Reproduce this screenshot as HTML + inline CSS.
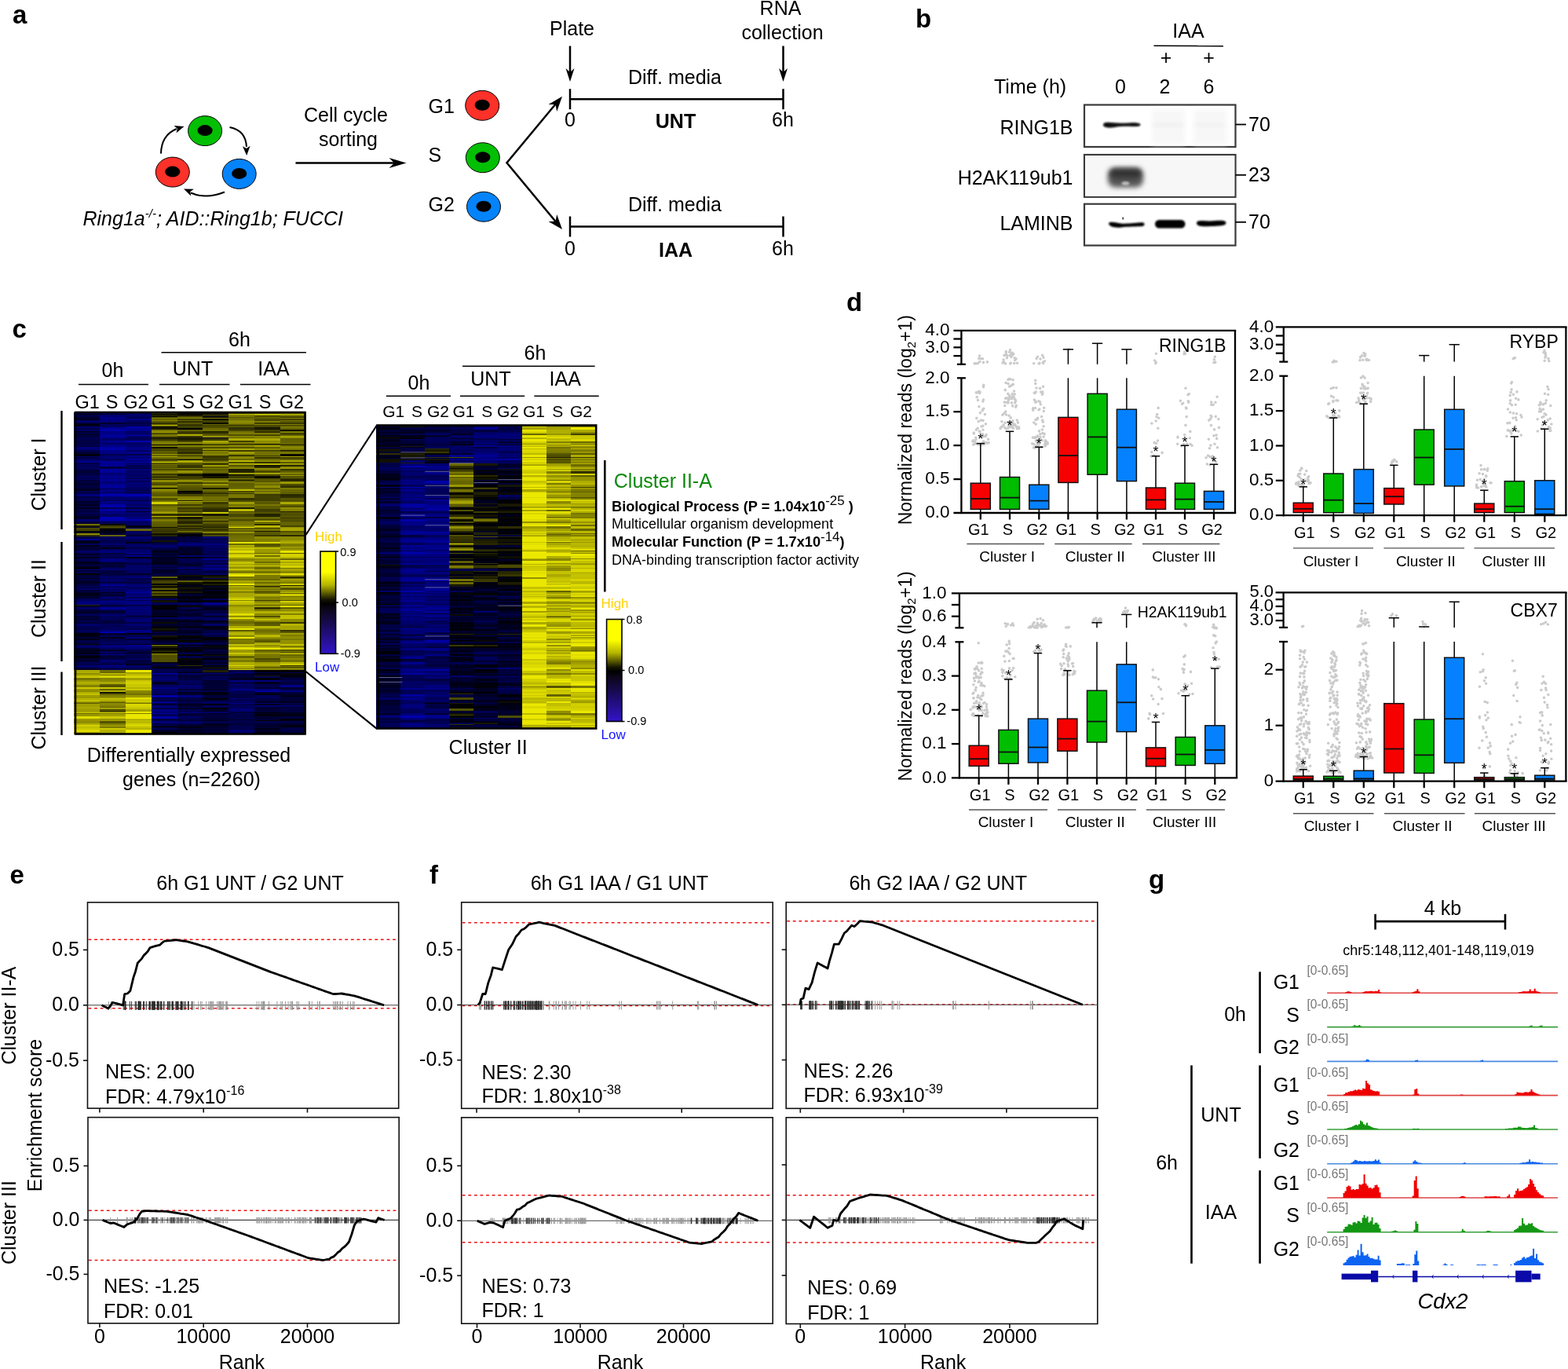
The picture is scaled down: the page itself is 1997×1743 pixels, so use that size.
<!DOCTYPE html>
<html><head><meta charset="utf-8"><title>Figure</title>
<style>
html,body{margin:0;padding:0;background:#fff;}
svg{display:block;}

</style></head><body>
<svg width="1997" height="1743" viewBox="0 0 1997 1743" font-family="'Liberation Sans', Arial, sans-serif" font-size="25">
<rect width="1997" height="1743" fill="#fff"/>
<defs>
<filter id="bl" x="-20%" y="-50%" width="140%" height="200%"><feGaussianBlur stdDeviation="1.3"/></filter>
<filter id="bl2" x="-30%" y="-50%" width="160%" height="200%"><feGaussianBlur stdDeviation="3"/></filter>
<linearGradient id="cb1" x1="0" y1="0" x2="0" y2="1"><stop offset="0" stop-color="#ffff00"/><stop offset="0.2" stop-color="#ffff00"/><stop offset="0.33" stop-color="#b4b400"/><stop offset="0.47" stop-color="#151500"/><stop offset="0.51" stop-color="#000"/><stop offset="0.56" stop-color="#0c0618"/><stop offset="1" stop-color="#3214c8"/></linearGradient>
<linearGradient id="cb2" x1="0" y1="0" x2="0" y2="1"><stop offset="0" stop-color="#ffff00"/><stop offset="0.2" stop-color="#ffff00"/><stop offset="0.33" stop-color="#b4b400"/><stop offset="0.47" stop-color="#151500"/><stop offset="0.51" stop-color="#000"/><stop offset="0.56" stop-color="#0c0618"/><stop offset="1" stop-color="#3214c8"/></linearGradient>
</defs>
<text x="16" y="29.5" font-size="33" font-weight="bold">a</text>
<ellipse cx="261.1" cy="166.6" rx="21.5" ry="19" fill="#03bf03" stroke="#000" stroke-width="1"/>
<ellipse cx="261.1" cy="166.1" rx="9.6" ry="7" fill="#000"/>
<ellipse cx="219.8" cy="219.1" rx="21.5" ry="19" fill="#fc3129" stroke="#000" stroke-width="1"/>
<ellipse cx="219.8" cy="218.6" rx="9.6" ry="7" fill="#000"/>
<ellipse cx="304.7" cy="221.4" rx="21.5" ry="19" fill="#0583fb" stroke="#000" stroke-width="1"/>
<ellipse cx="304.7" cy="220.9" rx="9.6" ry="7" fill="#000"/>
<path d="M205 195.5Q205.5 172 225 164" fill="none" stroke="#000" stroke-width="2"/>
<path d="M234.5 161L224.6 169.3L225.9 163.8L221.6 160.1Z" fill="#000"/>
<path d="M292.5 162Q313 166 314 187" fill="none" stroke="#000" stroke-width="2"/>
<path d="M314.2 198L309 186.2L313.9 189L318.6 185.8Z" fill="#000"/>
<path d="M286 244.5Q262 254 243 245.5" fill="none" stroke="#000" stroke-width="2"/>
<path d="M234 240.5L246.9 240.8L242.3 244L243.2 249.6Z" fill="#000"/>
<text x="105.5" y="287" font-style="italic">Ring1a<tspan font-size="15" dy="-10">-/-</tspan><tspan dy="10">; AID::Ring1b; FUCCI</tspan></text>
<line x1="376.5" y1="207.5" x2="505" y2="207.5" stroke="#000" stroke-width="2.5"/>
<path d="M517.5 207.5L495.5 214L502.1 207.5L495.5 201Z" fill="#000"/>
<text x="440.5" y="155" text-anchor="middle">Cell cycle</text>
<text x="443.5" y="186" text-anchor="middle">sorting</text>
<text x="545.5" y="143.5">G1</text>
<text x="545.5" y="206">S</text>
<text x="545.5" y="269">G2</text>
<ellipse cx="614.2" cy="134.3" rx="21.5" ry="19" fill="#fc3129" stroke="#000" stroke-width="1"/>
<ellipse cx="614.2" cy="133.8" rx="9.6" ry="7" fill="#000"/>
<ellipse cx="614.8" cy="200.7" rx="21.5" ry="19" fill="#03bf03" stroke="#000" stroke-width="1"/>
<ellipse cx="614.8" cy="200.2" rx="9.6" ry="7" fill="#000"/>
<ellipse cx="616" cy="263.2" rx="21.5" ry="19" fill="#0583fb" stroke="#000" stroke-width="1"/>
<ellipse cx="616" cy="262.7" rx="9.6" ry="7" fill="#000"/>
<path d="M713 126L645.5 207.3L713 288.5" fill="none" stroke="#000" stroke-width="2.5"/>
<path d="M716 122.8L709.2 141.9L707.5 133L698.5 132.9Z" fill="#000"/>
<path d="M716 292L698.5 281.9L707.5 281.8L709.2 272.9Z" fill="#000"/>
<line x1="726" y1="126.2" x2="997.5" y2="126.2" stroke="#000" stroke-width="2.5"/>
<line x1="726" y1="113.2" x2="726" y2="139.2" stroke="#000" stroke-width="2.5"/>
<line x1="997.5" y1="113.2" x2="997.5" y2="139.2" stroke="#000" stroke-width="2.5"/>
<text x="726" y="161" text-anchor="middle">0</text>
<text x="997" y="161" text-anchor="middle">6h</text>
<text x="860.5" y="163" text-anchor="middle" font-weight="bold">UNT</text>
<text x="859.5" y="106.5" text-anchor="middle">Diff. media</text>
<line x1="726" y1="288.5" x2="997.5" y2="288.5" stroke="#000" stroke-width="2.5"/>
<line x1="726" y1="275.5" x2="726" y2="301.5" stroke="#000" stroke-width="2.5"/>
<line x1="997.5" y1="275.5" x2="997.5" y2="301.5" stroke="#000" stroke-width="2.5"/>
<text x="726" y="325" text-anchor="middle">0</text>
<text x="997" y="325" text-anchor="middle">6h</text>
<text x="860.5" y="327" text-anchor="middle" font-weight="bold">IAA</text>
<text x="859.5" y="268.5" text-anchor="middle">Diff. media</text>
<text x="728.5" y="44.5" text-anchor="middle">Plate</text>
<line x1="726" y1="58.5" x2="726" y2="92" stroke="#000" stroke-width="2.5"/>
<path d="M726 104L720.5 87L726 92.1L731.5 87Z" fill="#000"/>
<text x="994" y="18.5" text-anchor="middle">RNA</text>
<text x="996.5" y="50" text-anchor="middle">collection</text>
<line x1="997.5" y1="58.5" x2="997.5" y2="92" stroke="#000" stroke-width="2.5"/>
<path d="M997.5 104L992 87L997.5 92.1L1003 87Z" fill="#000"/>
<text x="1166" y="35" font-size="33" font-weight="bold">b</text>
<text x="1513.5" y="48" text-anchor="middle">IAA</text>
<line x1="1469.5" y1="58.3" x2="1558" y2="58.6" stroke="#000" stroke-width="1.6"/>
<text x="1485" y="82" text-anchor="middle">+</text>
<text x="1539.5" y="82" text-anchor="middle">+</text>
<text x="1266" y="119">Time (h)</text>
<text x="1427" y="119" text-anchor="middle">0</text>
<text x="1483.5" y="119" text-anchor="middle">2</text>
<text x="1539.5" y="119" text-anchor="middle">6</text>
<rect x="1381" y="133.5" width="192.5" height="53.5" fill="#fff" stroke="#3a3a3a" stroke-width="2.2"/>
<rect x="1381" y="197" width="192.5" height="53.8" fill="#fff" stroke="#3a3a3a" stroke-width="2.2"/>
<rect x="1381" y="259.7" width="192.5" height="52.8" fill="#fff" stroke="#3a3a3a" stroke-width="2.2"/>
<path d="M1405 158.6C1406 155.2 1411 155.4 1418 156.3C1425 157.2 1433 156.6 1442 156.2C1449 156 1452.5 157 1452.5 158.7C1452.5 160.6 1449 161.2 1442 161C1433 160.6 1425 161 1418 162.2C1411 163.2 1404.5 162 1405 158.6Z" fill="#070707" filter="url(#bl)"/>
<rect x="1467" y="140" width="42" height="44" fill="#f7f7f7" filter="url(#bl2)"/>
<rect x="1520" y="140" width="42" height="44" fill="#f7f7f7" filter="url(#bl2)"/>
<rect x="1469" y="157" width="38" height="4" fill="#ececec" filter="url(#bl2)"/>
<rect x="1522" y="157" width="38" height="4" fill="#eeeeee" filter="url(#bl2)"/>
<rect x="1382.2" y="198.2" width="190" height="51.4" fill="#f7f7f7"/>
<rect x="1411" y="213.5" width="45" height="25" rx="9" fill="#575757" filter="url(#bl2)"/>
<rect x="1414" y="215.5" width="39" height="11" rx="5" fill="#333" filter="url(#bl2)"/>
<ellipse cx="1433.5" cy="233.5" rx="5" ry="2.5" fill="#bbb" filter="url(#bl)"/>
<path d="M1412 284C1414 281.5 1420 283.2 1428 284.5C1436 285.3 1448 283.2 1455 283.3C1458.5 283.5 1458.5 287.6 1455 288C1448 288.7 1436 288.4 1428 289.4C1420 290.2 1412 289 1412 284Z" fill="#050505" filter="url(#bl)"/>
<rect x="1471" y="279.9" width="38.5" height="10.5" rx="5.2" fill="#030303" opacity="1" filter="url(#bl)"/>
<path d="M1524 284C1524 280.5 1530 280.8 1540 281.5C1550 281 1561 279.5 1561.5 283.5C1562 288 1552 287.6 1542 288C1532 288.6 1524 288.5 1524 284Z" fill="#050505" filter="url(#bl)"/>
<rect x="1429.5" y="276.5" width="1.4" height="3" fill="#222"/>
<text x="1366.5" y="171" text-anchor="end">RING1B</text>
<text x="1366.5" y="235" text-anchor="end">H2AK119ub1</text>
<text x="1366.5" y="293" text-anchor="end">LAMINB</text>
<line x1="1573.5" y1="158.5" x2="1587" y2="158.5" stroke="#000" stroke-width="1.8"/>
<text x="1590" y="166.5">70</text>
<line x1="1573.5" y1="222.8" x2="1587" y2="222.8" stroke="#000" stroke-width="1.8"/>
<text x="1590" y="230.5">23</text>
<line x1="1573.5" y1="282.8" x2="1587" y2="282.8" stroke="#000" stroke-width="1.8"/>
<text x="1590" y="291">70</text>
<text x="15.5" y="429.5" font-size="33" font-weight="bold">c</text>
<text x="143.5" y="480" text-anchor="middle">0h</text>
<line x1="100" y1="489.5" x2="189" y2="489.5" stroke="#000" stroke-width="1.6"/>
<text x="245.5" y="477.5" text-anchor="middle">UNT</text>
<line x1="203" y1="489.5" x2="292.5" y2="489.5" stroke="#000" stroke-width="1.6"/>
<text x="348.5" y="477.5" text-anchor="middle">IAA</text>
<line x1="306" y1="489.5" x2="395.5" y2="489.5" stroke="#000" stroke-width="1.6"/>
<text x="305" y="441" text-anchor="middle">6h</text>
<line x1="205.5" y1="448.8" x2="390" y2="448.8" stroke="#000" stroke-width="1.6"/>
<text x="111.1" y="520" font-size="23.5" text-anchor="middle">G1</text>
<text x="142.6" y="520" font-size="23.5" text-anchor="middle">S</text>
<text x="173" y="520" font-size="23.5" text-anchor="middle">G2</text>
<text x="208.4" y="520" font-size="23.5" text-anchor="middle">G1</text>
<text x="240.1" y="520" font-size="23.5" text-anchor="middle">S</text>
<text x="269.5" y="520" font-size="23.5" text-anchor="middle">G2</text>
<text x="306.2" y="520" font-size="23.5" text-anchor="middle">G1</text>
<text x="337.5" y="520" font-size="23.5" text-anchor="middle">S</text>
<text x="371.4" y="520" font-size="23.5" text-anchor="middle">G2</text>
<g transform="matrix(33.4 0 0 1 94.3 0)" shape-rendering="crispEdges">
<rect y="525" width="1" height="2" fill="#00004c"/><rect y="527" width="1" height="2" fill="#000032"/><rect y="529" width="1" height="1" fill="#000051"/><rect y="530" width="1" height="1" fill="#000041"/><rect y="531" width="1" height="1" fill="#00002f"/><rect y="532" width="1" height="1" fill="#000037"/><rect y="533" width="1" height="2" fill="#00001f"/><rect y="535" width="1" height="1" fill="#00005f"/><rect y="536" width="1" height="2" fill="#000075"/><rect y="538" width="1" height="2" fill="#000035"/><rect y="540" width="1" height="1" fill="#010100"/><rect y="541" width="1" height="1" fill="#000024"/><rect y="542" width="1" height="1" fill="#000022"/><rect y="543" width="1" height="2" fill="#00006d"/><rect y="545" width="1" height="2" fill="#00004c"/><rect y="547" width="1" height="2" fill="#000064"/><rect y="549" width="1" height="2" fill="#000026"/><rect y="551" width="1" height="1" fill="#00006e"/><rect y="552" width="1" height="1" fill="#000020"/><rect y="553" width="1" height="2" fill="#000038"/><rect y="555" width="1" height="2" fill="#00003c"/><rect y="557" width="1" height="1" fill="#00004f"/><rect y="558" width="1" height="3" fill="#00004e"/><rect y="561" width="1" height="2" fill="#000041"/><rect y="563" width="1" height="2" fill="#000046"/><rect y="565" width="1" height="1" fill="#000049"/><rect y="566" width="1" height="1" fill="#000054"/><rect y="567" width="1" height="2" fill="#000041"/><rect y="569" width="1" height="2" fill="#00007c"/><rect y="571" width="1" height="2" fill="#000078"/><rect y="573" width="1" height="1" fill="#000046"/><rect y="574" width="1" height="1" fill="#000058"/><rect y="575" width="1" height="3" fill="#000037"/><rect y="578" width="1" height="2" fill="#000012"/><rect y="580" width="1" height="1" fill="#00000a"/><rect y="581" width="1" height="1" fill="#00007b"/><rect y="582" width="1" height="2" fill="#000038"/><rect y="584" width="1" height="1" fill="#000071"/><rect y="585" width="1" height="1" fill="#00005d"/><rect y="586" width="1" height="2" fill="#000076"/><rect y="588" width="1" height="1" fill="#0000a6"/><rect y="589" width="1" height="1" fill="#000036"/><rect y="590" width="1" height="2" fill="#000054"/><rect y="592" width="1" height="2" fill="#00005a"/><rect y="594" width="1" height="2" fill="#00005c"/><rect y="596" width="1" height="1" fill="#00006b"/><rect y="597" width="1" height="2" fill="#000045"/><rect y="599" width="1" height="3" fill="#000036"/><rect y="602" width="1" height="1" fill="#000047"/><rect y="603" width="1" height="1" fill="#000036"/><rect y="604" width="1" height="2" fill="#00004b"/><rect y="606" width="1" height="3" fill="#000059"/><rect y="609" width="1" height="1" fill="#000041"/><rect y="610" width="1" height="1" fill="#00006b"/><rect y="611" width="1" height="2" fill="#000036"/><rect y="613" width="1" height="1" fill="#000053"/><rect y="614" width="1" height="2" fill="#000032"/><rect y="616" width="1" height="2" fill="#000031"/><rect y="618" width="1" height="3" fill="#000040"/><rect y="621" width="1" height="1" fill="#000040"/><rect y="622" width="1" height="1" fill="#000025"/><rect y="623" width="1" height="2" fill="#00001d"/><rect y="625" width="1" height="2" fill="#000056"/><rect y="627" width="1" height="1" fill="#000033"/><rect y="628" width="1" height="1" fill="#000055"/><rect y="629" width="1" height="3" fill="#00007a"/><rect y="632" width="1" height="2" fill="#000041"/><rect y="634" width="1" height="3" fill="#000054"/><rect y="637" width="1" height="1" fill="#00005d"/><rect y="638" width="1" height="1" fill="#00000b"/><rect y="639" width="1" height="3" fill="#00003a"/><rect y="642" width="1" height="2" fill="#000021"/><rect y="644" width="1" height="2" fill="#000044"/><rect y="646" width="1" height="2" fill="#00001b"/><rect y="648" width="1" height="3" fill="#000046"/><rect y="651" width="1" height="1" fill="#00003b"/><rect y="652" width="1" height="2" fill="#000051"/><rect y="654" width="1" height="3" fill="#000041"/><rect y="657" width="1" height="1" fill="#00002c"/><rect y="658" width="1" height="3" fill="#00002b"/><rect y="661" width="1" height="2" fill="#000069"/><rect y="663" width="1" height="1" fill="#000069"/><rect y="664" width="1" height="3" fill="#000039"/><rect y="667" width="1" height="2" fill="#727000"/><rect y="669" width="1" height="2" fill="#171700"/><rect y="671" width="1" height="1" fill="#000034"/><rect y="672" width="1" height="1" fill="#4e4d00"/><rect y="673" width="1" height="3" fill="#434200"/><rect y="676" width="1" height="1" fill="#000015"/><rect y="677" width="1" height="2" fill="#000018"/><rect y="679" width="1" height="2" fill="#8d8b00"/><rect y="681" width="1" height="2" fill="#2e2e00"/><rect y="683" width="1" height="3" fill="#00004a"/><rect y="686" width="1" height="2" fill="#00008b"/><rect y="688" width="1" height="2" fill="#000020"/><rect y="690" width="1" height="2" fill="#00001f"/><rect y="692" width="1" height="2" fill="#00005c"/><rect y="694" width="1" height="2" fill="#00001b"/><rect y="696" width="1" height="1" fill="#000037"/><rect y="697" width="1" height="2" fill="#000034"/><rect y="699" width="1" height="2" fill="#00003d"/><rect y="701" width="1" height="3" fill="#000066"/><rect y="704" width="1" height="1" fill="#000045"/><rect y="705" width="1" height="2" fill="#000025"/><rect y="707" width="1" height="2" fill="#00004d"/><rect y="709" width="1" height="2" fill="#00001c"/><rect y="711" width="1" height="2" fill="#000050"/><rect y="713" width="1" height="2" fill="#00004d"/><rect y="715" width="1" height="2" fill="#000019"/><rect y="717" width="1" height="2" fill="#000029"/><rect y="719" width="1" height="1" fill="#000041"/><rect y="720" width="1" height="1" fill="#000046"/><rect y="721" width="1" height="2" fill="#000015"/><rect y="723" width="1" height="2" fill="#000017"/><rect y="725" width="1" height="1" fill="#000087"/><rect y="726" width="1" height="1" fill="#000015"/><rect y="727" width="1" height="3" fill="#000053"/><rect y="730" width="1" height="2" fill="#030300"/><rect y="732" width="1" height="2" fill="#000039"/><rect y="734" width="1" height="2" fill="#000045"/><rect y="736" width="1" height="1" fill="#00001d"/><rect y="737" width="1" height="2" fill="#000042"/><rect y="739" width="1" height="2" fill="#000030"/><rect y="741" width="1" height="2" fill="#000023"/><rect y="743" width="1" height="2" fill="#000040"/><rect y="745" width="1" height="1" fill="#00003c"/><rect y="746" width="1" height="2" fill="#000059"/><rect y="748" width="1" height="1" fill="#000034"/><rect y="749" width="1" height="2" fill="#00006d"/><rect y="751" width="1" height="1" fill="#00002a"/><rect y="752" width="1" height="1" fill="#000050"/><rect y="753" width="1" height="2" fill="#00002f"/><rect y="755" width="1" height="1" fill="#00001b"/><rect y="756" width="1" height="3" fill="#00001b"/><rect y="759" width="1" height="1" fill="#000034"/><rect y="760" width="1" height="2" fill="#00002b"/><rect y="762" width="1" height="2" fill="#00005a"/><rect y="764" width="1" height="1" fill="#00005b"/><rect y="765" width="1" height="2" fill="#000076"/><rect y="767" width="1" height="3" fill="#00007c"/><rect y="770" width="1" height="1" fill="#282800"/><rect y="771" width="1" height="2" fill="#000026"/><rect y="773" width="1" height="3" fill="#000063"/><rect y="776" width="1" height="1" fill="#000030"/><rect y="777" width="1" height="1" fill="#000041"/><rect y="778" width="1" height="3" fill="#000027"/><rect y="781" width="1" height="2" fill="#000050"/><rect y="783" width="1" height="1" fill="#000061"/><rect y="784" width="1" height="2" fill="#000032"/><rect y="786" width="1" height="2" fill="#00003c"/><rect y="788" width="1" height="2" fill="#000032"/><rect y="790" width="1" height="2" fill="#000054"/><rect y="792" width="1" height="2" fill="#000032"/><rect y="794" width="1" height="3" fill="#00006b"/><rect y="797" width="1" height="3" fill="#000051"/><rect y="800" width="1" height="2" fill="#000047"/><rect y="802" width="1" height="2" fill="#000063"/><rect y="804" width="1" height="2" fill="#00004a"/><rect y="806" width="1" height="2" fill="#00000b"/><rect y="808" width="1" height="1" fill="#000014"/><rect y="809" width="1" height="2" fill="#000010"/><rect y="811" width="1" height="2" fill="#00003e"/><rect y="813" width="1" height="2" fill="#00001a"/><rect y="815" width="1" height="3" fill="#000048"/><rect y="818" width="1" height="2" fill="#000045"/><rect y="820" width="1" height="1" fill="#0b0b00"/><rect y="821" width="1" height="2" fill="#00005c"/><rect y="823" width="1" height="1" fill="#000077"/><rect y="824" width="1" height="1" fill="#00005b"/><rect y="825" width="1" height="2" fill="#000030"/><rect y="827" width="1" height="2" fill="#000020"/><rect y="829" width="1" height="1" fill="#00001b"/><rect y="830" width="1" height="2" fill="#000020"/><rect y="832" width="1" height="1" fill="#00000a"/><rect y="833" width="1" height="1" fill="#00005f"/><rect y="834" width="1" height="1" fill="#00001c"/><rect y="835" width="1" height="3" fill="#00000b"/><rect y="838" width="1" height="2" fill="#000032"/><rect y="840" width="1" height="3" fill="#000030"/><rect y="843" width="1" height="2" fill="#000058"/><rect y="845" width="1" height="2" fill="#000049"/><rect y="847" width="1" height="1" fill="#00006d"/><rect y="848" width="1" height="1" fill="#000073"/><rect y="849" width="1" height="1" fill="#000055"/><rect y="850" width="1" height="1" fill="#00004e"/><rect y="851" width="1" height="1" fill="#000025"/><rect y="852" width="1" height="1" fill="#00002e"/><rect y="853" width="1" height="3" fill="#acaa00"/><rect y="856" width="1" height="1" fill="#b2b000"/><rect y="857" width="1" height="2" fill="#8e8c00"/><rect y="859" width="1" height="1" fill="#b5b300"/><rect y="860" width="1" height="1" fill="#acaa00"/><rect y="861" width="1" height="2" fill="#cdcb00"/><rect y="863" width="1" height="3" fill="#777600"/><rect y="866" width="1" height="2" fill="#9b9900"/><rect y="868" width="1" height="3" fill="#b0ae00"/><rect y="871" width="1" height="1" fill="#a5a300"/><rect y="872" width="1" height="3" fill="#848200"/><rect y="875" width="1" height="2" fill="#cecb00"/><rect y="877" width="1" height="2" fill="#989600"/><rect y="879" width="1" height="2" fill="#8c8a00"/><rect y="881" width="1" height="2" fill="#b3b000"/><rect y="883" width="1" height="2" fill="#c4c200"/><rect y="885" width="1" height="3" fill="#9d9b00"/><rect y="888" width="1" height="1" fill="#999700"/><rect y="889" width="1" height="2" fill="#b7b500"/><rect y="891" width="1" height="1" fill="#b2af00"/><rect y="892" width="1" height="1" fill="#dcd900"/><rect y="893" width="1" height="2" fill="#8e8c00"/><rect y="895" width="1" height="1" fill="#5a5800"/><rect y="896" width="1" height="2" fill="#a19f00"/><rect y="898" width="1" height="2" fill="#a09e00"/><rect y="900" width="1" height="1" fill="#aeab00"/><rect y="901" width="1" height="2" fill="#a6a300"/><rect y="903" width="1" height="3" fill="#9e9c00"/><rect y="906" width="1" height="1" fill="#aaa800"/><rect y="907" width="1" height="1" fill="#c7c500"/><rect y="908" width="1" height="1" fill="#6e6d00"/><rect y="909" width="1" height="3" fill="#989600"/><rect y="912" width="1" height="3" fill="#e1de00"/><rect y="915" width="1" height="1" fill="#9b9900"/><rect y="916" width="1" height="1" fill="#a19e00"/><rect y="917" width="1" height="1" fill="#8f8d00"/><rect y="918" width="1" height="3" fill="#908e00"/><rect y="921" width="1" height="2" fill="#b1af00"/><rect y="923" width="1" height="1" fill="#d8d500"/><rect y="924" width="1" height="1" fill="#cdca00"/><rect y="925" width="1" height="2" fill="#c1bf00"/><rect y="927" width="1" height="2" fill="#cac800"/><rect y="929" width="1" height="3" fill="#dedb00"/><rect y="932" width="1" height="2" fill="#a3a100"/><rect y="934" width="1" height="0.5" fill="#c4c100"/>
</g>
<g transform="matrix(33.4 0 0 1 127.1 0)" shape-rendering="crispEdges">
<rect y="525" width="1" height="2" fill="#000056"/><rect y="527" width="1" height="2" fill="#00004e"/><rect y="529" width="1" height="1" fill="#000092"/><rect y="530" width="1" height="1" fill="#00005c"/><rect y="531" width="1" height="1" fill="#00008e"/><rect y="532" width="1" height="1" fill="#000087"/><rect y="533" width="1" height="2" fill="#000081"/><rect y="535" width="1" height="1" fill="#000079"/><rect y="536" width="1" height="2" fill="#00007a"/><rect y="538" width="1" height="2" fill="#00002d"/><rect y="540" width="1" height="1" fill="#00005c"/><rect y="541" width="1" height="1" fill="#000063"/><rect y="542" width="1" height="1" fill="#00004b"/><rect y="543" width="1" height="2" fill="#000074"/><rect y="545" width="1" height="2" fill="#0000a0"/><rect y="547" width="1" height="2" fill="#0000a8"/><rect y="549" width="1" height="2" fill="#00007a"/><rect y="551" width="1" height="1" fill="#000094"/><rect y="552" width="1" height="1" fill="#000070"/><rect y="553" width="1" height="2" fill="#000097"/><rect y="555" width="1" height="2" fill="#00009b"/><rect y="557" width="1" height="1" fill="#000080"/><rect y="558" width="1" height="3" fill="#000065"/><rect y="561" width="1" height="2" fill="#00008e"/><rect y="563" width="1" height="2" fill="#00006c"/><rect y="565" width="1" height="1" fill="#000065"/><rect y="566" width="1" height="1" fill="#00008a"/><rect y="567" width="1" height="2" fill="#000081"/><rect y="569" width="1" height="2" fill="#0000a1"/><rect y="571" width="1" height="2" fill="#0000a7"/><rect y="573" width="1" height="1" fill="#000088"/><rect y="574" width="1" height="1" fill="#000084"/><rect y="575" width="1" height="3" fill="#000080"/><rect y="578" width="1" height="2" fill="#00004d"/><rect y="580" width="1" height="1" fill="#000072"/><rect y="581" width="1" height="1" fill="#00006f"/><rect y="582" width="1" height="2" fill="#000078"/><rect y="584" width="1" height="1" fill="#000055"/><rect y="585" width="1" height="1" fill="#00005a"/><rect y="586" width="1" height="2" fill="#00007b"/><rect y="588" width="1" height="1" fill="#0000af"/><rect y="589" width="1" height="1" fill="#00008f"/><rect y="590" width="1" height="2" fill="#00008d"/><rect y="592" width="1" height="2" fill="#000093"/><rect y="594" width="1" height="2" fill="#00003d"/><rect y="596" width="1" height="1" fill="#000051"/><rect y="597" width="1" height="2" fill="#00009a"/><rect y="599" width="1" height="3" fill="#000099"/><rect y="602" width="1" height="1" fill="#000073"/><rect y="603" width="1" height="1" fill="#000062"/><rect y="604" width="1" height="2" fill="#000083"/><rect y="606" width="1" height="3" fill="#00008b"/><rect y="609" width="1" height="1" fill="#00007d"/><rect y="610" width="1" height="1" fill="#00008f"/><rect y="611" width="1" height="2" fill="#000090"/><rect y="613" width="1" height="1" fill="#000069"/><rect y="614" width="1" height="2" fill="#000074"/><rect y="616" width="1" height="2" fill="#000090"/><rect y="618" width="1" height="3" fill="#00009b"/><rect y="621" width="1" height="1" fill="#00007b"/><rect y="622" width="1" height="1" fill="#00005a"/><rect y="623" width="1" height="2" fill="#000082"/><rect y="625" width="1" height="2" fill="#00007a"/><rect y="627" width="1" height="1" fill="#00005c"/><rect y="628" width="1" height="1" fill="#000092"/><rect y="629" width="1" height="3" fill="#0000aa"/><rect y="632" width="1" height="2" fill="#00006e"/><rect y="634" width="1" height="3" fill="#000068"/><rect y="637" width="1" height="1" fill="#000053"/><rect y="638" width="1" height="1" fill="#000095"/><rect y="639" width="1" height="3" fill="#00007b"/><rect y="642" width="1" height="2" fill="#0000a8"/><rect y="644" width="1" height="2" fill="#0000a9"/><rect y="646" width="1" height="2" fill="#000052"/><rect y="648" width="1" height="3" fill="#0000a3"/><rect y="651" width="1" height="1" fill="#00006d"/><rect y="652" width="1" height="2" fill="#000085"/><rect y="654" width="1" height="3" fill="#000063"/><rect y="657" width="1" height="1" fill="#00005f"/><rect y="658" width="1" height="3" fill="#0000af"/><rect y="661" width="1" height="2" fill="#0000af"/><rect y="663" width="1" height="1" fill="#000080"/><rect y="664" width="1" height="3" fill="#00005a"/><rect y="667" width="1" height="2" fill="#0c0c00"/><rect y="669" width="1" height="2" fill="#3e3e00"/><rect y="671" width="1" height="1" fill="#525100"/><rect y="672" width="1" height="1" fill="#2f2e00"/><rect y="673" width="1" height="3" fill="#000006"/><rect y="676" width="1" height="1" fill="#00001b"/><rect y="677" width="1" height="2" fill="#00001a"/><rect y="679" width="1" height="2" fill="#000032"/><rect y="681" width="1" height="2" fill="#656400"/><rect y="683" width="1" height="3" fill="#000059"/><rect y="686" width="1" height="2" fill="#000054"/><rect y="688" width="1" height="2" fill="#00004e"/><rect y="690" width="1" height="2" fill="#000055"/><rect y="692" width="1" height="2" fill="#000073"/><rect y="694" width="1" height="2" fill="#000045"/><rect y="696" width="1" height="1" fill="#00004f"/><rect y="697" width="1" height="2" fill="#000019"/><rect y="699" width="1" height="2" fill="#000060"/><rect y="701" width="1" height="3" fill="#00007b"/><rect y="704" width="1" height="1" fill="#000034"/><rect y="705" width="1" height="2" fill="#000052"/><rect y="707" width="1" height="2" fill="#00004f"/><rect y="709" width="1" height="2" fill="#00004d"/><rect y="711" width="1" height="2" fill="#00007d"/><rect y="713" width="1" height="2" fill="#000083"/><rect y="715" width="1" height="2" fill="#00004a"/><rect y="717" width="1" height="2" fill="#000027"/><rect y="719" width="1" height="1" fill="#00005d"/><rect y="720" width="1" height="1" fill="#00001d"/><rect y="721" width="1" height="2" fill="#000043"/><rect y="723" width="1" height="2" fill="#000061"/><rect y="725" width="1" height="1" fill="#000071"/><rect y="726" width="1" height="1" fill="#00003e"/><rect y="727" width="1" height="3" fill="#00003d"/><rect y="730" width="1" height="2" fill="#000042"/><rect y="732" width="1" height="2" fill="#00004c"/><rect y="734" width="1" height="2" fill="#000073"/><rect y="736" width="1" height="1" fill="#000041"/><rect y="737" width="1" height="2" fill="#00006c"/><rect y="739" width="1" height="2" fill="#00005d"/><rect y="741" width="1" height="2" fill="#000041"/><rect y="743" width="1" height="2" fill="#00007e"/><rect y="745" width="1" height="1" fill="#000098"/><rect y="746" width="1" height="2" fill="#00005d"/><rect y="748" width="1" height="1" fill="#000072"/><rect y="749" width="1" height="2" fill="#00006c"/><rect y="751" width="1" height="1" fill="#00003c"/><rect y="752" width="1" height="1" fill="#000090"/><rect y="753" width="1" height="2" fill="#000031"/><rect y="755" width="1" height="1" fill="#000049"/><rect y="756" width="1" height="3" fill="#000037"/><rect y="759" width="1" height="1" fill="#00004b"/><rect y="760" width="1" height="2" fill="#000075"/><rect y="762" width="1" height="2" fill="#000052"/><rect y="764" width="1" height="1" fill="#000068"/><rect y="765" width="1" height="2" fill="#000080"/><rect y="767" width="1" height="3" fill="#000073"/><rect y="770" width="1" height="1" fill="#00002b"/><rect y="771" width="1" height="2" fill="#000053"/><rect y="773" width="1" height="3" fill="#000091"/><rect y="776" width="1" height="1" fill="#000059"/><rect y="777" width="1" height="1" fill="#000041"/><rect y="778" width="1" height="3" fill="#000033"/><rect y="781" width="1" height="2" fill="#000061"/><rect y="783" width="1" height="1" fill="#000079"/><rect y="784" width="1" height="2" fill="#000059"/><rect y="786" width="1" height="2" fill="#000055"/><rect y="788" width="1" height="2" fill="#000056"/><rect y="790" width="1" height="2" fill="#00003b"/><rect y="792" width="1" height="2" fill="#00003f"/><rect y="794" width="1" height="3" fill="#00005a"/><rect y="797" width="1" height="3" fill="#000059"/><rect y="800" width="1" height="2" fill="#000060"/><rect y="802" width="1" height="2" fill="#00006d"/><rect y="804" width="1" height="2" fill="#0000af"/><rect y="806" width="1" height="2" fill="#00002b"/><rect y="808" width="1" height="1" fill="#000035"/><rect y="809" width="1" height="2" fill="#000058"/><rect y="811" width="1" height="2" fill="#00001c"/><rect y="813" width="1" height="2" fill="#00004c"/><rect y="815" width="1" height="3" fill="#000052"/><rect y="818" width="1" height="2" fill="#000068"/><rect y="820" width="1" height="1" fill="#00002e"/><rect y="821" width="1" height="2" fill="#000078"/><rect y="823" width="1" height="1" fill="#000093"/><rect y="824" width="1" height="1" fill="#000065"/><rect y="825" width="1" height="2" fill="#00005d"/><rect y="827" width="1" height="2" fill="#000026"/><rect y="829" width="1" height="1" fill="#000053"/><rect y="830" width="1" height="2" fill="#00005f"/><rect y="832" width="1" height="1" fill="#000036"/><rect y="833" width="1" height="1" fill="#00008e"/><rect y="834" width="1" height="1" fill="#000042"/><rect y="835" width="1" height="3" fill="#000035"/><rect y="838" width="1" height="2" fill="#000043"/><rect y="840" width="1" height="3" fill="#00006f"/><rect y="843" width="1" height="2" fill="#00004f"/><rect y="845" width="1" height="2" fill="#000048"/><rect y="847" width="1" height="1" fill="#000094"/><rect y="848" width="1" height="1" fill="#000069"/><rect y="849" width="1" height="1" fill="#000086"/><rect y="850" width="1" height="1" fill="#000051"/><rect y="851" width="1" height="1" fill="#000033"/><rect y="852" width="1" height="1" fill="#00005d"/><rect y="853" width="1" height="3" fill="#717000"/><rect y="856" width="1" height="1" fill="#636200"/><rect y="857" width="1" height="2" fill="#bcb900"/><rect y="859" width="1" height="1" fill="#737100"/><rect y="860" width="1" height="1" fill="#d4d100"/><rect y="861" width="1" height="2" fill="#d5d200"/><rect y="863" width="1" height="3" fill="#848300"/><rect y="866" width="1" height="2" fill="#8b8900"/><rect y="868" width="1" height="3" fill="#aca900"/><rect y="871" width="1" height="1" fill="#646300"/><rect y="872" width="1" height="3" fill="#545300"/><rect y="875" width="1" height="2" fill="#cac700"/><rect y="877" width="1" height="2" fill="#626100"/><rect y="879" width="1" height="2" fill="#b0ad00"/><rect y="881" width="1" height="2" fill="#141400"/><rect y="883" width="1" height="2" fill="#636200"/><rect y="885" width="1" height="3" fill="#868400"/><rect y="888" width="1" height="1" fill="#9d9b00"/><rect y="889" width="1" height="2" fill="#c4c200"/><rect y="891" width="1" height="1" fill="#9a9800"/><rect y="892" width="1" height="1" fill="#ccca00"/><rect y="893" width="1" height="2" fill="#6b6900"/><rect y="895" width="1" height="1" fill="#888600"/><rect y="896" width="1" height="2" fill="#8b8900"/><rect y="898" width="1" height="2" fill="#807e00"/><rect y="900" width="1" height="1" fill="#6e6c00"/><rect y="901" width="1" height="2" fill="#a4a200"/><rect y="903" width="1" height="3" fill="#4b4a00"/><rect y="906" width="1" height="1" fill="#5a5900"/><rect y="907" width="1" height="1" fill="#e1de00"/><rect y="908" width="1" height="1" fill="#747300"/><rect y="909" width="1" height="3" fill="#a3a000"/><rect y="912" width="1" height="3" fill="#ccc900"/><rect y="915" width="1" height="1" fill="#969400"/><rect y="916" width="1" height="1" fill="#989600"/><rect y="917" width="1" height="1" fill="#a09e00"/><rect y="918" width="1" height="3" fill="#535200"/><rect y="921" width="1" height="2" fill="#807e00"/><rect y="923" width="1" height="1" fill="#939100"/><rect y="924" width="1" height="1" fill="#a19f00"/><rect y="925" width="1" height="2" fill="#7c7b00"/><rect y="927" width="1" height="2" fill="#cecb00"/><rect y="929" width="1" height="3" fill="#b1ae00"/><rect y="932" width="1" height="2" fill="#aeac00"/><rect y="934" width="1" height="0.5" fill="#b5b300"/>
</g>
<g transform="matrix(33.4 0 0 1 160 0)" shape-rendering="crispEdges">
<rect y="525" width="1" height="2" fill="#000059"/><rect y="527" width="1" height="2" fill="#000064"/><rect y="529" width="1" height="1" fill="#000077"/><rect y="530" width="1" height="1" fill="#00005d"/><rect y="531" width="1" height="1" fill="#000055"/><rect y="532" width="1" height="1" fill="#000050"/><rect y="533" width="1" height="2" fill="#000088"/><rect y="535" width="1" height="1" fill="#00005d"/><rect y="536" width="1" height="2" fill="#00005b"/><rect y="538" width="1" height="2" fill="#000046"/><rect y="540" width="1" height="1" fill="#000057"/><rect y="541" width="1" height="1" fill="#000056"/><rect y="542" width="1" height="1" fill="#000056"/><rect y="543" width="1" height="2" fill="#0000a6"/><rect y="545" width="1" height="2" fill="#000092"/><rect y="547" width="1" height="2" fill="#00008a"/><rect y="549" width="1" height="2" fill="#000065"/><rect y="551" width="1" height="1" fill="#00007b"/><rect y="552" width="1" height="1" fill="#000052"/><rect y="553" width="1" height="2" fill="#000093"/><rect y="555" width="1" height="2" fill="#000066"/><rect y="557" width="1" height="1" fill="#000053"/><rect y="558" width="1" height="3" fill="#000058"/><rect y="561" width="1" height="2" fill="#0000ad"/><rect y="563" width="1" height="2" fill="#00006f"/><rect y="565" width="1" height="1" fill="#000053"/><rect y="566" width="1" height="1" fill="#000076"/><rect y="567" width="1" height="2" fill="#00006e"/><rect y="569" width="1" height="2" fill="#000081"/><rect y="571" width="1" height="2" fill="#000088"/><rect y="573" width="1" height="1" fill="#000060"/><rect y="574" width="1" height="1" fill="#000062"/><rect y="575" width="1" height="3" fill="#000089"/><rect y="578" width="1" height="2" fill="#000041"/><rect y="580" width="1" height="1" fill="#00009e"/><rect y="581" width="1" height="1" fill="#000071"/><rect y="582" width="1" height="2" fill="#000077"/><rect y="584" width="1" height="1" fill="#000093"/><rect y="585" width="1" height="1" fill="#00008f"/><rect y="586" width="1" height="2" fill="#000079"/><rect y="588" width="1" height="1" fill="#0000af"/><rect y="589" width="1" height="1" fill="#00005c"/><rect y="590" width="1" height="2" fill="#000079"/><rect y="592" width="1" height="2" fill="#00004c"/><rect y="594" width="1" height="2" fill="#00005c"/><rect y="596" width="1" height="1" fill="#00003b"/><rect y="597" width="1" height="2" fill="#000078"/><rect y="599" width="1" height="3" fill="#000063"/><rect y="602" width="1" height="1" fill="#000070"/><rect y="603" width="1" height="1" fill="#000073"/><rect y="604" width="1" height="2" fill="#00005f"/><rect y="606" width="1" height="3" fill="#000067"/><rect y="609" width="1" height="1" fill="#000042"/><rect y="610" width="1" height="1" fill="#00008d"/><rect y="611" width="1" height="2" fill="#000064"/><rect y="613" width="1" height="1" fill="#000056"/><rect y="614" width="1" height="2" fill="#000075"/><rect y="616" width="1" height="2" fill="#000073"/><rect y="618" width="1" height="3" fill="#00006d"/><rect y="621" width="1" height="1" fill="#00005e"/><rect y="622" width="1" height="1" fill="#000067"/><rect y="623" width="1" height="2" fill="#000050"/><rect y="625" width="1" height="2" fill="#000065"/><rect y="627" width="1" height="1" fill="#000039"/><rect y="628" width="1" height="1" fill="#00007d"/><rect y="629" width="1" height="3" fill="#0000af"/><rect y="632" width="1" height="2" fill="#00007c"/><rect y="634" width="1" height="3" fill="#000069"/><rect y="637" width="1" height="1" fill="#00003f"/><rect y="638" width="1" height="1" fill="#000075"/><rect y="639" width="1" height="3" fill="#000076"/><rect y="642" width="1" height="2" fill="#000063"/><rect y="644" width="1" height="2" fill="#000077"/><rect y="646" width="1" height="2" fill="#000040"/><rect y="648" width="1" height="3" fill="#00007b"/><rect y="651" width="1" height="1" fill="#00002a"/><rect y="652" width="1" height="2" fill="#000073"/><rect y="654" width="1" height="3" fill="#000065"/><rect y="657" width="1" height="1" fill="#00006c"/><rect y="658" width="1" height="3" fill="#00007a"/><rect y="661" width="1" height="2" fill="#0000af"/><rect y="663" width="1" height="1" fill="#000067"/><rect y="664" width="1" height="3" fill="#000062"/><rect y="667" width="1" height="2" fill="#000063"/><rect y="669" width="1" height="2" fill="#000013"/><rect y="671" width="1" height="1" fill="#00000f"/><rect y="672" width="1" height="1" fill="#000077"/><rect y="673" width="1" height="3" fill="#676500"/><rect y="676" width="1" height="1" fill="#000052"/><rect y="677" width="1" height="2" fill="#000066"/><rect y="679" width="1" height="2" fill="#00004f"/><rect y="681" width="1" height="2" fill="#000032"/><rect y="683" width="1" height="3" fill="#000074"/><rect y="686" width="1" height="2" fill="#00005c"/><rect y="688" width="1" height="2" fill="#00004a"/><rect y="690" width="1" height="2" fill="#000017"/><rect y="692" width="1" height="2" fill="#000061"/><rect y="694" width="1" height="2" fill="#000069"/><rect y="696" width="1" height="1" fill="#00004f"/><rect y="697" width="1" height="2" fill="#00004e"/><rect y="699" width="1" height="2" fill="#000067"/><rect y="701" width="1" height="3" fill="#000070"/><rect y="704" width="1" height="1" fill="#00008d"/><rect y="705" width="1" height="2" fill="#000050"/><rect y="707" width="1" height="2" fill="#000087"/><rect y="709" width="1" height="2" fill="#000017"/><rect y="711" width="1" height="2" fill="#000060"/><rect y="713" width="1" height="2" fill="#00006e"/><rect y="715" width="1" height="2" fill="#00005b"/><rect y="717" width="1" height="2" fill="#000046"/><rect y="719" width="1" height="1" fill="#00005a"/><rect y="720" width="1" height="1" fill="#000065"/><rect y="721" width="1" height="2" fill="#000068"/><rect y="723" width="1" height="2" fill="#000069"/><rect y="725" width="1" height="1" fill="#000065"/><rect y="726" width="1" height="1" fill="#000064"/><rect y="727" width="1" height="3" fill="#00005f"/><rect y="730" width="1" height="2" fill="#00002a"/><rect y="732" width="1" height="2" fill="#00005b"/><rect y="734" width="1" height="2" fill="#00007c"/><rect y="736" width="1" height="1" fill="#000044"/><rect y="737" width="1" height="2" fill="#000050"/><rect y="739" width="1" height="2" fill="#000053"/><rect y="741" width="1" height="2" fill="#00003f"/><rect y="743" width="1" height="2" fill="#00006b"/><rect y="745" width="1" height="1" fill="#000079"/><rect y="746" width="1" height="2" fill="#000070"/><rect y="748" width="1" height="1" fill="#000047"/><rect y="749" width="1" height="2" fill="#00006f"/><rect y="751" width="1" height="1" fill="#00007b"/><rect y="752" width="1" height="1" fill="#000077"/><rect y="753" width="1" height="2" fill="#000090"/><rect y="755" width="1" height="1" fill="#00007d"/><rect y="756" width="1" height="3" fill="#00006f"/><rect y="759" width="1" height="1" fill="#00007c"/><rect y="760" width="1" height="2" fill="#000051"/><rect y="762" width="1" height="2" fill="#00008a"/><rect y="764" width="1" height="1" fill="#00004c"/><rect y="765" width="1" height="2" fill="#000081"/><rect y="767" width="1" height="3" fill="#000080"/><rect y="770" width="1" height="1" fill="#00003c"/><rect y="771" width="1" height="2" fill="#000065"/><rect y="773" width="1" height="3" fill="#00007b"/><rect y="776" width="1" height="1" fill="#000061"/><rect y="777" width="1" height="1" fill="#000084"/><rect y="778" width="1" height="3" fill="#00006d"/><rect y="781" width="1" height="2" fill="#000071"/><rect y="783" width="1" height="1" fill="#000053"/><rect y="784" width="1" height="2" fill="#000045"/><rect y="786" width="1" height="2" fill="#000061"/><rect y="788" width="1" height="2" fill="#000075"/><rect y="790" width="1" height="2" fill="#000073"/><rect y="792" width="1" height="2" fill="#000048"/><rect y="794" width="1" height="3" fill="#000070"/><rect y="797" width="1" height="3" fill="#00005a"/><rect y="800" width="1" height="2" fill="#00004e"/><rect y="802" width="1" height="2" fill="#00008c"/><rect y="804" width="1" height="2" fill="#00007c"/><rect y="806" width="1" height="2" fill="#00000f"/><rect y="808" width="1" height="1" fill="#000058"/><rect y="809" width="1" height="2" fill="#000049"/><rect y="811" width="1" height="2" fill="#00007c"/><rect y="813" width="1" height="2" fill="#000035"/><rect y="815" width="1" height="3" fill="#00005d"/><rect y="818" width="1" height="2" fill="#000059"/><rect y="820" width="1" height="1" fill="#000025"/><rect y="821" width="1" height="2" fill="#00008b"/><rect y="823" width="1" height="1" fill="#000079"/><rect y="824" width="1" height="1" fill="#000080"/><rect y="825" width="1" height="2" fill="#00006d"/><rect y="827" width="1" height="2" fill="#000049"/><rect y="829" width="1" height="1" fill="#00003f"/><rect y="830" width="1" height="2" fill="#00002e"/><rect y="832" width="1" height="1" fill="#00003a"/><rect y="833" width="1" height="1" fill="#00005e"/><rect y="834" width="1" height="1" fill="#000041"/><rect y="835" width="1" height="3" fill="#000046"/><rect y="838" width="1" height="2" fill="#000061"/><rect y="840" width="1" height="3" fill="#00003d"/><rect y="843" width="1" height="2" fill="#000046"/><rect y="845" width="1" height="2" fill="#000020"/><rect y="847" width="1" height="1" fill="#000070"/><rect y="848" width="1" height="1" fill="#000071"/><rect y="849" width="1" height="1" fill="#000060"/><rect y="850" width="1" height="1" fill="#000057"/><rect y="851" width="1" height="1" fill="#000043"/><rect y="852" width="1" height="1" fill="#00004b"/><rect y="853" width="1" height="3" fill="#ebe800"/><rect y="856" width="1" height="1" fill="#999700"/><rect y="857" width="1" height="2" fill="#b3b000"/><rect y="859" width="1" height="1" fill="#cfcc00"/><rect y="860" width="1" height="1" fill="#c4c100"/><rect y="861" width="1" height="2" fill="#ddda00"/><rect y="863" width="1" height="3" fill="#a3a000"/><rect y="866" width="1" height="2" fill="#cac800"/><rect y="868" width="1" height="3" fill="#d4d200"/><rect y="871" width="1" height="1" fill="#c9c600"/><rect y="872" width="1" height="3" fill="#cac800"/><rect y="875" width="1" height="2" fill="#b6b400"/><rect y="877" width="1" height="2" fill="#cac700"/><rect y="879" width="1" height="2" fill="#8a8800"/><rect y="881" width="1" height="2" fill="#828000"/><rect y="883" width="1" height="2" fill="#727100"/><rect y="885" width="1" height="3" fill="#9a9800"/><rect y="888" width="1" height="1" fill="#dcd900"/><rect y="889" width="1" height="2" fill="#dedb00"/><rect y="891" width="1" height="1" fill="#b0ae00"/><rect y="892" width="1" height="1" fill="#ebe800"/><rect y="893" width="1" height="2" fill="#b8b600"/><rect y="895" width="1" height="1" fill="#6a6900"/><rect y="896" width="1" height="2" fill="#d9d600"/><rect y="898" width="1" height="2" fill="#d7d400"/><rect y="900" width="1" height="1" fill="#ccca00"/><rect y="901" width="1" height="2" fill="#c7c500"/><rect y="903" width="1" height="3" fill="#a6a400"/><rect y="906" width="1" height="1" fill="#eae700"/><rect y="907" width="1" height="1" fill="#ebe800"/><rect y="908" width="1" height="1" fill="#7d7b00"/><rect y="909" width="1" height="3" fill="#ebe800"/><rect y="912" width="1" height="3" fill="#ebe800"/><rect y="915" width="1" height="1" fill="#cac800"/><rect y="916" width="1" height="1" fill="#a3a100"/><rect y="917" width="1" height="1" fill="#c5c300"/><rect y="918" width="1" height="3" fill="#bab800"/><rect y="921" width="1" height="2" fill="#d2d000"/><rect y="923" width="1" height="1" fill="#dcd900"/><rect y="924" width="1" height="1" fill="#d4d100"/><rect y="925" width="1" height="2" fill="#c2bf00"/><rect y="927" width="1" height="2" fill="#b4b200"/><rect y="929" width="1" height="3" fill="#ebe800"/><rect y="932" width="1" height="2" fill="#ebe800"/><rect y="934" width="1" height="0.5" fill="#d4d100"/>
</g>
<g transform="matrix(33.4 0 0 1 192.8 0)" shape-rendering="crispEdges">
<rect y="525" width="1" height="2" fill="#2d2d00"/><rect y="527" width="1" height="2" fill="#151500"/><rect y="529" width="1" height="1" fill="#2e2d00"/><rect y="530" width="1" height="1" fill="#040400"/><rect y="531" width="1" height="1" fill="#565500"/><rect y="532" width="1" height="1" fill="#7a7800"/><rect y="533" width="1" height="2" fill="#646300"/><rect y="535" width="1" height="1" fill="#838100"/><rect y="536" width="1" height="2" fill="#595700"/><rect y="538" width="1" height="2" fill="#353400"/><rect y="540" width="1" height="1" fill="#5b5a00"/><rect y="541" width="1" height="1" fill="#b3b000"/><rect y="542" width="1" height="1" fill="#656400"/><rect y="543" width="1" height="2" fill="#121100"/><rect y="545" width="1" height="2" fill="#1a1a00"/><rect y="547" width="1" height="2" fill="#787600"/><rect y="549" width="1" height="2" fill="#939100"/><rect y="551" width="1" height="1" fill="#565500"/><rect y="552" width="1" height="1" fill="#3e3d00"/><rect y="553" width="1" height="2" fill="#7f7d00"/><rect y="555" width="1" height="2" fill="#5a5900"/><rect y="557" width="1" height="1" fill="#000009"/><rect y="558" width="1" height="3" fill="#343300"/><rect y="561" width="1" height="2" fill="#6f6d00"/><rect y="563" width="1" height="2" fill="#817f00"/><rect y="565" width="1" height="1" fill="#777500"/><rect y="566" width="1" height="1" fill="#090900"/><rect y="567" width="1" height="2" fill="#7c7a00"/><rect y="569" width="1" height="2" fill="#101000"/><rect y="571" width="1" height="2" fill="#4b4a00"/><rect y="573" width="1" height="1" fill="#383700"/><rect y="574" width="1" height="1" fill="#666500"/><rect y="575" width="1" height="3" fill="#5b5900"/><rect y="578" width="1" height="2" fill="#868400"/><rect y="580" width="1" height="1" fill="#3d3c00"/><rect y="581" width="1" height="1" fill="#c1be00"/><rect y="582" width="1" height="2" fill="#616000"/><rect y="584" width="1" height="1" fill="#626100"/><rect y="585" width="1" height="1" fill="#272700"/><rect y="586" width="1" height="2" fill="#6b6900"/><rect y="588" width="1" height="1" fill="#e0de00"/><rect y="589" width="1" height="1" fill="#464600"/><rect y="590" width="1" height="2" fill="#605f00"/><rect y="592" width="1" height="2" fill="#5e5d00"/><rect y="594" width="1" height="2" fill="#595800"/><rect y="596" width="1" height="1" fill="#6f6d00"/><rect y="597" width="1" height="2" fill="#4b4b00"/><rect y="599" width="1" height="3" fill="#7b7900"/><rect y="602" width="1" height="1" fill="#949200"/><rect y="603" width="1" height="1" fill="#1b1a00"/><rect y="604" width="1" height="2" fill="#504f00"/><rect y="606" width="1" height="3" fill="#3b3a00"/><rect y="609" width="1" height="1" fill="#6a6900"/><rect y="610" width="1" height="1" fill="#272700"/><rect y="611" width="1" height="2" fill="#929000"/><rect y="613" width="1" height="1" fill="#888600"/><rect y="614" width="1" height="2" fill="#535200"/><rect y="616" width="1" height="2" fill="#4d4c00"/><rect y="618" width="1" height="3" fill="#888700"/><rect y="621" width="1" height="1" fill="#000001"/><rect y="622" width="1" height="1" fill="#5a5900"/><rect y="623" width="1" height="2" fill="#8d8b00"/><rect y="625" width="1" height="2" fill="#767500"/><rect y="627" width="1" height="1" fill="#5c5b00"/><rect y="628" width="1" height="1" fill="#5f5e00"/><rect y="629" width="1" height="3" fill="#595800"/><rect y="632" width="1" height="2" fill="#878600"/><rect y="634" width="1" height="3" fill="#515000"/><rect y="637" width="1" height="1" fill="#6e6d00"/><rect y="638" width="1" height="1" fill="#797800"/><rect y="639" width="1" height="3" fill="#d3d000"/><rect y="642" width="1" height="2" fill="#555400"/><rect y="644" width="1" height="2" fill="#6d6c00"/><rect y="646" width="1" height="2" fill="#7a7900"/><rect y="648" width="1" height="3" fill="#757300"/><rect y="651" width="1" height="1" fill="#8e8c00"/><rect y="652" width="1" height="2" fill="#a19f00"/><rect y="654" width="1" height="3" fill="#313000"/><rect y="657" width="1" height="1" fill="#bebb00"/><rect y="658" width="1" height="3" fill="#494800"/><rect y="661" width="1" height="2" fill="#7e7d00"/><rect y="663" width="1" height="1" fill="#797700"/><rect y="664" width="1" height="3" fill="#605f00"/><rect y="667" width="1" height="2" fill="#5b5900"/><rect y="669" width="1" height="2" fill="#5b5a00"/><rect y="671" width="1" height="1" fill="#101000"/><rect y="672" width="1" height="1" fill="#424100"/><rect y="673" width="1" height="3" fill="#3a3900"/><rect y="676" width="1" height="1" fill="#2d2d00"/><rect y="677" width="1" height="2" fill="#3d3c00"/><rect y="679" width="1" height="2" fill="#121200"/><rect y="681" width="1" height="2" fill="#242400"/><rect y="683" width="1" height="3" fill="#000038"/><rect y="686" width="1" height="2" fill="#000038"/><rect y="688" width="1" height="2" fill="#131300"/><rect y="690" width="1" height="2" fill="#000038"/><rect y="692" width="1" height="2" fill="#000050"/><rect y="694" width="1" height="2" fill="#00006b"/><rect y="696" width="1" height="1" fill="#00006f"/><rect y="697" width="1" height="2" fill="#000053"/><rect y="699" width="1" height="2" fill="#000034"/><rect y="701" width="1" height="3" fill="#00001c"/><rect y="704" width="1" height="1" fill="#00003d"/><rect y="705" width="1" height="2" fill="#000026"/><rect y="707" width="1" height="2" fill="#00003f"/><rect y="709" width="1" height="2" fill="#000020"/><rect y="711" width="1" height="2" fill="#000026"/><rect y="713" width="1" height="2" fill="#000026"/><rect y="715" width="1" height="2" fill="#00001a"/><rect y="717" width="1" height="2" fill="#00001e"/><rect y="719" width="1" height="1" fill="#000048"/><rect y="720" width="1" height="1" fill="#000056"/><rect y="721" width="1" height="2" fill="#00003d"/><rect y="723" width="1" height="2" fill="#000049"/><rect y="725" width="1" height="1" fill="#00002f"/><rect y="726" width="1" height="1" fill="#00001b"/><rect y="727" width="1" height="3" fill="#00002a"/><rect y="730" width="1" height="2" fill="#000047"/><rect y="732" width="1" height="2" fill="#000031"/><rect y="734" width="1" height="2" fill="#626100"/><rect y="736" width="1" height="1" fill="#000015"/><rect y="737" width="1" height="2" fill="#1d1c00"/><rect y="739" width="1" height="2" fill="#434200"/><rect y="741" width="1" height="2" fill="#434300"/><rect y="743" width="1" height="2" fill="#00000a"/><rect y="745" width="1" height="1" fill="#424100"/><rect y="746" width="1" height="2" fill="#0e0e00"/><rect y="748" width="1" height="1" fill="#262500"/><rect y="749" width="1" height="2" fill="#626000"/><rect y="751" width="1" height="1" fill="#00000c"/><rect y="752" width="1" height="1" fill="#171600"/><rect y="753" width="1" height="2" fill="#5e5d00"/><rect y="755" width="1" height="1" fill="#212000"/><rect y="756" width="1" height="3" fill="#464500"/><rect y="759" width="1" height="1" fill="#000005"/><rect y="760" width="1" height="2" fill="#0e0d00"/><rect y="762" width="1" height="2" fill="#00005e"/><rect y="764" width="1" height="1" fill="#0e0d00"/><rect y="765" width="1" height="2" fill="#121200"/><rect y="767" width="1" height="3" fill="#000053"/><rect y="770" width="1" height="1" fill="#000024"/><rect y="771" width="1" height="2" fill="#010100"/><rect y="773" width="1" height="3" fill="#000005"/><rect y="776" width="1" height="1" fill="#00001e"/><rect y="777" width="1" height="1" fill="#000036"/><rect y="778" width="1" height="3" fill="#00002b"/><rect y="781" width="1" height="2" fill="#00001c"/><rect y="783" width="1" height="1" fill="#00002e"/><rect y="784" width="1" height="2" fill="#000009"/><rect y="786" width="1" height="2" fill="#00006c"/><rect y="788" width="1" height="2" fill="#000020"/><rect y="790" width="1" height="2" fill="#000022"/><rect y="792" width="1" height="2" fill="#0b0b00"/><rect y="794" width="1" height="3" fill="#00002c"/><rect y="797" width="1" height="3" fill="#000010"/><rect y="800" width="1" height="2" fill="#171700"/><rect y="802" width="1" height="2" fill="#070700"/><rect y="804" width="1" height="2" fill="#000046"/><rect y="806" width="1" height="2" fill="#000028"/><rect y="808" width="1" height="1" fill="#000047"/><rect y="809" width="1" height="2" fill="#131300"/><rect y="811" width="1" height="2" fill="#060600"/><rect y="813" width="1" height="2" fill="#000008"/><rect y="815" width="1" height="3" fill="#000029"/><rect y="818" width="1" height="2" fill="#00004a"/><rect y="820" width="1" height="1" fill="#000019"/><rect y="821" width="1" height="2" fill="#5f5e00"/><rect y="823" width="1" height="1" fill="#000001"/><rect y="824" width="1" height="1" fill="#292800"/><rect y="825" width="1" height="2" fill="#000000"/><rect y="827" width="1" height="2" fill="#131300"/><rect y="829" width="1" height="1" fill="#343300"/><rect y="830" width="1" height="2" fill="#0a0a00"/><rect y="832" width="1" height="1" fill="#818000"/><rect y="833" width="1" height="1" fill="#636100"/><rect y="834" width="1" height="1" fill="#545300"/><rect y="835" width="1" height="3" fill="#504f00"/><rect y="838" width="1" height="2" fill="#535200"/><rect y="840" width="1" height="3" fill="#504f00"/><rect y="843" width="1" height="2" fill="#00001b"/><rect y="845" width="1" height="2" fill="#000048"/><rect y="847" width="1" height="1" fill="#000023"/><rect y="848" width="1" height="1" fill="#00003c"/><rect y="849" width="1" height="1" fill="#070700"/><rect y="850" width="1" height="1" fill="#010100"/><rect y="851" width="1" height="1" fill="#00004d"/><rect y="852" width="1" height="1" fill="#000043"/><rect y="853" width="1" height="3" fill="#00004f"/><rect y="856" width="1" height="1" fill="#000049"/><rect y="857" width="1" height="2" fill="#000092"/><rect y="859" width="1" height="1" fill="#00003c"/><rect y="860" width="1" height="1" fill="#00006a"/><rect y="861" width="1" height="2" fill="#000062"/><rect y="863" width="1" height="3" fill="#000072"/><rect y="866" width="1" height="2" fill="#000060"/><rect y="868" width="1" height="3" fill="#000027"/><rect y="871" width="1" height="1" fill="#000038"/><rect y="872" width="1" height="3" fill="#000062"/><rect y="875" width="1" height="2" fill="#000086"/><rect y="877" width="1" height="2" fill="#000062"/><rect y="879" width="1" height="2" fill="#000064"/><rect y="881" width="1" height="2" fill="#00005f"/><rect y="883" width="1" height="2" fill="#000042"/><rect y="885" width="1" height="3" fill="#0000af"/><rect y="888" width="1" height="1" fill="#000022"/><rect y="889" width="1" height="2" fill="#000057"/><rect y="891" width="1" height="1" fill="#000053"/><rect y="892" width="1" height="1" fill="#000034"/><rect y="893" width="1" height="2" fill="#000090"/><rect y="895" width="1" height="1" fill="#00005c"/><rect y="896" width="1" height="2" fill="#00002e"/><rect y="898" width="1" height="2" fill="#000073"/><rect y="900" width="1" height="1" fill="#000081"/><rect y="901" width="1" height="2" fill="#000047"/><rect y="903" width="1" height="3" fill="#00007f"/><rect y="906" width="1" height="1" fill="#000074"/><rect y="907" width="1" height="1" fill="#000068"/><rect y="908" width="1" height="1" fill="#00009b"/><rect y="909" width="1" height="3" fill="#000057"/><rect y="912" width="1" height="3" fill="#0000a2"/><rect y="915" width="1" height="1" fill="#000048"/><rect y="916" width="1" height="1" fill="#000036"/><rect y="917" width="1" height="1" fill="#000045"/><rect y="918" width="1" height="3" fill="#000079"/><rect y="921" width="1" height="2" fill="#00003e"/><rect y="923" width="1" height="1" fill="#000067"/><rect y="924" width="1" height="1" fill="#000010"/><rect y="925" width="1" height="2" fill="#00002a"/><rect y="927" width="1" height="2" fill="#000055"/><rect y="929" width="1" height="3" fill="#000026"/><rect y="932" width="1" height="2" fill="#000002"/><rect y="934" width="1" height="0.5" fill="#00004a"/>
</g>
<g transform="matrix(33.4 0 0 1 225.6 0)" shape-rendering="crispEdges">
<rect y="525" width="1" height="2" fill="#000008"/><rect y="527" width="1" height="2" fill="#0b0b00"/><rect y="529" width="1" height="1" fill="#262500"/><rect y="530" width="1" height="1" fill="#4a4900"/><rect y="531" width="1" height="1" fill="#676500"/><rect y="532" width="1" height="1" fill="#828100"/><rect y="533" width="1" height="2" fill="#3b3a00"/><rect y="535" width="1" height="1" fill="#6a6900"/><rect y="536" width="1" height="2" fill="#2e2e00"/><rect y="538" width="1" height="2" fill="#555400"/><rect y="540" width="1" height="1" fill="#3d3c00"/><rect y="541" width="1" height="1" fill="#252400"/><rect y="542" width="1" height="1" fill="#4b4a00"/><rect y="543" width="1" height="2" fill="#3e3d00"/><rect y="545" width="1" height="2" fill="#000005"/><rect y="547" width="1" height="2" fill="#605f00"/><rect y="549" width="1" height="2" fill="#403f00"/><rect y="551" width="1" height="1" fill="#252400"/><rect y="552" width="1" height="1" fill="#646200"/><rect y="553" width="1" height="2" fill="#a8a500"/><rect y="555" width="1" height="2" fill="#363600"/><rect y="557" width="1" height="1" fill="#141400"/><rect y="558" width="1" height="3" fill="#1e1e00"/><rect y="561" width="1" height="2" fill="#494800"/><rect y="563" width="1" height="2" fill="#8d8b00"/><rect y="565" width="1" height="1" fill="#313100"/><rect y="566" width="1" height="1" fill="#303000"/><rect y="567" width="1" height="2" fill="#828000"/><rect y="569" width="1" height="2" fill="#4f4e00"/><rect y="571" width="1" height="2" fill="#3b3a00"/><rect y="573" width="1" height="1" fill="#393800"/><rect y="574" width="1" height="1" fill="#4c4b00"/><rect y="575" width="1" height="3" fill="#2e2d00"/><rect y="578" width="1" height="2" fill="#6e6c00"/><rect y="580" width="1" height="1" fill="#2f2e00"/><rect y="581" width="1" height="1" fill="#838100"/><rect y="582" width="1" height="2" fill="#747200"/><rect y="584" width="1" height="1" fill="#575600"/><rect y="585" width="1" height="1" fill="#00000a"/><rect y="586" width="1" height="2" fill="#aeac00"/><rect y="588" width="1" height="1" fill="#a8a500"/><rect y="589" width="1" height="1" fill="#646300"/><rect y="590" width="1" height="2" fill="#585700"/><rect y="592" width="1" height="2" fill="#383700"/><rect y="594" width="1" height="2" fill="#343400"/><rect y="596" width="1" height="1" fill="#888600"/><rect y="597" width="1" height="2" fill="#424100"/><rect y="599" width="1" height="3" fill="#959300"/><rect y="602" width="1" height="1" fill="#717000"/><rect y="603" width="1" height="1" fill="#2c2c00"/><rect y="604" width="1" height="2" fill="#151400"/><rect y="606" width="1" height="3" fill="#3c3b00"/><rect y="609" width="1" height="1" fill="#464500"/><rect y="610" width="1" height="1" fill="#5e5d00"/><rect y="611" width="1" height="2" fill="#949200"/><rect y="613" width="1" height="1" fill="#7b7900"/><rect y="614" width="1" height="2" fill="#3c3c00"/><rect y="616" width="1" height="2" fill="#737200"/><rect y="618" width="1" height="3" fill="#5b5a00"/><rect y="621" width="1" height="1" fill="#4c4b00"/><rect y="622" width="1" height="1" fill="#575600"/><rect y="623" width="1" height="2" fill="#4a4900"/><rect y="625" width="1" height="2" fill="#000005"/><rect y="627" width="1" height="1" fill="#1a1a00"/><rect y="628" width="1" height="1" fill="#121100"/><rect y="629" width="1" height="3" fill="#4a4900"/><rect y="632" width="1" height="2" fill="#828000"/><rect y="634" width="1" height="3" fill="#898800"/><rect y="637" width="1" height="1" fill="#161600"/><rect y="638" width="1" height="1" fill="#b2b000"/><rect y="639" width="1" height="3" fill="#787600"/><rect y="642" width="1" height="2" fill="#414000"/><rect y="644" width="1" height="2" fill="#6b6a00"/><rect y="646" width="1" height="2" fill="#3d3c00"/><rect y="648" width="1" height="3" fill="#4d4c00"/><rect y="651" width="1" height="1" fill="#3e3d00"/><rect y="652" width="1" height="2" fill="#7d7c00"/><rect y="654" width="1" height="3" fill="#272600"/><rect y="657" width="1" height="1" fill="#b6b400"/><rect y="658" width="1" height="3" fill="#141400"/><rect y="661" width="1" height="2" fill="#454400"/><rect y="663" width="1" height="1" fill="#2f2e00"/><rect y="664" width="1" height="3" fill="#242400"/><rect y="667" width="1" height="2" fill="#565500"/><rect y="669" width="1" height="2" fill="#282700"/><rect y="671" width="1" height="1" fill="#595800"/><rect y="672" width="1" height="1" fill="#212100"/><rect y="673" width="1" height="3" fill="#3b3a00"/><rect y="676" width="1" height="1" fill="#858300"/><rect y="677" width="1" height="2" fill="#403f00"/><rect y="679" width="1" height="2" fill="#000012"/><rect y="681" width="1" height="2" fill="#000007"/><rect y="683" width="1" height="3" fill="#00003b"/><rect y="686" width="1" height="2" fill="#000047"/><rect y="688" width="1" height="2" fill="#00003d"/><rect y="690" width="1" height="2" fill="#00005f"/><rect y="692" width="1" height="2" fill="#000080"/><rect y="694" width="1" height="2" fill="#00005b"/><rect y="696" width="1" height="1" fill="#000038"/><rect y="697" width="1" height="2" fill="#00002c"/><rect y="699" width="1" height="2" fill="#000026"/><rect y="701" width="1" height="3" fill="#00002b"/><rect y="704" width="1" height="1" fill="#000024"/><rect y="705" width="1" height="2" fill="#00001b"/><rect y="707" width="1" height="2" fill="#000072"/><rect y="709" width="1" height="2" fill="#000004"/><rect y="711" width="1" height="2" fill="#000053"/><rect y="713" width="1" height="2" fill="#000052"/><rect y="715" width="1" height="2" fill="#000048"/><rect y="717" width="1" height="2" fill="#000031"/><rect y="719" width="1" height="1" fill="#00002c"/><rect y="720" width="1" height="1" fill="#00002e"/><rect y="721" width="1" height="2" fill="#00005c"/><rect y="723" width="1" height="2" fill="#000069"/><rect y="725" width="1" height="1" fill="#00001f"/><rect y="726" width="1" height="1" fill="#000068"/><rect y="727" width="1" height="3" fill="#00004c"/><rect y="730" width="1" height="2" fill="#00003f"/><rect y="732" width="1" height="2" fill="#0e0e00"/><rect y="734" width="1" height="2" fill="#00000d"/><rect y="736" width="1" height="1" fill="#00002a"/><rect y="737" width="1" height="2" fill="#000014"/><rect y="739" width="1" height="2" fill="#5f5d00"/><rect y="741" width="1" height="2" fill="#151500"/><rect y="743" width="1" height="2" fill="#070700"/><rect y="745" width="1" height="1" fill="#000024"/><rect y="746" width="1" height="2" fill="#00000e"/><rect y="748" width="1" height="1" fill="#201f00"/><rect y="749" width="1" height="2" fill="#0a0a00"/><rect y="751" width="1" height="1" fill="#000024"/><rect y="752" width="1" height="1" fill="#030200"/><rect y="753" width="1" height="2" fill="#161500"/><rect y="755" width="1" height="1" fill="#00000e"/><rect y="756" width="1" height="3" fill="#000033"/><rect y="759" width="1" height="1" fill="#00000a"/><rect y="760" width="1" height="2" fill="#000002"/><rect y="762" width="1" height="2" fill="#000025"/><rect y="764" width="1" height="1" fill="#00001b"/><rect y="765" width="1" height="2" fill="#000006"/><rect y="767" width="1" height="3" fill="#000062"/><rect y="770" width="1" height="1" fill="#000036"/><rect y="771" width="1" height="2" fill="#060600"/><rect y="773" width="1" height="3" fill="#00004d"/><rect y="776" width="1" height="1" fill="#000016"/><rect y="777" width="1" height="1" fill="#000033"/><rect y="778" width="1" height="3" fill="#00003e"/><rect y="781" width="1" height="2" fill="#00002b"/><rect y="783" width="1" height="1" fill="#000020"/><rect y="784" width="1" height="2" fill="#00003f"/><rect y="786" width="1" height="2" fill="#000064"/><rect y="788" width="1" height="2" fill="#00003f"/><rect y="790" width="1" height="2" fill="#000010"/><rect y="792" width="1" height="2" fill="#000032"/><rect y="794" width="1" height="3" fill="#00002f"/><rect y="797" width="1" height="3" fill="#00001a"/><rect y="800" width="1" height="2" fill="#000041"/><rect y="802" width="1" height="2" fill="#00002a"/><rect y="804" width="1" height="2" fill="#00001f"/><rect y="806" width="1" height="2" fill="#000038"/><rect y="808" width="1" height="1" fill="#000041"/><rect y="809" width="1" height="2" fill="#050500"/><rect y="811" width="1" height="2" fill="#000007"/><rect y="813" width="1" height="2" fill="#000024"/><rect y="815" width="1" height="3" fill="#050500"/><rect y="818" width="1" height="2" fill="#000061"/><rect y="820" width="1" height="1" fill="#00004c"/><rect y="821" width="1" height="2" fill="#000024"/><rect y="823" width="1" height="1" fill="#000050"/><rect y="824" width="1" height="1" fill="#020200"/><rect y="825" width="1" height="2" fill="#00001c"/><rect y="827" width="1" height="2" fill="#040400"/><rect y="829" width="1" height="1" fill="#000019"/><rect y="830" width="1" height="2" fill="#000036"/><rect y="832" width="1" height="1" fill="#00005c"/><rect y="833" width="1" height="1" fill="#070700"/><rect y="834" width="1" height="1" fill="#000007"/><rect y="835" width="1" height="3" fill="#00004d"/><rect y="838" width="1" height="2" fill="#080800"/><rect y="840" width="1" height="3" fill="#00000d"/><rect y="843" width="1" height="2" fill="#00000c"/><rect y="845" width="1" height="2" fill="#00000b"/><rect y="847" width="1" height="1" fill="#2e2d00"/><rect y="848" width="1" height="1" fill="#00002e"/><rect y="849" width="1" height="1" fill="#000015"/><rect y="850" width="1" height="1" fill="#00000b"/><rect y="851" width="1" height="1" fill="#000038"/><rect y="852" width="1" height="1" fill="#000053"/><rect y="853" width="1" height="3" fill="#00003a"/><rect y="856" width="1" height="1" fill="#000015"/><rect y="857" width="1" height="2" fill="#00006d"/><rect y="859" width="1" height="1" fill="#000032"/><rect y="860" width="1" height="1" fill="#000043"/><rect y="861" width="1" height="2" fill="#000035"/><rect y="863" width="1" height="3" fill="#000041"/><rect y="866" width="1" height="2" fill="#00005a"/><rect y="868" width="1" height="3" fill="#000059"/><rect y="871" width="1" height="1" fill="#000040"/><rect y="872" width="1" height="3" fill="#00006f"/><rect y="875" width="1" height="2" fill="#000068"/><rect y="877" width="1" height="2" fill="#000039"/><rect y="879" width="1" height="2" fill="#00005d"/><rect y="881" width="1" height="2" fill="#00001f"/><rect y="883" width="1" height="2" fill="#00002d"/><rect y="885" width="1" height="3" fill="#00007f"/><rect y="888" width="1" height="1" fill="#000043"/><rect y="889" width="1" height="2" fill="#00003f"/><rect y="891" width="1" height="1" fill="#000049"/><rect y="892" width="1" height="1" fill="#000038"/><rect y="893" width="1" height="2" fill="#00004d"/><rect y="895" width="1" height="1" fill="#000048"/><rect y="896" width="1" height="2" fill="#000026"/><rect y="898" width="1" height="2" fill="#00002c"/><rect y="900" width="1" height="1" fill="#000055"/><rect y="901" width="1" height="2" fill="#000028"/><rect y="903" width="1" height="3" fill="#000052"/><rect y="906" width="1" height="1" fill="#000057"/><rect y="907" width="1" height="1" fill="#00007b"/><rect y="908" width="1" height="1" fill="#000035"/><rect y="909" width="1" height="3" fill="#00003a"/><rect y="912" width="1" height="3" fill="#000060"/><rect y="915" width="1" height="1" fill="#000031"/><rect y="916" width="1" height="1" fill="#000057"/><rect y="917" width="1" height="1" fill="#000026"/><rect y="918" width="1" height="3" fill="#00006b"/><rect y="921" width="1" height="2" fill="#000050"/><rect y="923" width="1" height="1" fill="#000017"/><rect y="924" width="1" height="1" fill="#00002e"/><rect y="925" width="1" height="2" fill="#000015"/><rect y="927" width="1" height="2" fill="#000031"/><rect y="929" width="1" height="3" fill="#000021"/><rect y="932" width="1" height="2" fill="#000030"/><rect y="934" width="1" height="0.5" fill="#000042"/>
</g>
<g transform="matrix(33.4 0 0 1 258.4 0)" shape-rendering="crispEdges">
<rect y="525" width="1" height="2" fill="#00000a"/><rect y="527" width="1" height="2" fill="#272700"/><rect y="529" width="1" height="1" fill="#343300"/><rect y="530" width="1" height="1" fill="#00001d"/><rect y="531" width="1" height="1" fill="#191800"/><rect y="532" width="1" height="1" fill="#7f7e00"/><rect y="533" width="1" height="2" fill="#040400"/><rect y="535" width="1" height="1" fill="#414100"/><rect y="536" width="1" height="2" fill="#414000"/><rect y="538" width="1" height="2" fill="#0e0e00"/><rect y="540" width="1" height="1" fill="#646200"/><rect y="541" width="1" height="1" fill="#464500"/><rect y="542" width="1" height="1" fill="#444300"/><rect y="543" width="1" height="2" fill="#4f4e00"/><rect y="545" width="1" height="2" fill="#6c6a00"/><rect y="547" width="1" height="2" fill="#706f00"/><rect y="549" width="1" height="2" fill="#212100"/><rect y="551" width="1" height="1" fill="#464500"/><rect y="552" width="1" height="1" fill="#383700"/><rect y="553" width="1" height="2" fill="#616000"/><rect y="555" width="1" height="2" fill="#969400"/><rect y="557" width="1" height="1" fill="#00002d"/><rect y="558" width="1" height="3" fill="#363600"/><rect y="561" width="1" height="2" fill="#a8a600"/><rect y="563" width="1" height="2" fill="#999700"/><rect y="565" width="1" height="1" fill="#545300"/><rect y="566" width="1" height="1" fill="#393800"/><rect y="567" width="1" height="2" fill="#898700"/><rect y="569" width="1" height="2" fill="#4c4b00"/><rect y="571" width="1" height="2" fill="#939100"/><rect y="573" width="1" height="1" fill="#383800"/><rect y="574" width="1" height="1" fill="#878500"/><rect y="575" width="1" height="3" fill="#7b7a00"/><rect y="578" width="1" height="2" fill="#868400"/><rect y="580" width="1" height="1" fill="#363500"/><rect y="581" width="1" height="1" fill="#383800"/><rect y="582" width="1" height="2" fill="#393900"/><rect y="584" width="1" height="1" fill="#4c4b00"/><rect y="585" width="1" height="1" fill="#2b2b00"/><rect y="586" width="1" height="2" fill="#5f5e00"/><rect y="588" width="1" height="1" fill="#a5a200"/><rect y="589" width="1" height="1" fill="#5e5d00"/><rect y="590" width="1" height="2" fill="#363500"/><rect y="592" width="1" height="2" fill="#9c9a00"/><rect y="594" width="1" height="2" fill="#585700"/><rect y="596" width="1" height="1" fill="#7b7a00"/><rect y="597" width="1" height="2" fill="#5d5c00"/><rect y="599" width="1" height="3" fill="#696800"/><rect y="602" width="1" height="1" fill="#474600"/><rect y="603" width="1" height="1" fill="#0b0b00"/><rect y="604" width="1" height="2" fill="#000000"/><rect y="606" width="1" height="3" fill="#161600"/><rect y="609" width="1" height="1" fill="#747300"/><rect y="610" width="1" height="1" fill="#605f00"/><rect y="611" width="1" height="2" fill="#7f7e00"/><rect y="613" width="1" height="1" fill="#a4a200"/><rect y="614" width="1" height="2" fill="#4d4c00"/><rect y="616" width="1" height="2" fill="#9a9800"/><rect y="618" width="1" height="3" fill="#6a6900"/><rect y="621" width="1" height="1" fill="#1b1b00"/><rect y="622" width="1" height="1" fill="#1d1d00"/><rect y="623" width="1" height="2" fill="#6a6900"/><rect y="625" width="1" height="2" fill="#5c5a00"/><rect y="627" width="1" height="1" fill="#383700"/><rect y="628" width="1" height="1" fill="#363500"/><rect y="629" width="1" height="3" fill="#575500"/><rect y="632" width="1" height="2" fill="#706e00"/><rect y="634" width="1" height="3" fill="#717000"/><rect y="637" width="1" height="1" fill="#605e00"/><rect y="638" width="1" height="1" fill="#939100"/><rect y="639" width="1" height="3" fill="#3a3900"/><rect y="642" width="1" height="2" fill="#545300"/><rect y="644" width="1" height="2" fill="#515000"/><rect y="646" width="1" height="2" fill="#383800"/><rect y="648" width="1" height="3" fill="#2a2900"/><rect y="651" width="1" height="1" fill="#393800"/><rect y="652" width="1" height="2" fill="#c6c400"/><rect y="654" width="1" height="3" fill="#181800"/><rect y="657" width="1" height="1" fill="#626100"/><rect y="658" width="1" height="3" fill="#595800"/><rect y="661" width="1" height="2" fill="#737100"/><rect y="663" width="1" height="1" fill="#201f00"/><rect y="664" width="1" height="3" fill="#5c5b00"/><rect y="667" width="1" height="2" fill="#403f00"/><rect y="669" width="1" height="2" fill="#393900"/><rect y="671" width="1" height="1" fill="#202000"/><rect y="672" width="1" height="1" fill="#504f00"/><rect y="673" width="1" height="3" fill="#373600"/><rect y="676" width="1" height="1" fill="#4f4e00"/><rect y="677" width="1" height="2" fill="#818000"/><rect y="679" width="1" height="2" fill="#282800"/><rect y="681" width="1" height="2" fill="#4a4900"/><rect y="683" width="1" height="3" fill="#00006a"/><rect y="686" width="1" height="2" fill="#000052"/><rect y="688" width="1" height="2" fill="#00005c"/><rect y="690" width="1" height="2" fill="#000059"/><rect y="692" width="1" height="2" fill="#00007c"/><rect y="694" width="1" height="2" fill="#000063"/><rect y="696" width="1" height="1" fill="#00006e"/><rect y="697" width="1" height="2" fill="#000059"/><rect y="699" width="1" height="2" fill="#00005a"/><rect y="701" width="1" height="3" fill="#000058"/><rect y="704" width="1" height="1" fill="#000048"/><rect y="705" width="1" height="2" fill="#00004c"/><rect y="707" width="1" height="2" fill="#00006d"/><rect y="709" width="1" height="2" fill="#000031"/><rect y="711" width="1" height="2" fill="#00008e"/><rect y="713" width="1" height="2" fill="#000054"/><rect y="715" width="1" height="2" fill="#000066"/><rect y="717" width="1" height="2" fill="#000040"/><rect y="719" width="1" height="1" fill="#000073"/><rect y="720" width="1" height="1" fill="#00008b"/><rect y="721" width="1" height="2" fill="#000061"/><rect y="723" width="1" height="2" fill="#000088"/><rect y="725" width="1" height="1" fill="#00006c"/><rect y="726" width="1" height="1" fill="#000059"/><rect y="727" width="1" height="3" fill="#00003f"/><rect y="730" width="1" height="2" fill="#00006b"/><rect y="732" width="1" height="2" fill="#0a0a00"/><rect y="734" width="1" height="2" fill="#1b1b00"/><rect y="736" width="1" height="1" fill="#00005f"/><rect y="737" width="1" height="2" fill="#111100"/><rect y="739" width="1" height="2" fill="#3d3c00"/><rect y="741" width="1" height="2" fill="#000002"/><rect y="743" width="1" height="2" fill="#1e1e00"/><rect y="745" width="1" height="1" fill="#040400"/><rect y="746" width="1" height="2" fill="#00002b"/><rect y="748" width="1" height="1" fill="#0b0b00"/><rect y="749" width="1" height="2" fill="#00000e"/><rect y="751" width="1" height="1" fill="#000028"/><rect y="752" width="1" height="1" fill="#00001e"/><rect y="753" width="1" height="2" fill="#000009"/><rect y="755" width="1" height="1" fill="#000002"/><rect y="756" width="1" height="3" fill="#000016"/><rect y="759" width="1" height="1" fill="#050500"/><rect y="760" width="1" height="2" fill="#00000f"/><rect y="762" width="1" height="2" fill="#000059"/><rect y="764" width="1" height="1" fill="#000011"/><rect y="765" width="1" height="2" fill="#000019"/><rect y="767" width="1" height="3" fill="#00008b"/><rect y="770" width="1" height="1" fill="#000055"/><rect y="771" width="1" height="2" fill="#00003c"/><rect y="773" width="1" height="3" fill="#00001b"/><rect y="776" width="1" height="1" fill="#00001a"/><rect y="777" width="1" height="1" fill="#000048"/><rect y="778" width="1" height="3" fill="#00003f"/><rect y="781" width="1" height="2" fill="#000061"/><rect y="783" width="1" height="1" fill="#000056"/><rect y="784" width="1" height="2" fill="#00002a"/><rect y="786" width="1" height="2" fill="#000061"/><rect y="788" width="1" height="2" fill="#00005f"/><rect y="790" width="1" height="2" fill="#00001a"/><rect y="792" width="1" height="2" fill="#00002e"/><rect y="794" width="1" height="3" fill="#000068"/><rect y="797" width="1" height="3" fill="#000014"/><rect y="800" width="1" height="2" fill="#00001f"/><rect y="802" width="1" height="2" fill="#000043"/><rect y="804" width="1" height="2" fill="#000045"/><rect y="806" width="1" height="2" fill="#00005e"/><rect y="808" width="1" height="1" fill="#000045"/><rect y="809" width="1" height="2" fill="#00004a"/><rect y="811" width="1" height="2" fill="#000007"/><rect y="813" width="1" height="2" fill="#000006"/><rect y="815" width="1" height="3" fill="#000027"/><rect y="818" width="1" height="2" fill="#000047"/><rect y="820" width="1" height="1" fill="#00003b"/><rect y="821" width="1" height="2" fill="#000016"/><rect y="823" width="1" height="1" fill="#0c0c00"/><rect y="824" width="1" height="1" fill="#000016"/><rect y="825" width="1" height="2" fill="#00001b"/><rect y="827" width="1" height="2" fill="#000041"/><rect y="829" width="1" height="1" fill="#000031"/><rect y="830" width="1" height="2" fill="#00002d"/><rect y="832" width="1" height="1" fill="#000030"/><rect y="833" width="1" height="1" fill="#000014"/><rect y="834" width="1" height="1" fill="#0e0e00"/><rect y="835" width="1" height="3" fill="#000034"/><rect y="838" width="1" height="2" fill="#000007"/><rect y="840" width="1" height="3" fill="#00003e"/><rect y="843" width="1" height="2" fill="#000023"/><rect y="845" width="1" height="2" fill="#000048"/><rect y="847" width="1" height="1" fill="#060600"/><rect y="848" width="1" height="1" fill="#000024"/><rect y="849" width="1" height="1" fill="#000011"/><rect y="850" width="1" height="1" fill="#1c1c00"/><rect y="851" width="1" height="1" fill="#000023"/><rect y="852" width="1" height="1" fill="#000046"/><rect y="853" width="1" height="3" fill="#212000"/><rect y="856" width="1" height="1" fill="#00003a"/><rect y="857" width="1" height="2" fill="#00005c"/><rect y="859" width="1" height="1" fill="#00001c"/><rect y="860" width="1" height="1" fill="#000058"/><rect y="861" width="1" height="2" fill="#000048"/><rect y="863" width="1" height="3" fill="#000053"/><rect y="866" width="1" height="2" fill="#00002d"/><rect y="868" width="1" height="3" fill="#000035"/><rect y="871" width="1" height="1" fill="#000029"/><rect y="872" width="1" height="3" fill="#000036"/><rect y="875" width="1" height="2" fill="#000038"/><rect y="877" width="1" height="2" fill="#00002b"/><rect y="879" width="1" height="2" fill="#00004b"/><rect y="881" width="1" height="2" fill="#000011"/><rect y="883" width="1" height="2" fill="#000011"/><rect y="885" width="1" height="3" fill="#00003d"/><rect y="888" width="1" height="1" fill="#000024"/><rect y="889" width="1" height="2" fill="#000011"/><rect y="891" width="1" height="1" fill="#00003a"/><rect y="892" width="1" height="1" fill="#000037"/><rect y="893" width="1" height="2" fill="#000063"/><rect y="895" width="1" height="1" fill="#000060"/><rect y="896" width="1" height="2" fill="#00000d"/><rect y="898" width="1" height="2" fill="#00005d"/><rect y="900" width="1" height="1" fill="#000050"/><rect y="901" width="1" height="2" fill="#00000c"/><rect y="903" width="1" height="3" fill="#000028"/><rect y="906" width="1" height="1" fill="#00005f"/><rect y="907" width="1" height="1" fill="#000074"/><rect y="908" width="1" height="1" fill="#00001e"/><rect y="909" width="1" height="3" fill="#00003c"/><rect y="912" width="1" height="3" fill="#00003c"/><rect y="915" width="1" height="1" fill="#00001f"/><rect y="916" width="1" height="1" fill="#000044"/><rect y="917" width="1" height="1" fill="#000010"/><rect y="918" width="1" height="3" fill="#000052"/><rect y="921" width="1" height="2" fill="#00001d"/><rect y="923" width="1" height="1" fill="#00002a"/><rect y="924" width="1" height="1" fill="#000024"/><rect y="925" width="1" height="2" fill="#00002e"/><rect y="927" width="1" height="2" fill="#000035"/><rect y="929" width="1" height="3" fill="#000035"/><rect y="932" width="1" height="2" fill="#000039"/><rect y="934" width="1" height="0.5" fill="#000027"/>
</g>
<g transform="matrix(33.4 0 0 1 291.3 0)" shape-rendering="crispEdges">
<rect y="525" width="1" height="2" fill="#4e4d00"/><rect y="527" width="1" height="2" fill="#a5a300"/><rect y="529" width="1" height="1" fill="#5a5900"/><rect y="530" width="1" height="1" fill="#8a8800"/><rect y="531" width="1" height="1" fill="#4c4b00"/><rect y="532" width="1" height="1" fill="#6f6e00"/><rect y="533" width="1" height="2" fill="#706f00"/><rect y="535" width="1" height="1" fill="#828000"/><rect y="536" width="1" height="2" fill="#8f8d00"/><rect y="538" width="1" height="2" fill="#828000"/><rect y="540" width="1" height="1" fill="#666500"/><rect y="541" width="1" height="1" fill="#2a2900"/><rect y="542" width="1" height="1" fill="#6a6900"/><rect y="543" width="1" height="2" fill="#424100"/><rect y="545" width="1" height="2" fill="#2c2c00"/><rect y="547" width="1" height="2" fill="#454400"/><rect y="549" width="1" height="2" fill="#737200"/><rect y="551" width="1" height="1" fill="#807e00"/><rect y="552" width="1" height="1" fill="#7a7800"/><rect y="553" width="1" height="2" fill="#525100"/><rect y="555" width="1" height="2" fill="#848200"/><rect y="557" width="1" height="1" fill="#626100"/><rect y="558" width="1" height="3" fill="#afac00"/><rect y="561" width="1" height="2" fill="#444300"/><rect y="563" width="1" height="2" fill="#817f00"/><rect y="565" width="1" height="1" fill="#292800"/><rect y="566" width="1" height="1" fill="#666400"/><rect y="567" width="1" height="2" fill="#878500"/><rect y="569" width="1" height="2" fill="#555400"/><rect y="571" width="1" height="2" fill="#aaa800"/><rect y="573" width="1" height="1" fill="#444300"/><rect y="574" width="1" height="1" fill="#383700"/><rect y="575" width="1" height="3" fill="#9e9c00"/><rect y="578" width="1" height="2" fill="#6a6900"/><rect y="580" width="1" height="1" fill="#070700"/><rect y="581" width="1" height="1" fill="#a4a200"/><rect y="582" width="1" height="2" fill="#807e00"/><rect y="584" width="1" height="1" fill="#7b7900"/><rect y="585" width="1" height="1" fill="#565500"/><rect y="586" width="1" height="2" fill="#c0bd00"/><rect y="588" width="1" height="1" fill="#373600"/><rect y="589" width="1" height="1" fill="#5d5c00"/><rect y="590" width="1" height="2" fill="#a19f00"/><rect y="592" width="1" height="2" fill="#535200"/><rect y="594" width="1" height="2" fill="#7d7c00"/><rect y="596" width="1" height="1" fill="#8a8900"/><rect y="597" width="1" height="2" fill="#1e1d00"/><rect y="599" width="1" height="3" fill="#232200"/><rect y="602" width="1" height="1" fill="#bbb900"/><rect y="603" width="1" height="1" fill="#757400"/><rect y="604" width="1" height="2" fill="#202000"/><rect y="606" width="1" height="3" fill="#3d3d00"/><rect y="609" width="1" height="1" fill="#7a7900"/><rect y="610" width="1" height="1" fill="#3d3c00"/><rect y="611" width="1" height="2" fill="#343300"/><rect y="613" width="1" height="1" fill="#919000"/><rect y="614" width="1" height="2" fill="#666400"/><rect y="616" width="1" height="2" fill="#5e5d00"/><rect y="618" width="1" height="3" fill="#626100"/><rect y="621" width="1" height="1" fill="#676600"/><rect y="622" width="1" height="1" fill="#747300"/><rect y="623" width="1" height="2" fill="#c0bd00"/><rect y="625" width="1" height="2" fill="#4a4900"/><rect y="627" width="1" height="1" fill="#727100"/><rect y="628" width="1" height="1" fill="#373700"/><rect y="629" width="1" height="3" fill="#787700"/><rect y="632" width="1" height="2" fill="#7a7800"/><rect y="634" width="1" height="3" fill="#333200"/><rect y="637" width="1" height="1" fill="#504e00"/><rect y="638" width="1" height="1" fill="#525100"/><rect y="639" width="1" height="3" fill="#9e9c00"/><rect y="642" width="1" height="2" fill="#727100"/><rect y="644" width="1" height="2" fill="#817f00"/><rect y="646" width="1" height="2" fill="#1d1d00"/><rect y="648" width="1" height="3" fill="#bebb00"/><rect y="651" width="1" height="1" fill="#3f3e00"/><rect y="652" width="1" height="2" fill="#6d6b00"/><rect y="654" width="1" height="3" fill="#494800"/><rect y="657" width="1" height="1" fill="#424100"/><rect y="658" width="1" height="3" fill="#686700"/><rect y="661" width="1" height="2" fill="#4c4b00"/><rect y="663" width="1" height="1" fill="#626100"/><rect y="664" width="1" height="3" fill="#767400"/><rect y="667" width="1" height="2" fill="#777500"/><rect y="669" width="1" height="2" fill="#8d8b00"/><rect y="671" width="1" height="1" fill="#ebe800"/><rect y="672" width="1" height="1" fill="#595800"/><rect y="673" width="1" height="3" fill="#6d6b00"/><rect y="676" width="1" height="1" fill="#585700"/><rect y="677" width="1" height="2" fill="#969400"/><rect y="679" width="1" height="2" fill="#5f5e00"/><rect y="681" width="1" height="2" fill="#6b6a00"/><rect y="683" width="1" height="3" fill="#706f00"/><rect y="686" width="1" height="2" fill="#777500"/><rect y="688" width="1" height="2" fill="#6c6b00"/><rect y="690" width="1" height="2" fill="#e4e100"/><rect y="692" width="1" height="2" fill="#6a6900"/><rect y="694" width="1" height="2" fill="#b2af00"/><rect y="696" width="1" height="1" fill="#989600"/><rect y="697" width="1" height="2" fill="#c8c500"/><rect y="699" width="1" height="2" fill="#bbb900"/><rect y="701" width="1" height="3" fill="#e2e000"/><rect y="704" width="1" height="1" fill="#8d8b00"/><rect y="705" width="1" height="2" fill="#cac700"/><rect y="707" width="1" height="2" fill="#e4e100"/><rect y="709" width="1" height="2" fill="#bcb900"/><rect y="711" width="1" height="2" fill="#868400"/><rect y="713" width="1" height="2" fill="#8e8c00"/><rect y="715" width="1" height="2" fill="#c5c300"/><rect y="717" width="1" height="2" fill="#bdbb00"/><rect y="719" width="1" height="1" fill="#949200"/><rect y="720" width="1" height="1" fill="#eae700"/><rect y="721" width="1" height="2" fill="#959300"/><rect y="723" width="1" height="2" fill="#a9a700"/><rect y="725" width="1" height="1" fill="#dfdc00"/><rect y="726" width="1" height="1" fill="#8c8a00"/><rect y="727" width="1" height="3" fill="#7c7b00"/><rect y="730" width="1" height="2" fill="#dddb00"/><rect y="732" width="1" height="2" fill="#ebe800"/><rect y="734" width="1" height="2" fill="#777600"/><rect y="736" width="1" height="1" fill="#848300"/><rect y="737" width="1" height="2" fill="#767400"/><rect y="739" width="1" height="2" fill="#a9a700"/><rect y="741" width="1" height="2" fill="#a19f00"/><rect y="743" width="1" height="2" fill="#ebe800"/><rect y="745" width="1" height="1" fill="#6b6a00"/><rect y="746" width="1" height="2" fill="#adaa00"/><rect y="748" width="1" height="1" fill="#9c9a00"/><rect y="749" width="1" height="2" fill="#989600"/><rect y="751" width="1" height="1" fill="#bcb900"/><rect y="752" width="1" height="1" fill="#a19f00"/><rect y="753" width="1" height="2" fill="#848300"/><rect y="755" width="1" height="1" fill="#aaa800"/><rect y="756" width="1" height="3" fill="#aaa800"/><rect y="759" width="1" height="1" fill="#a8a600"/><rect y="760" width="1" height="2" fill="#bdbb00"/><rect y="762" width="1" height="2" fill="#dad700"/><rect y="764" width="1" height="1" fill="#888700"/><rect y="765" width="1" height="2" fill="#d0cd00"/><rect y="767" width="1" height="3" fill="#bfbc00"/><rect y="770" width="1" height="1" fill="#878500"/><rect y="771" width="1" height="2" fill="#989600"/><rect y="773" width="1" height="3" fill="#aeac00"/><rect y="776" width="1" height="1" fill="#acaa00"/><rect y="777" width="1" height="1" fill="#aeac00"/><rect y="778" width="1" height="3" fill="#b8b600"/><rect y="781" width="1" height="2" fill="#e4e100"/><rect y="783" width="1" height="1" fill="#cfcd00"/><rect y="784" width="1" height="2" fill="#918f00"/><rect y="786" width="1" height="2" fill="#e5e200"/><rect y="788" width="1" height="2" fill="#918f00"/><rect y="790" width="1" height="2" fill="#737200"/><rect y="792" width="1" height="2" fill="#6b6900"/><rect y="794" width="1" height="3" fill="#7f7e00"/><rect y="797" width="1" height="3" fill="#b3b100"/><rect y="800" width="1" height="2" fill="#e6e300"/><rect y="802" width="1" height="2" fill="#5c5b00"/><rect y="804" width="1" height="2" fill="#a9a700"/><rect y="806" width="1" height="2" fill="#bcba00"/><rect y="808" width="1" height="1" fill="#a5a300"/><rect y="809" width="1" height="2" fill="#8c8b00"/><rect y="811" width="1" height="2" fill="#ebe800"/><rect y="813" width="1" height="2" fill="#787600"/><rect y="815" width="1" height="3" fill="#7f7d00"/><rect y="818" width="1" height="2" fill="#747300"/><rect y="820" width="1" height="1" fill="#cbc800"/><rect y="821" width="1" height="2" fill="#b5b300"/><rect y="823" width="1" height="1" fill="#979500"/><rect y="824" width="1" height="1" fill="#ebe800"/><rect y="825" width="1" height="2" fill="#e3e000"/><rect y="827" width="1" height="2" fill="#9e9c00"/><rect y="829" width="1" height="1" fill="#908f00"/><rect y="830" width="1" height="2" fill="#b0ae00"/><rect y="832" width="1" height="1" fill="#e2df00"/><rect y="833" width="1" height="1" fill="#918f00"/><rect y="834" width="1" height="1" fill="#bab800"/><rect y="835" width="1" height="3" fill="#646300"/><rect y="838" width="1" height="2" fill="#999700"/><rect y="840" width="1" height="3" fill="#7b7900"/><rect y="843" width="1" height="2" fill="#b1af00"/><rect y="845" width="1" height="2" fill="#b1af00"/><rect y="847" width="1" height="1" fill="#d7d400"/><rect y="848" width="1" height="1" fill="#b9b600"/><rect y="849" width="1" height="1" fill="#918f00"/><rect y="850" width="1" height="1" fill="#c4c200"/><rect y="851" width="1" height="1" fill="#6b6900"/><rect y="852" width="1" height="1" fill="#d9d600"/><rect y="853" width="1" height="3" fill="#000049"/><rect y="856" width="1" height="1" fill="#00007f"/><rect y="857" width="1" height="2" fill="#00003d"/><rect y="859" width="1" height="1" fill="#000024"/><rect y="860" width="1" height="1" fill="#00003c"/><rect y="861" width="1" height="2" fill="#000035"/><rect y="863" width="1" height="3" fill="#000023"/><rect y="866" width="1" height="2" fill="#000083"/><rect y="868" width="1" height="3" fill="#000042"/><rect y="871" width="1" height="1" fill="#00007a"/><rect y="872" width="1" height="3" fill="#000057"/><rect y="875" width="1" height="2" fill="#000061"/><rect y="877" width="1" height="2" fill="#000082"/><rect y="879" width="1" height="2" fill="#00005b"/><rect y="881" width="1" height="2" fill="#00004c"/><rect y="883" width="1" height="2" fill="#000044"/><rect y="885" width="1" height="3" fill="#000044"/><rect y="888" width="1" height="1" fill="#000044"/><rect y="889" width="1" height="2" fill="#000068"/><rect y="891" width="1" height="1" fill="#00003a"/><rect y="892" width="1" height="1" fill="#000067"/><rect y="893" width="1" height="2" fill="#000057"/><rect y="895" width="1" height="1" fill="#000086"/><rect y="896" width="1" height="2" fill="#000051"/><rect y="898" width="1" height="2" fill="#000059"/><rect y="900" width="1" height="1" fill="#00004b"/><rect y="901" width="1" height="2" fill="#00006e"/><rect y="903" width="1" height="3" fill="#000071"/><rect y="906" width="1" height="1" fill="#000045"/><rect y="907" width="1" height="1" fill="#000033"/><rect y="908" width="1" height="1" fill="#00004d"/><rect y="909" width="1" height="3" fill="#00004a"/><rect y="912" width="1" height="3" fill="#000046"/><rect y="915" width="1" height="1" fill="#000056"/><rect y="916" width="1" height="1" fill="#00001f"/><rect y="917" width="1" height="1" fill="#000056"/><rect y="918" width="1" height="3" fill="#000047"/><rect y="921" width="1" height="2" fill="#00003a"/><rect y="923" width="1" height="1" fill="#00004a"/><rect y="924" width="1" height="1" fill="#000049"/><rect y="925" width="1" height="2" fill="#00004f"/><rect y="927" width="1" height="2" fill="#00004b"/><rect y="929" width="1" height="3" fill="#00006f"/><rect y="932" width="1" height="2" fill="#00006d"/><rect y="934" width="1" height="0.5" fill="#00005d"/>
</g>
<g transform="matrix(33.4 0 0 1 324.1 0)" shape-rendering="crispEdges">
<rect y="525" width="1" height="2" fill="#545300"/><rect y="527" width="1" height="2" fill="#bebb00"/><rect y="529" width="1" height="1" fill="#2c2c00"/><rect y="530" width="1" height="1" fill="#626000"/><rect y="531" width="1" height="1" fill="#5e5d00"/><rect y="532" width="1" height="1" fill="#636200"/><rect y="533" width="1" height="2" fill="#4c4b00"/><rect y="535" width="1" height="1" fill="#4a4900"/><rect y="536" width="1" height="2" fill="#7d7b00"/><rect y="538" width="1" height="2" fill="#3d3d00"/><rect y="540" width="1" height="1" fill="#8c8b00"/><rect y="541" width="1" height="1" fill="#323100"/><rect y="542" width="1" height="1" fill="#686700"/><rect y="543" width="1" height="2" fill="#272600"/><rect y="545" width="1" height="2" fill="#181700"/><rect y="547" width="1" height="2" fill="#414000"/><rect y="549" width="1" height="2" fill="#373600"/><rect y="551" width="1" height="1" fill="#616000"/><rect y="552" width="1" height="1" fill="#969400"/><rect y="553" width="1" height="2" fill="#424100"/><rect y="555" width="1" height="2" fill="#8a8800"/><rect y="557" width="1" height="1" fill="#727000"/><rect y="558" width="1" height="3" fill="#aaa800"/><rect y="561" width="1" height="2" fill="#8b8a00"/><rect y="563" width="1" height="2" fill="#908e00"/><rect y="565" width="1" height="1" fill="#121200"/><rect y="566" width="1" height="1" fill="#636200"/><rect y="567" width="1" height="2" fill="#9f9d00"/><rect y="569" width="1" height="2" fill="#636200"/><rect y="571" width="1" height="2" fill="#878500"/><rect y="573" width="1" height="1" fill="#434200"/><rect y="574" width="1" height="1" fill="#575600"/><rect y="575" width="1" height="3" fill="#727100"/><rect y="578" width="1" height="2" fill="#727000"/><rect y="580" width="1" height="1" fill="#3e3d00"/><rect y="581" width="1" height="1" fill="#777600"/><rect y="582" width="1" height="2" fill="#333200"/><rect y="584" width="1" height="1" fill="#7b7900"/><rect y="585" width="1" height="1" fill="#636100"/><rect y="586" width="1" height="2" fill="#8b8900"/><rect y="588" width="1" height="1" fill="#363500"/><rect y="589" width="1" height="1" fill="#2f2e00"/><rect y="590" width="1" height="2" fill="#b6b300"/><rect y="592" width="1" height="2" fill="#141400"/><rect y="594" width="1" height="2" fill="#2d2d00"/><rect y="596" width="1" height="1" fill="#9d9b00"/><rect y="597" width="1" height="2" fill="#7e7c00"/><rect y="599" width="1" height="3" fill="#4a4900"/><rect y="602" width="1" height="1" fill="#b6b400"/><rect y="603" width="1" height="1" fill="#8a8800"/><rect y="604" width="1" height="2" fill="#4a4900"/><rect y="606" width="1" height="3" fill="#0d0d00"/><rect y="609" width="1" height="1" fill="#4f4e00"/><rect y="610" width="1" height="1" fill="#575600"/><rect y="611" width="1" height="2" fill="#5c5b00"/><rect y="613" width="1" height="1" fill="#555400"/><rect y="614" width="1" height="2" fill="#828000"/><rect y="616" width="1" height="2" fill="#6c6b00"/><rect y="618" width="1" height="3" fill="#8d8b00"/><rect y="621" width="1" height="1" fill="#6e6d00"/><rect y="622" width="1" height="1" fill="#565400"/><rect y="623" width="1" height="2" fill="#888600"/><rect y="625" width="1" height="2" fill="#6e6d00"/><rect y="627" width="1" height="1" fill="#a19f00"/><rect y="628" width="1" height="1" fill="#6b6900"/><rect y="629" width="1" height="3" fill="#3f3e00"/><rect y="632" width="1" height="2" fill="#434200"/><rect y="634" width="1" height="3" fill="#403f00"/><rect y="637" width="1" height="1" fill="#414100"/><rect y="638" width="1" height="1" fill="#5f5e00"/><rect y="639" width="1" height="3" fill="#595800"/><rect y="642" width="1" height="2" fill="#797700"/><rect y="644" width="1" height="2" fill="#5d5c00"/><rect y="646" width="1" height="2" fill="#5d5c00"/><rect y="648" width="1" height="3" fill="#3f3e00"/><rect y="651" width="1" height="1" fill="#434200"/><rect y="652" width="1" height="2" fill="#545300"/><rect y="654" width="1" height="3" fill="#242400"/><rect y="657" width="1" height="1" fill="#212100"/><rect y="658" width="1" height="3" fill="#676600"/><rect y="661" width="1" height="2" fill="#4c4b00"/><rect y="663" width="1" height="1" fill="#e3e000"/><rect y="664" width="1" height="3" fill="#717000"/><rect y="667" width="1" height="2" fill="#2e2e00"/><rect y="669" width="1" height="2" fill="#bdbb00"/><rect y="671" width="1" height="1" fill="#a4a200"/><rect y="672" width="1" height="1" fill="#3a3900"/><rect y="673" width="1" height="3" fill="#747200"/><rect y="676" width="1" height="1" fill="#1a1a00"/><rect y="677" width="1" height="2" fill="#595800"/><rect y="679" width="1" height="2" fill="#5b5a00"/><rect y="681" width="1" height="2" fill="#383800"/><rect y="683" width="1" height="3" fill="#8a8800"/><rect y="686" width="1" height="2" fill="#807e00"/><rect y="688" width="1" height="2" fill="#828000"/><rect y="690" width="1" height="2" fill="#d5d200"/><rect y="692" width="1" height="2" fill="#555400"/><rect y="694" width="1" height="2" fill="#545300"/><rect y="696" width="1" height="1" fill="#868400"/><rect y="697" width="1" height="2" fill="#bab800"/><rect y="699" width="1" height="2" fill="#9b9900"/><rect y="701" width="1" height="3" fill="#9c9a00"/><rect y="704" width="1" height="1" fill="#686700"/><rect y="705" width="1" height="2" fill="#bcb900"/><rect y="707" width="1" height="2" fill="#717000"/><rect y="709" width="1" height="2" fill="#bfbd00"/><rect y="711" width="1" height="2" fill="#8f8d00"/><rect y="713" width="1" height="2" fill="#969400"/><rect y="715" width="1" height="2" fill="#6d6b00"/><rect y="717" width="1" height="2" fill="#a4a200"/><rect y="719" width="1" height="1" fill="#7a7900"/><rect y="720" width="1" height="1" fill="#ebe800"/><rect y="721" width="1" height="2" fill="#777500"/><rect y="723" width="1" height="2" fill="#6d6c00"/><rect y="725" width="1" height="1" fill="#aeab00"/><rect y="726" width="1" height="1" fill="#9a9800"/><rect y="727" width="1" height="3" fill="#757300"/><rect y="730" width="1" height="2" fill="#bfbd00"/><rect y="732" width="1" height="2" fill="#7c7a00"/><rect y="734" width="1" height="2" fill="#7a7800"/><rect y="736" width="1" height="1" fill="#7a7900"/><rect y="737" width="1" height="2" fill="#6c6a00"/><rect y="739" width="1" height="2" fill="#9a9800"/><rect y="741" width="1" height="2" fill="#6c6a00"/><rect y="743" width="1" height="2" fill="#949200"/><rect y="745" width="1" height="1" fill="#7e7c00"/><rect y="746" width="1" height="2" fill="#3c3b00"/><rect y="748" width="1" height="1" fill="#a8a600"/><rect y="749" width="1" height="2" fill="#717000"/><rect y="751" width="1" height="1" fill="#959300"/><rect y="752" width="1" height="1" fill="#615f00"/><rect y="753" width="1" height="2" fill="#5b5a00"/><rect y="755" width="1" height="1" fill="#696800"/><rect y="756" width="1" height="3" fill="#b1af00"/><rect y="759" width="1" height="1" fill="#8f8e00"/><rect y="760" width="1" height="2" fill="#7d7b00"/><rect y="762" width="1" height="2" fill="#878500"/><rect y="764" width="1" height="1" fill="#3b3a00"/><rect y="765" width="1" height="2" fill="#878500"/><rect y="767" width="1" height="3" fill="#a2a000"/><rect y="770" width="1" height="1" fill="#5c5b00"/><rect y="771" width="1" height="2" fill="#a2a000"/><rect y="773" width="1" height="3" fill="#363500"/><rect y="776" width="1" height="1" fill="#a3a100"/><rect y="777" width="1" height="1" fill="#646300"/><rect y="778" width="1" height="3" fill="#b6b400"/><rect y="781" width="1" height="2" fill="#8a8800"/><rect y="783" width="1" height="1" fill="#959300"/><rect y="784" width="1" height="2" fill="#525000"/><rect y="786" width="1" height="2" fill="#9d9b00"/><rect y="788" width="1" height="2" fill="#c1be00"/><rect y="790" width="1" height="2" fill="#868400"/><rect y="792" width="1" height="2" fill="#525100"/><rect y="794" width="1" height="3" fill="#5c5b00"/><rect y="797" width="1" height="3" fill="#b9b700"/><rect y="800" width="1" height="2" fill="#807f00"/><rect y="802" width="1" height="2" fill="#6c6b00"/><rect y="804" width="1" height="2" fill="#757400"/><rect y="806" width="1" height="2" fill="#858400"/><rect y="808" width="1" height="1" fill="#b0ae00"/><rect y="809" width="1" height="2" fill="#bfbc00"/><rect y="811" width="1" height="2" fill="#939100"/><rect y="813" width="1" height="2" fill="#716f00"/><rect y="815" width="1" height="3" fill="#595700"/><rect y="818" width="1" height="2" fill="#a9a600"/><rect y="820" width="1" height="1" fill="#c4c100"/><rect y="821" width="1" height="2" fill="#8d8b00"/><rect y="823" width="1" height="1" fill="#a9a700"/><rect y="824" width="1" height="1" fill="#bab700"/><rect y="825" width="1" height="2" fill="#e7e400"/><rect y="827" width="1" height="2" fill="#656300"/><rect y="829" width="1" height="1" fill="#666500"/><rect y="830" width="1" height="2" fill="#868400"/><rect y="832" width="1" height="1" fill="#a7a500"/><rect y="833" width="1" height="1" fill="#696800"/><rect y="834" width="1" height="1" fill="#7e7d00"/><rect y="835" width="1" height="3" fill="#767400"/><rect y="838" width="1" height="2" fill="#4b4a00"/><rect y="840" width="1" height="3" fill="#5c5b00"/><rect y="843" width="1" height="2" fill="#9e9c00"/><rect y="845" width="1" height="2" fill="#aba900"/><rect y="847" width="1" height="1" fill="#9e9c00"/><rect y="848" width="1" height="1" fill="#a09e00"/><rect y="849" width="1" height="1" fill="#3b3a00"/><rect y="850" width="1" height="1" fill="#999700"/><rect y="851" width="1" height="1" fill="#676500"/><rect y="852" width="1" height="1" fill="#9f9d00"/><rect y="853" width="1" height="3" fill="#000000"/><rect y="856" width="1" height="1" fill="#000050"/><rect y="857" width="1" height="2" fill="#00000f"/><rect y="859" width="1" height="1" fill="#00001f"/><rect y="860" width="1" height="1" fill="#161500"/><rect y="861" width="1" height="2" fill="#000056"/><rect y="863" width="1" height="3" fill="#000005"/><rect y="866" width="1" height="2" fill="#000083"/><rect y="868" width="1" height="3" fill="#00001e"/><rect y="871" width="1" height="1" fill="#000047"/><rect y="872" width="1" height="3" fill="#00004f"/><rect y="875" width="1" height="2" fill="#000030"/><rect y="877" width="1" height="2" fill="#00007b"/><rect y="879" width="1" height="2" fill="#00009c"/><rect y="881" width="1" height="2" fill="#000031"/><rect y="883" width="1" height="2" fill="#00000f"/><rect y="885" width="1" height="3" fill="#000057"/><rect y="888" width="1" height="1" fill="#00005b"/><rect y="889" width="1" height="2" fill="#000043"/><rect y="891" width="1" height="1" fill="#000039"/><rect y="892" width="1" height="1" fill="#00004b"/><rect y="893" width="1" height="2" fill="#00001d"/><rect y="895" width="1" height="1" fill="#000073"/><rect y="896" width="1" height="2" fill="#00001e"/><rect y="898" width="1" height="2" fill="#00006b"/><rect y="900" width="1" height="1" fill="#000043"/><rect y="901" width="1" height="2" fill="#00002b"/><rect y="903" width="1" height="3" fill="#000038"/><rect y="906" width="1" height="1" fill="#00003a"/><rect y="907" width="1" height="1" fill="#000004"/><rect y="908" width="1" height="1" fill="#000026"/><rect y="909" width="1" height="3" fill="#00000f"/><rect y="912" width="1" height="3" fill="#000033"/><rect y="915" width="1" height="1" fill="#000037"/><rect y="916" width="1" height="1" fill="#000035"/><rect y="917" width="1" height="1" fill="#070700"/><rect y="918" width="1" height="3" fill="#000050"/><rect y="921" width="1" height="2" fill="#00002e"/><rect y="923" width="1" height="1" fill="#00003a"/><rect y="924" width="1" height="1" fill="#000019"/><rect y="925" width="1" height="2" fill="#000038"/><rect y="927" width="1" height="2" fill="#000015"/><rect y="929" width="1" height="3" fill="#00002c"/><rect y="932" width="1" height="2" fill="#00000f"/><rect y="934" width="1" height="0.5" fill="#000024"/>
</g>
<g transform="matrix(33.4 0 0 1 356.9 0)" shape-rendering="crispEdges">
<rect y="525" width="1" height="2" fill="#605f00"/><rect y="527" width="1" height="2" fill="#a9a700"/><rect y="529" width="1" height="1" fill="#595700"/><rect y="530" width="1" height="1" fill="#575600"/><rect y="531" width="1" height="1" fill="#383700"/><rect y="532" width="1" height="1" fill="#838100"/><rect y="533" width="1" height="2" fill="#404000"/><rect y="535" width="1" height="1" fill="#706f00"/><rect y="536" width="1" height="2" fill="#595800"/><rect y="538" width="1" height="2" fill="#3a3a00"/><rect y="540" width="1" height="1" fill="#828000"/><rect y="541" width="1" height="1" fill="#3d3c00"/><rect y="542" width="1" height="1" fill="#5e5c00"/><rect y="543" width="1" height="2" fill="#757400"/><rect y="545" width="1" height="2" fill="#636100"/><rect y="547" width="1" height="2" fill="#111100"/><rect y="549" width="1" height="2" fill="#797700"/><rect y="551" width="1" height="1" fill="#595800"/><rect y="552" width="1" height="1" fill="#242300"/><rect y="553" width="1" height="2" fill="#626100"/><rect y="555" width="1" height="2" fill="#a5a300"/><rect y="557" width="1" height="1" fill="#898700"/><rect y="558" width="1" height="3" fill="#626000"/><rect y="561" width="1" height="2" fill="#656400"/><rect y="563" width="1" height="2" fill="#676600"/><rect y="565" width="1" height="1" fill="#656400"/><rect y="566" width="1" height="1" fill="#1b1b00"/><rect y="567" width="1" height="2" fill="#797700"/><rect y="569" width="1" height="2" fill="#8b8900"/><rect y="571" width="1" height="2" fill="#7b7900"/><rect y="573" width="1" height="1" fill="#1f1e00"/><rect y="574" width="1" height="1" fill="#3c3b00"/><rect y="575" width="1" height="3" fill="#787600"/><rect y="578" width="1" height="2" fill="#080800"/><rect y="580" width="1" height="1" fill="#121100"/><rect y="581" width="1" height="1" fill="#aaa800"/><rect y="582" width="1" height="2" fill="#3a3900"/><rect y="584" width="1" height="1" fill="#656300"/><rect y="585" width="1" height="1" fill="#5e5d00"/><rect y="586" width="1" height="2" fill="#aaa800"/><rect y="588" width="1" height="1" fill="#484700"/><rect y="589" width="1" height="1" fill="#6c6a00"/><rect y="590" width="1" height="2" fill="#929000"/><rect y="592" width="1" height="2" fill="#282700"/><rect y="594" width="1" height="2" fill="#8f8d00"/><rect y="596" width="1" height="1" fill="#9e9c00"/><rect y="597" width="1" height="2" fill="#363500"/><rect y="599" width="1" height="3" fill="#5d5c00"/><rect y="602" width="1" height="1" fill="#b3b100"/><rect y="603" width="1" height="1" fill="#414000"/><rect y="604" width="1" height="2" fill="#838100"/><rect y="606" width="1" height="3" fill="#565500"/><rect y="609" width="1" height="1" fill="#3b3a00"/><rect y="610" width="1" height="1" fill="#222100"/><rect y="611" width="1" height="2" fill="#2b2a00"/><rect y="613" width="1" height="1" fill="#908f00"/><rect y="614" width="1" height="2" fill="#9c9a00"/><rect y="616" width="1" height="2" fill="#4f4e00"/><rect y="618" width="1" height="3" fill="#363500"/><rect y="621" width="1" height="1" fill="#6f6e00"/><rect y="622" width="1" height="1" fill="#858300"/><rect y="623" width="1" height="2" fill="#666500"/><rect y="625" width="1" height="2" fill="#666500"/><rect y="627" width="1" height="1" fill="#595800"/><rect y="628" width="1" height="1" fill="#666500"/><rect y="629" width="1" height="3" fill="#292900"/><rect y="632" width="1" height="2" fill="#323100"/><rect y="634" width="1" height="3" fill="#575600"/><rect y="637" width="1" height="1" fill="#4e4d00"/><rect y="638" width="1" height="1" fill="#575600"/><rect y="639" width="1" height="3" fill="#acaa00"/><rect y="642" width="1" height="2" fill="#626000"/><rect y="644" width="1" height="2" fill="#504f00"/><rect y="646" width="1" height="2" fill="#908e00"/><rect y="648" width="1" height="3" fill="#828000"/><rect y="651" width="1" height="1" fill="#262500"/><rect y="652" width="1" height="2" fill="#515000"/><rect y="654" width="1" height="3" fill="#4f4e00"/><rect y="657" width="1" height="1" fill="#615f00"/><rect y="658" width="1" height="3" fill="#484700"/><rect y="661" width="1" height="2" fill="#535200"/><rect y="663" width="1" height="1" fill="#434200"/><rect y="664" width="1" height="3" fill="#636100"/><rect y="667" width="1" height="2" fill="#646300"/><rect y="669" width="1" height="2" fill="#454400"/><rect y="671" width="1" height="1" fill="#949200"/><rect y="672" width="1" height="1" fill="#a7a500"/><rect y="673" width="1" height="3" fill="#a9a600"/><rect y="676" width="1" height="1" fill="#494800"/><rect y="677" width="1" height="2" fill="#5f5e00"/><rect y="679" width="1" height="2" fill="#717000"/><rect y="681" width="1" height="2" fill="#2b2b00"/><rect y="683" width="1" height="3" fill="#8b8900"/><rect y="686" width="1" height="2" fill="#8b8a00"/><rect y="688" width="1" height="2" fill="#a4a200"/><rect y="690" width="1" height="2" fill="#b0ad00"/><rect y="692" width="1" height="2" fill="#7e7d00"/><rect y="694" width="1" height="2" fill="#797800"/><rect y="696" width="1" height="1" fill="#acaa00"/><rect y="697" width="1" height="2" fill="#888600"/><rect y="699" width="1" height="2" fill="#999700"/><rect y="701" width="1" height="3" fill="#e5e200"/><rect y="704" width="1" height="1" fill="#5d5c00"/><rect y="705" width="1" height="2" fill="#d3d000"/><rect y="707" width="1" height="2" fill="#d7d400"/><rect y="709" width="1" height="2" fill="#b9b700"/><rect y="711" width="1" height="2" fill="#6c6b00"/><rect y="713" width="1" height="2" fill="#cdca00"/><rect y="715" width="1" height="2" fill="#a9a700"/><rect y="717" width="1" height="2" fill="#cbc800"/><rect y="719" width="1" height="1" fill="#a3a100"/><rect y="720" width="1" height="1" fill="#e7e400"/><rect y="721" width="1" height="2" fill="#ccc900"/><rect y="723" width="1" height="2" fill="#8c8b00"/><rect y="725" width="1" height="1" fill="#bebb00"/><rect y="726" width="1" height="1" fill="#989600"/><rect y="727" width="1" height="3" fill="#898800"/><rect y="730" width="1" height="2" fill="#e7e400"/><rect y="732" width="1" height="2" fill="#979500"/><rect y="734" width="1" height="2" fill="#302f00"/><rect y="736" width="1" height="1" fill="#646200"/><rect y="737" width="1" height="2" fill="#a5a300"/><rect y="739" width="1" height="2" fill="#908e00"/><rect y="741" width="1" height="2" fill="#7d7c00"/><rect y="743" width="1" height="2" fill="#d1ce00"/><rect y="745" width="1" height="1" fill="#212100"/><rect y="746" width="1" height="2" fill="#a19f00"/><rect y="748" width="1" height="1" fill="#6e6d00"/><rect y="749" width="1" height="2" fill="#494800"/><rect y="751" width="1" height="1" fill="#a3a100"/><rect y="752" width="1" height="1" fill="#7a7800"/><rect y="753" width="1" height="2" fill="#b4b200"/><rect y="755" width="1" height="1" fill="#605e00"/><rect y="756" width="1" height="3" fill="#cfcd00"/><rect y="759" width="1" height="1" fill="#6e6d00"/><rect y="760" width="1" height="2" fill="#929100"/><rect y="762" width="1" height="2" fill="#959300"/><rect y="764" width="1" height="1" fill="#535200"/><rect y="765" width="1" height="2" fill="#d3d000"/><rect y="767" width="1" height="3" fill="#a7a500"/><rect y="770" width="1" height="1" fill="#5d5c00"/><rect y="771" width="1" height="2" fill="#e2df00"/><rect y="773" width="1" height="3" fill="#6b6900"/><rect y="776" width="1" height="1" fill="#b8b600"/><rect y="777" width="1" height="1" fill="#706e00"/><rect y="778" width="1" height="3" fill="#bab700"/><rect y="781" width="1" height="2" fill="#807f00"/><rect y="783" width="1" height="1" fill="#c9c700"/><rect y="784" width="1" height="2" fill="#c2c000"/><rect y="786" width="1" height="2" fill="#c8c600"/><rect y="788" width="1" height="2" fill="#8f8d00"/><rect y="790" width="1" height="2" fill="#8c8a00"/><rect y="792" width="1" height="2" fill="#3c3b00"/><rect y="794" width="1" height="3" fill="#b6b400"/><rect y="797" width="1" height="3" fill="#a4a200"/><rect y="800" width="1" height="2" fill="#a9a700"/><rect y="802" width="1" height="2" fill="#383700"/><rect y="804" width="1" height="2" fill="#5a5800"/><rect y="806" width="1" height="2" fill="#a2a000"/><rect y="808" width="1" height="1" fill="#767400"/><rect y="809" width="1" height="2" fill="#878500"/><rect y="811" width="1" height="2" fill="#908f00"/><rect y="813" width="1" height="2" fill="#7d7c00"/><rect y="815" width="1" height="3" fill="#939100"/><rect y="818" width="1" height="2" fill="#918f00"/><rect y="820" width="1" height="1" fill="#d5d300"/><rect y="821" width="1" height="2" fill="#a8a600"/><rect y="823" width="1" height="1" fill="#585700"/><rect y="824" width="1" height="1" fill="#b6b400"/><rect y="825" width="1" height="2" fill="#ccc900"/><rect y="827" width="1" height="2" fill="#565500"/><rect y="829" width="1" height="1" fill="#716f00"/><rect y="830" width="1" height="2" fill="#6d6c00"/><rect y="832" width="1" height="1" fill="#ebe800"/><rect y="833" width="1" height="1" fill="#525100"/><rect y="834" width="1" height="1" fill="#706e00"/><rect y="835" width="1" height="3" fill="#767400"/><rect y="838" width="1" height="2" fill="#8e8c00"/><rect y="840" width="1" height="3" fill="#747200"/><rect y="843" width="1" height="2" fill="#b9b700"/><rect y="845" width="1" height="2" fill="#cdca00"/><rect y="847" width="1" height="1" fill="#353500"/><rect y="848" width="1" height="1" fill="#8a8800"/><rect y="849" width="1" height="1" fill="#282800"/><rect y="850" width="1" height="1" fill="#959300"/><rect y="851" width="1" height="1" fill="#727100"/><rect y="852" width="1" height="1" fill="#8c8a00"/><rect y="853" width="1" height="3" fill="#00000b"/><rect y="856" width="1" height="1" fill="#000053"/><rect y="857" width="1" height="2" fill="#060600"/><rect y="859" width="1" height="1" fill="#00001c"/><rect y="860" width="1" height="1" fill="#00000b"/><rect y="861" width="1" height="2" fill="#000017"/><rect y="863" width="1" height="3" fill="#000041"/><rect y="866" width="1" height="2" fill="#000053"/><rect y="868" width="1" height="3" fill="#00003f"/><rect y="871" width="1" height="1" fill="#000040"/><rect y="872" width="1" height="3" fill="#000087"/><rect y="875" width="1" height="2" fill="#000031"/><rect y="877" width="1" height="2" fill="#00003f"/><rect y="879" width="1" height="2" fill="#000083"/><rect y="881" width="1" height="2" fill="#00003d"/><rect y="883" width="1" height="2" fill="#000028"/><rect y="885" width="1" height="3" fill="#00001e"/><rect y="888" width="1" height="1" fill="#000043"/><rect y="889" width="1" height="2" fill="#000033"/><rect y="891" width="1" height="1" fill="#000048"/><rect y="892" width="1" height="1" fill="#000018"/><rect y="893" width="1" height="2" fill="#000028"/><rect y="895" width="1" height="1" fill="#000048"/><rect y="896" width="1" height="2" fill="#00003e"/><rect y="898" width="1" height="2" fill="#000062"/><rect y="900" width="1" height="1" fill="#000037"/><rect y="901" width="1" height="2" fill="#000043"/><rect y="903" width="1" height="3" fill="#000041"/><rect y="906" width="1" height="1" fill="#00003b"/><rect y="907" width="1" height="1" fill="#000023"/><rect y="908" width="1" height="1" fill="#00001a"/><rect y="909" width="1" height="3" fill="#000016"/><rect y="912" width="1" height="3" fill="#000040"/><rect y="915" width="1" height="1" fill="#000003"/><rect y="916" width="1" height="1" fill="#000000"/><rect y="917" width="1" height="1" fill="#00001a"/><rect y="918" width="1" height="3" fill="#000044"/><rect y="921" width="1" height="2" fill="#00002f"/><rect y="923" width="1" height="1" fill="#00000f"/><rect y="924" width="1" height="1" fill="#000006"/><rect y="925" width="1" height="2" fill="#00002a"/><rect y="927" width="1" height="2" fill="#000049"/><rect y="929" width="1" height="3" fill="#000042"/><rect y="932" width="1" height="2" fill="#000034"/><rect y="934" width="1" height="0.5" fill="#000039"/>
</g>
<rect x="96" y="525" width="292.5" height="409.5" fill="none" stroke="#000" stroke-width="2.6"/>
<line x1="78.5" y1="523" x2="78.5" y2="674" stroke="#000" stroke-width="2.4"/>
<line x1="78.5" y1="690" x2="78.5" y2="842" stroke="#000" stroke-width="2.4"/>
<line x1="78.5" y1="855.5" x2="78.5" y2="936" stroke="#000" stroke-width="2.4"/>
<text x="0" y="0" text-anchor="middle" transform="translate(58.2 604) rotate(-90)">Cluster I</text>
<text x="0" y="0" text-anchor="middle" transform="translate(58.2 762) rotate(-90)">Cluster II</text>
<text x="0" y="0" text-anchor="middle" transform="translate(58.2 901) rotate(-90)">Cluster III</text>
<text x="240.5" y="970" text-anchor="middle">Differentially expressed</text>
<text x="244" y="1001" text-anchor="middle">genes (n=2260)</text>
<rect x="408" y="702" width="19.6" height="130.3" fill="url(#cb1)" stroke="#000" stroke-width="1.6"/>
<line x1="427.6" y1="702" x2="431.1" y2="702" stroke="#000" stroke-width="1.5"/>
<line x1="427.6" y1="767.1" x2="431.1" y2="767.1" stroke="#000" stroke-width="1.5"/>
<line x1="427.6" y1="832.3" x2="431.1" y2="832.3" stroke="#000" stroke-width="1.5"/>
<text x="433.3" y="707.8" font-size="14.5">0.9</text>
<text x="435.6" y="772" font-size="14.5">0.0</text>
<text x="433.8" y="836.8" font-size="14.5">-0.9</text>
<text x="401" y="688.5" font-size="17" fill="#ffd200">High</text>
<text x="401" y="854.5" font-size="17" fill="#1414ff">Low</text>
<line x1="389.5" y1="681" x2="480.6" y2="540.5" stroke="#000" stroke-width="2.2"/>
<line x1="389.5" y1="855" x2="480.6" y2="928.4" stroke="#000" stroke-width="2.2"/>
<text x="533.5" y="495.5" text-anchor="middle">0h</text>
<line x1="491.8" y1="504.2" x2="574" y2="504.2" stroke="#000" stroke-width="1.6"/>
<text x="625" y="491.3" text-anchor="middle">UNT</text>
<line x1="586" y1="504.2" x2="668.2" y2="504.2" stroke="#000" stroke-width="1.6"/>
<text x="719.7" y="491.3" text-anchor="middle">IAA</text>
<line x1="680.4" y1="504.2" x2="762.7" y2="504.2" stroke="#000" stroke-width="1.6"/>
<text x="681.4" y="458" text-anchor="middle">6h</text>
<line x1="589" y1="466.3" x2="757.6" y2="466.3" stroke="#000" stroke-width="1.6"/>
<text x="501.3" y="531" font-size="21" text-anchor="middle">G1</text>
<text x="530.9" y="531" font-size="21" text-anchor="middle">S</text>
<text x="558" y="531" font-size="21" text-anchor="middle">G2</text>
<text x="590.4" y="531" font-size="21" text-anchor="middle">G1</text>
<text x="620.2" y="531" font-size="21" text-anchor="middle">S</text>
<text x="647" y="531" font-size="21" text-anchor="middle">G2</text>
<text x="680" y="531" font-size="21" text-anchor="middle">G1</text>
<text x="710.2" y="531" font-size="21" text-anchor="middle">S</text>
<text x="739.9" y="531" font-size="21" text-anchor="middle">G2</text>
<g transform="matrix(31.6 0 0 1 479.3 0)" shape-rendering="crispEdges">
<rect y="541.5" width="1" height="2" fill="#000032"/><rect y="543.5" width="1" height="3" fill="#000012"/><rect y="546.5" width="1" height="3" fill="#000036"/><rect y="549.5" width="1" height="2" fill="#000024"/><rect y="551.5" width="1" height="2" fill="#000039"/><rect y="553.5" width="1" height="3" fill="#000018"/><rect y="556.5" width="1" height="1" fill="#0e0e00"/><rect y="557.5" width="1" height="1" fill="#000016"/><rect y="558.5" width="1" height="2" fill="#000025"/><rect y="560.5" width="1" height="1" fill="#00000e"/><rect y="561.5" width="1" height="2" fill="#000028"/><rect y="563.5" width="1" height="2" fill="#000028"/><rect y="565.5" width="1" height="1" fill="#000030"/><rect y="566.5" width="1" height="1" fill="#00000e"/><rect y="567.5" width="1" height="1" fill="#0c0c00"/><rect y="568.5" width="1" height="2" fill="#000045"/><rect y="570.5" width="1" height="1" fill="#00001f"/><rect y="571.5" width="1" height="3" fill="#131300"/><rect y="574.5" width="1" height="2" fill="#000036"/><rect y="576.5" width="1" height="2" fill="#302f00"/><rect y="578.5" width="1" height="3" fill="#000021"/><rect y="581.5" width="1" height="1" fill="#000008"/><rect y="582.5" width="1" height="1" fill="#000038"/><rect y="583.5" width="1" height="2" fill="#0f0f00"/><rect y="585.5" width="1" height="3" fill="#111100"/><rect y="588.5" width="1" height="1" fill="#000047"/><rect y="589.5" width="1" height="1" fill="#000045"/><rect y="590.5" width="1" height="2" fill="#000046"/><rect y="592.5" width="1" height="2" fill="#000045"/><rect y="594.5" width="1" height="2" fill="#000065"/><rect y="596.5" width="1" height="1" fill="#000044"/><rect y="597.5" width="1" height="1" fill="#00005d"/><rect y="598.5" width="1" height="1" fill="#000039"/><rect y="599.5" width="1" height="3" fill="#000039"/><rect y="602.5" width="1" height="2" fill="#00001a"/><rect y="604.5" width="1" height="2" fill="#00001e"/><rect y="606.5" width="1" height="1" fill="#00001f"/><rect y="607.5" width="1" height="3" fill="#000011"/><rect y="610.5" width="1" height="1" fill="#000022"/><rect y="611.5" width="1" height="3" fill="#000047"/><rect y="614.5" width="1" height="2" fill="#00005a"/><rect y="616.5" width="1" height="3" fill="#000011"/><rect y="619.5" width="1" height="1" fill="#000081"/><rect y="620.5" width="1" height="2" fill="#000027"/><rect y="622.5" width="1" height="3" fill="#000033"/><rect y="625.5" width="1" height="1" fill="#000016"/><rect y="626.5" width="1" height="3" fill="#000035"/><rect y="629.5" width="1" height="3" fill="#000046"/><rect y="632.5" width="1" height="1" fill="#000069"/><rect y="633.5" width="1" height="2" fill="#00002b"/><rect y="635.5" width="1" height="2" fill="#000052"/><rect y="637.5" width="1" height="3" fill="#00002c"/><rect y="640.5" width="1" height="1" fill="#00006a"/><rect y="641.5" width="1" height="3" fill="#00006c"/><rect y="644.5" width="1" height="1" fill="#00003c"/><rect y="645.5" width="1" height="1" fill="#00003e"/><rect y="646.5" width="1" height="2" fill="#000045"/><rect y="648.5" width="1" height="2" fill="#00002e"/><rect y="650.5" width="1" height="2" fill="#000034"/><rect y="652.5" width="1" height="2" fill="#00003e"/><rect y="654.5" width="1" height="3" fill="#00004e"/><rect y="657.5" width="1" height="2" fill="#000012"/><rect y="659.5" width="1" height="1" fill="#000018"/><rect y="660.5" width="1" height="3" fill="#000050"/><rect y="663.5" width="1" height="2" fill="#000067"/><rect y="665.5" width="1" height="2" fill="#00005c"/><rect y="667.5" width="1" height="2" fill="#00003f"/><rect y="669.5" width="1" height="3" fill="#000037"/><rect y="672.5" width="1" height="3" fill="#00001f"/><rect y="675.5" width="1" height="2" fill="#000039"/><rect y="677.5" width="1" height="1" fill="#000049"/><rect y="678.5" width="1" height="1" fill="#00003e"/><rect y="679.5" width="1" height="1" fill="#000025"/><rect y="680.5" width="1" height="2" fill="#00002a"/><rect y="682.5" width="1" height="1" fill="#00000c"/><rect y="683.5" width="1" height="2" fill="#00003b"/><rect y="685.5" width="1" height="3" fill="#000045"/><rect y="688.5" width="1" height="1" fill="#00005e"/><rect y="689.5" width="1" height="1" fill="#00003b"/><rect y="690.5" width="1" height="3" fill="#00002f"/><rect y="693.5" width="1" height="3" fill="#000034"/><rect y="696.5" width="1" height="2" fill="#000017"/><rect y="698.5" width="1" height="2" fill="#00003e"/><rect y="700.5" width="1" height="1" fill="#00001c"/><rect y="701.5" width="1" height="2" fill="#000059"/><rect y="703.5" width="1" height="1" fill="#000081"/><rect y="704.5" width="1" height="3" fill="#00003d"/><rect y="707.5" width="1" height="3" fill="#000020"/><rect y="710.5" width="1" height="1" fill="#000058"/><rect y="711.5" width="1" height="2" fill="#000031"/><rect y="713.5" width="1" height="3" fill="#000031"/><rect y="716.5" width="1" height="1" fill="#000038"/><rect y="717.5" width="1" height="1" fill="#000034"/><rect y="718.5" width="1" height="1" fill="#101000"/><rect y="719.5" width="1" height="3" fill="#000018"/><rect y="722.5" width="1" height="1" fill="#00001f"/><rect y="723.5" width="1" height="3" fill="#000039"/><rect y="726.5" width="1" height="1" fill="#00004a"/><rect y="727.5" width="1" height="3" fill="#000038"/><rect y="730.5" width="1" height="3" fill="#00002c"/><rect y="733.5" width="1" height="1" fill="#000041"/><rect y="734.5" width="1" height="2" fill="#00004d"/><rect y="736.5" width="1" height="3" fill="#00004f"/><rect y="739.5" width="1" height="1" fill="#000029"/><rect y="740.5" width="1" height="3" fill="#000016"/><rect y="743.5" width="1" height="1" fill="#00002b"/><rect y="744.5" width="1" height="2" fill="#000022"/><rect y="746.5" width="1" height="3" fill="#000039"/><rect y="749.5" width="1" height="2" fill="#000027"/><rect y="751.5" width="1" height="2" fill="#00006e"/><rect y="753.5" width="1" height="1" fill="#000003"/><rect y="754.5" width="1" height="1" fill="#00000b"/><rect y="755.5" width="1" height="1" fill="#000033"/><rect y="756.5" width="1" height="1" fill="#000015"/><rect y="757.5" width="1" height="2" fill="#000041"/><rect y="759.5" width="1" height="2" fill="#00003c"/><rect y="761.5" width="1" height="1" fill="#000034"/><rect y="762.5" width="1" height="2" fill="#00002e"/><rect y="764.5" width="1" height="1" fill="#000045"/><rect y="765.5" width="1" height="3" fill="#000032"/><rect y="768.5" width="1" height="1" fill="#050500"/><rect y="769.5" width="1" height="1" fill="#000043"/><rect y="770.5" width="1" height="1" fill="#000060"/><rect y="771.5" width="1" height="2" fill="#000033"/><rect y="773.5" width="1" height="2" fill="#000057"/><rect y="775.5" width="1" height="2" fill="#00005d"/><rect y="777.5" width="1" height="2" fill="#000056"/><rect y="779.5" width="1" height="1" fill="#00004f"/><rect y="780.5" width="1" height="1" fill="#000018"/><rect y="781.5" width="1" height="2" fill="#000023"/><rect y="783.5" width="1" height="2" fill="#00002a"/><rect y="785.5" width="1" height="1" fill="#00000f"/><rect y="786.5" width="1" height="1" fill="#000027"/><rect y="787.5" width="1" height="2" fill="#000036"/><rect y="789.5" width="1" height="2" fill="#000028"/><rect y="791.5" width="1" height="3" fill="#00001b"/><rect y="794.5" width="1" height="3" fill="#000047"/><rect y="797.5" width="1" height="2" fill="#000045"/><rect y="799.5" width="1" height="1" fill="#000058"/><rect y="800.5" width="1" height="2" fill="#00003e"/><rect y="802.5" width="1" height="1" fill="#00001a"/><rect y="803.5" width="1" height="1" fill="#00005b"/><rect y="804.5" width="1" height="2" fill="#000053"/><rect y="806.5" width="1" height="1" fill="#000020"/><rect y="807.5" width="1" height="1" fill="#00003f"/><rect y="808.5" width="1" height="1" fill="#000040"/><rect y="809.5" width="1" height="1" fill="#000052"/><rect y="810.5" width="1" height="2" fill="#000030"/><rect y="812.5" width="1" height="2" fill="#00001f"/><rect y="814.5" width="1" height="2" fill="#00003f"/><rect y="816.5" width="1" height="2" fill="#00002b"/><rect y="818.5" width="1" height="2" fill="#00005e"/><rect y="820.5" width="1" height="2" fill="#000027"/><rect y="822.5" width="1" height="2" fill="#00003d"/><rect y="824.5" width="1" height="3" fill="#000025"/><rect y="827.5" width="1" height="1" fill="#000031"/><rect y="828.5" width="1" height="1" fill="#000003"/><rect y="829.5" width="1" height="3" fill="#000003"/><rect y="832.5" width="1" height="2" fill="#000045"/><rect y="834.5" width="1" height="1" fill="#00001a"/><rect y="835.5" width="1" height="3" fill="#000026"/><rect y="838.5" width="1" height="2" fill="#020200"/><rect y="840.5" width="1" height="2" fill="#00001c"/><rect y="842.5" width="1" height="3" fill="#000044"/><rect y="845.5" width="1" height="3" fill="#000036"/><rect y="848.5" width="1" height="1" fill="#000039"/><rect y="849.5" width="1" height="2" fill="#00004e"/><rect y="851.5" width="1" height="2" fill="#000010"/><rect y="853.5" width="1" height="3" fill="#000024"/><rect y="856.5" width="1" height="2" fill="#000048"/><rect y="858.5" width="1" height="1" fill="#000038"/><rect y="859.5" width="1" height="2" fill="#000012"/><rect y="861.5" width="1" height="2" fill="#00003b"/><rect y="863.5" width="1" height="3" fill="#00001c"/><rect y="866.5" width="1" height="2" fill="#000032"/><rect y="868.5" width="1" height="3" fill="#00002e"/><rect y="871.5" width="1" height="1" fill="#000018"/><rect y="872.5" width="1" height="3" fill="#000024"/><rect y="875.5" width="1" height="2" fill="#000036"/><rect y="877.5" width="1" height="3" fill="#000024"/><rect y="880.5" width="1" height="2" fill="#00003d"/><rect y="882.5" width="1" height="1" fill="#00003a"/><rect y="883.5" width="1" height="3" fill="#000050"/><rect y="886.5" width="1" height="1" fill="#00003a"/><rect y="887.5" width="1" height="3" fill="#00006b"/><rect y="890.5" width="1" height="2" fill="#000029"/><rect y="892.5" width="1" height="2" fill="#000036"/><rect y="894.5" width="1" height="1" fill="#000021"/><rect y="895.5" width="1" height="3" fill="#000032"/><rect y="898.5" width="1" height="3" fill="#00003d"/><rect y="901.5" width="1" height="3" fill="#00003b"/><rect y="904.5" width="1" height="3" fill="#000046"/><rect y="907.5" width="1" height="2" fill="#000027"/><rect y="909.5" width="1" height="1" fill="#00004c"/><rect y="910.5" width="1" height="3" fill="#000078"/><rect y="913.5" width="1" height="1" fill="#00003f"/><rect y="914.5" width="1" height="2" fill="#000042"/><rect y="916.5" width="1" height="1" fill="#000054"/><rect y="917.5" width="1" height="2" fill="#00003e"/><rect y="919.5" width="1" height="2" fill="#000056"/><rect y="921.5" width="1" height="1" fill="#000065"/><rect y="922.5" width="1" height="2" fill="#000051"/><rect y="924.5" width="1" height="1" fill="#00004c"/><rect y="925.5" width="1" height="2" fill="#000034"/>
</g>
<g transform="matrix(31.6 0 0 1 510.3 0)" shape-rendering="crispEdges">
<rect y="541.5" width="1" height="2" fill="#131200"/><rect y="543.5" width="1" height="3" fill="#000043"/><rect y="546.5" width="1" height="3" fill="#000027"/><rect y="549.5" width="1" height="2" fill="#00001e"/><rect y="551.5" width="1" height="2" fill="#00004e"/><rect y="553.5" width="1" height="3" fill="#00001b"/><rect y="556.5" width="1" height="1" fill="#000006"/><rect y="557.5" width="1" height="1" fill="#000013"/><rect y="558.5" width="1" height="2" fill="#000052"/><rect y="560.5" width="1" height="1" fill="#00002c"/><rect y="561.5" width="1" height="2" fill="#00003a"/><rect y="563.5" width="1" height="2" fill="#00002e"/><rect y="565.5" width="1" height="1" fill="#000007"/><rect y="566.5" width="1" height="1" fill="#000045"/><rect y="567.5" width="1" height="1" fill="#1a1900"/><rect y="568.5" width="1" height="2" fill="#00002d"/><rect y="570.5" width="1" height="1" fill="#000056"/><rect y="571.5" width="1" height="3" fill="#000044"/><rect y="574.5" width="1" height="2" fill="#00001e"/><rect y="576.5" width="1" height="2" fill="#201f00"/><rect y="578.5" width="1" height="3" fill="#171600"/><rect y="581.5" width="1" height="1" fill="#141300"/><rect y="582.5" width="1" height="1" fill="#000037"/><rect y="583.5" width="1" height="2" fill="#121100"/><rect y="585.5" width="1" height="3" fill="#000073"/><rect y="588.5" width="1" height="1" fill="#1b1b00"/><rect y="589.5" width="1" height="1" fill="#000079"/><rect y="590.5" width="1" height="2" fill="#00006f"/><rect y="592.5" width="1" height="2" fill="#0000a5"/><rect y="594.5" width="1" height="2" fill="#000070"/><rect y="596.5" width="1" height="1" fill="#000070"/><rect y="597.5" width="1" height="1" fill="#00008b"/><rect y="598.5" width="1" height="1" fill="#00004b"/><rect y="599.5" width="1" height="3" fill="#00006b"/><rect y="602.5" width="1" height="2" fill="#000073"/><rect y="604.5" width="1" height="2" fill="#00005c"/><rect y="606.5" width="1" height="1" fill="#000042"/><rect y="607.5" width="1" height="3" fill="#000066"/><rect y="610.5" width="1" height="1" fill="#000083"/><rect y="611.5" width="1" height="3" fill="#00007d"/><rect y="614.5" width="1" height="2" fill="#000082"/><rect y="616.5" width="1" height="3" fill="#000059"/><rect y="619.5" width="1" height="1" fill="#0000af"/><rect y="620.5" width="1" height="2" fill="#000071"/><rect y="622.5" width="1" height="3" fill="#000087"/><rect y="625.5" width="1" height="1" fill="#000065"/><rect y="626.5" width="1" height="3" fill="#00006f"/><rect y="629.5" width="1" height="3" fill="#000080"/><rect y="632.5" width="1" height="1" fill="#000063"/><rect y="633.5" width="1" height="2" fill="#000088"/><rect y="635.5" width="1" height="2" fill="#000077"/><rect y="637.5" width="1" height="3" fill="#000062"/><rect y="640.5" width="1" height="1" fill="#000092"/><rect y="641.5" width="1" height="3" fill="#0000a4"/><rect y="644.5" width="1" height="1" fill="#0000a1"/><rect y="645.5" width="1" height="1" fill="#00007b"/><rect y="646.5" width="1" height="2" fill="#000073"/><rect y="648.5" width="1" height="2" fill="#00008f"/><rect y="650.5" width="1" height="2" fill="#000045"/><rect y="652.5" width="1" height="2" fill="#00006f"/><rect y="654.5" width="1" height="3" fill="#000097"/><rect y="657.5" width="1" height="2" fill="#00005e"/><rect y="659.5" width="1" height="1" fill="#000052"/><rect y="660.5" width="1" height="3" fill="#0000a6"/><rect y="663.5" width="1" height="2" fill="#00007d"/><rect y="665.5" width="1" height="2" fill="#000089"/><rect y="667.5" width="1" height="2" fill="#00007c"/><rect y="669.5" width="1" height="3" fill="#000062"/><rect y="672.5" width="1" height="3" fill="#000071"/><rect y="675.5" width="1" height="2" fill="#000090"/><rect y="677.5" width="1" height="1" fill="#000094"/><rect y="678.5" width="1" height="1" fill="#000099"/><rect y="679.5" width="1" height="1" fill="#00008a"/><rect y="680.5" width="1" height="2" fill="#000043"/><rect y="682.5" width="1" height="1" fill="#000040"/><rect y="683.5" width="1" height="2" fill="#00006e"/><rect y="685.5" width="1" height="3" fill="#000093"/><rect y="688.5" width="1" height="1" fill="#00008a"/><rect y="689.5" width="1" height="1" fill="#00008d"/><rect y="690.5" width="1" height="3" fill="#000058"/><rect y="693.5" width="1" height="3" fill="#00008f"/><rect y="696.5" width="1" height="2" fill="#000079"/><rect y="698.5" width="1" height="2" fill="#00008d"/><rect y="700.5" width="1" height="1" fill="#000054"/><rect y="701.5" width="1" height="2" fill="#0000a0"/><rect y="703.5" width="1" height="1" fill="#0000af"/><rect y="704.5" width="1" height="3" fill="#000089"/><rect y="707.5" width="1" height="3" fill="#000068"/><rect y="710.5" width="1" height="1" fill="#000083"/><rect y="711.5" width="1" height="2" fill="#00007c"/><rect y="713.5" width="1" height="3" fill="#00006c"/><rect y="716.5" width="1" height="1" fill="#00008b"/><rect y="717.5" width="1" height="1" fill="#00009e"/><rect y="718.5" width="1" height="1" fill="#000048"/><rect y="719.5" width="1" height="3" fill="#00004f"/><rect y="722.5" width="1" height="1" fill="#000070"/><rect y="723.5" width="1" height="3" fill="#00008b"/><rect y="726.5" width="1" height="1" fill="#000089"/><rect y="727.5" width="1" height="3" fill="#000081"/><rect y="730.5" width="1" height="3" fill="#000058"/><rect y="733.5" width="1" height="1" fill="#000069"/><rect y="734.5" width="1" height="2" fill="#000090"/><rect y="736.5" width="1" height="3" fill="#000097"/><rect y="739.5" width="1" height="1" fill="#00006b"/><rect y="740.5" width="1" height="3" fill="#000054"/><rect y="743.5" width="1" height="1" fill="#000088"/><rect y="744.5" width="1" height="2" fill="#000056"/><rect y="746.5" width="1" height="3" fill="#00007f"/><rect y="749.5" width="1" height="2" fill="#000073"/><rect y="751.5" width="1" height="2" fill="#0000a3"/><rect y="753.5" width="1" height="1" fill="#000068"/><rect y="754.5" width="1" height="1" fill="#00006e"/><rect y="755.5" width="1" height="1" fill="#00007f"/><rect y="756.5" width="1" height="1" fill="#000098"/><rect y="757.5" width="1" height="2" fill="#00006f"/><rect y="759.5" width="1" height="2" fill="#00007f"/><rect y="761.5" width="1" height="1" fill="#000074"/><rect y="762.5" width="1" height="2" fill="#000085"/><rect y="764.5" width="1" height="1" fill="#00009c"/><rect y="765.5" width="1" height="3" fill="#00006b"/><rect y="768.5" width="1" height="1" fill="#000069"/><rect y="769.5" width="1" height="1" fill="#000087"/><rect y="770.5" width="1" height="1" fill="#000092"/><rect y="771.5" width="1" height="2" fill="#000072"/><rect y="773.5" width="1" height="2" fill="#000089"/><rect y="775.5" width="1" height="2" fill="#00009e"/><rect y="777.5" width="1" height="2" fill="#000072"/><rect y="779.5" width="1" height="1" fill="#000085"/><rect y="780.5" width="1" height="1" fill="#00005f"/><rect y="781.5" width="1" height="2" fill="#000083"/><rect y="783.5" width="1" height="2" fill="#00006f"/><rect y="785.5" width="1" height="1" fill="#000078"/><rect y="786.5" width="1" height="1" fill="#00007c"/><rect y="787.5" width="1" height="2" fill="#000078"/><rect y="789.5" width="1" height="2" fill="#00006e"/><rect y="791.5" width="1" height="3" fill="#00006b"/><rect y="794.5" width="1" height="3" fill="#000059"/><rect y="797.5" width="1" height="2" fill="#000052"/><rect y="799.5" width="1" height="1" fill="#000094"/><rect y="800.5" width="1" height="2" fill="#00007a"/><rect y="802.5" width="1" height="1" fill="#000075"/><rect y="803.5" width="1" height="1" fill="#00006a"/><rect y="804.5" width="1" height="2" fill="#000078"/><rect y="806.5" width="1" height="1" fill="#00005c"/><rect y="807.5" width="1" height="1" fill="#00003c"/><rect y="808.5" width="1" height="1" fill="#000042"/><rect y="809.5" width="1" height="1" fill="#00007c"/><rect y="810.5" width="1" height="2" fill="#000065"/><rect y="812.5" width="1" height="2" fill="#00003c"/><rect y="814.5" width="1" height="2" fill="#000070"/><rect y="816.5" width="1" height="2" fill="#00008e"/><rect y="818.5" width="1" height="2" fill="#00006a"/><rect y="820.5" width="1" height="2" fill="#00006a"/><rect y="822.5" width="1" height="2" fill="#000056"/><rect y="824.5" width="1" height="3" fill="#000080"/><rect y="827.5" width="1" height="1" fill="#00004e"/><rect y="828.5" width="1" height="1" fill="#00004f"/><rect y="829.5" width="1" height="3" fill="#000053"/><rect y="832.5" width="1" height="2" fill="#00005a"/><rect y="834.5" width="1" height="1" fill="#000075"/><rect y="835.5" width="1" height="3" fill="#00008b"/><rect y="838.5" width="1" height="2" fill="#00002a"/><rect y="840.5" width="1" height="2" fill="#00004c"/><rect y="842.5" width="1" height="3" fill="#00008a"/><rect y="845.5" width="1" height="3" fill="#000059"/><rect y="848.5" width="1" height="1" fill="#000047"/><rect y="849.5" width="1" height="2" fill="#000069"/><rect y="851.5" width="1" height="2" fill="#000090"/><rect y="853.5" width="1" height="3" fill="#00007b"/><rect y="856.5" width="1" height="2" fill="#00009c"/><rect y="858.5" width="1" height="1" fill="#000056"/><rect y="859.5" width="1" height="2" fill="#000053"/><rect y="861.5" width="1" height="2" fill="#000057"/><rect y="863.5" width="1" height="3" fill="#000048"/><rect y="866.5" width="1" height="2" fill="#000066"/><rect y="868.5" width="1" height="3" fill="#000062"/><rect y="871.5" width="1" height="1" fill="#000063"/><rect y="872.5" width="1" height="3" fill="#000065"/><rect y="875.5" width="1" height="2" fill="#00008a"/><rect y="877.5" width="1" height="3" fill="#000058"/><rect y="880.5" width="1" height="2" fill="#00004e"/><rect y="882.5" width="1" height="1" fill="#00005b"/><rect y="883.5" width="1" height="3" fill="#00009d"/><rect y="886.5" width="1" height="1" fill="#00005e"/><rect y="887.5" width="1" height="3" fill="#000086"/><rect y="890.5" width="1" height="2" fill="#000069"/><rect y="892.5" width="1" height="2" fill="#000059"/><rect y="894.5" width="1" height="1" fill="#00005a"/><rect y="895.5" width="1" height="3" fill="#000078"/><rect y="898.5" width="1" height="3" fill="#00007c"/><rect y="901.5" width="1" height="3" fill="#00005d"/><rect y="904.5" width="1" height="3" fill="#000052"/><rect y="907.5" width="1" height="2" fill="#000079"/><rect y="909.5" width="1" height="1" fill="#000074"/><rect y="910.5" width="1" height="3" fill="#0000af"/><rect y="913.5" width="1" height="1" fill="#00007e"/><rect y="914.5" width="1" height="2" fill="#000071"/><rect y="916.5" width="1" height="1" fill="#00003c"/><rect y="917.5" width="1" height="2" fill="#000049"/><rect y="919.5" width="1" height="2" fill="#000075"/><rect y="921.5" width="1" height="1" fill="#000091"/><rect y="922.5" width="1" height="2" fill="#00007a"/><rect y="924.5" width="1" height="1" fill="#000072"/><rect y="925.5" width="1" height="2" fill="#00006e"/>
</g>
<g transform="matrix(31.6 0 0 1 541.3 0)" shape-rendering="crispEdges">
<rect y="541.5" width="1" height="2" fill="#00002b"/><rect y="543.5" width="1" height="3" fill="#000046"/><rect y="546.5" width="1" height="3" fill="#000029"/><rect y="549.5" width="1" height="2" fill="#000047"/><rect y="551.5" width="1" height="2" fill="#000064"/><rect y="553.5" width="1" height="3" fill="#000030"/><rect y="556.5" width="1" height="1" fill="#00006d"/><rect y="557.5" width="1" height="1" fill="#000053"/><rect y="558.5" width="1" height="2" fill="#00005c"/><rect y="560.5" width="1" height="1" fill="#000058"/><rect y="561.5" width="1" height="2" fill="#000058"/><rect y="563.5" width="1" height="2" fill="#00004b"/><rect y="565.5" width="1" height="1" fill="#00003c"/><rect y="566.5" width="1" height="1" fill="#00005a"/><rect y="567.5" width="1" height="1" fill="#000047"/><rect y="568.5" width="1" height="2" fill="#00005a"/><rect y="570.5" width="1" height="1" fill="#303000"/><rect y="571.5" width="1" height="3" fill="#1a1a00"/><rect y="574.5" width="1" height="2" fill="#373700"/><rect y="576.5" width="1" height="2" fill="#030300"/><rect y="578.5" width="1" height="3" fill="#000052"/><rect y="581.5" width="1" height="1" fill="#303000"/><rect y="582.5" width="1" height="1" fill="#000053"/><rect y="583.5" width="1" height="2" fill="#141400"/><rect y="585.5" width="1" height="3" fill="#000020"/><rect y="588.5" width="1" height="1" fill="#000003"/><rect y="589.5" width="1" height="1" fill="#000086"/><rect y="590.5" width="1" height="2" fill="#000069"/><rect y="592.5" width="1" height="2" fill="#000088"/><rect y="594.5" width="1" height="2" fill="#000087"/><rect y="596.5" width="1" height="1" fill="#00007d"/><rect y="597.5" width="1" height="1" fill="#00006e"/><rect y="598.5" width="1" height="1" fill="#000048"/><rect y="599.5" width="1" height="3" fill="#00008b"/><rect y="602.5" width="1" height="2" fill="#000075"/><rect y="604.5" width="1" height="2" fill="#000054"/><rect y="606.5" width="1" height="1" fill="#000053"/><rect y="607.5" width="1" height="3" fill="#00005d"/><rect y="610.5" width="1" height="1" fill="#000057"/><rect y="611.5" width="1" height="3" fill="#0000aa"/><rect y="614.5" width="1" height="2" fill="#000090"/><rect y="616.5" width="1" height="3" fill="#000052"/><rect y="619.5" width="1" height="1" fill="#000080"/><rect y="620.5" width="1" height="2" fill="#00005d"/><rect y="622.5" width="1" height="3" fill="#00005a"/><rect y="625.5" width="1" height="1" fill="#00005c"/><rect y="626.5" width="1" height="3" fill="#000057"/><rect y="629.5" width="1" height="3" fill="#000075"/><rect y="632.5" width="1" height="1" fill="#000083"/><rect y="633.5" width="1" height="2" fill="#000054"/><rect y="635.5" width="1" height="2" fill="#000094"/><rect y="637.5" width="1" height="3" fill="#00007b"/><rect y="640.5" width="1" height="1" fill="#000072"/><rect y="641.5" width="1" height="3" fill="#00008e"/><rect y="644.5" width="1" height="1" fill="#0000ad"/><rect y="645.5" width="1" height="1" fill="#00007c"/><rect y="646.5" width="1" height="2" fill="#0000ad"/><rect y="648.5" width="1" height="2" fill="#000083"/><rect y="650.5" width="1" height="2" fill="#000058"/><rect y="652.5" width="1" height="2" fill="#00006d"/><rect y="654.5" width="1" height="3" fill="#000088"/><rect y="657.5" width="1" height="2" fill="#000043"/><rect y="659.5" width="1" height="1" fill="#00008f"/><rect y="660.5" width="1" height="3" fill="#000086"/><rect y="663.5" width="1" height="2" fill="#00006f"/><rect y="665.5" width="1" height="2" fill="#000084"/><rect y="667.5" width="1" height="2" fill="#000081"/><rect y="669.5" width="1" height="3" fill="#000071"/><rect y="672.5" width="1" height="3" fill="#000067"/><rect y="675.5" width="1" height="2" fill="#000084"/><rect y="677.5" width="1" height="1" fill="#0000af"/><rect y="678.5" width="1" height="1" fill="#000072"/><rect y="679.5" width="1" height="1" fill="#000095"/><rect y="680.5" width="1" height="2" fill="#000060"/><rect y="682.5" width="1" height="1" fill="#00005a"/><rect y="683.5" width="1" height="2" fill="#000077"/><rect y="685.5" width="1" height="3" fill="#00008e"/><rect y="688.5" width="1" height="1" fill="#00009d"/><rect y="689.5" width="1" height="1" fill="#000089"/><rect y="690.5" width="1" height="3" fill="#000075"/><rect y="693.5" width="1" height="3" fill="#000087"/><rect y="696.5" width="1" height="2" fill="#000091"/><rect y="698.5" width="1" height="2" fill="#000079"/><rect y="700.5" width="1" height="1" fill="#00006f"/><rect y="701.5" width="1" height="2" fill="#000081"/><rect y="703.5" width="1" height="1" fill="#0000af"/><rect y="704.5" width="1" height="3" fill="#000082"/><rect y="707.5" width="1" height="3" fill="#00006b"/><rect y="710.5" width="1" height="1" fill="#00008d"/><rect y="711.5" width="1" height="2" fill="#00006f"/><rect y="713.5" width="1" height="3" fill="#00007e"/><rect y="716.5" width="1" height="1" fill="#00006f"/><rect y="717.5" width="1" height="1" fill="#0000af"/><rect y="718.5" width="1" height="1" fill="#000042"/><rect y="719.5" width="1" height="3" fill="#00005f"/><rect y="722.5" width="1" height="1" fill="#00006a"/><rect y="723.5" width="1" height="3" fill="#000075"/><rect y="726.5" width="1" height="1" fill="#000043"/><rect y="727.5" width="1" height="3" fill="#000080"/><rect y="730.5" width="1" height="3" fill="#000057"/><rect y="733.5" width="1" height="1" fill="#00005a"/><rect y="734.5" width="1" height="2" fill="#000085"/><rect y="736.5" width="1" height="3" fill="#0000a2"/><rect y="739.5" width="1" height="1" fill="#000053"/><rect y="740.5" width="1" height="3" fill="#000078"/><rect y="743.5" width="1" height="1" fill="#00008a"/><rect y="744.5" width="1" height="2" fill="#000078"/><rect y="746.5" width="1" height="3" fill="#000090"/><rect y="749.5" width="1" height="2" fill="#00009b"/><rect y="751.5" width="1" height="2" fill="#000078"/><rect y="753.5" width="1" height="1" fill="#000089"/><rect y="754.5" width="1" height="1" fill="#00006a"/><rect y="755.5" width="1" height="1" fill="#000068"/><rect y="756.5" width="1" height="1" fill="#00008d"/><rect y="757.5" width="1" height="2" fill="#00005d"/><rect y="759.5" width="1" height="2" fill="#000069"/><rect y="761.5" width="1" height="1" fill="#00007d"/><rect y="762.5" width="1" height="2" fill="#00005a"/><rect y="764.5" width="1" height="1" fill="#00007b"/><rect y="765.5" width="1" height="3" fill="#000075"/><rect y="768.5" width="1" height="1" fill="#000042"/><rect y="769.5" width="1" height="1" fill="#000076"/><rect y="770.5" width="1" height="1" fill="#00007d"/><rect y="771.5" width="1" height="2" fill="#00008b"/><rect y="773.5" width="1" height="2" fill="#000093"/><rect y="775.5" width="1" height="2" fill="#000073"/><rect y="777.5" width="1" height="2" fill="#000096"/><rect y="779.5" width="1" height="1" fill="#000089"/><rect y="780.5" width="1" height="1" fill="#000027"/><rect y="781.5" width="1" height="2" fill="#000089"/><rect y="783.5" width="1" height="2" fill="#000086"/><rect y="785.5" width="1" height="1" fill="#000067"/><rect y="786.5" width="1" height="1" fill="#00005c"/><rect y="787.5" width="1" height="2" fill="#000080"/><rect y="789.5" width="1" height="2" fill="#000057"/><rect y="791.5" width="1" height="3" fill="#000058"/><rect y="794.5" width="1" height="3" fill="#000070"/><rect y="797.5" width="1" height="2" fill="#000069"/><rect y="799.5" width="1" height="1" fill="#000071"/><rect y="800.5" width="1" height="2" fill="#000081"/><rect y="802.5" width="1" height="1" fill="#000062"/><rect y="803.5" width="1" height="1" fill="#00009a"/><rect y="804.5" width="1" height="2" fill="#000039"/><rect y="806.5" width="1" height="1" fill="#00006f"/><rect y="807.5" width="1" height="1" fill="#000053"/><rect y="808.5" width="1" height="1" fill="#00003b"/><rect y="809.5" width="1" height="1" fill="#000088"/><rect y="810.5" width="1" height="2" fill="#000047"/><rect y="812.5" width="1" height="2" fill="#000058"/><rect y="814.5" width="1" height="2" fill="#0000ab"/><rect y="816.5" width="1" height="2" fill="#00008f"/><rect y="818.5" width="1" height="2" fill="#000057"/><rect y="820.5" width="1" height="2" fill="#00005e"/><rect y="822.5" width="1" height="2" fill="#000040"/><rect y="824.5" width="1" height="3" fill="#000088"/><rect y="827.5" width="1" height="1" fill="#000079"/><rect y="828.5" width="1" height="1" fill="#000046"/><rect y="829.5" width="1" height="3" fill="#000058"/><rect y="832.5" width="1" height="2" fill="#000088"/><rect y="834.5" width="1" height="1" fill="#000058"/><rect y="835.5" width="1" height="3" fill="#00003d"/><rect y="838.5" width="1" height="2" fill="#000051"/><rect y="840.5" width="1" height="2" fill="#00004a"/><rect y="842.5" width="1" height="3" fill="#00004b"/><rect y="845.5" width="1" height="3" fill="#00003d"/><rect y="848.5" width="1" height="1" fill="#00005c"/><rect y="849.5" width="1" height="2" fill="#000064"/><rect y="851.5" width="1" height="2" fill="#0000a3"/><rect y="853.5" width="1" height="3" fill="#000069"/><rect y="856.5" width="1" height="2" fill="#000085"/><rect y="858.5" width="1" height="1" fill="#00006d"/><rect y="859.5" width="1" height="2" fill="#000062"/><rect y="861.5" width="1" height="2" fill="#00007c"/><rect y="863.5" width="1" height="3" fill="#000040"/><rect y="866.5" width="1" height="2" fill="#000050"/><rect y="868.5" width="1" height="3" fill="#00005e"/><rect y="871.5" width="1" height="1" fill="#000082"/><rect y="872.5" width="1" height="3" fill="#00007a"/><rect y="875.5" width="1" height="2" fill="#000089"/><rect y="877.5" width="1" height="3" fill="#000055"/><rect y="880.5" width="1" height="2" fill="#00006e"/><rect y="882.5" width="1" height="1" fill="#000050"/><rect y="883.5" width="1" height="3" fill="#000074"/><rect y="886.5" width="1" height="1" fill="#000066"/><rect y="887.5" width="1" height="3" fill="#000058"/><rect y="890.5" width="1" height="2" fill="#00006c"/><rect y="892.5" width="1" height="2" fill="#00004f"/><rect y="894.5" width="1" height="1" fill="#00000b"/><rect y="895.5" width="1" height="3" fill="#000047"/><rect y="898.5" width="1" height="3" fill="#00003e"/><rect y="901.5" width="1" height="3" fill="#000069"/><rect y="904.5" width="1" height="3" fill="#00005e"/><rect y="907.5" width="1" height="2" fill="#000035"/><rect y="909.5" width="1" height="1" fill="#000079"/><rect y="910.5" width="1" height="3" fill="#000090"/><rect y="913.5" width="1" height="1" fill="#000076"/><rect y="914.5" width="1" height="2" fill="#000052"/><rect y="916.5" width="1" height="1" fill="#000041"/><rect y="917.5" width="1" height="2" fill="#000059"/><rect y="919.5" width="1" height="2" fill="#000051"/><rect y="921.5" width="1" height="1" fill="#00007f"/><rect y="922.5" width="1" height="2" fill="#000068"/><rect y="924.5" width="1" height="1" fill="#00006d"/><rect y="925.5" width="1" height="2" fill="#000063"/>
</g>
<g transform="matrix(31.6 0 0 1 572.3 0)" shape-rendering="crispEdges">
<rect y="541.5" width="1" height="2" fill="#00003e"/><rect y="543.5" width="1" height="3" fill="#00004d"/><rect y="546.5" width="1" height="3" fill="#000044"/><rect y="549.5" width="1" height="2" fill="#000040"/><rect y="551.5" width="1" height="2" fill="#000022"/><rect y="553.5" width="1" height="3" fill="#000065"/><rect y="556.5" width="1" height="1" fill="#00005d"/><rect y="557.5" width="1" height="1" fill="#000020"/><rect y="558.5" width="1" height="2" fill="#000060"/><rect y="560.5" width="1" height="1" fill="#00004a"/><rect y="561.5" width="1" height="2" fill="#000030"/><rect y="563.5" width="1" height="2" fill="#000033"/><rect y="565.5" width="1" height="1" fill="#000007"/><rect y="566.5" width="1" height="1" fill="#000064"/><rect y="567.5" width="1" height="1" fill="#000063"/><rect y="568.5" width="1" height="2" fill="#000065"/><rect y="570.5" width="1" height="1" fill="#00006d"/><rect y="571.5" width="1" height="3" fill="#000059"/><rect y="574.5" width="1" height="2" fill="#000066"/><rect y="576.5" width="1" height="2" fill="#00002b"/><rect y="578.5" width="1" height="3" fill="#000090"/><rect y="581.5" width="1" height="1" fill="#4d4c00"/><rect y="582.5" width="1" height="1" fill="#000049"/><rect y="583.5" width="1" height="2" fill="#00007d"/><rect y="585.5" width="1" height="3" fill="#00005d"/><rect y="588.5" width="1" height="1" fill="#000058"/><rect y="589.5" width="1" height="1" fill="#727000"/><rect y="590.5" width="1" height="2" fill="#6b6900"/><rect y="592.5" width="1" height="2" fill="#343300"/><rect y="594.5" width="1" height="2" fill="#242300"/><rect y="596.5" width="1" height="1" fill="#000004"/><rect y="597.5" width="1" height="1" fill="#757400"/><rect y="598.5" width="1" height="1" fill="#0a0a00"/><rect y="599.5" width="1" height="3" fill="#727100"/><rect y="602.5" width="1" height="2" fill="#616000"/><rect y="604.5" width="1" height="2" fill="#afad00"/><rect y="606.5" width="1" height="1" fill="#575600"/><rect y="607.5" width="1" height="3" fill="#737200"/><rect y="610.5" width="1" height="1" fill="#716f00"/><rect y="611.5" width="1" height="3" fill="#666500"/><rect y="614.5" width="1" height="2" fill="#666500"/><rect y="616.5" width="1" height="3" fill="#9a9800"/><rect y="619.5" width="1" height="1" fill="#272700"/><rect y="620.5" width="1" height="2" fill="#2f2f00"/><rect y="622.5" width="1" height="3" fill="#727100"/><rect y="625.5" width="1" height="1" fill="#545300"/><rect y="626.5" width="1" height="3" fill="#040400"/><rect y="629.5" width="1" height="3" fill="#353400"/><rect y="632.5" width="1" height="1" fill="#161600"/><rect y="633.5" width="1" height="2" fill="#585700"/><rect y="635.5" width="1" height="2" fill="#858300"/><rect y="637.5" width="1" height="3" fill="#a5a300"/><rect y="640.5" width="1" height="1" fill="#878600"/><rect y="641.5" width="1" height="3" fill="#5e5c00"/><rect y="644.5" width="1" height="1" fill="#373600"/><rect y="645.5" width="1" height="1" fill="#000013"/><rect y="646.5" width="1" height="2" fill="#000000"/><rect y="648.5" width="1" height="2" fill="#525100"/><rect y="650.5" width="1" height="2" fill="#060600"/><rect y="652.5" width="1" height="2" fill="#030300"/><rect y="654.5" width="1" height="3" fill="#2a2900"/><rect y="657.5" width="1" height="2" fill="#747200"/><rect y="659.5" width="1" height="1" fill="#5e5d00"/><rect y="660.5" width="1" height="3" fill="#0e0e00"/><rect y="663.5" width="1" height="2" fill="#504f00"/><rect y="665.5" width="1" height="2" fill="#00000c"/><rect y="667.5" width="1" height="2" fill="#383700"/><rect y="669.5" width="1" height="3" fill="#939100"/><rect y="672.5" width="1" height="3" fill="#5d5b00"/><rect y="675.5" width="1" height="2" fill="#252500"/><rect y="677.5" width="1" height="1" fill="#000011"/><rect y="678.5" width="1" height="1" fill="#000000"/><rect y="679.5" width="1" height="1" fill="#000000"/><rect y="680.5" width="1" height="2" fill="#525100"/><rect y="682.5" width="1" height="1" fill="#2f2f00"/><rect y="683.5" width="1" height="2" fill="#3c3b00"/><rect y="685.5" width="1" height="3" fill="#313000"/><rect y="688.5" width="1" height="1" fill="#393800"/><rect y="689.5" width="1" height="1" fill="#00000a"/><rect y="690.5" width="1" height="3" fill="#888600"/><rect y="693.5" width="1" height="3" fill="#131300"/><rect y="696.5" width="1" height="2" fill="#6f6e00"/><rect y="698.5" width="1" height="2" fill="#949200"/><rect y="700.5" width="1" height="1" fill="#0a0a00"/><rect y="701.5" width="1" height="2" fill="#000015"/><rect y="703.5" width="1" height="1" fill="#4f4e00"/><rect y="704.5" width="1" height="3" fill="#000014"/><rect y="707.5" width="1" height="3" fill="#000000"/><rect y="710.5" width="1" height="1" fill="#2f2e00"/><rect y="711.5" width="1" height="2" fill="#000015"/><rect y="713.5" width="1" height="3" fill="#605e00"/><rect y="716.5" width="1" height="1" fill="#000014"/><rect y="717.5" width="1" height="1" fill="#1e1d00"/><rect y="718.5" width="1" height="1" fill="#212000"/><rect y="719.5" width="1" height="3" fill="#797700"/><rect y="722.5" width="1" height="1" fill="#555400"/><rect y="723.5" width="1" height="3" fill="#00004c"/><rect y="726.5" width="1" height="1" fill="#161600"/><rect y="727.5" width="1" height="3" fill="#111100"/><rect y="730.5" width="1" height="3" fill="#000017"/><rect y="733.5" width="1" height="1" fill="#2f2f00"/><rect y="734.5" width="1" height="2" fill="#000015"/><rect y="736.5" width="1" height="3" fill="#747200"/><rect y="739.5" width="1" height="1" fill="#000008"/><rect y="740.5" width="1" height="3" fill="#6a6900"/><rect y="743.5" width="1" height="1" fill="#0f0f00"/><rect y="744.5" width="1" height="2" fill="#1b1b00"/><rect y="746.5" width="1" height="3" fill="#000027"/><rect y="749.5" width="1" height="2" fill="#000019"/><rect y="751.5" width="1" height="2" fill="#000056"/><rect y="753.5" width="1" height="1" fill="#000017"/><rect y="754.5" width="1" height="1" fill="#0b0b00"/><rect y="755.5" width="1" height="1" fill="#000005"/><rect y="756.5" width="1" height="1" fill="#000028"/><rect y="757.5" width="1" height="2" fill="#000014"/><rect y="759.5" width="1" height="2" fill="#000018"/><rect y="761.5" width="1" height="1" fill="#000031"/><rect y="762.5" width="1" height="2" fill="#020200"/><rect y="764.5" width="1" height="1" fill="#000034"/><rect y="765.5" width="1" height="3" fill="#000020"/><rect y="768.5" width="1" height="1" fill="#00002a"/><rect y="769.5" width="1" height="1" fill="#00001d"/><rect y="770.5" width="1" height="1" fill="#000037"/><rect y="771.5" width="1" height="2" fill="#000037"/><rect y="773.5" width="1" height="2" fill="#000011"/><rect y="775.5" width="1" height="2" fill="#000018"/><rect y="777.5" width="1" height="2" fill="#00001d"/><rect y="779.5" width="1" height="1" fill="#00001f"/><rect y="780.5" width="1" height="1" fill="#00003c"/><rect y="781.5" width="1" height="2" fill="#0c0c00"/><rect y="783.5" width="1" height="2" fill="#000036"/><rect y="785.5" width="1" height="1" fill="#000020"/><rect y="786.5" width="1" height="1" fill="#00003c"/><rect y="787.5" width="1" height="2" fill="#000028"/><rect y="789.5" width="1" height="2" fill="#000031"/><rect y="791.5" width="1" height="3" fill="#00000e"/><rect y="794.5" width="1" height="3" fill="#00000e"/><rect y="797.5" width="1" height="2" fill="#000014"/><rect y="799.5" width="1" height="1" fill="#00000b"/><rect y="800.5" width="1" height="2" fill="#000009"/><rect y="802.5" width="1" height="1" fill="#000029"/><rect y="803.5" width="1" height="1" fill="#00002f"/><rect y="804.5" width="1" height="2" fill="#00001f"/><rect y="806.5" width="1" height="1" fill="#292800"/><rect y="807.5" width="1" height="1" fill="#000002"/><rect y="808.5" width="1" height="1" fill="#00001a"/><rect y="809.5" width="1" height="1" fill="#00001b"/><rect y="810.5" width="1" height="2" fill="#000008"/><rect y="812.5" width="1" height="2" fill="#000027"/><rect y="814.5" width="1" height="2" fill="#00000b"/><rect y="816.5" width="1" height="2" fill="#00003c"/><rect y="818.5" width="1" height="2" fill="#000011"/><rect y="820.5" width="1" height="2" fill="#383800"/><rect y="822.5" width="1" height="2" fill="#000007"/><rect y="824.5" width="1" height="3" fill="#000025"/><rect y="827.5" width="1" height="1" fill="#00001a"/><rect y="828.5" width="1" height="1" fill="#000006"/><rect y="829.5" width="1" height="3" fill="#000038"/><rect y="832.5" width="1" height="2" fill="#000006"/><rect y="834.5" width="1" height="1" fill="#000051"/><rect y="835.5" width="1" height="3" fill="#00001c"/><rect y="838.5" width="1" height="2" fill="#000010"/><rect y="840.5" width="1" height="2" fill="#000021"/><rect y="842.5" width="1" height="3" fill="#00004f"/><rect y="845.5" width="1" height="3" fill="#000027"/><rect y="848.5" width="1" height="1" fill="#00001b"/><rect y="849.5" width="1" height="2" fill="#000027"/><rect y="851.5" width="1" height="2" fill="#00002d"/><rect y="853.5" width="1" height="3" fill="#00001a"/><rect y="856.5" width="1" height="2" fill="#00001b"/><rect y="858.5" width="1" height="1" fill="#000020"/><rect y="859.5" width="1" height="2" fill="#00006b"/><rect y="861.5" width="1" height="2" fill="#000035"/><rect y="863.5" width="1" height="3" fill="#000032"/><rect y="866.5" width="1" height="2" fill="#000028"/><rect y="868.5" width="1" height="3" fill="#000014"/><rect y="871.5" width="1" height="1" fill="#000014"/><rect y="872.5" width="1" height="3" fill="#000025"/><rect y="875.5" width="1" height="2" fill="#000047"/><rect y="877.5" width="1" height="3" fill="#00002b"/><rect y="880.5" width="1" height="2" fill="#050500"/><rect y="882.5" width="1" height="1" fill="#2c2c00"/><rect y="883.5" width="1" height="3" fill="#000040"/><rect y="886.5" width="1" height="1" fill="#000029"/><rect y="887.5" width="1" height="3" fill="#494900"/><rect y="890.5" width="1" height="2" fill="#00001b"/><rect y="892.5" width="1" height="2" fill="#000047"/><rect y="894.5" width="1" height="1" fill="#1a1a00"/><rect y="895.5" width="1" height="3" fill="#030300"/><rect y="898.5" width="1" height="3" fill="#000001"/><rect y="901.5" width="1" height="3" fill="#535200"/><rect y="904.5" width="1" height="3" fill="#00002a"/><rect y="907.5" width="1" height="2" fill="#151500"/><rect y="909.5" width="1" height="1" fill="#403f00"/><rect y="910.5" width="1" height="3" fill="#000007"/><rect y="913.5" width="1" height="1" fill="#000046"/><rect y="914.5" width="1" height="2" fill="#00001d"/><rect y="916.5" width="1" height="1" fill="#000018"/><rect y="917.5" width="1" height="2" fill="#000013"/><rect y="919.5" width="1" height="2" fill="#00004f"/><rect y="921.5" width="1" height="1" fill="#323200"/><rect y="922.5" width="1" height="2" fill="#000034"/><rect y="924.5" width="1" height="1" fill="#00002b"/><rect y="925.5" width="1" height="2" fill="#3b3a00"/>
</g>
<g transform="matrix(31.6 0 0 1 603.3 0)" shape-rendering="crispEdges">
<rect y="541.5" width="1" height="2" fill="#000057"/><rect y="543.5" width="1" height="3" fill="#000091"/><rect y="546.5" width="1" height="3" fill="#00003c"/><rect y="549.5" width="1" height="2" fill="#000063"/><rect y="551.5" width="1" height="2" fill="#00006e"/><rect y="553.5" width="1" height="3" fill="#00007a"/><rect y="556.5" width="1" height="1" fill="#000077"/><rect y="557.5" width="1" height="1" fill="#000045"/><rect y="558.5" width="1" height="2" fill="#000058"/><rect y="560.5" width="1" height="1" fill="#00006a"/><rect y="561.5" width="1" height="2" fill="#00006c"/><rect y="563.5" width="1" height="2" fill="#000071"/><rect y="565.5" width="1" height="1" fill="#00003f"/><rect y="566.5" width="1" height="1" fill="#0000a9"/><rect y="567.5" width="1" height="1" fill="#000076"/><rect y="568.5" width="1" height="2" fill="#00003d"/><rect y="570.5" width="1" height="1" fill="#00006c"/><rect y="571.5" width="1" height="3" fill="#000069"/><rect y="574.5" width="1" height="2" fill="#000070"/><rect y="576.5" width="1" height="2" fill="#000081"/><rect y="578.5" width="1" height="3" fill="#000092"/><rect y="581.5" width="1" height="1" fill="#000076"/><rect y="582.5" width="1" height="1" fill="#00007d"/><rect y="583.5" width="1" height="2" fill="#00008d"/><rect y="585.5" width="1" height="3" fill="#000070"/><rect y="588.5" width="1" height="1" fill="#00006c"/><rect y="589.5" width="1" height="1" fill="#191900"/><rect y="590.5" width="1" height="2" fill="#161600"/><rect y="592.5" width="1" height="2" fill="#00002b"/><rect y="594.5" width="1" height="2" fill="#000032"/><rect y="596.5" width="1" height="1" fill="#000039"/><rect y="597.5" width="1" height="1" fill="#000019"/><rect y="598.5" width="1" height="1" fill="#080800"/><rect y="599.5" width="1" height="3" fill="#00001d"/><rect y="602.5" width="1" height="2" fill="#060500"/><rect y="604.5" width="1" height="2" fill="#292800"/><rect y="606.5" width="1" height="1" fill="#040300"/><rect y="607.5" width="1" height="3" fill="#111100"/><rect y="610.5" width="1" height="1" fill="#000043"/><rect y="611.5" width="1" height="3" fill="#000011"/><rect y="614.5" width="1" height="2" fill="#00002c"/><rect y="616.5" width="1" height="3" fill="#000009"/><rect y="619.5" width="1" height="1" fill="#141300"/><rect y="620.5" width="1" height="2" fill="#444300"/><rect y="622.5" width="1" height="3" fill="#000014"/><rect y="625.5" width="1" height="1" fill="#191900"/><rect y="626.5" width="1" height="3" fill="#212100"/><rect y="629.5" width="1" height="3" fill="#101000"/><rect y="632.5" width="1" height="1" fill="#000010"/><rect y="633.5" width="1" height="2" fill="#040400"/><rect y="635.5" width="1" height="2" fill="#00001d"/><rect y="637.5" width="1" height="3" fill="#000023"/><rect y="640.5" width="1" height="1" fill="#191900"/><rect y="641.5" width="1" height="3" fill="#00001a"/><rect y="644.5" width="1" height="1" fill="#212100"/><rect y="645.5" width="1" height="1" fill="#100f00"/><rect y="646.5" width="1" height="2" fill="#070700"/><rect y="648.5" width="1" height="2" fill="#00000f"/><rect y="650.5" width="1" height="2" fill="#3e3d00"/><rect y="652.5" width="1" height="2" fill="#000008"/><rect y="654.5" width="1" height="3" fill="#131200"/><rect y="657.5" width="1" height="2" fill="#000015"/><rect y="659.5" width="1" height="1" fill="#565500"/><rect y="660.5" width="1" height="3" fill="#727100"/><rect y="663.5" width="1" height="2" fill="#161600"/><rect y="665.5" width="1" height="2" fill="#000004"/><rect y="667.5" width="1" height="2" fill="#00000b"/><rect y="669.5" width="1" height="3" fill="#161500"/><rect y="672.5" width="1" height="3" fill="#0b0b00"/><rect y="675.5" width="1" height="2" fill="#000029"/><rect y="677.5" width="1" height="1" fill="#333300"/><rect y="678.5" width="1" height="1" fill="#151500"/><rect y="679.5" width="1" height="1" fill="#2b2a00"/><rect y="680.5" width="1" height="2" fill="#00001b"/><rect y="682.5" width="1" height="1" fill="#5c5b00"/><rect y="683.5" width="1" height="2" fill="#000038"/><rect y="685.5" width="1" height="3" fill="#1a1900"/><rect y="688.5" width="1" height="1" fill="#292800"/><rect y="689.5" width="1" height="1" fill="#191900"/><rect y="690.5" width="1" height="3" fill="#272700"/><rect y="693.5" width="1" height="3" fill="#00001f"/><rect y="696.5" width="1" height="2" fill="#00001c"/><rect y="698.5" width="1" height="2" fill="#212100"/><rect y="700.5" width="1" height="1" fill="#3b3a00"/><rect y="701.5" width="1" height="2" fill="#000009"/><rect y="703.5" width="1" height="1" fill="#2b2a00"/><rect y="704.5" width="1" height="3" fill="#101000"/><rect y="707.5" width="1" height="3" fill="#040400"/><rect y="710.5" width="1" height="1" fill="#00001a"/><rect y="711.5" width="1" height="2" fill="#000005"/><rect y="713.5" width="1" height="3" fill="#00001a"/><rect y="716.5" width="1" height="1" fill="#363500"/><rect y="717.5" width="1" height="1" fill="#00000e"/><rect y="718.5" width="1" height="1" fill="#1f1f00"/><rect y="719.5" width="1" height="3" fill="#383700"/><rect y="722.5" width="1" height="1" fill="#161600"/><rect y="723.5" width="1" height="3" fill="#00004b"/><rect y="726.5" width="1" height="1" fill="#2e2d00"/><rect y="727.5" width="1" height="3" fill="#000012"/><rect y="730.5" width="1" height="3" fill="#0e0e00"/><rect y="733.5" width="1" height="1" fill="#343300"/><rect y="734.5" width="1" height="2" fill="#1a1a00"/><rect y="736.5" width="1" height="3" fill="#393800"/><rect y="739.5" width="1" height="1" fill="#434200"/><rect y="740.5" width="1" height="3" fill="#000013"/><rect y="743.5" width="1" height="1" fill="#00000d"/><rect y="744.5" width="1" height="2" fill="#00000d"/><rect y="746.5" width="1" height="3" fill="#00001c"/><rect y="749.5" width="1" height="2" fill="#00003b"/><rect y="751.5" width="1" height="2" fill="#000026"/><rect y="753.5" width="1" height="1" fill="#000014"/><rect y="754.5" width="1" height="1" fill="#000000"/><rect y="755.5" width="1" height="1" fill="#00000e"/><rect y="756.5" width="1" height="1" fill="#0b0b00"/><rect y="757.5" width="1" height="2" fill="#000042"/><rect y="759.5" width="1" height="2" fill="#000023"/><rect y="761.5" width="1" height="1" fill="#000009"/><rect y="762.5" width="1" height="2" fill="#000025"/><rect y="764.5" width="1" height="1" fill="#000046"/><rect y="765.5" width="1" height="3" fill="#00003a"/><rect y="768.5" width="1" height="1" fill="#00002c"/><rect y="769.5" width="1" height="1" fill="#000010"/><rect y="770.5" width="1" height="1" fill="#000037"/><rect y="771.5" width="1" height="2" fill="#000023"/><rect y="773.5" width="1" height="2" fill="#00001c"/><rect y="775.5" width="1" height="2" fill="#00002f"/><rect y="777.5" width="1" height="2" fill="#000073"/><rect y="779.5" width="1" height="1" fill="#00001a"/><rect y="780.5" width="1" height="1" fill="#000031"/><rect y="781.5" width="1" height="2" fill="#00001e"/><rect y="783.5" width="1" height="2" fill="#00003b"/><rect y="785.5" width="1" height="1" fill="#00001c"/><rect y="786.5" width="1" height="1" fill="#00003f"/><rect y="787.5" width="1" height="2" fill="#000037"/><rect y="789.5" width="1" height="2" fill="#000055"/><rect y="791.5" width="1" height="3" fill="#000038"/><rect y="794.5" width="1" height="3" fill="#000022"/><rect y="797.5" width="1" height="2" fill="#000042"/><rect y="799.5" width="1" height="1" fill="#000038"/><rect y="800.5" width="1" height="2" fill="#00000d"/><rect y="802.5" width="1" height="1" fill="#00003b"/><rect y="803.5" width="1" height="1" fill="#000018"/><rect y="804.5" width="1" height="2" fill="#000036"/><rect y="806.5" width="1" height="1" fill="#0f0f00"/><rect y="807.5" width="1" height="1" fill="#000018"/><rect y="808.5" width="1" height="1" fill="#000048"/><rect y="809.5" width="1" height="1" fill="#000022"/><rect y="810.5" width="1" height="2" fill="#00000f"/><rect y="812.5" width="1" height="2" fill="#000015"/><rect y="814.5" width="1" height="2" fill="#080800"/><rect y="816.5" width="1" height="2" fill="#000038"/><rect y="818.5" width="1" height="2" fill="#00000e"/><rect y="820.5" width="1" height="2" fill="#232200"/><rect y="822.5" width="1" height="2" fill="#000004"/><rect y="824.5" width="1" height="3" fill="#00002a"/><rect y="827.5" width="1" height="1" fill="#00003e"/><rect y="828.5" width="1" height="1" fill="#000029"/><rect y="829.5" width="1" height="3" fill="#000059"/><rect y="832.5" width="1" height="2" fill="#00002e"/><rect y="834.5" width="1" height="1" fill="#00002a"/><rect y="835.5" width="1" height="3" fill="#00005a"/><rect y="838.5" width="1" height="2" fill="#000058"/><rect y="840.5" width="1" height="2" fill="#00002e"/><rect y="842.5" width="1" height="3" fill="#000052"/><rect y="845.5" width="1" height="3" fill="#00000d"/><rect y="848.5" width="1" height="1" fill="#000010"/><rect y="849.5" width="1" height="2" fill="#00004e"/><rect y="851.5" width="1" height="2" fill="#000007"/><rect y="853.5" width="1" height="3" fill="#000010"/><rect y="856.5" width="1" height="2" fill="#000035"/><rect y="858.5" width="1" height="1" fill="#010100"/><rect y="859.5" width="1" height="2" fill="#00004a"/><rect y="861.5" width="1" height="2" fill="#000047"/><rect y="863.5" width="1" height="3" fill="#000016"/><rect y="866.5" width="1" height="2" fill="#00002a"/><rect y="868.5" width="1" height="3" fill="#00000f"/><rect y="871.5" width="1" height="1" fill="#000009"/><rect y="872.5" width="1" height="3" fill="#00000b"/><rect y="875.5" width="1" height="2" fill="#000022"/><rect y="877.5" width="1" height="3" fill="#000022"/><rect y="880.5" width="1" height="2" fill="#000001"/><rect y="882.5" width="1" height="1" fill="#000032"/><rect y="883.5" width="1" height="3" fill="#000026"/><rect y="886.5" width="1" height="1" fill="#000037"/><rect y="887.5" width="1" height="3" fill="#000037"/><rect y="890.5" width="1" height="2" fill="#000022"/><rect y="892.5" width="1" height="2" fill="#000025"/><rect y="894.5" width="1" height="1" fill="#000050"/><rect y="895.5" width="1" height="3" fill="#000027"/><rect y="898.5" width="1" height="3" fill="#00000b"/><rect y="901.5" width="1" height="3" fill="#00001b"/><rect y="904.5" width="1" height="3" fill="#000055"/><rect y="907.5" width="1" height="2" fill="#000029"/><rect y="909.5" width="1" height="1" fill="#000040"/><rect y="910.5" width="1" height="3" fill="#000029"/><rect y="913.5" width="1" height="1" fill="#00006b"/><rect y="914.5" width="1" height="2" fill="#00003a"/><rect y="916.5" width="1" height="1" fill="#00004d"/><rect y="917.5" width="1" height="2" fill="#000011"/><rect y="919.5" width="1" height="2" fill="#151500"/><rect y="921.5" width="1" height="1" fill="#000033"/><rect y="922.5" width="1" height="2" fill="#000040"/><rect y="924.5" width="1" height="1" fill="#000045"/><rect y="925.5" width="1" height="2" fill="#000018"/>
</g>
<g transform="matrix(31.6 0 0 1 634.3 0)" shape-rendering="crispEdges">
<rect y="541.5" width="1" height="2" fill="#000053"/><rect y="543.5" width="1" height="3" fill="#000042"/><rect y="546.5" width="1" height="3" fill="#00004a"/><rect y="549.5" width="1" height="2" fill="#000064"/><rect y="551.5" width="1" height="2" fill="#000078"/><rect y="553.5" width="1" height="3" fill="#00006f"/><rect y="556.5" width="1" height="1" fill="#000089"/><rect y="557.5" width="1" height="1" fill="#000060"/><rect y="558.5" width="1" height="2" fill="#000045"/><rect y="560.5" width="1" height="1" fill="#000076"/><rect y="561.5" width="1" height="2" fill="#00002b"/><rect y="563.5" width="1" height="2" fill="#00005e"/><rect y="565.5" width="1" height="1" fill="#000027"/><rect y="566.5" width="1" height="1" fill="#000077"/><rect y="567.5" width="1" height="1" fill="#000080"/><rect y="568.5" width="1" height="2" fill="#00006c"/><rect y="570.5" width="1" height="1" fill="#000081"/><rect y="571.5" width="1" height="3" fill="#00006b"/><rect y="574.5" width="1" height="2" fill="#00004f"/><rect y="576.5" width="1" height="2" fill="#000070"/><rect y="578.5" width="1" height="3" fill="#000071"/><rect y="581.5" width="1" height="1" fill="#000060"/><rect y="582.5" width="1" height="1" fill="#000068"/><rect y="583.5" width="1" height="2" fill="#00009c"/><rect y="585.5" width="1" height="3" fill="#000059"/><rect y="588.5" width="1" height="1" fill="#000065"/><rect y="589.5" width="1" height="1" fill="#00003d"/><rect y="590.5" width="1" height="2" fill="#00002c"/><rect y="592.5" width="1" height="2" fill="#000024"/><rect y="594.5" width="1" height="2" fill="#000054"/><rect y="596.5" width="1" height="1" fill="#161600"/><rect y="597.5" width="1" height="1" fill="#000036"/><rect y="598.5" width="1" height="1" fill="#000011"/><rect y="599.5" width="1" height="3" fill="#000011"/><rect y="602.5" width="1" height="2" fill="#00002f"/><rect y="604.5" width="1" height="2" fill="#050500"/><rect y="606.5" width="1" height="1" fill="#000015"/><rect y="607.5" width="1" height="3" fill="#00000c"/><rect y="610.5" width="1" height="1" fill="#000041"/><rect y="611.5" width="1" height="3" fill="#000007"/><rect y="614.5" width="1" height="2" fill="#00003c"/><rect y="616.5" width="1" height="3" fill="#161600"/><rect y="619.5" width="1" height="1" fill="#000016"/><rect y="620.5" width="1" height="2" fill="#00001a"/><rect y="622.5" width="1" height="3" fill="#00000b"/><rect y="625.5" width="1" height="1" fill="#000022"/><rect y="626.5" width="1" height="3" fill="#0a0a00"/><rect y="629.5" width="1" height="3" fill="#000060"/><rect y="632.5" width="1" height="1" fill="#000035"/><rect y="633.5" width="1" height="2" fill="#000043"/><rect y="635.5" width="1" height="2" fill="#000002"/><rect y="637.5" width="1" height="3" fill="#000004"/><rect y="640.5" width="1" height="1" fill="#141300"/><rect y="641.5" width="1" height="3" fill="#191800"/><rect y="644.5" width="1" height="1" fill="#000012"/><rect y="645.5" width="1" height="1" fill="#000008"/><rect y="646.5" width="1" height="2" fill="#00000f"/><rect y="648.5" width="1" height="2" fill="#0d0d00"/><rect y="650.5" width="1" height="2" fill="#1e1e00"/><rect y="652.5" width="1" height="2" fill="#000003"/><rect y="654.5" width="1" height="3" fill="#000019"/><rect y="657.5" width="1" height="2" fill="#070700"/><rect y="659.5" width="1" height="1" fill="#030300"/><rect y="660.5" width="1" height="3" fill="#00000d"/><rect y="663.5" width="1" height="2" fill="#060600"/><rect y="665.5" width="1" height="2" fill="#000009"/><rect y="667.5" width="1" height="2" fill="#00000b"/><rect y="669.5" width="1" height="3" fill="#2e2d00"/><rect y="672.5" width="1" height="3" fill="#000005"/><rect y="675.5" width="1" height="2" fill="#00000f"/><rect y="677.5" width="1" height="1" fill="#000003"/><rect y="678.5" width="1" height="1" fill="#000016"/><rect y="679.5" width="1" height="1" fill="#131300"/><rect y="680.5" width="1" height="2" fill="#00003b"/><rect y="682.5" width="1" height="1" fill="#242400"/><rect y="683.5" width="1" height="2" fill="#000009"/><rect y="685.5" width="1" height="3" fill="#151400"/><rect y="688.5" width="1" height="1" fill="#161600"/><rect y="689.5" width="1" height="1" fill="#00000f"/><rect y="690.5" width="1" height="3" fill="#1a1900"/><rect y="693.5" width="1" height="3" fill="#000036"/><rect y="696.5" width="1" height="2" fill="#010100"/><rect y="698.5" width="1" height="2" fill="#202000"/><rect y="700.5" width="1" height="1" fill="#131300"/><rect y="701.5" width="1" height="2" fill="#00000d"/><rect y="703.5" width="1" height="1" fill="#080800"/><rect y="704.5" width="1" height="3" fill="#000013"/><rect y="707.5" width="1" height="3" fill="#0d0d00"/><rect y="710.5" width="1" height="1" fill="#000009"/><rect y="711.5" width="1" height="2" fill="#00002e"/><rect y="713.5" width="1" height="3" fill="#000005"/><rect y="716.5" width="1" height="1" fill="#010100"/><rect y="717.5" width="1" height="1" fill="#171600"/><rect y="718.5" width="1" height="1" fill="#4b4a00"/><rect y="719.5" width="1" height="3" fill="#4a4900"/><rect y="722.5" width="1" height="1" fill="#090900"/><rect y="723.5" width="1" height="3" fill="#000030"/><rect y="726.5" width="1" height="1" fill="#262500"/><rect y="727.5" width="1" height="3" fill="#292900"/><rect y="730.5" width="1" height="3" fill="#373600"/><rect y="733.5" width="1" height="1" fill="#000003"/><rect y="734.5" width="1" height="2" fill="#000018"/><rect y="736.5" width="1" height="3" fill="#050500"/><rect y="739.5" width="1" height="1" fill="#000001"/><rect y="740.5" width="1" height="3" fill="#1e1d00"/><rect y="743.5" width="1" height="1" fill="#101000"/><rect y="744.5" width="1" height="2" fill="#000011"/><rect y="746.5" width="1" height="3" fill="#00001f"/><rect y="749.5" width="1" height="2" fill="#000004"/><rect y="751.5" width="1" height="2" fill="#000038"/><rect y="753.5" width="1" height="1" fill="#00002a"/><rect y="754.5" width="1" height="1" fill="#000013"/><rect y="755.5" width="1" height="1" fill="#000028"/><rect y="756.5" width="1" height="1" fill="#000005"/><rect y="757.5" width="1" height="2" fill="#000047"/><rect y="759.5" width="1" height="2" fill="#00003d"/><rect y="761.5" width="1" height="1" fill="#000041"/><rect y="762.5" width="1" height="2" fill="#00000b"/><rect y="764.5" width="1" height="1" fill="#000054"/><rect y="765.5" width="1" height="3" fill="#000021"/><rect y="768.5" width="1" height="1" fill="#000041"/><rect y="769.5" width="1" height="1" fill="#000027"/><rect y="770.5" width="1" height="1" fill="#000028"/><rect y="771.5" width="1" height="2" fill="#000013"/><rect y="773.5" width="1" height="2" fill="#000010"/><rect y="775.5" width="1" height="2" fill="#000018"/><rect y="777.5" width="1" height="2" fill="#00002e"/><rect y="779.5" width="1" height="1" fill="#00002b"/><rect y="780.5" width="1" height="1" fill="#000049"/><rect y="781.5" width="1" height="2" fill="#00003f"/><rect y="783.5" width="1" height="2" fill="#000032"/><rect y="785.5" width="1" height="1" fill="#00002a"/><rect y="786.5" width="1" height="1" fill="#070700"/><rect y="787.5" width="1" height="2" fill="#000033"/><rect y="789.5" width="1" height="2" fill="#000009"/><rect y="791.5" width="1" height="3" fill="#000011"/><rect y="794.5" width="1" height="3" fill="#000024"/><rect y="797.5" width="1" height="2" fill="#000014"/><rect y="799.5" width="1" height="1" fill="#000026"/><rect y="800.5" width="1" height="2" fill="#00002f"/><rect y="802.5" width="1" height="1" fill="#000047"/><rect y="803.5" width="1" height="1" fill="#000039"/><rect y="804.5" width="1" height="2" fill="#000023"/><rect y="806.5" width="1" height="1" fill="#262600"/><rect y="807.5" width="1" height="1" fill="#000034"/><rect y="808.5" width="1" height="1" fill="#00002f"/><rect y="809.5" width="1" height="1" fill="#020200"/><rect y="810.5" width="1" height="2" fill="#000050"/><rect y="812.5" width="1" height="2" fill="#00002d"/><rect y="814.5" width="1" height="2" fill="#00001d"/><rect y="816.5" width="1" height="2" fill="#000052"/><rect y="818.5" width="1" height="2" fill="#00000d"/><rect y="820.5" width="1" height="2" fill="#00001d"/><rect y="822.5" width="1" height="2" fill="#000011"/><rect y="824.5" width="1" height="3" fill="#00001e"/><rect y="827.5" width="1" height="1" fill="#00004b"/><rect y="828.5" width="1" height="1" fill="#000027"/><rect y="829.5" width="1" height="3" fill="#00004a"/><rect y="832.5" width="1" height="2" fill="#00001f"/><rect y="834.5" width="1" height="1" fill="#00002e"/><rect y="835.5" width="1" height="3" fill="#000031"/><rect y="838.5" width="1" height="2" fill="#00004b"/><rect y="840.5" width="1" height="2" fill="#00001a"/><rect y="842.5" width="1" height="3" fill="#00002e"/><rect y="845.5" width="1" height="3" fill="#00001f"/><rect y="848.5" width="1" height="1" fill="#00003d"/><rect y="849.5" width="1" height="2" fill="#000070"/><rect y="851.5" width="1" height="2" fill="#000038"/><rect y="853.5" width="1" height="3" fill="#00003b"/><rect y="856.5" width="1" height="2" fill="#000040"/><rect y="858.5" width="1" height="1" fill="#000016"/><rect y="859.5" width="1" height="2" fill="#00005a"/><rect y="861.5" width="1" height="2" fill="#000040"/><rect y="863.5" width="1" height="3" fill="#000043"/><rect y="866.5" width="1" height="2" fill="#000048"/><rect y="868.5" width="1" height="3" fill="#000022"/><rect y="871.5" width="1" height="1" fill="#00000d"/><rect y="872.5" width="1" height="3" fill="#000040"/><rect y="875.5" width="1" height="2" fill="#00005e"/><rect y="877.5" width="1" height="3" fill="#00004a"/><rect y="880.5" width="1" height="2" fill="#000045"/><rect y="882.5" width="1" height="1" fill="#000037"/><rect y="883.5" width="1" height="3" fill="#000006"/><rect y="886.5" width="1" height="1" fill="#000018"/><rect y="887.5" width="1" height="3" fill="#00002f"/><rect y="890.5" width="1" height="2" fill="#00000e"/><rect y="892.5" width="1" height="2" fill="#0c0c00"/><rect y="894.5" width="1" height="1" fill="#000012"/><rect y="895.5" width="1" height="3" fill="#000013"/><rect y="898.5" width="1" height="3" fill="#00001a"/><rect y="901.5" width="1" height="3" fill="#00001d"/><rect y="904.5" width="1" height="3" fill="#000036"/><rect y="907.5" width="1" height="2" fill="#000021"/><rect y="909.5" width="1" height="1" fill="#00002d"/><rect y="910.5" width="1" height="3" fill="#4d4c00"/><rect y="913.5" width="1" height="1" fill="#000042"/><rect y="914.5" width="1" height="2" fill="#000033"/><rect y="916.5" width="1" height="1" fill="#000047"/><rect y="917.5" width="1" height="2" fill="#000028"/><rect y="919.5" width="1" height="2" fill="#00001f"/><rect y="921.5" width="1" height="1" fill="#000012"/><rect y="922.5" width="1" height="2" fill="#00002a"/><rect y="924.5" width="1" height="1" fill="#00004e"/><rect y="925.5" width="1" height="2" fill="#00000f"/>
</g>
<g transform="matrix(31.6 0 0 1 665.3 0)" shape-rendering="crispEdges">
<rect y="541.5" width="1" height="2" fill="#ccca00"/><rect y="543.5" width="1" height="3" fill="#a8a600"/><rect y="546.5" width="1" height="3" fill="#e6e300"/><rect y="549.5" width="1" height="2" fill="#ccc900"/><rect y="551.5" width="1" height="2" fill="#6a6800"/><rect y="553.5" width="1" height="3" fill="#e9e600"/><rect y="556.5" width="1" height="1" fill="#bebb00"/><rect y="557.5" width="1" height="1" fill="#b4b100"/><rect y="558.5" width="1" height="2" fill="#ebe800"/><rect y="560.5" width="1" height="1" fill="#ebe800"/><rect y="561.5" width="1" height="2" fill="#d8d500"/><rect y="563.5" width="1" height="2" fill="#b7b400"/><rect y="565.5" width="1" height="1" fill="#bebc00"/><rect y="566.5" width="1" height="1" fill="#ebe800"/><rect y="567.5" width="1" height="1" fill="#b6b400"/><rect y="568.5" width="1" height="2" fill="#ebe800"/><rect y="570.5" width="1" height="1" fill="#bebc00"/><rect y="571.5" width="1" height="3" fill="#dedb00"/><rect y="574.5" width="1" height="2" fill="#d8d500"/><rect y="576.5" width="1" height="2" fill="#bdba00"/><rect y="578.5" width="1" height="3" fill="#ebe800"/><rect y="581.5" width="1" height="1" fill="#9b9900"/><rect y="582.5" width="1" height="1" fill="#ebe800"/><rect y="583.5" width="1" height="2" fill="#d9d600"/><rect y="585.5" width="1" height="3" fill="#e6e400"/><rect y="588.5" width="1" height="1" fill="#bbb800"/><rect y="589.5" width="1" height="1" fill="#ebe800"/><rect y="590.5" width="1" height="2" fill="#a8a600"/><rect y="592.5" width="1" height="2" fill="#ebe800"/><rect y="594.5" width="1" height="2" fill="#ebe800"/><rect y="596.5" width="1" height="1" fill="#e2df00"/><rect y="597.5" width="1" height="1" fill="#d5d300"/><rect y="598.5" width="1" height="1" fill="#d3d000"/><rect y="599.5" width="1" height="3" fill="#cbc900"/><rect y="602.5" width="1" height="2" fill="#ebe800"/><rect y="604.5" width="1" height="2" fill="#b8b500"/><rect y="606.5" width="1" height="1" fill="#d5d300"/><rect y="607.5" width="1" height="3" fill="#e9e600"/><rect y="610.5" width="1" height="1" fill="#ebe800"/><rect y="611.5" width="1" height="3" fill="#c8c600"/><rect y="614.5" width="1" height="2" fill="#d7d400"/><rect y="616.5" width="1" height="3" fill="#ebe800"/><rect y="619.5" width="1" height="1" fill="#c0be00"/><rect y="620.5" width="1" height="2" fill="#e9e600"/><rect y="622.5" width="1" height="3" fill="#aaa700"/><rect y="625.5" width="1" height="1" fill="#cac800"/><rect y="626.5" width="1" height="3" fill="#ebe800"/><rect y="629.5" width="1" height="3" fill="#ebe800"/><rect y="632.5" width="1" height="1" fill="#dcda00"/><rect y="633.5" width="1" height="2" fill="#ebe800"/><rect y="635.5" width="1" height="2" fill="#ebe800"/><rect y="637.5" width="1" height="3" fill="#ebe800"/><rect y="640.5" width="1" height="1" fill="#c2c000"/><rect y="641.5" width="1" height="3" fill="#d0cd00"/><rect y="644.5" width="1" height="1" fill="#aba900"/><rect y="645.5" width="1" height="1" fill="#b7b500"/><rect y="646.5" width="1" height="2" fill="#ebe800"/><rect y="648.5" width="1" height="2" fill="#a7a500"/><rect y="650.5" width="1" height="2" fill="#ebe800"/><rect y="652.5" width="1" height="2" fill="#d9d700"/><rect y="654.5" width="1" height="3" fill="#ebe800"/><rect y="657.5" width="1" height="2" fill="#ebe800"/><rect y="659.5" width="1" height="1" fill="#ebe800"/><rect y="660.5" width="1" height="3" fill="#e0dd00"/><rect y="663.5" width="1" height="2" fill="#939100"/><rect y="665.5" width="1" height="2" fill="#e1de00"/><rect y="667.5" width="1" height="2" fill="#ebe800"/><rect y="669.5" width="1" height="3" fill="#a19f00"/><rect y="672.5" width="1" height="3" fill="#b6b400"/><rect y="675.5" width="1" height="2" fill="#cecb00"/><rect y="677.5" width="1" height="1" fill="#e3e000"/><rect y="678.5" width="1" height="1" fill="#b9b600"/><rect y="679.5" width="1" height="1" fill="#e9e600"/><rect y="680.5" width="1" height="2" fill="#afad00"/><rect y="682.5" width="1" height="1" fill="#dcda00"/><rect y="683.5" width="1" height="2" fill="#ebe800"/><rect y="685.5" width="1" height="3" fill="#ebe800"/><rect y="688.5" width="1" height="1" fill="#ebe800"/><rect y="689.5" width="1" height="1" fill="#ccc900"/><rect y="690.5" width="1" height="3" fill="#e5e200"/><rect y="693.5" width="1" height="3" fill="#ebe800"/><rect y="696.5" width="1" height="2" fill="#ebe800"/><rect y="698.5" width="1" height="2" fill="#d3d000"/><rect y="700.5" width="1" height="1" fill="#9d9b00"/><rect y="701.5" width="1" height="2" fill="#ebe800"/><rect y="703.5" width="1" height="1" fill="#ebe800"/><rect y="704.5" width="1" height="3" fill="#ebe800"/><rect y="707.5" width="1" height="3" fill="#ebe800"/><rect y="710.5" width="1" height="1" fill="#b6b300"/><rect y="711.5" width="1" height="2" fill="#929000"/><rect y="713.5" width="1" height="3" fill="#ebe800"/><rect y="716.5" width="1" height="1" fill="#e5e200"/><rect y="717.5" width="1" height="1" fill="#b3b000"/><rect y="718.5" width="1" height="1" fill="#ebe800"/><rect y="719.5" width="1" height="3" fill="#ccc900"/><rect y="722.5" width="1" height="1" fill="#cac800"/><rect y="723.5" width="1" height="3" fill="#d0cd00"/><rect y="726.5" width="1" height="1" fill="#ebe800"/><rect y="727.5" width="1" height="3" fill="#e3e000"/><rect y="730.5" width="1" height="3" fill="#ebe800"/><rect y="733.5" width="1" height="1" fill="#ebe800"/><rect y="734.5" width="1" height="2" fill="#939100"/><rect y="736.5" width="1" height="3" fill="#ebe800"/><rect y="739.5" width="1" height="1" fill="#ebe800"/><rect y="740.5" width="1" height="3" fill="#ebe800"/><rect y="743.5" width="1" height="1" fill="#ebe800"/><rect y="744.5" width="1" height="2" fill="#ebe800"/><rect y="746.5" width="1" height="3" fill="#c4c200"/><rect y="749.5" width="1" height="2" fill="#e1df00"/><rect y="751.5" width="1" height="2" fill="#bcb900"/><rect y="753.5" width="1" height="1" fill="#cdcb00"/><rect y="754.5" width="1" height="1" fill="#ebe800"/><rect y="755.5" width="1" height="1" fill="#b7b500"/><rect y="756.5" width="1" height="1" fill="#ebe800"/><rect y="757.5" width="1" height="2" fill="#c5c300"/><rect y="759.5" width="1" height="2" fill="#d7d400"/><rect y="761.5" width="1" height="1" fill="#ebe800"/><rect y="762.5" width="1" height="2" fill="#ebe800"/><rect y="764.5" width="1" height="1" fill="#ebe800"/><rect y="765.5" width="1" height="3" fill="#aba900"/><rect y="768.5" width="1" height="1" fill="#ebe800"/><rect y="769.5" width="1" height="1" fill="#ebe800"/><rect y="770.5" width="1" height="1" fill="#c0be00"/><rect y="771.5" width="1" height="2" fill="#b8b600"/><rect y="773.5" width="1" height="2" fill="#ebe800"/><rect y="775.5" width="1" height="2" fill="#ebe800"/><rect y="777.5" width="1" height="2" fill="#a09e00"/><rect y="779.5" width="1" height="1" fill="#e4e100"/><rect y="780.5" width="1" height="1" fill="#dedb00"/><rect y="781.5" width="1" height="2" fill="#d7d500"/><rect y="783.5" width="1" height="2" fill="#c0be00"/><rect y="785.5" width="1" height="1" fill="#bbb800"/><rect y="786.5" width="1" height="1" fill="#ebe800"/><rect y="787.5" width="1" height="2" fill="#d0cd00"/><rect y="789.5" width="1" height="2" fill="#ebe800"/><rect y="791.5" width="1" height="3" fill="#acaa00"/><rect y="794.5" width="1" height="3" fill="#ebe800"/><rect y="797.5" width="1" height="2" fill="#a9a700"/><rect y="799.5" width="1" height="1" fill="#a3a100"/><rect y="800.5" width="1" height="2" fill="#bfbc00"/><rect y="802.5" width="1" height="1" fill="#d3d100"/><rect y="803.5" width="1" height="1" fill="#bdbb00"/><rect y="804.5" width="1" height="2" fill="#ebe800"/><rect y="806.5" width="1" height="1" fill="#e8e500"/><rect y="807.5" width="1" height="1" fill="#e2df00"/><rect y="808.5" width="1" height="1" fill="#ebe800"/><rect y="809.5" width="1" height="1" fill="#ebe800"/><rect y="810.5" width="1" height="2" fill="#dedc00"/><rect y="812.5" width="1" height="2" fill="#ebe800"/><rect y="814.5" width="1" height="2" fill="#d2cf00"/><rect y="816.5" width="1" height="2" fill="#bdba00"/><rect y="818.5" width="1" height="2" fill="#ebe800"/><rect y="820.5" width="1" height="2" fill="#ebe800"/><rect y="822.5" width="1" height="2" fill="#e0dd00"/><rect y="824.5" width="1" height="3" fill="#ccc900"/><rect y="827.5" width="1" height="1" fill="#dfdc00"/><rect y="828.5" width="1" height="1" fill="#ebe800"/><rect y="829.5" width="1" height="3" fill="#d6d400"/><rect y="832.5" width="1" height="2" fill="#ebe800"/><rect y="834.5" width="1" height="1" fill="#ebe800"/><rect y="835.5" width="1" height="3" fill="#ebe800"/><rect y="838.5" width="1" height="2" fill="#c9c700"/><rect y="840.5" width="1" height="2" fill="#dcda00"/><rect y="842.5" width="1" height="3" fill="#d3d100"/><rect y="845.5" width="1" height="3" fill="#dedb00"/><rect y="848.5" width="1" height="1" fill="#dbd800"/><rect y="849.5" width="1" height="2" fill="#e9e600"/><rect y="851.5" width="1" height="2" fill="#ebe800"/><rect y="853.5" width="1" height="3" fill="#cbc800"/><rect y="856.5" width="1" height="2" fill="#a9a700"/><rect y="858.5" width="1" height="1" fill="#c6c300"/><rect y="859.5" width="1" height="2" fill="#ebe800"/><rect y="861.5" width="1" height="2" fill="#ebe800"/><rect y="863.5" width="1" height="3" fill="#d5d200"/><rect y="866.5" width="1" height="2" fill="#ccc900"/><rect y="868.5" width="1" height="3" fill="#bdba00"/><rect y="871.5" width="1" height="1" fill="#ebe800"/><rect y="872.5" width="1" height="3" fill="#a8a500"/><rect y="875.5" width="1" height="2" fill="#c8c500"/><rect y="877.5" width="1" height="3" fill="#dcd900"/><rect y="880.5" width="1" height="2" fill="#cecb00"/><rect y="882.5" width="1" height="1" fill="#ebe800"/><rect y="883.5" width="1" height="3" fill="#d4d200"/><rect y="886.5" width="1" height="1" fill="#e3e000"/><rect y="887.5" width="1" height="3" fill="#bcb900"/><rect y="890.5" width="1" height="2" fill="#c5c200"/><rect y="892.5" width="1" height="2" fill="#bab800"/><rect y="894.5" width="1" height="1" fill="#d4d100"/><rect y="895.5" width="1" height="3" fill="#ebe800"/><rect y="898.5" width="1" height="3" fill="#dbd800"/><rect y="901.5" width="1" height="3" fill="#ebe800"/><rect y="904.5" width="1" height="3" fill="#ebe800"/><rect y="907.5" width="1" height="2" fill="#bcb900"/><rect y="909.5" width="1" height="1" fill="#ebe800"/><rect y="910.5" width="1" height="3" fill="#ebe800"/><rect y="913.5" width="1" height="1" fill="#ebe800"/><rect y="914.5" width="1" height="2" fill="#d0ce00"/><rect y="916.5" width="1" height="1" fill="#ebe800"/><rect y="917.5" width="1" height="2" fill="#ebe800"/><rect y="919.5" width="1" height="2" fill="#ebe800"/><rect y="921.5" width="1" height="1" fill="#dedb00"/><rect y="922.5" width="1" height="2" fill="#b3b100"/><rect y="924.5" width="1" height="1" fill="#b4b200"/><rect y="925.5" width="1" height="2" fill="#acaa00"/>
</g>
<g transform="matrix(31.6 0 0 1 696.3 0)" shape-rendering="crispEdges">
<rect y="541.5" width="1" height="2" fill="#949200"/><rect y="543.5" width="1" height="3" fill="#a3a100"/><rect y="546.5" width="1" height="3" fill="#b0ae00"/><rect y="549.5" width="1" height="2" fill="#b0ae00"/><rect y="551.5" width="1" height="2" fill="#989600"/><rect y="553.5" width="1" height="3" fill="#d2cf00"/><rect y="556.5" width="1" height="1" fill="#ebe800"/><rect y="557.5" width="1" height="1" fill="#b7b500"/><rect y="558.5" width="1" height="2" fill="#bfbd00"/><rect y="560.5" width="1" height="1" fill="#c9c700"/><rect y="561.5" width="1" height="2" fill="#828000"/><rect y="563.5" width="1" height="2" fill="#bbb900"/><rect y="565.5" width="1" height="1" fill="#a29f00"/><rect y="566.5" width="1" height="1" fill="#9d9b00"/><rect y="567.5" width="1" height="1" fill="#b2b000"/><rect y="568.5" width="1" height="2" fill="#727100"/><rect y="570.5" width="1" height="1" fill="#888600"/><rect y="571.5" width="1" height="3" fill="#828000"/><rect y="574.5" width="1" height="2" fill="#797800"/><rect y="576.5" width="1" height="2" fill="#585700"/><rect y="578.5" width="1" height="3" fill="#4e4d00"/><rect y="581.5" width="1" height="1" fill="#201f00"/><rect y="582.5" width="1" height="1" fill="#716f00"/><rect y="583.5" width="1" height="2" fill="#4f4e00"/><rect y="585.5" width="1" height="3" fill="#5a5900"/><rect y="588.5" width="1" height="1" fill="#545300"/><rect y="589.5" width="1" height="1" fill="#9e9c00"/><rect y="590.5" width="1" height="2" fill="#a09e00"/><rect y="592.5" width="1" height="2" fill="#bab800"/><rect y="594.5" width="1" height="2" fill="#d4d100"/><rect y="596.5" width="1" height="1" fill="#aaa800"/><rect y="597.5" width="1" height="1" fill="#c1bf00"/><rect y="598.5" width="1" height="1" fill="#dbd900"/><rect y="599.5" width="1" height="3" fill="#7f7d00"/><rect y="602.5" width="1" height="2" fill="#c4c100"/><rect y="604.5" width="1" height="2" fill="#949200"/><rect y="606.5" width="1" height="1" fill="#9b9900"/><rect y="607.5" width="1" height="3" fill="#b6b400"/><rect y="610.5" width="1" height="1" fill="#6b6a00"/><rect y="611.5" width="1" height="3" fill="#d6d300"/><rect y="614.5" width="1" height="2" fill="#797800"/><rect y="616.5" width="1" height="3" fill="#bab800"/><rect y="619.5" width="1" height="1" fill="#908e00"/><rect y="620.5" width="1" height="2" fill="#bcba00"/><rect y="622.5" width="1" height="3" fill="#9d9b00"/><rect y="625.5" width="1" height="1" fill="#706e00"/><rect y="626.5" width="1" height="3" fill="#b8b600"/><rect y="629.5" width="1" height="3" fill="#999700"/><rect y="632.5" width="1" height="1" fill="#767500"/><rect y="633.5" width="1" height="2" fill="#bfbc00"/><rect y="635.5" width="1" height="2" fill="#e3e000"/><rect y="637.5" width="1" height="3" fill="#8b8900"/><rect y="640.5" width="1" height="1" fill="#a2a000"/><rect y="641.5" width="1" height="3" fill="#bab800"/><rect y="644.5" width="1" height="1" fill="#868400"/><rect y="645.5" width="1" height="1" fill="#aaa800"/><rect y="646.5" width="1" height="2" fill="#ebe800"/><rect y="648.5" width="1" height="2" fill="#6a6900"/><rect y="650.5" width="1" height="2" fill="#e2df00"/><rect y="652.5" width="1" height="2" fill="#d0ce00"/><rect y="654.5" width="1" height="3" fill="#9d9b00"/><rect y="657.5" width="1" height="2" fill="#7e7c00"/><rect y="659.5" width="1" height="1" fill="#ebe800"/><rect y="660.5" width="1" height="3" fill="#a19f00"/><rect y="663.5" width="1" height="2" fill="#7a7900"/><rect y="665.5" width="1" height="2" fill="#c2c000"/><rect y="667.5" width="1" height="2" fill="#ebe800"/><rect y="669.5" width="1" height="3" fill="#747200"/><rect y="672.5" width="1" height="3" fill="#a2a000"/><rect y="675.5" width="1" height="2" fill="#bdbb00"/><rect y="677.5" width="1" height="1" fill="#8d8c00"/><rect y="678.5" width="1" height="1" fill="#8c8a00"/><rect y="679.5" width="1" height="1" fill="#5e5d00"/><rect y="680.5" width="1" height="2" fill="#817f00"/><rect y="682.5" width="1" height="1" fill="#adab00"/><rect y="683.5" width="1" height="2" fill="#b2b000"/><rect y="685.5" width="1" height="3" fill="#bab700"/><rect y="688.5" width="1" height="1" fill="#ebe800"/><rect y="689.5" width="1" height="1" fill="#6f6d00"/><rect y="690.5" width="1" height="3" fill="#a8a600"/><rect y="693.5" width="1" height="3" fill="#bfbc00"/><rect y="696.5" width="1" height="2" fill="#e4e100"/><rect y="698.5" width="1" height="2" fill="#c0be00"/><rect y="700.5" width="1" height="1" fill="#969400"/><rect y="701.5" width="1" height="2" fill="#c1be00"/><rect y="703.5" width="1" height="1" fill="#ebe800"/><rect y="704.5" width="1" height="3" fill="#ebe800"/><rect y="707.5" width="1" height="3" fill="#afad00"/><rect y="710.5" width="1" height="1" fill="#828100"/><rect y="711.5" width="1" height="2" fill="#8a8800"/><rect y="713.5" width="1" height="3" fill="#d9d600"/><rect y="716.5" width="1" height="1" fill="#9a9800"/><rect y="717.5" width="1" height="1" fill="#b1af00"/><rect y="718.5" width="1" height="1" fill="#d8d500"/><rect y="719.5" width="1" height="3" fill="#9e9c00"/><rect y="722.5" width="1" height="1" fill="#868400"/><rect y="723.5" width="1" height="3" fill="#8d8b00"/><rect y="726.5" width="1" height="1" fill="#c5c300"/><rect y="727.5" width="1" height="3" fill="#c5c200"/><rect y="730.5" width="1" height="3" fill="#aba900"/><rect y="733.5" width="1" height="1" fill="#b5b300"/><rect y="734.5" width="1" height="2" fill="#c3c100"/><rect y="736.5" width="1" height="3" fill="#cac700"/><rect y="739.5" width="1" height="1" fill="#b9b700"/><rect y="740.5" width="1" height="3" fill="#d0ce00"/><rect y="743.5" width="1" height="1" fill="#c4c100"/><rect y="744.5" width="1" height="2" fill="#ebe800"/><rect y="746.5" width="1" height="3" fill="#c1bf00"/><rect y="749.5" width="1" height="2" fill="#e7e400"/><rect y="751.5" width="1" height="2" fill="#646300"/><rect y="753.5" width="1" height="1" fill="#9f9d00"/><rect y="754.5" width="1" height="1" fill="#9c9a00"/><rect y="755.5" width="1" height="1" fill="#cac800"/><rect y="756.5" width="1" height="1" fill="#b8b600"/><rect y="757.5" width="1" height="2" fill="#a8a600"/><rect y="759.5" width="1" height="2" fill="#807f00"/><rect y="761.5" width="1" height="1" fill="#b6b400"/><rect y="762.5" width="1" height="2" fill="#dcda00"/><rect y="764.5" width="1" height="1" fill="#c1bf00"/><rect y="765.5" width="1" height="3" fill="#939100"/><rect y="768.5" width="1" height="1" fill="#c6c300"/><rect y="769.5" width="1" height="1" fill="#bbb900"/><rect y="770.5" width="1" height="1" fill="#918f00"/><rect y="771.5" width="1" height="2" fill="#cac700"/><rect y="773.5" width="1" height="2" fill="#9d9b00"/><rect y="775.5" width="1" height="2" fill="#afac00"/><rect y="777.5" width="1" height="2" fill="#a2a000"/><rect y="779.5" width="1" height="1" fill="#ebe800"/><rect y="780.5" width="1" height="1" fill="#a19f00"/><rect y="781.5" width="1" height="2" fill="#cdca00"/><rect y="783.5" width="1" height="2" fill="#747200"/><rect y="785.5" width="1" height="1" fill="#9e9c00"/><rect y="786.5" width="1" height="1" fill="#c3c000"/><rect y="787.5" width="1" height="2" fill="#dad700"/><rect y="789.5" width="1" height="2" fill="#d7d400"/><rect y="791.5" width="1" height="3" fill="#a4a200"/><rect y="794.5" width="1" height="3" fill="#969400"/><rect y="797.5" width="1" height="2" fill="#d2cf00"/><rect y="799.5" width="1" height="1" fill="#aaa800"/><rect y="800.5" width="1" height="2" fill="#ebe800"/><rect y="802.5" width="1" height="1" fill="#c8c600"/><rect y="803.5" width="1" height="1" fill="#a5a300"/><rect y="804.5" width="1" height="2" fill="#989600"/><rect y="806.5" width="1" height="1" fill="#e7e400"/><rect y="807.5" width="1" height="1" fill="#bebc00"/><rect y="808.5" width="1" height="1" fill="#ebe800"/><rect y="809.5" width="1" height="1" fill="#b8b500"/><rect y="810.5" width="1" height="2" fill="#d2cf00"/><rect y="812.5" width="1" height="2" fill="#8f8d00"/><rect y="814.5" width="1" height="2" fill="#c4c100"/><rect y="816.5" width="1" height="2" fill="#a6a400"/><rect y="818.5" width="1" height="2" fill="#ebe800"/><rect y="820.5" width="1" height="2" fill="#929000"/><rect y="822.5" width="1" height="2" fill="#d5d200"/><rect y="824.5" width="1" height="3" fill="#b4b200"/><rect y="827.5" width="1" height="1" fill="#898800"/><rect y="828.5" width="1" height="1" fill="#c9c700"/><rect y="829.5" width="1" height="3" fill="#aeac00"/><rect y="832.5" width="1" height="2" fill="#dad700"/><rect y="834.5" width="1" height="1" fill="#b1af00"/><rect y="835.5" width="1" height="3" fill="#c3c100"/><rect y="838.5" width="1" height="2" fill="#a8a600"/><rect y="840.5" width="1" height="2" fill="#8e8d00"/><rect y="842.5" width="1" height="3" fill="#7e7c00"/><rect y="845.5" width="1" height="3" fill="#c4c200"/><rect y="848.5" width="1" height="1" fill="#d8d500"/><rect y="849.5" width="1" height="2" fill="#e2df00"/><rect y="851.5" width="1" height="2" fill="#8f8d00"/><rect y="853.5" width="1" height="3" fill="#aeac00"/><rect y="856.5" width="1" height="2" fill="#797700"/><rect y="858.5" width="1" height="1" fill="#b1af00"/><rect y="859.5" width="1" height="2" fill="#b7b500"/><rect y="861.5" width="1" height="2" fill="#bdba00"/><rect y="863.5" width="1" height="3" fill="#e4e100"/><rect y="866.5" width="1" height="2" fill="#ebe800"/><rect y="868.5" width="1" height="3" fill="#c0be00"/><rect y="871.5" width="1" height="1" fill="#d2d000"/><rect y="872.5" width="1" height="3" fill="#565500"/><rect y="875.5" width="1" height="2" fill="#ddda00"/><rect y="877.5" width="1" height="3" fill="#c7c400"/><rect y="880.5" width="1" height="2" fill="#ccc900"/><rect y="882.5" width="1" height="1" fill="#c5c200"/><rect y="883.5" width="1" height="3" fill="#666500"/><rect y="886.5" width="1" height="1" fill="#ebe800"/><rect y="887.5" width="1" height="3" fill="#bcba00"/><rect y="890.5" width="1" height="2" fill="#bbb800"/><rect y="892.5" width="1" height="2" fill="#ebe800"/><rect y="894.5" width="1" height="1" fill="#bfbd00"/><rect y="895.5" width="1" height="3" fill="#c1bf00"/><rect y="898.5" width="1" height="3" fill="#cfcd00"/><rect y="901.5" width="1" height="3" fill="#d7d400"/><rect y="904.5" width="1" height="3" fill="#918f00"/><rect y="907.5" width="1" height="2" fill="#757400"/><rect y="909.5" width="1" height="1" fill="#acaa00"/><rect y="910.5" width="1" height="3" fill="#cbc800"/><rect y="913.5" width="1" height="1" fill="#a8a500"/><rect y="914.5" width="1" height="2" fill="#908e00"/><rect y="916.5" width="1" height="1" fill="#acaa00"/><rect y="917.5" width="1" height="2" fill="#ebe800"/><rect y="919.5" width="1" height="2" fill="#cdca00"/><rect y="921.5" width="1" height="1" fill="#ebe800"/><rect y="922.5" width="1" height="2" fill="#b4b200"/><rect y="924.5" width="1" height="1" fill="#a5a300"/><rect y="925.5" width="1" height="2" fill="#a6a400"/>
</g>
<g transform="matrix(31.6 0 0 1 727.3 0)" shape-rendering="crispEdges">
<rect y="541.5" width="1" height="2" fill="#7f7d00"/><rect y="543.5" width="1" height="3" fill="#ebe800"/><rect y="546.5" width="1" height="3" fill="#afac00"/><rect y="549.5" width="1" height="2" fill="#878500"/><rect y="551.5" width="1" height="2" fill="#403f00"/><rect y="553.5" width="1" height="3" fill="#c7c500"/><rect y="556.5" width="1" height="1" fill="#cfcd00"/><rect y="557.5" width="1" height="1" fill="#c6c300"/><rect y="558.5" width="1" height="2" fill="#dcd900"/><rect y="560.5" width="1" height="1" fill="#d2cf00"/><rect y="561.5" width="1" height="2" fill="#706e00"/><rect y="563.5" width="1" height="2" fill="#979500"/><rect y="565.5" width="1" height="1" fill="#969400"/><rect y="566.5" width="1" height="1" fill="#dbd800"/><rect y="567.5" width="1" height="1" fill="#878600"/><rect y="568.5" width="1" height="2" fill="#8e8c00"/><rect y="570.5" width="1" height="1" fill="#b6b300"/><rect y="571.5" width="1" height="3" fill="#7f7d00"/><rect y="574.5" width="1" height="2" fill="#989600"/><rect y="576.5" width="1" height="2" fill="#5d5c00"/><rect y="578.5" width="1" height="3" fill="#b1ae00"/><rect y="581.5" width="1" height="1" fill="#323100"/><rect y="582.5" width="1" height="1" fill="#a8a600"/><rect y="583.5" width="1" height="2" fill="#848300"/><rect y="585.5" width="1" height="3" fill="#959300"/><rect y="588.5" width="1" height="1" fill="#767400"/><rect y="589.5" width="1" height="1" fill="#c1bf00"/><rect y="590.5" width="1" height="2" fill="#656400"/><rect y="592.5" width="1" height="2" fill="#7f7d00"/><rect y="594.5" width="1" height="2" fill="#b5b300"/><rect y="596.5" width="1" height="1" fill="#686700"/><rect y="597.5" width="1" height="1" fill="#a2a000"/><rect y="598.5" width="1" height="1" fill="#817f00"/><rect y="599.5" width="1" height="3" fill="#333200"/><rect y="602.5" width="1" height="2" fill="#d1ce00"/><rect y="604.5" width="1" height="2" fill="#616000"/><rect y="606.5" width="1" height="1" fill="#888600"/><rect y="607.5" width="1" height="3" fill="#979500"/><rect y="610.5" width="1" height="1" fill="#908e00"/><rect y="611.5" width="1" height="3" fill="#aeab00"/><rect y="614.5" width="1" height="2" fill="#bdba00"/><rect y="616.5" width="1" height="3" fill="#999700"/><rect y="619.5" width="1" height="1" fill="#454400"/><rect y="620.5" width="1" height="2" fill="#969400"/><rect y="622.5" width="1" height="3" fill="#797700"/><rect y="625.5" width="1" height="1" fill="#636200"/><rect y="626.5" width="1" height="3" fill="#848300"/><rect y="629.5" width="1" height="3" fill="#848200"/><rect y="632.5" width="1" height="1" fill="#4d4c00"/><rect y="633.5" width="1" height="2" fill="#818000"/><rect y="635.5" width="1" height="2" fill="#d3d000"/><rect y="637.5" width="1" height="3" fill="#c4c200"/><rect y="640.5" width="1" height="1" fill="#9e9c00"/><rect y="641.5" width="1" height="3" fill="#b2b000"/><rect y="644.5" width="1" height="1" fill="#818000"/><rect y="645.5" width="1" height="1" fill="#817f00"/><rect y="646.5" width="1" height="2" fill="#b8b600"/><rect y="648.5" width="1" height="2" fill="#d0cd00"/><rect y="650.5" width="1" height="2" fill="#aeac00"/><rect y="652.5" width="1" height="2" fill="#787700"/><rect y="654.5" width="1" height="3" fill="#868400"/><rect y="657.5" width="1" height="2" fill="#7d7c00"/><rect y="659.5" width="1" height="1" fill="#c7c400"/><rect y="660.5" width="1" height="3" fill="#c3c000"/><rect y="663.5" width="1" height="2" fill="#969400"/><rect y="665.5" width="1" height="2" fill="#b9b600"/><rect y="667.5" width="1" height="2" fill="#727000"/><rect y="669.5" width="1" height="3" fill="#bebb00"/><rect y="672.5" width="1" height="3" fill="#686700"/><rect y="675.5" width="1" height="2" fill="#bcba00"/><rect y="677.5" width="1" height="1" fill="#b4b100"/><rect y="678.5" width="1" height="1" fill="#656400"/><rect y="679.5" width="1" height="1" fill="#aaa700"/><rect y="680.5" width="1" height="2" fill="#7e7d00"/><rect y="682.5" width="1" height="1" fill="#b8b500"/><rect y="683.5" width="1" height="2" fill="#c5c300"/><rect y="685.5" width="1" height="3" fill="#aeac00"/><rect y="688.5" width="1" height="1" fill="#c1bf00"/><rect y="689.5" width="1" height="1" fill="#969400"/><rect y="690.5" width="1" height="3" fill="#bab800"/><rect y="693.5" width="1" height="3" fill="#b5b300"/><rect y="696.5" width="1" height="2" fill="#cac700"/><rect y="698.5" width="1" height="2" fill="#dedc00"/><rect y="700.5" width="1" height="1" fill="#6c6a00"/><rect y="701.5" width="1" height="2" fill="#bbb800"/><rect y="703.5" width="1" height="1" fill="#8b8900"/><rect y="704.5" width="1" height="3" fill="#ebe800"/><rect y="707.5" width="1" height="3" fill="#dfdc00"/><rect y="710.5" width="1" height="1" fill="#8e8d00"/><rect y="711.5" width="1" height="2" fill="#d9d700"/><rect y="713.5" width="1" height="3" fill="#c4c200"/><rect y="716.5" width="1" height="1" fill="#aaa800"/><rect y="717.5" width="1" height="1" fill="#9b9900"/><rect y="718.5" width="1" height="1" fill="#c6c400"/><rect y="719.5" width="1" height="3" fill="#d3d100"/><rect y="722.5" width="1" height="1" fill="#b5b200"/><rect y="723.5" width="1" height="3" fill="#d8d600"/><rect y="726.5" width="1" height="1" fill="#e5e200"/><rect y="727.5" width="1" height="3" fill="#bdba00"/><rect y="730.5" width="1" height="3" fill="#c5c200"/><rect y="733.5" width="1" height="1" fill="#c5c300"/><rect y="734.5" width="1" height="2" fill="#c1be00"/><rect y="736.5" width="1" height="3" fill="#d6d300"/><rect y="739.5" width="1" height="1" fill="#b6b400"/><rect y="740.5" width="1" height="3" fill="#bebc00"/><rect y="743.5" width="1" height="1" fill="#ebe800"/><rect y="744.5" width="1" height="2" fill="#dad700"/><rect y="746.5" width="1" height="3" fill="#cdcb00"/><rect y="749.5" width="1" height="2" fill="#ebe800"/><rect y="751.5" width="1" height="2" fill="#a5a300"/><rect y="753.5" width="1" height="1" fill="#b5b200"/><rect y="754.5" width="1" height="1" fill="#ddda00"/><rect y="755.5" width="1" height="1" fill="#ddda00"/><rect y="756.5" width="1" height="1" fill="#c9c700"/><rect y="757.5" width="1" height="2" fill="#e4e100"/><rect y="759.5" width="1" height="2" fill="#959300"/><rect y="761.5" width="1" height="1" fill="#bfbd00"/><rect y="762.5" width="1" height="2" fill="#cdcb00"/><rect y="764.5" width="1" height="1" fill="#e8e500"/><rect y="765.5" width="1" height="3" fill="#929000"/><rect y="768.5" width="1" height="1" fill="#c5c300"/><rect y="769.5" width="1" height="1" fill="#d5d200"/><rect y="770.5" width="1" height="1" fill="#959300"/><rect y="771.5" width="1" height="2" fill="#c0be00"/><rect y="773.5" width="1" height="2" fill="#ebe800"/><rect y="775.5" width="1" height="2" fill="#999800"/><rect y="777.5" width="1" height="2" fill="#b8b500"/><rect y="779.5" width="1" height="1" fill="#9f9d00"/><rect y="780.5" width="1" height="1" fill="#ebe800"/><rect y="781.5" width="1" height="2" fill="#c3c100"/><rect y="783.5" width="1" height="2" fill="#b9b600"/><rect y="785.5" width="1" height="1" fill="#ebe800"/><rect y="786.5" width="1" height="1" fill="#bfbd00"/><rect y="787.5" width="1" height="2" fill="#9a9800"/><rect y="789.5" width="1" height="2" fill="#dcd900"/><rect y="791.5" width="1" height="3" fill="#bebb00"/><rect y="794.5" width="1" height="3" fill="#bab700"/><rect y="797.5" width="1" height="2" fill="#c5c200"/><rect y="799.5" width="1" height="1" fill="#8b8900"/><rect y="800.5" width="1" height="2" fill="#ebe800"/><rect y="802.5" width="1" height="1" fill="#d4d200"/><rect y="803.5" width="1" height="1" fill="#aba900"/><rect y="804.5" width="1" height="2" fill="#acaa00"/><rect y="806.5" width="1" height="1" fill="#e3e000"/><rect y="807.5" width="1" height="1" fill="#bfbc00"/><rect y="808.5" width="1" height="1" fill="#a3a000"/><rect y="809.5" width="1" height="1" fill="#ebe800"/><rect y="810.5" width="1" height="2" fill="#a7a500"/><rect y="812.5" width="1" height="2" fill="#d3d100"/><rect y="814.5" width="1" height="2" fill="#e9e600"/><rect y="816.5" width="1" height="2" fill="#cfcc00"/><rect y="818.5" width="1" height="2" fill="#ebe800"/><rect y="820.5" width="1" height="2" fill="#ebe800"/><rect y="822.5" width="1" height="2" fill="#9b9900"/><rect y="824.5" width="1" height="3" fill="#8d8c00"/><rect y="827.5" width="1" height="1" fill="#6e6d00"/><rect y="828.5" width="1" height="1" fill="#a6a400"/><rect y="829.5" width="1" height="3" fill="#ebe800"/><rect y="832.5" width="1" height="2" fill="#e0dd00"/><rect y="834.5" width="1" height="1" fill="#ebe800"/><rect y="835.5" width="1" height="3" fill="#e3e000"/><rect y="838.5" width="1" height="2" fill="#bab800"/><rect y="840.5" width="1" height="2" fill="#949200"/><rect y="842.5" width="1" height="3" fill="#a09e00"/><rect y="845.5" width="1" height="3" fill="#b1af00"/><rect y="848.5" width="1" height="1" fill="#bab700"/><rect y="849.5" width="1" height="2" fill="#8e8c00"/><rect y="851.5" width="1" height="2" fill="#e1de00"/><rect y="853.5" width="1" height="3" fill="#c2bf00"/><rect y="856.5" width="1" height="2" fill="#8e8c00"/><rect y="858.5" width="1" height="1" fill="#dfdc00"/><rect y="859.5" width="1" height="2" fill="#cdca00"/><rect y="861.5" width="1" height="2" fill="#c7c500"/><rect y="863.5" width="1" height="3" fill="#c9c700"/><rect y="866.5" width="1" height="2" fill="#e0dd00"/><rect y="868.5" width="1" height="3" fill="#e9e600"/><rect y="871.5" width="1" height="1" fill="#ebe800"/><rect y="872.5" width="1" height="3" fill="#797800"/><rect y="875.5" width="1" height="2" fill="#ebe800"/><rect y="877.5" width="1" height="3" fill="#e7e400"/><rect y="880.5" width="1" height="2" fill="#bbb900"/><rect y="882.5" width="1" height="1" fill="#d0ce00"/><rect y="883.5" width="1" height="3" fill="#bebb00"/><rect y="886.5" width="1" height="1" fill="#a4a200"/><rect y="887.5" width="1" height="3" fill="#d6d300"/><rect y="890.5" width="1" height="2" fill="#acaa00"/><rect y="892.5" width="1" height="2" fill="#9d9b00"/><rect y="894.5" width="1" height="1" fill="#c7c500"/><rect y="895.5" width="1" height="3" fill="#d2d000"/><rect y="898.5" width="1" height="3" fill="#cecb00"/><rect y="901.5" width="1" height="3" fill="#d6d300"/><rect y="904.5" width="1" height="3" fill="#ebe800"/><rect y="907.5" width="1" height="2" fill="#797800"/><rect y="909.5" width="1" height="1" fill="#8e8c00"/><rect y="910.5" width="1" height="3" fill="#b5b200"/><rect y="913.5" width="1" height="1" fill="#ddda00"/><rect y="914.5" width="1" height="2" fill="#bcb900"/><rect y="916.5" width="1" height="1" fill="#b7b500"/><rect y="917.5" width="1" height="2" fill="#bab800"/><rect y="919.5" width="1" height="2" fill="#d1ce00"/><rect y="921.5" width="1" height="1" fill="#e9e600"/><rect y="922.5" width="1" height="2" fill="#bdbb00"/><rect y="924.5" width="1" height="1" fill="#e1df00"/><rect y="925.5" width="1" height="2" fill="#b7b500"/>
</g>
<path d="M541.3 668.8h31M541.3 618.4h31M510.3 656.1h31M541.3 600.3h31M481.3 868.4h31M481.3 862.5h31M634.3 610.6h31M541.3 737.8h31M603.3 614.5h31M572.3 589.6h31M541.3 747.9h31M541.3 630.7h31M510.3 575.8h31M541.3 809.9h31M634.3 771.2h31M510.3 582.9h31" fill="none" stroke="#7a7a9a" stroke-width="0.8"/>
<rect x="481.6" y="541.5" width="277.6" height="386" fill="none" stroke="#000" stroke-width="2.6"/>
<text x="621.6" y="960" text-anchor="middle">Cluster II</text>
<rect x="772.6" y="788.5" width="19.4" height="130" fill="url(#cb2)" stroke="#000" stroke-width="1.6"/>
<line x1="792" y1="788.5" x2="795.5" y2="788.5" stroke="#000" stroke-width="1.5"/>
<line x1="792" y1="853.5" x2="795.5" y2="853.5" stroke="#000" stroke-width="1.5"/>
<line x1="792" y1="918.5" x2="795.5" y2="918.5" stroke="#000" stroke-width="1.5"/>
<text x="797.8" y="794.3" font-size="14.5">0.8</text>
<text x="800.1" y="858.4" font-size="14.5">0.0</text>
<text x="798.3" y="923" font-size="14.5">-0.9</text>
<text x="765.6" y="774" font-size="17" fill="#ffd200">High</text>
<text x="765.6" y="941" font-size="17" fill="#1414ff">Low</text>
<line x1="770.3" y1="586" x2="770.3" y2="753.5" stroke="#000" stroke-width="2.6"/>
<text x="781.8" y="621" fill="#0d8a0d">Cluster II-A</text>
<text x="779" y="650.5" font-size="18.2" font-weight="bold">Biological Process (P = 1.04x10<tspan font-size="17" font-weight="normal" dy="-7.5">-25</tspan><tspan dy="7.5"> )</tspan></text>
<text x="779" y="673" font-size="18">Multicellular organism development</text>
<text x="779" y="696" font-size="18.2" font-weight="bold">Molecular Function (P = 1.7x10<tspan font-size="17" font-weight="normal" dy="-7.5">-14</tspan><tspan dy="7.5">)</tspan></text>
<text x="779" y="718.5" font-size="18">DNA-binding transcription factor activity</text>
<text x="1078" y="395.5" font-size="33" font-weight="bold">d</text>
<path d="M1243.8 532.4h0M1252.8 490.4h0M1251.8 542.3h0M1243 559.2h0M1252.7 555.1h0M1258.6 559.3h0M1242.1 564.9h0M1254.7 564.3h0M1248.3 549.9h0M1251.5 552.7h0M1243.3 547.2h0M1245.2 545.3h0M1255.8 563.6h0M1251.3 522.8h0M1247.6 500.5h0M1247.3 549h0M1252 547.2h0M1248 566h0M1246.2 536.6h0M1253.3 565.8h0M1250.2 566h0M1238.9 562h0M1239.6 560.8h0M1252.7 562.1h0M1246.9 517.8h0M1248.4 525.6h0M1255.4 539.7h0M1256.2 553.6h0M1251.5 521.7h0M1239.7 566h0M1245.4 565.7h0M1252.5 492.8h0M1244.2 505.6h0M1252.8 520.2h0M1252.5 509h0M1241.9 562.5h0M1251.9 510.9h0M1248.2 499.3h0M1244.8 499.7h0M1252.5 491.4h0M1240.3 551.9h0M1252 535.4h0M1240.2 551.1h0M1255.4 555.6h0M1258.3 564.3h0M1242.7 557.3h0M1259.2 563.6h0M1246.8 498.3h0M1252.1 564.1h0M1243.4 499.9h0M1254.4 527.5h0M1250.1 543h0M1245.5 509.5h0M1252.1 556h0M1249.4 535.1h0M1257.4 460.9h0M1252.4 461.4h0M1247.7 453h0M1242.7 462.9h0M1241.1 462.8h0M1245.4 462.6h0M1247.8 460.6h0M1251.5 456.8h0M1246.8 456.4h0M1249.6 456.8h0M1287.1 543.6h0M1289.8 535.7h0M1282.1 506.9h0M1285.1 529.1h0M1275.9 536.8h0M1297.8 545.5h0M1285.1 506.5h0M1282.2 512.5h0M1293.1 509h0M1285.5 503.6h0M1290.2 483.7h0M1283.9 545.3h0M1281.5 528h0M1279.8 516.5h0M1291.4 505.9h0M1290.6 545.3h0M1289.1 538.3h0M1293.6 510.6h0M1283.8 501.4h0M1280.6 507.3h0M1284.7 508.7h0M1280.2 538.3h0M1292.7 540.5h0M1279.7 544.5h0M1278.1 541.4h0M1287.3 507.3h0M1292.6 512.7h0M1276.8 528.2h0M1286.4 541.5h0M1292.5 508.6h0M1280.8 524.1h0M1293.7 518.3h0M1295.3 535h0M1286.9 491.6h0M1278.8 526.2h0M1275.2 544.1h0M1289.7 516.9h0M1287 482.7h0M1285.1 482.6h0M1275.7 543.4h0M1286.7 537.3h0M1284 483.4h0M1291 539.7h0M1287.2 531.9h0M1294.2 542.9h0M1288.9 490.1h0M1284.1 488.5h0M1281.3 545.7h0M1285.6 492.1h0M1278 541.1h0M1284.6 542.4h0M1290.3 489.4h0M1289.8 504.9h0M1292.4 541.5h0M1286.6 540.2h0M1295.4 545.7h0M1288.2 543.6h0M1288.4 512.9h0M1283.9 511.3h0M1292.2 501.9h0M1294.3 516.4h0M1280.3 496.7h0M1279.3 512.1h0M1283.9 513h0M1280.2 496.2h0M1281.1 487.4h0M1274.1 545.4h0M1297.4 543.7h0M1291.5 498h0M1290.3 541.6h0M1289.2 501.6h0M1296.5 538.1h0M1288.8 507.5h0M1283.7 537.4h0M1286.2 504.9h0M1293.5 457.3h0M1292.7 458.5h0M1286.7 462.9h0M1279 452.5h0M1282.9 452.9h0M1287.9 454.5h0M1295.5 462.3h0M1278.5 461.1h0M1278 458.1h0M1291.7 462.5h0M1286.9 462.6h0M1285.5 448.2h0M1290.1 450h0M1277 462h0M1290.8 450.8h0M1288.5 449h0M1294 456.9h0M1289.6 451.9h0M1281.3 447.5h0M1287.2 451.9h0M1280.6 463h0M1286.4 452.5h0M1282.4 455.8h0M1292.3 455.7h0M1286.5 445.6h0M1280.2 452.1h0M1287.3 462.2h0M1281.3 449.7h0M1323.3 566h0M1315.4 557.1h0M1321.5 565.5h0M1318.7 510.7h0M1317.4 509.1h0M1327.1 560.6h0M1319 570h0M1317 565.7h0M1319.2 499h0M1329.7 519.2h0M1331.4 560.9h0M1329.2 556.1h0M1320.6 533.9h0M1325.7 499.1h0M1324.9 556.2h0M1318.6 557.8h0M1328.5 492.3h0M1333 565.5h0M1315.7 519.9h0M1321.8 567.5h0M1327.8 499h0M1322.1 560.6h0M1320 494h0M1321.3 567.7h0M1329.3 523.5h0M1317.3 500.3h0M1314.7 564.7h0M1321.6 532.4h0M1324.6 494.4h0M1326.6 530.5h0M1332.3 563.2h0M1327.4 502.3h0M1318.6 511.9h0M1320.1 569.2h0M1318.6 519.5h0M1327.8 501.3h0M1323 521.8h0M1330.5 565.8h0M1323.2 564.8h0M1325.3 514.7h0M1331.9 561.5h0M1321.6 556.1h0M1327.4 547h0M1326.6 569.5h0M1329.1 542.7h0M1324.8 552.8h0M1318.7 488.4h0M1322.9 510.8h0M1318.4 557.5h0M1331.1 562.5h0M1333.9 563.3h0M1319.2 540.1h0M1324.5 511.8h0M1319 499.3h0M1315.7 522.3h0M1321.3 564.3h0M1318.6 556.6h0M1327.8 535.1h0M1323.5 548.9h0M1319.4 512h0M1318.7 484.3h0M1330.1 552.4h0M1319.5 561.5h0M1334.3 564.9h0M1318.1 500.4h0M1316.8 538h0M1316.6 569.9h0M1323.8 521.1h0M1325.1 558.3h0M1319.6 568.4h0M1331 567.9h0M1327.8 551.5h0M1321.5 555h0M1319 534.5h0M1328.3 537.2h0M1316.7 462.8h0M1323.1 463h0M1323.7 462.7h0M1323.9 462.4h0M1328.3 461.5h0M1329 455.1h0M1330.4 459.8h0M1321.4 454.3h0M1327.5 452.3h0M1328.7 462.4h0M1325 457h0M1320.1 456.6h0M1361.1 444.5h0M1480.1 576.4h0M1466.9 539h0M1466.1 580.7h0M1474.8 545.3h0M1475.2 519.4h0M1466.8 575.6h0M1470 579.7h0M1470.2 563.6h0M1473.1 530.7h0M1475.8 532.3h0M1472.2 536h0M1472.6 564.5h0M1474.5 561.1h0M1473.7 527.6h0M1472.2 461.4h0M1470.7 459h0M1471.8 462.6h0M1472.4 450.3h0M1518.1 567.2h0M1510.5 519h0M1504.8 568h0M1508.7 553.8h0M1511.8 565.1h0M1511.2 530.6h0M1510 541.4h0M1516.1 565.5h0M1513 502.6h0M1505.6 514.3h0M1500 556.4h0M1513.7 512.3h0M1510 494.2h0M1513.4 510.7h0M1499.7 565.2h0M1514.3 501.6h0M1510.7 519.9h0M1515.8 549.4h0M1500 557h0M1503.4 510.2h0M1511.1 519.9h0M1507.6 565.6h0M1515.3 557.8h0M1506.7 513.2h0M1508.1 450.8h0M1509.5 450.2h0M1508.5 448.2h0M1548.7 587.9h0M1550.5 569.8h0M1546.7 547h0M1542.2 529.2h0M1541.8 533.2h0M1547 565.2h0M1539.4 559.2h0M1542 567h0M1544.4 580.9h0M1540.5 570.8h0M1552.4 544.4h0M1542.8 512.1h0M1544.1 583.6h0M1549.1 554.1h0M1545.9 554.7h0M1550.1 505.2h0M1542.9 530.7h0M1539.8 535.1h0M1548 512.2h0M1545.2 515.2h0M1542.4 541.6h0M1542.7 515.2h0M1541.2 592h0M1546.6 546.8h0M1548.3 530.2h0M1551.8 533.5h0M1537.4 590.9h0M1538.6 580.1h0M1549.7 558.4h0M1545.9 586.3h0M1536.1 582.7h0M1541.2 581.6h0M1547.3 454.3h0M1546 461.8h0M1546.4 457.9h0M1547.8 461.3h0" fill="none" stroke="#cbcbcb" stroke-width="3.6" stroke-linecap="round"/>
<line x1="1224.4" y1="420.8" x2="1224.4" y2="463.8" stroke="#000" stroke-width="2.3"/>
<line x1="1224.4" y1="481.3" x2="1224.4" y2="654.1" stroke="#000" stroke-width="2.3"/>
<line x1="1214.4" y1="420.8" x2="1574.2" y2="420.8" stroke="#000" stroke-width="2.3"/>
<line x1="1573" y1="420.8" x2="1573" y2="653" stroke="#000" stroke-width="2.3"/>
<line x1="1214.4" y1="653" x2="1574.2" y2="653" stroke="#000" stroke-width="2.3"/>
<line x1="1218.9" y1="463.8" x2="1229.9" y2="463.8" stroke="#000" stroke-width="2.3"/>
<line x1="1218.9" y1="481.3" x2="1229.9" y2="481.3" stroke="#000" stroke-width="2.3"/>
<text x="1209.5" y="427" font-size="22.5" text-anchor="end">4.0</text>
<line x1="1214.4" y1="442.3" x2="1224.4" y2="442.3" stroke="#000" stroke-width="2.3"/>
<text x="1209.5" y="448.5" font-size="22.5" text-anchor="end">3.0</text>
<text x="1209.5" y="487.5" font-size="22.5" text-anchor="end">2.0</text>
<line x1="1214.4" y1="524.2" x2="1224.4" y2="524.2" stroke="#000" stroke-width="2.3"/>
<text x="1209.5" y="530.4" font-size="22.5" text-anchor="end">1.5</text>
<line x1="1214.4" y1="567.1" x2="1224.4" y2="567.1" stroke="#000" stroke-width="2.3"/>
<text x="1209.5" y="573.4" font-size="22.5" text-anchor="end">1.0</text>
<line x1="1214.4" y1="610.1" x2="1224.4" y2="610.1" stroke="#000" stroke-width="2.3"/>
<text x="1209.5" y="616.3" font-size="22.5" text-anchor="end">0.5</text>
<text x="1209.5" y="659.2" font-size="22.5" text-anchor="end">0.0</text>
<line x1="1214.4" y1="431.5" x2="1224.4" y2="431.5" stroke="#000" stroke-width="2.3"/>
<line x1="1214.4" y1="453.1" x2="1224.4" y2="453.1" stroke="#000" stroke-width="2.3"/>
<line x1="1248.8" y1="615.2" x2="1248.8" y2="564.6" stroke="#000" stroke-width="1.5"/>
<line x1="1243.6" y1="564.6" x2="1254" y2="564.6" stroke="#000" stroke-width="1.5"/>
<line x1="1248.8" y1="648.4" x2="1248.8" y2="653" stroke="#000" stroke-width="1.5"/>
<rect x="1236.3" y="615.2" width="25" height="33.2" fill="#f70000" stroke="#111" stroke-width="1.5"/>
<line x1="1236.3" y1="635" x2="1261.3" y2="635" stroke="#111" stroke-width="1.8"/>
<line x1="1248.8" y1="653" x2="1248.8" y2="661.5" stroke="#000" stroke-width="2.3"/>
<text x="1246.3" y="680.5" font-size="20" text-anchor="middle">G1</text>
<text x="1248.8" y="564.5" font-size="18" text-anchor="middle">*</text>
<line x1="1286" y1="607.5" x2="1286" y2="549.3" stroke="#000" stroke-width="1.5"/>
<line x1="1280.8" y1="549.3" x2="1291.2" y2="549.3" stroke="#000" stroke-width="1.5"/>
<line x1="1286" y1="648.4" x2="1286" y2="653" stroke="#000" stroke-width="1.5"/>
<rect x="1273.5" y="607.5" width="25" height="40.9" fill="#00bd00" stroke="#111" stroke-width="1.5"/>
<line x1="1273.5" y1="633.6" x2="1298.5" y2="633.6" stroke="#111" stroke-width="1.8"/>
<line x1="1286" y1="653" x2="1286" y2="661.5" stroke="#000" stroke-width="2.3"/>
<text x="1283.5" y="680.5" font-size="20" text-anchor="middle">S</text>
<text x="1286" y="548" font-size="18" text-anchor="middle">*</text>
<line x1="1323.3" y1="617.2" x2="1323.3" y2="569.2" stroke="#000" stroke-width="1.5"/>
<line x1="1318.1" y1="569.2" x2="1328.5" y2="569.2" stroke="#000" stroke-width="1.5"/>
<line x1="1323.3" y1="648.4" x2="1323.3" y2="653" stroke="#000" stroke-width="1.5"/>
<rect x="1310.8" y="617.2" width="25" height="31.2" fill="#0581ff" stroke="#111" stroke-width="1.5"/>
<line x1="1310.8" y1="637.6" x2="1335.8" y2="637.6" stroke="#111" stroke-width="1.8"/>
<line x1="1323.3" y1="653" x2="1323.3" y2="661.5" stroke="#000" stroke-width="2.3"/>
<text x="1320.8" y="680.5" font-size="20" text-anchor="middle">G2</text>
<text x="1323.3" y="570.5" font-size="18" text-anchor="middle">*</text>
<line x1="1360.4" y1="531.4" x2="1360.4" y2="481.3" stroke="#000" stroke-width="1.5"/>
<line x1="1360.4" y1="463.8" x2="1360.4" y2="444.8" stroke="#000" stroke-width="1.5"/>
<line x1="1353.8" y1="444.8" x2="1367" y2="444.8" stroke="#000" stroke-width="1.5"/>
<line x1="1360.4" y1="614.4" x2="1360.4" y2="653" stroke="#000" stroke-width="1.5"/>
<rect x="1347.9" y="531.4" width="25" height="83" fill="#f70000" stroke="#111" stroke-width="1.5"/>
<line x1="1347.9" y1="580" x2="1372.9" y2="580" stroke="#111" stroke-width="1.8"/>
<line x1="1360.4" y1="653" x2="1360.4" y2="661.5" stroke="#000" stroke-width="2.3"/>
<text x="1357.9" y="680.5" font-size="20" text-anchor="middle">G1</text>
<line x1="1397.6" y1="501.3" x2="1397.6" y2="481.3" stroke="#000" stroke-width="1.5"/>
<line x1="1397.6" y1="463.8" x2="1397.6" y2="437.2" stroke="#000" stroke-width="1.5"/>
<line x1="1391" y1="437.2" x2="1404.2" y2="437.2" stroke="#000" stroke-width="1.5"/>
<line x1="1397.6" y1="604.2" x2="1397.6" y2="653" stroke="#000" stroke-width="1.5"/>
<rect x="1385.1" y="501.3" width="25" height="102.9" fill="#00bd00" stroke="#111" stroke-width="1.5"/>
<line x1="1385.1" y1="556.4" x2="1410.1" y2="556.4" stroke="#111" stroke-width="1.8"/>
<line x1="1397.6" y1="653" x2="1397.6" y2="661.5" stroke="#000" stroke-width="2.3"/>
<text x="1395.1" y="680.5" font-size="20" text-anchor="middle">S</text>
<line x1="1434.9" y1="521.2" x2="1434.9" y2="481.3" stroke="#000" stroke-width="1.5"/>
<line x1="1434.9" y1="463.8" x2="1434.9" y2="444.8" stroke="#000" stroke-width="1.5"/>
<line x1="1428.3" y1="444.8" x2="1441.5" y2="444.8" stroke="#000" stroke-width="1.5"/>
<line x1="1434.9" y1="612.6" x2="1434.9" y2="653" stroke="#000" stroke-width="1.5"/>
<rect x="1422.4" y="521.2" width="25" height="91.4" fill="#0581ff" stroke="#111" stroke-width="1.5"/>
<line x1="1422.4" y1="569.7" x2="1447.4" y2="569.7" stroke="#111" stroke-width="1.8"/>
<line x1="1434.9" y1="653" x2="1434.9" y2="661.5" stroke="#000" stroke-width="2.3"/>
<text x="1432.4" y="680.5" font-size="20" text-anchor="middle">G2</text>
<line x1="1472" y1="621" x2="1472" y2="580.7" stroke="#000" stroke-width="1.5"/>
<line x1="1466.8" y1="580.7" x2="1477.2" y2="580.7" stroke="#000" stroke-width="1.5"/>
<line x1="1472" y1="648.4" x2="1472" y2="653" stroke="#000" stroke-width="1.5"/>
<rect x="1459.5" y="621" width="25" height="27.4" fill="#f70000" stroke="#111" stroke-width="1.5"/>
<line x1="1459.5" y1="636.4" x2="1484.5" y2="636.4" stroke="#111" stroke-width="1.8"/>
<line x1="1472" y1="653" x2="1472" y2="661.5" stroke="#000" stroke-width="2.3"/>
<text x="1469.5" y="680.5" font-size="20" text-anchor="middle">G1</text>
<text x="1472" y="581.2" font-size="18" text-anchor="middle">*</text>
<line x1="1509" y1="615.2" x2="1509" y2="567.2" stroke="#000" stroke-width="1.5"/>
<line x1="1503.8" y1="567.2" x2="1514.2" y2="567.2" stroke="#000" stroke-width="1.5"/>
<line x1="1509" y1="648.4" x2="1509" y2="653" stroke="#000" stroke-width="1.5"/>
<rect x="1496.5" y="615.2" width="25" height="33.2" fill="#00bd00" stroke="#111" stroke-width="1.5"/>
<line x1="1496.5" y1="635.6" x2="1521.5" y2="635.6" stroke="#111" stroke-width="1.8"/>
<line x1="1509" y1="653" x2="1509" y2="661.5" stroke="#000" stroke-width="2.3"/>
<text x="1506.5" y="680.5" font-size="20" text-anchor="middle">S</text>
<text x="1509" y="568.5" font-size="18" text-anchor="middle">*</text>
<line x1="1546" y1="625.4" x2="1546" y2="591.2" stroke="#000" stroke-width="1.5"/>
<line x1="1540.8" y1="591.2" x2="1551.2" y2="591.2" stroke="#000" stroke-width="1.5"/>
<line x1="1546" y1="648.4" x2="1546" y2="653" stroke="#000" stroke-width="1.5"/>
<rect x="1533.5" y="625.4" width="25" height="23" fill="#0581ff" stroke="#111" stroke-width="1.5"/>
<line x1="1533.5" y1="639" x2="1558.5" y2="639" stroke="#111" stroke-width="1.8"/>
<line x1="1546" y1="653" x2="1546" y2="661.5" stroke="#000" stroke-width="2.3"/>
<text x="1543.5" y="680.5" font-size="20" text-anchor="middle">G2</text>
<text x="1546" y="594" font-size="18" text-anchor="middle">*</text>
<line x1="1231.4" y1="692.5" x2="1330" y2="692.5" stroke="#555" stroke-width="1.4"/>
<text x="1282.7" y="715" font-size="19" text-anchor="middle">Cluster I</text>
<line x1="1343.3" y1="692.5" x2="1441.6" y2="692.5" stroke="#555" stroke-width="1.4"/>
<text x="1394.8" y="715" font-size="19" text-anchor="middle">Cluster II</text>
<line x1="1455" y1="692.5" x2="1553.4" y2="692.5" stroke="#555" stroke-width="1.4"/>
<text x="1508" y="715" font-size="19" text-anchor="middle">Cluster III</text>
<text x="1561.6" y="448" font-size="23" text-anchor="end">RING1B</text>
<path d="M1661.7 604.1h0M1654.1 613.5h0M1666.8 606.7h0M1666.3 613.1h0M1660.4 618.9h0M1659.7 617.2h0M1665.5 608.5h0M1666.2 610.8h0M1652.4 615.2h0M1663.7 612.2h0M1653.1 605.8h0M1654.7 616.5h0M1666.3 612.1h0M1650.6 616.2h0M1663.8 599.6h0M1653.7 603.8h0M1653.2 616.3h0M1655.8 599h0M1653.8 618.1h0M1655.9 603.2h0M1658 596.6h0M1655.1 607.5h0M1667.2 615.8h0M1657.5 596.1h0M1651.1 614.7h0M1657.4 617.3h0M1661.1 610.9h0M1653.1 614.7h0M1657.3 610h0M1669.1 614.8h0M1691.8 514.5h0M1702 493.8h0M1705.8 522.9h0M1705.7 530.9h0M1704.6 529.6h0M1703.9 510h0M1700.8 526h0M1695.3 494.8h0M1699.3 529.2h0M1690.5 530.4h0M1695.5 531.9h0M1697.9 511.4h0M1692.1 513.7h0M1699.5 530.9h0M1689.8 529.9h0M1701 531.5h0M1698.3 493.6h0M1692.8 532h0M1701.9 509.8h0M1697.7 528.7h0M1699 531.8h0M1698.3 505.8h0M1695.5 504.2h0M1697.9 510.6h0M1692.7 513.7h0M1699.5 460.4h0M1698.9 460.8h0M1697.3 461h0M1699.1 459.2h0M1701.9 460.3h0M1736.9 494.5h0M1744 506.7h0M1736.6 500h0M1730.1 506.8h0M1739 511.5h0M1741.5 501h0M1734.7 504.3h0M1732.6 500.3h0M1738.1 481.1h0M1736.6 508.9h0M1742.2 487.5h0M1742.3 494.2h0M1735.1 489.2h0M1736.1 505.3h0M1738.8 513.7h0M1741.7 500.5h0M1746.2 507.8h0M1737.9 492.4h0M1745.8 510.7h0M1738.8 495h0M1730.4 511.5h0M1745.6 511.4h0M1740.5 504.5h0M1741.4 494.6h0M1730.8 509.2h0M1733.4 481h0M1735.9 479h0M1732.4 513.9h0M1735.5 491.1h0M1727.7 512.5h0M1738.4 513.7h0M1740.2 507h0M1732.2 512.7h0M1733.9 500.4h0M1733.3 494.5h0M1738.6 452.8h0M1739.9 457.8h0M1743.5 458.6h0M1734.4 452.9h0M1738 451h0M1738.8 450.7h0M1737.2 449.7h0M1740.6 458.6h0M1737 449.5h0M1738 453.4h0M1732 458.8h0M1732.5 454.9h0M1740.9 457.4h0M1735.7 458.2h0M1775.8 585.4h0M1772.4 589.4h0M1774.3 587.6h0M1778.8 587.9h0M1773.4 586.8h0M1776.2 585.8h0M1880.6 619.1h0M1892 617.7h0M1881.5 611.3h0M1886 592.5h0M1890.3 597.6h0M1894.3 599.3h0M1888.5 603.6h0M1885.2 610.2h0M1880.5 617.3h0M1898.1 614.8h0M1884.1 602.7h0M1889.1 615.4h0M1890.5 610h0M1886.6 597.7h0M1892.6 605.8h0M1882.6 621h0M1892.8 620h0M1894.8 596.7h0M1890.9 597.6h0M1892.9 606.6h0M1890 616.5h0M1886.7 619.7h0M1899.1 614.8h0M1890.1 618.5h0M1880.7 620.7h0M1930.5 531.7h0M1938 531.1h0M1931.3 534.7h0M1924.2 499.4h0M1923.5 510h0M1932 498.9h0M1933.9 508.9h0M1918.9 555.5h0M1919.9 538.7h0M1925.1 495.7h0M1933.9 549.2h0M1937.3 554h0M1929.6 542.8h0M1923.2 503.4h0M1926.1 548.1h0M1925.5 515.7h0M1922.8 538.4h0M1927.4 526h0M1920.5 521h0M1936.9 528.5h0M1922.9 548.9h0M1923.7 509.7h0M1927.1 532.2h0M1924.9 551.9h0M1930.6 507.2h0M1930.8 548.4h0M1925.5 486.5h0M1923.2 513.8h0M1920.3 547.9h0M1931.6 526.7h0M1930.2 515.3h0M1923.3 525h0M1920.6 547.6h0M1924.7 488h0M1927.3 502.2h0M1928.6 456.1h0M1929.4 455.5h0M1927.2 456.7h0M1960.3 515.8h0M1965.5 521h0M1966.7 546.1h0M1966.7 539.5h0M1961.2 520.4h0M1965.9 530.5h0M1972 495.6h0M1964.5 541.3h0M1964 531.3h0M1970.9 492.3h0M1974.3 545.1h0M1971.7 502.2h0M1958.2 533.7h0M1962.7 514.3h0M1961.8 512.4h0M1960.5 524h0M1963 522.3h0M1974.9 548.3h0M1969.3 509.7h0M1965.4 537.5h0M1962.7 524h0M1961.5 515.3h0M1963.1 545.7h0M1969 528.1h0M1968.4 513.2h0M1974.2 533h0M1967.1 526.7h0M1972.4 543.6h0M1973.9 548.5h0M1974.8 516.6h0M1967.5 501.3h0M1965.7 514.9h0M1975.9 540h0M1971.4 534.8h0M1958.4 549h0M1968.2 449.4h0M1968.1 451.3h0M1967.2 459.3h0M1968 455.1h0M1967 446.4h0M1968.5 452.1h0M1972.8 459.6h0M1972 456.6h0M1966.1 448.7h0M1968.7 453.8h0" fill="none" stroke="#cbcbcb" stroke-width="3.6" stroke-linecap="round"/>
<line x1="1634.8" y1="416.3" x2="1634.8" y2="460.6" stroke="#000" stroke-width="2.3"/>
<line x1="1634.8" y1="478.7" x2="1634.8" y2="657.4" stroke="#000" stroke-width="2.3"/>
<line x1="1624.8" y1="416.3" x2="1995.6" y2="416.3" stroke="#000" stroke-width="2.3"/>
<line x1="1994.4" y1="416.3" x2="1994.4" y2="656.2" stroke="#000" stroke-width="2.3"/>
<line x1="1624.8" y1="656.2" x2="1995.6" y2="656.2" stroke="#000" stroke-width="2.3"/>
<line x1="1629.3" y1="460.6" x2="1640.3" y2="460.6" stroke="#000" stroke-width="2.3"/>
<line x1="1629.3" y1="478.7" x2="1640.3" y2="478.7" stroke="#000" stroke-width="2.3"/>
<text x="1622.4" y="422.5" font-size="22.5" text-anchor="end">4.0</text>
<line x1="1624.8" y1="438.7" x2="1634.8" y2="438.7" stroke="#000" stroke-width="2.3"/>
<text x="1622.4" y="444.9" font-size="22.5" text-anchor="end">3.0</text>
<text x="1622.4" y="484.9" font-size="22.5" text-anchor="end">2.0</text>
<line x1="1624.8" y1="523.1" x2="1634.8" y2="523.1" stroke="#000" stroke-width="2.3"/>
<text x="1622.4" y="529.3" font-size="22.5" text-anchor="end">1.5</text>
<line x1="1624.8" y1="567.5" x2="1634.8" y2="567.5" stroke="#000" stroke-width="2.3"/>
<text x="1622.4" y="573.7" font-size="22.5" text-anchor="end">1.0</text>
<line x1="1624.8" y1="611.8" x2="1634.8" y2="611.8" stroke="#000" stroke-width="2.3"/>
<text x="1622.4" y="618" font-size="22.5" text-anchor="end">0.5</text>
<text x="1622.4" y="662.4" font-size="22.5" text-anchor="end">0.0</text>
<line x1="1624.8" y1="427.5" x2="1634.8" y2="427.5" stroke="#000" stroke-width="2.3"/>
<line x1="1624.8" y1="449.7" x2="1634.8" y2="449.7" stroke="#000" stroke-width="2.3"/>
<line x1="1659.8" y1="640.2" x2="1659.8" y2="619.8" stroke="#000" stroke-width="1.5"/>
<line x1="1654.6" y1="619.8" x2="1665" y2="619.8" stroke="#000" stroke-width="1.5"/>
<line x1="1659.8" y1="652.7" x2="1659.8" y2="656.2" stroke="#000" stroke-width="1.5"/>
<rect x="1647.3" y="640.2" width="25" height="12.4" fill="#f70000" stroke="#111" stroke-width="1.5"/>
<line x1="1647.3" y1="647.8" x2="1672.3" y2="647.8" stroke="#111" stroke-width="1.8"/>
<line x1="1659.8" y1="656.2" x2="1659.8" y2="664.7" stroke="#000" stroke-width="2.3"/>
<text x="1661.3" y="685.3" font-size="20" text-anchor="middle">G1</text>
<text x="1659.8" y="622.9" font-size="18" text-anchor="middle">*</text>
<line x1="1698.3" y1="603" x2="1698.3" y2="532" stroke="#000" stroke-width="1.5"/>
<line x1="1693.1" y1="532" x2="1703.5" y2="532" stroke="#000" stroke-width="1.5"/>
<line x1="1698.3" y1="652.7" x2="1698.3" y2="656.2" stroke="#000" stroke-width="1.5"/>
<rect x="1685.8" y="603" width="25" height="49.7" fill="#00bd00" stroke="#111" stroke-width="1.5"/>
<line x1="1685.8" y1="636.7" x2="1710.8" y2="636.7" stroke="#111" stroke-width="1.8"/>
<line x1="1698.3" y1="656.2" x2="1698.3" y2="664.7" stroke="#000" stroke-width="2.3"/>
<text x="1699.8" y="685.3" font-size="20" text-anchor="middle">S</text>
<text x="1698.3" y="533.1" font-size="18" text-anchor="middle">*</text>
<line x1="1736.8" y1="597.6" x2="1736.8" y2="514.2" stroke="#000" stroke-width="1.5"/>
<line x1="1731.6" y1="514.2" x2="1742" y2="514.2" stroke="#000" stroke-width="1.5"/>
<line x1="1736.8" y1="653.5" x2="1736.8" y2="656.2" stroke="#000" stroke-width="1.5"/>
<rect x="1724.3" y="597.6" width="25" height="55.9" fill="#0581ff" stroke="#111" stroke-width="1.5"/>
<line x1="1724.3" y1="641.1" x2="1749.3" y2="641.1" stroke="#111" stroke-width="1.8"/>
<line x1="1736.8" y1="656.2" x2="1736.8" y2="664.7" stroke="#000" stroke-width="2.3"/>
<text x="1738.3" y="685.3" font-size="20" text-anchor="middle">G2</text>
<text x="1736.8" y="515" font-size="18" text-anchor="middle">*</text>
<line x1="1775.3" y1="621.6" x2="1775.3" y2="592.3" stroke="#000" stroke-width="1.5"/>
<line x1="1770.1" y1="592.3" x2="1780.5" y2="592.3" stroke="#000" stroke-width="1.5"/>
<line x1="1775.3" y1="642" x2="1775.3" y2="656.2" stroke="#000" stroke-width="1.5"/>
<rect x="1762.8" y="621.6" width="25" height="20.4" fill="#f70000" stroke="#111" stroke-width="1.5"/>
<line x1="1762.8" y1="632.2" x2="1787.8" y2="632.2" stroke="#111" stroke-width="1.8"/>
<line x1="1775.3" y1="656.2" x2="1775.3" y2="664.7" stroke="#000" stroke-width="2.3"/>
<text x="1776.8" y="685.3" font-size="20" text-anchor="middle">G1</text>
<line x1="1813.7" y1="547" x2="1813.7" y2="478.7" stroke="#000" stroke-width="1.5"/>
<line x1="1813.7" y1="460.6" x2="1813.7" y2="452.6" stroke="#000" stroke-width="1.5"/>
<line x1="1807.1" y1="452.6" x2="1820.3" y2="452.6" stroke="#000" stroke-width="1.5"/>
<line x1="1813.7" y1="617.2" x2="1813.7" y2="656.2" stroke="#000" stroke-width="1.5"/>
<rect x="1801.2" y="547" width="25" height="70.1" fill="#00bd00" stroke="#111" stroke-width="1.5"/>
<line x1="1801.2" y1="582.5" x2="1826.2" y2="582.5" stroke="#111" stroke-width="1.8"/>
<line x1="1813.7" y1="656.2" x2="1813.7" y2="664.7" stroke="#000" stroke-width="2.3"/>
<text x="1815.2" y="685.3" font-size="20" text-anchor="middle">S</text>
<line x1="1852.2" y1="521.3" x2="1852.2" y2="478.7" stroke="#000" stroke-width="1.5"/>
<line x1="1852.2" y1="460.6" x2="1852.2" y2="438.7" stroke="#000" stroke-width="1.5"/>
<line x1="1845.6" y1="438.7" x2="1858.8" y2="438.7" stroke="#000" stroke-width="1.5"/>
<line x1="1852.2" y1="618.9" x2="1852.2" y2="656.2" stroke="#000" stroke-width="1.5"/>
<rect x="1839.7" y="521.3" width="25" height="97.6" fill="#0581ff" stroke="#111" stroke-width="1.5"/>
<line x1="1839.7" y1="571.9" x2="1864.7" y2="571.9" stroke="#111" stroke-width="1.8"/>
<line x1="1852.2" y1="656.2" x2="1852.2" y2="664.7" stroke="#000" stroke-width="2.3"/>
<text x="1853.7" y="685.3" font-size="20" text-anchor="middle">G2</text>
<line x1="1890.3" y1="641.1" x2="1890.3" y2="624.2" stroke="#000" stroke-width="1.5"/>
<line x1="1885.1" y1="624.2" x2="1895.5" y2="624.2" stroke="#000" stroke-width="1.5"/>
<line x1="1890.3" y1="652.7" x2="1890.3" y2="656.2" stroke="#000" stroke-width="1.5"/>
<rect x="1877.8" y="641.1" width="25" height="11.5" fill="#f70000" stroke="#111" stroke-width="1.5"/>
<line x1="1877.8" y1="648.2" x2="1902.8" y2="648.2" stroke="#111" stroke-width="1.8"/>
<line x1="1890.3" y1="656.2" x2="1890.3" y2="664.7" stroke="#000" stroke-width="2.3"/>
<text x="1891.8" y="685.3" font-size="20" text-anchor="middle">G1</text>
<text x="1890.3" y="622.9" font-size="18" text-anchor="middle">*</text>
<line x1="1928.8" y1="612.7" x2="1928.8" y2="555.9" stroke="#000" stroke-width="1.5"/>
<line x1="1923.6" y1="555.9" x2="1934" y2="555.9" stroke="#000" stroke-width="1.5"/>
<line x1="1928.8" y1="652.7" x2="1928.8" y2="656.2" stroke="#000" stroke-width="1.5"/>
<rect x="1916.3" y="612.7" width="25" height="39.9" fill="#00bd00" stroke="#111" stroke-width="1.5"/>
<line x1="1916.3" y1="644.7" x2="1941.3" y2="644.7" stroke="#111" stroke-width="1.8"/>
<line x1="1928.8" y1="656.2" x2="1928.8" y2="664.7" stroke="#000" stroke-width="2.3"/>
<text x="1930.3" y="685.3" font-size="20" text-anchor="middle">S</text>
<text x="1928.8" y="555.6" font-size="18" text-anchor="middle">*</text>
<line x1="1967.3" y1="611.8" x2="1967.3" y2="546.2" stroke="#000" stroke-width="1.5"/>
<line x1="1962.1" y1="546.2" x2="1972.5" y2="546.2" stroke="#000" stroke-width="1.5"/>
<line x1="1967.3" y1="654.4" x2="1967.3" y2="656.2" stroke="#000" stroke-width="1.5"/>
<rect x="1954.8" y="611.8" width="25" height="42.6" fill="#0581ff" stroke="#111" stroke-width="1.5"/>
<line x1="1954.8" y1="648.2" x2="1979.8" y2="648.2" stroke="#111" stroke-width="1.8"/>
<line x1="1967.3" y1="656.2" x2="1967.3" y2="664.7" stroke="#000" stroke-width="2.3"/>
<text x="1968.8" y="685.3" font-size="20" text-anchor="middle">G2</text>
<text x="1967.3" y="548.1" font-size="18" text-anchor="middle">*</text>
<line x1="1647" y1="697.9" x2="1749" y2="697.9" stroke="#555" stroke-width="1.4"/>
<text x="1695" y="720.5" font-size="19" text-anchor="middle">Cluster I</text>
<line x1="1762.4" y1="697.9" x2="1865" y2="697.9" stroke="#555" stroke-width="1.4"/>
<text x="1815.9" y="720.5" font-size="19" text-anchor="middle">Cluster II</text>
<line x1="1877.5" y1="697.9" x2="1980" y2="697.9" stroke="#555" stroke-width="1.4"/>
<text x="1928.1" y="720.5" font-size="19" text-anchor="middle">Cluster III</text>
<text x="1984.8" y="442.5" font-size="23" text-anchor="end">RYBP</text>
<path d="M1257.9 911.7h0M1258 907h0M1244.1 848.8h0M1244.8 888h0M1252.7 895.4h0M1243.4 861h0M1250.2 886h0M1240 882h0M1246.6 896.6h0M1250.3 851.2h0M1243.1 875.2h0M1243.7 849.6h0M1239.3 899.8h0M1252 882.4h0M1251.9 872.8h0M1249.1 872.8h0M1257 904.4h0M1249 844h0M1250.4 843.3h0M1249.9 856h0M1249.3 862.6h0M1254.6 909.4h0M1249.8 899h0M1246.6 853.8h0M1247.9 903.5h0M1250.9 856.2h0M1250.7 843.7h0M1246.5 863.2h0M1256.7 907.5h0M1257.4 911.6h0M1242.2 878.3h0M1251.7 908.1h0M1245.1 911h0M1238.1 910.1h0M1250.1 904.4h0M1255.2 911.8h0M1242.6 879h0M1239.9 871.7h0M1246.8 904.3h0M1248.9 858.4h0M1257.7 911.6h0M1239.4 908.5h0M1239 883.3h0M1240.8 895.4h0M1243.7 892.7h0M1243.4 894.7h0M1249.8 890.7h0M1247.3 894.8h0M1244.4 902.1h0M1245.7 910.8h0M1240.2 888.9h0M1247.9 901h0M1249.3 890.2h0M1253.9 904.2h0M1256.5 908.7h0M1241.8 899.7h0M1256.3 900h0M1253.8 873.6h0M1246.3 844h0M1240.4 863.4h0M1243.4 862.5h0M1250.4 900.1h0M1247.7 888.6h0M1244.4 900.8h0M1241.3 851.6h0M1250.1 911.9h0M1240.9 910.7h0M1236.2 903.4h0M1256.6 896.7h0M1240.9 857.8h0M1250.7 844.2h0M1242.6 857.9h0M1239.3 901h0M1250 869.6h0M1256.9 903.2h0M1250 870.5h0M1254 894.5h0M1251.9 885.5h0M1241.8 852.2h0M1240.4 911.5h0M1244.8 851.4h0M1247.9 897.5h0M1245.8 885.6h0M1246.2 861.9h0M1241.4 867h0M1246.2 868.5h0M1239.7 888.7h0M1242.2 856.8h0M1247 867.2h0M1257.7 911.9h0M1246.2 818.7h0M1292.8 861.8h0M1285.5 850.9h0M1276 852.6h0M1279.8 864.2h0M1282.5 863.2h0M1289 853.8h0M1287.7 864.8h0M1286.8 859.6h0M1276.8 856.1h0M1278.8 835.4h0M1282.4 828.9h0M1286.2 863.5h0M1291.1 838.5h0M1276.8 860.7h0M1282.2 820.9h0M1285.3 841.5h0M1285.2 816.4h0M1280.8 829.2h0M1284.2 830.3h0M1286.1 832.6h0M1282.5 862.9h0M1279.9 842.1h0M1280.6 856.8h0M1290.7 850.6h0M1285.7 819.6h0M1290.3 838.4h0M1285.2 825.6h0M1281.3 864.8h0M1286.5 858.9h0M1278 853.5h0M1283.3 795h0M1290.6 796.2h0M1280.2 793.7h0M1287.4 796h0M1281.2 797.5h0M1289.7 793.9h0M1283.4 794.6h0M1289.8 794.8h0M1316.9 829.9h0M1325.9 827.3h0M1320.4 824.7h0M1324.7 828.9h0M1318.6 828.6h0M1322.9 828.1h0M1327.1 797.1h0M1321.3 793.2h0M1332.4 797.2h0M1317.6 798.8h0M1321.2 796h0M1331 797.4h0M1328.8 797.2h0M1326.2 793.5h0M1321.2 788.2h0M1320.1 798.9h0M1310.3 799h0M1313 798.8h0M1325.1 787.6h0M1312.6 797.5h0M1320.3 798.9h0M1330.1 795.1h0M1323.3 795.9h0M1316.9 792.9h0M1315.6 797.5h0M1324.6 796.4h0M1329.5 795.5h0M1317.1 792.6h0M1330.5 796.6h0M1319.4 799h0M1315.4 794.8h0M1328.5 789.8h0M1319.3 796.9h0M1326.5 797.4h0M1321.2 799h0M1326.8 798.7h0M1360.3 841.9h0M1354.2 836.8h0M1363.3 822.9h0M1360.8 855h0M1366.5 844.6h0M1359.3 840.1h0M1355.1 857.1h0M1350.7 845.4h0M1356.4 852h0M1361.8 838.5h0M1354.9 859.1h0M1354 828.3h0M1351.6 851.6h0M1369 854.9h0M1366.7 848.5h0M1361.9 859.4h0M1355 844.8h0M1354.7 832.6h0M1361.8 839.6h0M1361.3 859.1h0M1367.8 854.4h0M1357.3 822.7h0M1358.3 823.3h0M1360.6 848.1h0M1360.9 836.5h0M1357.6 820.4h0M1354.7 827.1h0M1352.2 847.6h0M1368.7 857.2h0M1367.7 856.8h0M1358.2 838h0M1360.2 845.8h0M1356.4 853.7h0M1361.6 836.8h0M1355.9 858.2h0M1365.5 845h0M1366.3 858.8h0M1360.1 834.8h0M1353.9 859.2h0M1361.2 831.9h0M1360 798.9h0M1361.4 798.6h0M1357.7 799h0M1400.5 791.7h0M1402.2 788.3h0M1397.6 790.6h0M1401.2 787.6h0M1392.7 789.7h0M1399 790.2h0M1393.3 788.4h0M1399.4 789h0M1391.9 791.4h0M1395.8 787.1h0M1392.6 790.4h0M1397.4 792h0M1393.9 789.3h0M1402.2 791h0M1433.5 778.5h0M1435.4 779.1h0M1433.4 774.1h0M1432 778.2h0M1432.8 779.7h0M1435.5 777.9h0M1436.3 777.4h0M1430.7 779.7h0M1464 908.3h0M1464.6 909.4h0M1471.8 862.7h0M1475.4 864.8h0M1480 889.6h0M1468.7 890h0M1469.5 862.8h0M1475.1 896.5h0M1466.7 885.7h0M1481.5 908.5h0M1478.4 877.6h0M1462.8 914.9h0M1475.9 874.8h0M1468.4 862h0M1468.3 852.9h0M1509.5 877.3h0M1509.1 870.8h0M1507.3 880.3h0M1516.5 855.4h0M1510.6 878.1h0M1514.8 884.1h0M1508.3 845.9h0M1507.7 836.3h0M1512.8 873.1h0M1509.3 834.9h0M1519 883.5h0M1507.4 878.4h0M1507.5 856.3h0M1507.1 852.9h0M1508.4 878.5h0M1501 882.8h0M1506.2 851.5h0M1508.1 852.4h0M1504.6 879.1h0M1517.6 870.2h0M1508.9 794.7h0M1510.2 795.2h0M1510.5 796.8h0M1552.2 839.2h0M1545.1 824.8h0M1550.6 849h0M1546.4 832.8h0M1553.2 849h0M1545.7 808.9h0M1546.1 830.6h0M1548.2 818.9h0M1549.3 817.1h0M1547.8 809.7h0M1548 839.8h0M1542.8 849.8h0M1546.5 799.6h0M1549.3 799.9h0M1544.8 798.3h0M1549.2 799.4h0M1547.4 798.8h0M1545.7 795.4h0" fill="none" stroke="#cbcbcb" stroke-width="3.6" stroke-linecap="round"/>
<line x1="1221.9" y1="755.4" x2="1221.9" y2="799.3" stroke="#000" stroke-width="2.3"/>
<line x1="1221.9" y1="817.3" x2="1221.9" y2="991.5" stroke="#000" stroke-width="2.3"/>
<line x1="1211.9" y1="755.4" x2="1576.2" y2="755.4" stroke="#000" stroke-width="2.3"/>
<line x1="1575" y1="755.4" x2="1575" y2="990.4" stroke="#000" stroke-width="2.3"/>
<line x1="1211.9" y1="990.4" x2="1576.2" y2="990.4" stroke="#000" stroke-width="2.3"/>
<line x1="1216.4" y1="799.3" x2="1227.4" y2="799.3" stroke="#000" stroke-width="2.3"/>
<line x1="1216.4" y1="817.3" x2="1227.4" y2="817.3" stroke="#000" stroke-width="2.3"/>
<text x="1205.5" y="761.6" font-size="22.5" text-anchor="end">1.0</text>
<line x1="1211.9" y1="784.7" x2="1221.9" y2="784.7" stroke="#000" stroke-width="2.3"/>
<text x="1205.5" y="790.9" font-size="22.5" text-anchor="end">0.6</text>
<text x="1205.5" y="823.5" font-size="22.5" text-anchor="end">0.4</text>
<line x1="1211.9" y1="860.6" x2="1221.9" y2="860.6" stroke="#000" stroke-width="2.3"/>
<text x="1205.5" y="866.8" font-size="22.5" text-anchor="end">0.3</text>
<line x1="1211.9" y1="903.8" x2="1221.9" y2="903.8" stroke="#000" stroke-width="2.3"/>
<text x="1205.5" y="910" font-size="22.5" text-anchor="end">0.2</text>
<line x1="1211.9" y1="947.1" x2="1221.9" y2="947.1" stroke="#000" stroke-width="2.3"/>
<text x="1205.5" y="953.3" font-size="22.5" text-anchor="end">0.1</text>
<text x="1205.5" y="996.6" font-size="22.5" text-anchor="end">0.0</text>
<line x1="1211.9" y1="770" x2="1221.9" y2="770" stroke="#000" stroke-width="2.3"/>
<line x1="1246.7" y1="949.3" x2="1246.7" y2="911.2" stroke="#000" stroke-width="1.5"/>
<line x1="1241.5" y1="911.2" x2="1251.9" y2="911.2" stroke="#000" stroke-width="1.5"/>
<line x1="1246.7" y1="975.3" x2="1246.7" y2="990.4" stroke="#000" stroke-width="1.5"/>
<rect x="1234.2" y="949.3" width="25" height="26" fill="#f70000" stroke="#111" stroke-width="1.5"/>
<line x1="1234.2" y1="966.2" x2="1259.2" y2="966.2" stroke="#111" stroke-width="1.8"/>
<line x1="1246.7" y1="990.4" x2="1246.7" y2="998.9" stroke="#000" stroke-width="2.3"/>
<text x="1248.2" y="1018.8" font-size="20" text-anchor="middle">G1</text>
<text x="1246.7" y="909.8" font-size="18" text-anchor="middle">*</text>
<line x1="1284.4" y1="929.4" x2="1284.4" y2="864.9" stroke="#000" stroke-width="1.5"/>
<line x1="1279.2" y1="864.9" x2="1289.6" y2="864.9" stroke="#000" stroke-width="1.5"/>
<line x1="1284.4" y1="972.2" x2="1284.4" y2="990.4" stroke="#000" stroke-width="1.5"/>
<rect x="1271.9" y="929.4" width="25" height="42.8" fill="#00bd00" stroke="#111" stroke-width="1.5"/>
<line x1="1271.9" y1="957.5" x2="1296.9" y2="957.5" stroke="#111" stroke-width="1.8"/>
<line x1="1284.4" y1="990.4" x2="1284.4" y2="998.9" stroke="#000" stroke-width="2.3"/>
<text x="1285.9" y="1018.8" font-size="20" text-anchor="middle">S</text>
<text x="1284.4" y="865.8" font-size="18" text-anchor="middle">*</text>
<line x1="1322" y1="915.1" x2="1322" y2="831.6" stroke="#000" stroke-width="1.5"/>
<line x1="1316.8" y1="831.6" x2="1327.2" y2="831.6" stroke="#000" stroke-width="1.5"/>
<line x1="1322" y1="970.9" x2="1322" y2="990.4" stroke="#000" stroke-width="1.5"/>
<rect x="1309.5" y="915.1" width="25" height="55.8" fill="#0581ff" stroke="#111" stroke-width="1.5"/>
<line x1="1309.5" y1="951.5" x2="1334.5" y2="951.5" stroke="#111" stroke-width="1.8"/>
<line x1="1322" y1="990.4" x2="1322" y2="998.9" stroke="#000" stroke-width="2.3"/>
<text x="1323.5" y="1018.8" font-size="20" text-anchor="middle">G2</text>
<text x="1322" y="833.2" font-size="18" text-anchor="middle">*</text>
<line x1="1359.4" y1="915.1" x2="1359.4" y2="853.7" stroke="#000" stroke-width="1.5"/>
<line x1="1354.2" y1="853.7" x2="1364.6" y2="853.7" stroke="#000" stroke-width="1.5"/>
<line x1="1359.4" y1="956.2" x2="1359.4" y2="990.4" stroke="#000" stroke-width="1.5"/>
<rect x="1346.9" y="915.1" width="25" height="41.1" fill="#f70000" stroke="#111" stroke-width="1.5"/>
<line x1="1346.9" y1="940.6" x2="1371.9" y2="940.6" stroke="#111" stroke-width="1.8"/>
<line x1="1359.4" y1="990.4" x2="1359.4" y2="998.9" stroke="#000" stroke-width="2.3"/>
<text x="1360.9" y="1018.8" font-size="20" text-anchor="middle">G1</text>
<line x1="1397" y1="879.2" x2="1397" y2="817.3" stroke="#000" stroke-width="1.5"/>
<line x1="1397" y1="799.3" x2="1397" y2="792.8" stroke="#000" stroke-width="1.5"/>
<line x1="1390.4" y1="792.8" x2="1403.6" y2="792.8" stroke="#000" stroke-width="1.5"/>
<line x1="1397" y1="945" x2="1397" y2="990.4" stroke="#000" stroke-width="1.5"/>
<rect x="1384.5" y="879.2" width="25" height="65.8" fill="#00bd00" stroke="#111" stroke-width="1.5"/>
<line x1="1384.5" y1="918.6" x2="1409.5" y2="918.6" stroke="#111" stroke-width="1.8"/>
<line x1="1397" y1="990.4" x2="1397" y2="998.9" stroke="#000" stroke-width="2.3"/>
<text x="1398.5" y="1018.8" font-size="20" text-anchor="middle">S</text>
<line x1="1434.7" y1="845.9" x2="1434.7" y2="817.3" stroke="#000" stroke-width="1.5"/>
<line x1="1434.7" y1="799.3" x2="1434.7" y2="782.4" stroke="#000" stroke-width="1.5"/>
<line x1="1428.1" y1="782.4" x2="1441.3" y2="782.4" stroke="#000" stroke-width="1.5"/>
<line x1="1434.7" y1="931.5" x2="1434.7" y2="990.4" stroke="#000" stroke-width="1.5"/>
<rect x="1422.2" y="845.9" width="25" height="85.7" fill="#0581ff" stroke="#111" stroke-width="1.5"/>
<line x1="1422.2" y1="894.3" x2="1447.2" y2="894.3" stroke="#111" stroke-width="1.8"/>
<line x1="1434.7" y1="990.4" x2="1434.7" y2="998.9" stroke="#000" stroke-width="2.3"/>
<text x="1436.2" y="1018.8" font-size="20" text-anchor="middle">G2</text>
<line x1="1472" y1="951.9" x2="1472" y2="919.4" stroke="#000" stroke-width="1.5"/>
<line x1="1466.8" y1="919.4" x2="1477.2" y2="919.4" stroke="#000" stroke-width="1.5"/>
<line x1="1472" y1="975.7" x2="1472" y2="990.4" stroke="#000" stroke-width="1.5"/>
<rect x="1459.5" y="951.9" width="25" height="23.8" fill="#f70000" stroke="#111" stroke-width="1.5"/>
<line x1="1459.5" y1="965.7" x2="1484.5" y2="965.7" stroke="#111" stroke-width="1.8"/>
<line x1="1472" y1="990.4" x2="1472" y2="998.9" stroke="#000" stroke-width="2.3"/>
<text x="1473.5" y="1018.8" font-size="20" text-anchor="middle">G1</text>
<text x="1472" y="921" font-size="18" text-anchor="middle">*</text>
<line x1="1509.7" y1="938.5" x2="1509.7" y2="885.7" stroke="#000" stroke-width="1.5"/>
<line x1="1504.5" y1="885.7" x2="1514.9" y2="885.7" stroke="#000" stroke-width="1.5"/>
<line x1="1509.7" y1="974.4" x2="1509.7" y2="990.4" stroke="#000" stroke-width="1.5"/>
<rect x="1497.2" y="938.5" width="25" height="35.9" fill="#00bd00" stroke="#111" stroke-width="1.5"/>
<line x1="1497.2" y1="960.5" x2="1522.2" y2="960.5" stroke="#111" stroke-width="1.8"/>
<line x1="1509.7" y1="990.4" x2="1509.7" y2="998.9" stroke="#000" stroke-width="2.3"/>
<text x="1511.2" y="1018.8" font-size="20" text-anchor="middle">S</text>
<text x="1509.7" y="885.4" font-size="18" text-anchor="middle">*</text>
<line x1="1547.3" y1="923.8" x2="1547.3" y2="851.1" stroke="#000" stroke-width="1.5"/>
<line x1="1542.1" y1="851.1" x2="1552.5" y2="851.1" stroke="#000" stroke-width="1.5"/>
<line x1="1547.3" y1="972.2" x2="1547.3" y2="990.4" stroke="#000" stroke-width="1.5"/>
<rect x="1534.8" y="923.8" width="25" height="48.5" fill="#0581ff" stroke="#111" stroke-width="1.5"/>
<line x1="1534.8" y1="954.9" x2="1559.8" y2="954.9" stroke="#111" stroke-width="1.8"/>
<line x1="1547.3" y1="990.4" x2="1547.3" y2="998.9" stroke="#000" stroke-width="2.3"/>
<text x="1548.8" y="1018.8" font-size="20" text-anchor="middle">G2</text>
<text x="1547.3" y="847.8" font-size="18" text-anchor="middle">*</text>
<line x1="1234" y1="1031" x2="1334" y2="1031" stroke="#555" stroke-width="1.4"/>
<text x="1281" y="1052.6" font-size="19" text-anchor="middle">Cluster I</text>
<line x1="1347" y1="1031" x2="1447" y2="1031" stroke="#555" stroke-width="1.4"/>
<text x="1394.8" y="1052.6" font-size="19" text-anchor="middle">Cluster II</text>
<line x1="1460" y1="1031" x2="1560" y2="1031" stroke="#555" stroke-width="1.4"/>
<text x="1508.6" y="1052.6" font-size="19" text-anchor="middle">Cluster III</text>
<text x="1562.6" y="785.5" font-size="19.4" text-anchor="end">H2AK119ub1</text>
<path d="M1657.9 978.8h0M1651.7 982h0M1657.3 913.7h0M1652.9 946.6h0M1661.5 854.3h0M1660.3 933.8h0M1661.4 972h0M1655.9 883.6h0M1659.9 975.2h0M1658 975.9h0M1651.4 963.1h0M1665.5 954.3h0M1655.3 922.8h0M1651.7 980.6h0M1661.9 828.4h0M1660.5 912.7h0M1655.6 861.4h0M1663.7 877.3h0M1664 959.8h0M1662.7 956.8h0M1654.1 964.8h0M1657.4 829.8h0M1655.3 966.1h0M1655 929.5h0M1656.9 981h0M1651.7 937.4h0M1656.6 829.5h0M1667.2 928.2h0M1664.4 874.5h0M1661.4 839.2h0M1660.9 921.8h0M1667.9 961.3h0M1663.3 935.7h0M1651.9 971.4h0M1667.2 921.8h0M1655.6 941.7h0M1668 944.8h0M1658.1 967.5h0M1656.5 895.1h0M1655 935.2h0M1655.2 869.3h0M1658 975.6h0M1663.4 881.4h0M1659.2 843.1h0M1660.1 977.5h0M1659.4 883.9h0M1659.4 898h0M1666.3 926.4h0M1660.2 947.6h0M1667.5 933.4h0M1658.5 846.8h0M1657.6 939.1h0M1658.3 977.5h0M1657.8 914.5h0M1654.2 928.5h0M1661.8 849.3h0M1655.9 981.8h0M1664.9 892.2h0M1653.5 915.7h0M1652.5 925.9h0M1654.9 975.1h0M1657.4 907.7h0M1659.6 976.5h0M1656.6 888.1h0M1654 874.7h0M1652 930.9h0M1656.2 891.6h0M1662.8 848.6h0M1651.4 946.8h0M1668.7 975.2h0M1665.5 933.2h0M1657.5 848.1h0M1660.3 897.7h0M1657.6 917.6h0M1667.9 942.3h0M1659.9 890.7h0M1658.3 945h0M1662.7 939.2h0M1663.5 909.2h0M1655.9 871.5h0M1660.9 883.6h0M1664.4 936.1h0M1660.5 829.9h0M1652.2 962.1h0M1655.7 914.2h0M1667.2 921.6h0M1656.2 857h0M1661.9 970.5h0M1653.1 974.2h0M1659.5 966h0M1655.7 929.4h0M1660.9 977.9h0M1655.3 972.7h0M1664.5 843.1h0M1666.6 981.8h0M1666.2 898.3h0M1657.3 895h0M1660.4 924.8h0M1659.6 891.1h0M1664.8 920.3h0M1660.9 903.8h0M1659 857.3h0M1653.1 963.2h0M1656.9 921.8h0M1659.5 873.8h0M1657.6 976.4h0M1664.3 904.3h0M1654.4 896.6h0M1661.3 884.5h0M1659.9 880.7h0M1660.3 836.5h0M1667.1 928.7h0M1663.2 918.4h0M1664.8 889.9h0M1656.8 886.4h0M1654.6 961h0M1663.6 904.9h0M1658.6 846.8h0M1661.4 866.9h0M1663.6 977.3h0M1656.1 828.1h0M1658.5 875.9h0M1653.8 907.5h0M1661.7 874.9h0M1658.8 971.8h0M1660.7 857.6h0M1654.7 951h0M1655.6 834.2h0M1661.1 831.1h0M1655.3 956.8h0M1664 932.4h0M1653.6 965.7h0M1655.6 838.8h0M1665.2 921.2h0M1661.9 954h0M1651.9 978.6h0M1661 861.9h0M1656.7 934.5h0M1659.8 869.6h0M1664.1 939.6h0M1662.2 965.1h0M1667.4 964.3h0M1656 849.1h0M1661.4 935h0M1654.1 981.5h0M1653 977.9h0M1659.7 884h0M1667.2 919.5h0M1664.9 956.5h0M1659.7 953.4h0M1658.5 797.8h0M1659.7 797.3h0M1703.4 941.3h0M1691.7 946.3h0M1697.9 969h0M1705.9 945.6h0M1690.5 960h0M1702.4 916.1h0M1700.8 891.6h0M1699.9 921.3h0M1705 983.3h0M1702.1 840.3h0M1697.2 983.8h0M1699.3 956.5h0M1699 934.2h0M1695.1 849.7h0M1692.5 957.8h0M1697.6 964.3h0M1692.4 955.9h0M1698.9 885.1h0M1695.9 832.1h0M1704.3 927.9h0M1699 908.7h0M1700 835.2h0M1699.3 849.1h0M1698.1 971.2h0M1701.4 934.1h0M1699.7 889.3h0M1691.7 961.1h0M1700.4 960.3h0M1699 936.9h0M1701.1 927.5h0M1699.1 831.1h0M1696.1 843h0M1691 968.9h0M1696.8 839.9h0M1702.7 889.5h0M1695.8 861h0M1701.3 934.3h0M1703.9 978.7h0M1693.2 882.7h0M1694.3 974.9h0M1693.9 892.5h0M1702.1 940h0M1704.6 953.8h0M1701.5 969.8h0M1695.9 964.7h0M1693.2 882.4h0M1693.7 909.9h0M1693.6 974.4h0M1697.2 862h0M1698.8 854.4h0M1703.2 885.3h0M1698.5 853.1h0M1694.2 974.7h0M1700.8 907h0M1701.5 841.5h0M1701.1 970.2h0M1703.8 968.8h0M1696.7 950.3h0M1700.9 858.7h0M1697.6 970h0M1699.9 834.3h0M1707.1 983.5h0M1691.7 955.7h0M1693.6 866.4h0M1696.7 972.2h0M1696.9 840.7h0M1695.8 843.2h0M1698.3 868.5h0M1694.3 900.1h0M1704.7 926h0M1691.6 981.1h0M1699.3 962.9h0M1694 916.1h0M1705.6 960.3h0M1701.4 971.6h0M1700.9 950.9h0M1705.3 958.4h0M1696.4 882.2h0M1699.8 848.7h0M1700.4 861.8h0M1703 866.1h0M1700.7 975.3h0M1704.7 919.3h0M1702.2 860.6h0M1697 955.9h0M1703.1 934.3h0M1697.2 907.9h0M1702.8 965.4h0M1699.3 889.7h0M1697.3 948.4h0M1694.5 974.4h0M1703.1 881.1h0M1696.1 874.8h0M1700.3 983.1h0M1703.8 908.1h0M1704.9 981.1h0M1697.7 880.5h0M1699.2 894.7h0M1694.8 888.7h0M1703.1 891.7h0M1699.1 918.7h0M1703.7 920.7h0M1697.9 886h0M1703.1 909.6h0M1700.8 866.4h0M1696.2 850.9h0M1690 982.9h0M1701.9 898h0M1694.8 838h0M1705.6 950.9h0M1702.1 894.8h0M1697 974.5h0M1697.7 870.7h0M1704.1 930.7h0M1693.9 889.3h0M1703 896.1h0M1706 962.3h0M1704 962.6h0M1706 970.4h0M1701.5 853.5h0M1694.6 888.5h0M1690.8 973.3h0M1701.5 932h0M1696.5 874.3h0M1700.5 846h0M1701.5 922.9h0M1700.1 930.3h0M1698.7 862.5h0M1700.5 853.8h0M1696.3 851.4h0M1703 977.7h0M1690.6 955.5h0M1698.6 834.6h0M1696.9 978.2h0M1696.2 927.6h0M1695.5 951.1h0M1694.9 877.9h0M1697.8 829.9h0M1691.5 976.9h0M1695.9 983.3h0M1703.9 962.6h0M1691.4 922.6h0M1692.5 982.3h0M1702.8 953.1h0M1692 968.2h0M1692.7 968.6h0M1699.9 844.6h0M1705.3 982.4h0M1704 900.5h0M1693.5 979.5h0M1702.9 965.2h0M1696.7 964h0M1701.8 956.5h0M1695 869.9h0M1699.4 854.5h0M1696.5 848.9h0M1694.4 908.7h0M1695.9 958h0M1702 836.7h0M1694 856.6h0M1739.6 818.5h0M1734.1 875.6h0M1737 819.7h0M1736.8 865.5h0M1734.3 902.8h0M1742.3 861.2h0M1738.8 831h0M1731.7 924.6h0M1742.9 951.5h0M1740.1 944.9h0M1731.2 911.2h0M1739.4 879.3h0M1740.3 832.8h0M1742.8 855.2h0M1735.3 941.1h0M1738.5 874.9h0M1732.8 902h0M1736.8 898.7h0M1736.2 881.7h0M1739.7 921.8h0M1739.6 950.2h0M1740 893h0M1736.8 890h0M1736.2 857.2h0M1746.4 941.4h0M1730.6 878.2h0M1740.8 954.5h0M1734.3 933.5h0M1729.9 962h0M1742.7 900.9h0M1743.6 941.1h0M1739.6 905.8h0M1731.9 869.4h0M1734.2 832h0M1735.7 952.2h0M1747.6 965h0M1732.8 875.8h0M1737.8 965.9h0M1741.9 856.7h0M1740.3 918.8h0M1735.5 889.9h0M1744.7 931.9h0M1733.6 938.5h0M1736.6 860.5h0M1744.3 951.1h0M1735.8 819.9h0M1730 963.1h0M1735.9 961.8h0M1744.5 944h0M1741.1 859.6h0M1732.5 891.8h0M1740.1 932.4h0M1736 874.3h0M1733.8 885.6h0M1729.3 959.2h0M1739.6 893.7h0M1739.7 954.1h0M1729.8 922.1h0M1731.8 847h0M1732.9 872.6h0M1732.2 953.3h0M1729.5 911.9h0M1739.7 837.2h0M1739.4 907.4h0M1728.6 953.1h0M1740.8 832.3h0M1735.2 879.3h0M1730.8 933.1h0M1740.9 916.3h0M1739.7 846.5h0M1746 942.9h0M1740.6 854.5h0M1732.1 937.7h0M1730.4 916.6h0M1732.7 844.3h0M1742.3 905.7h0M1731.5 963.5h0M1733.8 833h0M1745.4 958.7h0M1739.4 958.3h0M1734.7 901.8h0M1727.1 961.2h0M1733.8 921.2h0M1736.2 882.2h0M1742 966h0M1741.7 848.5h0M1739.2 927.8h0M1740.5 858.1h0M1735.4 960.3h0M1732.3 944.9h0M1738.8 962.4h0M1735.2 908.1h0M1736.9 887.7h0M1736.1 958.7h0M1741.3 960.4h0M1730.9 884.3h0M1744 963.8h0M1729.9 951.2h0M1732.8 959.9h0M1742.6 885.3h0M1745.8 962.4h0M1741.5 901.7h0M1732 912.9h0M1745.5 946.3h0M1740.6 952.1h0M1741.3 860h0M1739.7 871.8h0M1739.8 841.7h0M1741.2 947.5h0M1743.6 903.3h0M1741.9 922.6h0M1733 865.3h0M1733.5 879.7h0M1729.6 909.7h0M1736.7 828.2h0M1744.5 959h0M1728.1 921.4h0M1739.8 945.3h0M1732.2 913h0M1730.9 964.6h0M1743 859.9h0M1727.4 945.8h0M1744.8 964.7h0M1741.3 864.5h0M1740.9 915.1h0M1733.3 923.7h0M1729 895.3h0M1738.9 839.6h0M1744.1 915.4h0M1733.3 963.6h0M1735.7 926.2h0M1734.6 891.7h0M1736 961.9h0M1744.6 897.8h0M1729.7 964.6h0M1746.4 942.5h0M1732.5 895.2h0M1736 839.1h0M1738.3 892.5h0M1737.9 956.4h0M1737 876.5h0M1726.8 963.3h0M1731.9 843.3h0M1737.1 830.8h0M1745.2 916.9h0M1736 965.3h0M1729.5 898.9h0M1738.8 867.5h0M1738 918.1h0M1730.5 883.5h0M1739.5 794.1h0M1741.2 792.2h0M1734.6 777.6h0M1741.3 788.7h0M1732.8 790h0M1736.1 793.6h0M1737.9 790.5h0M1730.9 796.4h0M1731.9 797.5h0M1733.7 787.2h0M1734.3 790.6h0M1743.6 796.8h0M1734.1 781.4h0M1733.5 796.4h0M1739 780.6h0M1738.4 788.5h0M1733.7 790.9h0M1738.6 795.4h0M1742.9 792.6h0M1729.2 797.8h0M1773.5 781.8h0M1771.9 784h0M1778.4 783.9h0M1812 791.6h0M1815.7 795h0M1813.9 794.8h0M1812.5 794.6h0M1889.1 852.8h0M1884.4 914h0M1897.4 975.9h0M1894.3 894.6h0M1890.1 977.9h0M1895.2 952.1h0M1885.3 855.7h0M1884 952.2h0M1890.9 987.9h0M1890.4 866.7h0M1892.3 932.6h0M1884.4 912.5h0M1888.4 832.7h0M1889.2 927.4h0M1888.8 925.2h0M1892.6 870.2h0M1893.5 938.2h0M1893 916.7h0M1892.2 862.7h0M1891.3 893.4h0M1897.2 957.5h0M1897.5 946.1h0M1887.8 943h0M1895.3 914.1h0M1891.7 910.6h0M1888.5 854.8h0M1897.8 959.8h0M1898.3 949.9h0M1884.5 874.2h0M1894.4 907h0M1920.7 954.1h0M1926.7 944.1h0M1939.2 984.6h0M1923.6 946.2h0M1932 987.9h0M1929.3 853.9h0M1925.3 922.6h0M1921.8 966h0M1936.2 920.3h0M1925.3 972.3h0M1922.8 983.7h0M1923.8 974.5h0M1930.7 871.5h0M1933.3 983.5h0M1936 912.7h0M1932.1 892.6h0M1927.8 986.3h0M1920.9 962.3h0M1923.7 969.1h0M1931.9 869.3h0M1926.4 841.3h0M1923.7 980.7h0M1928.4 854.2h0M1925.5 937.3h0M1935.1 919.5h0M1930.1 935.4h0M1930.9 964.8h0M1927.8 885.5h0M1932.7 875.4h0M1929.2 981.9h0M1971.7 932.6h0M1965.2 861.2h0M1969.8 980.9h0M1963.7 906.9h0M1971.8 933.8h0M1971 900.8h0M1967.9 942.1h0M1972 944.6h0M1964 870.2h0M1961.5 980.9h0M1964.3 923.5h0M1971.9 884.5h0M1964.5 970.9h0M1961.2 929h0M1972.2 972.2h0M1968.6 870.4h0M1963.6 970.3h0M1963.9 930.6h0M1961.6 952.6h0M1965.1 962.3h0M1971.4 945.8h0M1960.3 929.2h0M1974.7 940.3h0M1962.9 878.6h0M1966.5 868.4h0M1968.6 876.1h0M1975.7 947.8h0M1968.9 959.7h0M1969.1 878.5h0M1966.3 933.8h0M1971.5 977.8h0M1966.5 888.3h0M1970.6 897.5h0M1974.8 922.5h0M1975.9 966.3h0M1975.6 956.1h0M1963.4 942.4h0M1961.7 907.4h0M1967.2 894.1h0M1964.2 910.9h0M1971.1 978.2h0M1961.6 955.5h0M1962.5 939.2h0M1972.4 970.4h0M1961.6 918h0M1965.8 794h0M1962.8 794.8h0M1971.4 795h0M1968.5 792.3h0" fill="none" stroke="#cbcbcb" stroke-width="3.6" stroke-linecap="round"/>
<line x1="1634.6" y1="754.4" x2="1634.6" y2="798.9" stroke="#000" stroke-width="2.3"/>
<line x1="1634.6" y1="817" x2="1634.6" y2="995.9" stroke="#000" stroke-width="2.3"/>
<line x1="1624.6" y1="754.4" x2="1995.6" y2="754.4" stroke="#000" stroke-width="2.3"/>
<line x1="1994.4" y1="754.4" x2="1994.4" y2="994.7" stroke="#000" stroke-width="2.3"/>
<line x1="1624.6" y1="994.7" x2="1995.6" y2="994.7" stroke="#000" stroke-width="2.3"/>
<line x1="1629.1" y1="798.9" x2="1640.1" y2="798.9" stroke="#000" stroke-width="2.3"/>
<line x1="1629.1" y1="817" x2="1640.1" y2="817" stroke="#000" stroke-width="2.3"/>
<text x="1622" y="760.4" font-size="22" text-anchor="end">5.0</text>
<line x1="1624.6" y1="772" x2="1634.6" y2="772" stroke="#000" stroke-width="2.3"/>
<text x="1622" y="778" font-size="22" text-anchor="end">4.0</text>
<line x1="1624.6" y1="790.1" x2="1634.6" y2="790.1" stroke="#000" stroke-width="2.3"/>
<text x="1622" y="796.1" font-size="22" text-anchor="end">3.0</text>
<line x1="1624.6" y1="852.7" x2="1634.6" y2="852.7" stroke="#000" stroke-width="2.3"/>
<text x="1622" y="858.7" font-size="22" text-anchor="end">2</text>
<line x1="1624.6" y1="923.7" x2="1634.6" y2="923.7" stroke="#000" stroke-width="2.3"/>
<text x="1622" y="929.7" font-size="22" text-anchor="end">1</text>
<text x="1622" y="1000.7" font-size="22" text-anchor="end">0</text>
<line x1="1624.6" y1="763.2" x2="1634.6" y2="763.2" stroke="#000" stroke-width="2.3"/>
<line x1="1624.6" y1="781.1" x2="1634.6" y2="781.1" stroke="#000" stroke-width="2.3"/>
<line x1="1659.8" y1="988.1" x2="1659.8" y2="979.8" stroke="#000" stroke-width="1.5"/>
<line x1="1654.6" y1="979.8" x2="1665" y2="979.8" stroke="#000" stroke-width="1.5"/>
<line x1="1659.8" y1="993.3" x2="1659.8" y2="994.7" stroke="#000" stroke-width="1.5"/>
<rect x="1647.3" y="988.1" width="25" height="5.2" fill="#f70000" stroke="#111" stroke-width="1.5"/>
<line x1="1647.3" y1="991.9" x2="1672.3" y2="991.9" stroke="#111" stroke-width="1.8"/>
<line x1="1659.8" y1="994.7" x2="1659.8" y2="1003.2" stroke="#000" stroke-width="2.3"/>
<text x="1661.3" y="1023.2" font-size="20" text-anchor="middle">G1</text>
<text x="1659.8" y="980" font-size="18" text-anchor="middle">*</text>
<line x1="1698.3" y1="988.3" x2="1698.3" y2="981.2" stroke="#000" stroke-width="1.5"/>
<line x1="1693.1" y1="981.2" x2="1703.5" y2="981.2" stroke="#000" stroke-width="1.5"/>
<line x1="1698.3" y1="993.3" x2="1698.3" y2="994.7" stroke="#000" stroke-width="1.5"/>
<rect x="1685.8" y="988.3" width="25" height="5" fill="#00bd00" stroke="#111" stroke-width="1.5"/>
<line x1="1685.8" y1="991.5" x2="1710.8" y2="991.5" stroke="#111" stroke-width="1.8"/>
<line x1="1698.3" y1="994.7" x2="1698.3" y2="1003.2" stroke="#000" stroke-width="2.3"/>
<text x="1699.8" y="1023.2" font-size="20" text-anchor="middle">S</text>
<text x="1698.3" y="982.2" font-size="18" text-anchor="middle">*</text>
<line x1="1736.8" y1="981.2" x2="1736.8" y2="963.5" stroke="#000" stroke-width="1.5"/>
<line x1="1731.6" y1="963.5" x2="1742" y2="963.5" stroke="#000" stroke-width="1.5"/>
<line x1="1736.8" y1="993.3" x2="1736.8" y2="994.7" stroke="#000" stroke-width="1.5"/>
<rect x="1724.3" y="981.2" width="25" height="12.1" fill="#0581ff" stroke="#111" stroke-width="1.5"/>
<line x1="1724.3" y1="991.3" x2="1749.3" y2="991.3" stroke="#111" stroke-width="1.8"/>
<line x1="1736.8" y1="994.7" x2="1736.8" y2="1003.2" stroke="#000" stroke-width="2.3"/>
<text x="1738.3" y="1023.2" font-size="20" text-anchor="middle">G2</text>
<text x="1736.8" y="965.1" font-size="18" text-anchor="middle">*</text>
<line x1="1775.3" y1="895.7" x2="1775.3" y2="817" stroke="#000" stroke-width="1.5"/>
<line x1="1775.3" y1="798.9" x2="1775.3" y2="786.7" stroke="#000" stroke-width="1.5"/>
<line x1="1768.7" y1="786.7" x2="1781.9" y2="786.7" stroke="#000" stroke-width="1.5"/>
<line x1="1775.3" y1="984.1" x2="1775.3" y2="994.7" stroke="#000" stroke-width="1.5"/>
<rect x="1762.8" y="895.7" width="25" height="88.3" fill="#f70000" stroke="#111" stroke-width="1.5"/>
<line x1="1762.8" y1="953.5" x2="1787.8" y2="953.5" stroke="#111" stroke-width="1.8"/>
<line x1="1775.3" y1="994.7" x2="1775.3" y2="1003.2" stroke="#000" stroke-width="2.3"/>
<text x="1776.8" y="1023.2" font-size="20" text-anchor="middle">G1</text>
<line x1="1813.7" y1="916" x2="1813.7" y2="817" stroke="#000" stroke-width="1.5"/>
<line x1="1813.7" y1="798.9" x2="1813.7" y2="798" stroke="#000" stroke-width="1.5"/>
<line x1="1807.1" y1="798" x2="1820.3" y2="798" stroke="#000" stroke-width="1.5"/>
<line x1="1813.7" y1="984.4" x2="1813.7" y2="994.7" stroke="#000" stroke-width="1.5"/>
<rect x="1801.2" y="916" width="25" height="68.4" fill="#00bd00" stroke="#111" stroke-width="1.5"/>
<line x1="1801.2" y1="961.3" x2="1826.2" y2="961.3" stroke="#111" stroke-width="1.8"/>
<line x1="1813.7" y1="994.7" x2="1813.7" y2="1003.2" stroke="#000" stroke-width="2.3"/>
<text x="1815.2" y="1023.2" font-size="20" text-anchor="middle">S</text>
<line x1="1852.2" y1="837.3" x2="1852.2" y2="817" stroke="#000" stroke-width="1.5"/>
<line x1="1852.2" y1="798.9" x2="1852.2" y2="766.3" stroke="#000" stroke-width="1.5"/>
<line x1="1845.6" y1="766.3" x2="1858.8" y2="766.3" stroke="#000" stroke-width="1.5"/>
<line x1="1852.2" y1="971.3" x2="1852.2" y2="994.7" stroke="#000" stroke-width="1.5"/>
<rect x="1839.7" y="837.3" width="25" height="134" fill="#0581ff" stroke="#111" stroke-width="1.5"/>
<line x1="1839.7" y1="915.2" x2="1864.7" y2="915.2" stroke="#111" stroke-width="1.8"/>
<line x1="1852.2" y1="994.7" x2="1852.2" y2="1003.2" stroke="#000" stroke-width="2.3"/>
<text x="1853.7" y="1023.2" font-size="20" text-anchor="middle">G2</text>
<line x1="1890.3" y1="989.7" x2="1890.3" y2="984.1" stroke="#000" stroke-width="1.5"/>
<line x1="1885.1" y1="984.1" x2="1895.5" y2="984.1" stroke="#000" stroke-width="1.5"/>
<line x1="1890.3" y1="993.3" x2="1890.3" y2="994.7" stroke="#000" stroke-width="1.5"/>
<rect x="1877.8" y="989.7" width="25" height="3.6" fill="#f70000" stroke="#111" stroke-width="1.5"/>
<line x1="1877.8" y1="991.9" x2="1902.8" y2="991.9" stroke="#111" stroke-width="1.8"/>
<line x1="1890.3" y1="994.7" x2="1890.3" y2="1003.2" stroke="#000" stroke-width="2.3"/>
<text x="1891.8" y="1023.2" font-size="20" text-anchor="middle">G1</text>
<text x="1890.3" y="985.4" font-size="18" text-anchor="middle">*</text>
<line x1="1928.8" y1="989.7" x2="1928.8" y2="984.8" stroke="#000" stroke-width="1.5"/>
<line x1="1923.6" y1="984.8" x2="1934" y2="984.8" stroke="#000" stroke-width="1.5"/>
<line x1="1928.8" y1="993.3" x2="1928.8" y2="994.7" stroke="#000" stroke-width="1.5"/>
<rect x="1916.3" y="989.7" width="25" height="3.6" fill="#00bd00" stroke="#111" stroke-width="1.5"/>
<line x1="1916.3" y1="991.9" x2="1941.3" y2="991.9" stroke="#111" stroke-width="1.8"/>
<line x1="1928.8" y1="994.7" x2="1928.8" y2="1003.2" stroke="#000" stroke-width="2.3"/>
<text x="1930.3" y="1023.2" font-size="20" text-anchor="middle">S</text>
<text x="1928.8" y="985.4" font-size="18" text-anchor="middle">*</text>
<line x1="1967.3" y1="987.2" x2="1967.3" y2="977.7" stroke="#000" stroke-width="1.5"/>
<line x1="1962.1" y1="977.7" x2="1972.5" y2="977.7" stroke="#000" stroke-width="1.5"/>
<line x1="1967.3" y1="993.3" x2="1967.3" y2="994.7" stroke="#000" stroke-width="1.5"/>
<rect x="1954.8" y="987.2" width="25" height="6" fill="#0581ff" stroke="#111" stroke-width="1.5"/>
<line x1="1954.8" y1="991.5" x2="1979.8" y2="991.5" stroke="#111" stroke-width="1.8"/>
<line x1="1967.3" y1="994.7" x2="1967.3" y2="1003.2" stroke="#000" stroke-width="2.3"/>
<text x="1968.8" y="1023.2" font-size="20" text-anchor="middle">G2</text>
<text x="1967.3" y="977.9" font-size="18" text-anchor="middle">*</text>
<line x1="1647" y1="1035.8" x2="1749.5" y2="1035.8" stroke="#555" stroke-width="1.4"/>
<text x="1696" y="1058.4" font-size="19" text-anchor="middle">Cluster I</text>
<line x1="1763" y1="1035.8" x2="1865.5" y2="1035.8" stroke="#555" stroke-width="1.4"/>
<text x="1811.6" y="1058.4" font-size="19" text-anchor="middle">Cluster II</text>
<line x1="1878" y1="1035.8" x2="1981" y2="1035.8" stroke="#555" stroke-width="1.4"/>
<text x="1928.1" y="1058.4" font-size="19" text-anchor="middle">Cluster III</text>
<text x="1983.7" y="784.5" font-size="23" text-anchor="end">CBX7</text>
<text transform="translate(1160.5 534.7) rotate(-90)" text-anchor="middle" font-size="23">Normalized reads (log<tspan font-size="15" dy="5">2</tspan><tspan dy="-5">+1)</tspan></text>
<text transform="translate(1161 861) rotate(-90)" text-anchor="middle" font-size="23">Normalized reads (log<tspan font-size="15" dy="5">2</tspan><tspan dy="-5">+1)</tspan></text>
<text x="12.5" y="1125" font-size="33" font-weight="bold">e</text>
<text x="547" y="1125.3" font-size="33" font-weight="bold">f</text>
<text x="318.5" y="1132.5" text-anchor="middle">6h G1 UNT / G2 UNT</text>
<text x="788.9" y="1132.8" text-anchor="middle">6h G1 IAA / G1 UNT</text>
<text x="1194.7" y="1132.8" text-anchor="middle">6h G2 IAA / G2 UNT</text>
<text x="0" y="0" text-anchor="middle" transform="translate(19.9 1293) rotate(-90)">Cluster II-A</text>
<text x="0" y="0" text-anchor="middle" transform="translate(19.9 1556.6) rotate(-90)">Cluster III</text>
<text x="0" y="0" text-anchor="middle" transform="translate(52.8 1420) rotate(-90)">Enrichment score</text>
<text x="307.9" y="1742.5" text-anchor="middle">Rank</text>
<text x="790" y="1742.5" text-anchor="middle">Rank</text>
<text x="1201.2" y="1742.5" text-anchor="middle">Rank</text>
<rect x="111.5" y="1148.9" width="396.2" height="262.2" fill="none" stroke="#111" stroke-width="1.6"/>
<line x1="106" y1="1209.4" x2="111.5" y2="1209.4" stroke="#111" stroke-width="1.6"/>
<text x="101" y="1217" text-anchor="end">0.5</text>
<line x1="106" y1="1279.8" x2="111.5" y2="1279.8" stroke="#111" stroke-width="1.6"/>
<text x="101" y="1287.4" text-anchor="end">0.0</text>
<line x1="106" y1="1350.2" x2="111.5" y2="1350.2" stroke="#111" stroke-width="1.6"/>
<text x="101" y="1357.8" text-anchor="end">-0.5</text>
<line x1="126.9" y1="1411.1" x2="126.9" y2="1416.6" stroke="#111" stroke-width="1.6"/>
<line x1="259.2" y1="1411.1" x2="259.2" y2="1416.6" stroke="#111" stroke-width="1.6"/>
<line x1="391.5" y1="1411.1" x2="391.5" y2="1416.6" stroke="#111" stroke-width="1.6"/>
<line x1="112.5" y1="1196.2" x2="506.7" y2="1196.2" stroke="#f01010" stroke-width="1.5" stroke-dasharray="3.8 3.8"/>
<line x1="112.5" y1="1283.7" x2="506.7" y2="1283.7" stroke="#f01010" stroke-width="1.5" stroke-dasharray="3.8 3.8"/>
<line x1="111.5" y1="1279.8" x2="507.7" y2="1279.8" stroke="#444" stroke-width="1.1"/>
<path d="M138.5 1274.8v11M141.4 1274.8v11M247 1274.8v11M276.7 1274.8v11M289.2 1274.8v11M271.7 1274.8v11M262.7 1274.8v11M252.7 1274.8v11M267.6 1274.8v11M289.2 1274.8v11M279.7 1274.8v11M269.3 1274.8v11M283.7 1274.8v11M255.4 1274.8v11M268.1 1274.8v11M287.9 1274.8v11M271 1274.8v11M265.7 1274.8v11M257.1 1274.8v11M269.7 1274.8v11M288.1 1274.8v11M245.3 1274.8v11M280.3 1274.8v11M281.9 1274.8v11M284.9 1274.8v11M278.3 1274.8v11M281.4 1274.8v11M335.9 1274.8v11M336.7 1274.8v11M334.1 1274.8v11M327.1 1274.8v11M342.5 1274.8v11M336.8 1274.8v11M329.8 1274.8v11M335.6 1274.8v11M335.2 1274.8v11M332.8 1274.8v11M363.4 1274.8v11M369.8 1274.8v11M372.6 1274.8v11M372.2 1274.8v11M367.1 1274.8v11M352.9 1274.8v11M359.6 1274.8v11M357.8 1274.8v11M371.3 1274.8v11M380.4 1274.8v11M378.3 1274.8v11M378.3 1274.8v11M406.9 1274.8v11M397.3 1274.8v11M407.3 1274.8v11M404.4 1274.8v11M394.4 1274.8v11M393.3 1274.8v11M424.5 1274.8v11M451.2 1274.8v11M433 1274.8v11M427.9 1274.8v11M446.5 1274.8v11M436.4 1274.8v11M426.5 1274.8v11M429.7 1274.8v11M443 1274.8v11M430.1 1274.8v11M433.8 1274.8v11M449.6 1274.8v11" fill="none" stroke="#999" stroke-width="1"/>
<path d="M224.2 1274.8v11M179.4 1274.8v11M200.6 1274.8v11M196.6 1274.8v11M214.3 1274.8v11M226.4 1274.8v11M165.3 1274.8v11M159.5 1274.8v11M230.5 1274.8v11M195.1 1274.8v11M224.1 1274.8v11M157.2 1274.8v11M196.2 1274.8v11M220.5 1274.8v11M177.1 1274.8v11M240.2 1274.8v11M236.3 1274.8v11M159.7 1274.8v11M159.2 1274.8v11M204.6 1274.8v11M239.6 1274.8v11M190.5 1274.8v11M176.1 1274.8v11M194.1 1274.8v11M159.6 1274.8v11M176.5 1274.8v11M195.5 1274.8v11M200.6 1274.8v11M177.5 1274.8v11M177.3 1274.8v11M176.3 1274.8v11M197.4 1274.8v11M182.5 1274.8v11M158.9 1274.8v11M230.7 1274.8v11M206 1274.8v11M213.5 1274.8v11M173.4 1274.8v11M244.3 1274.8v11M232.7 1274.8v11M167.6 1274.8v11M186.3 1274.8v11M220.5 1274.8v11M219.6 1274.8v11M239.4 1274.8v11M194.1 1274.8v11M230 1274.8v11M216 1274.8v11M183.7 1274.8v11M208.7 1274.8v11M234.7 1274.8v11M231.5 1274.8v11M201.5 1274.8v11M208.8 1274.8v11M160 1274.8v11M178.4 1274.8v11M227.2 1274.8v11M193.5 1274.8v11M172.2 1274.8v11M205.3 1274.8v11M218.9 1274.8v11M216.4 1274.8v11M190 1274.8v11M195.6 1274.8v11M201.7 1274.8v11M225.5 1274.8v11M202.8 1274.8v11M191.6 1274.8v11M200.1 1274.8v11M159.6 1274.8v11" fill="none" stroke="#2a2a2a" stroke-width="1"/>
<path d="M129.5 1279.8 132.3 1281.2 135.2 1282.6 138 1284 140.7 1280.4 143.3 1276.3 146 1277 148.6 1277.7 151.3 1278.4 153.9 1279.1 156.6 1279.8 158.7 1265.7 162.3 1265 165.9 1261.5 169.9 1244.6 172.6 1236.7 175.2 1226.3 177.8 1223.4 180.5 1220.6 183.1 1216.4 185.8 1213.9 188.4 1211 191.1 1206.6 194.2 1205.6 197.3 1204.7 200.4 1203.8 203.5 1203.2 206.6 1200.2 209.7 1198.1 212.6 1197.9 215.5 1197.6 218.5 1197.3 221.4 1197 224.3 1196.7 227.2 1197.2 230.1 1197.6 233.1 1198 236 1198.4 238.9 1198.8 241.6 1199.6 244.2 1200.4 246.8 1201.2 249.5 1201.9 252.1 1202.7 254.8 1203.5 257.4 1204.3 260.1 1205 262.8 1205.8 265.4 1206.6 268 1207.6 270.5 1208.6 273.1 1209.6 275.7 1210.6 278.2 1211.6 280.8 1212.6 283.4 1213.6 285.9 1214.6 288.5 1215.6 291.1 1216.6 293.6 1217.6 296.2 1218.6 298.8 1219.6 301.3 1220.6 303.9 1221.6 306.5 1222.6 309.1 1223.6 311.6 1224.6 314.2 1225.6 316.8 1226.6 319.3 1227.6 321.9 1228.6 324.5 1229.6 327 1230.6 329.6 1231.6 332.2 1232.6 334.7 1233.6 337.3 1234.6 339.9 1235.6 342.4 1236.6 345 1237.6 347.6 1238.5 350.1 1239.4 352.7 1240.3 355.3 1241.2 357.8 1242.1 360.4 1243 363 1243.9 365.5 1244.8 368.1 1245.7 370.7 1246.6 373.2 1247.6 375.8 1248.5 378.4 1249.4 380.9 1250.3 383.5 1251.2 386.1 1252.1 388.7 1253 391.2 1253.9 393.8 1254.8 396.4 1255.7 398.9 1256.6 401.5 1257.5 404.1 1258.5 406.6 1259.4 409.2 1260.3 411.8 1261.2 414.3 1262.1 416.9 1263 419.5 1263.9 422 1264.8 424.6 1265.7 427.2 1265.5 429.9 1265.4 432.6 1265.2 435.2 1265 437.9 1265.5 440.5 1266 443.2 1266.4 445.9 1266.9 448.5 1267.4 451.2 1267.8 453.7 1268.6 456.3 1269.4 458.8 1270.2 461.3 1271 463.8 1271.8 466.4 1272.6 468.9 1273.4 471.4 1274.2 473.9 1275 476.5 1275.8 479 1276.6 481.5 1277.4 484 1278.2 486.6 1279 489.1 1279.8" fill="none" stroke="#000" stroke-width="2.8" stroke-linejoin="round"/>
<text x="134" y="1372.6">NES: 2.00</text>
<text x="134" y="1404.5">FDR: 4.79x10<tspan font-size="16" dy="-11">-16</tspan></text>
<rect x="112" y="1422.6" width="396.2" height="262.2" fill="none" stroke="#111" stroke-width="1.6"/>
<line x1="106.5" y1="1484.4" x2="112" y2="1484.4" stroke="#111" stroke-width="1.6"/>
<text x="101.5" y="1492" text-anchor="end">0.5</text>
<line x1="106.5" y1="1553.4" x2="112" y2="1553.4" stroke="#111" stroke-width="1.6"/>
<text x="101.5" y="1561" text-anchor="end">0.0</text>
<line x1="106.5" y1="1622.4" x2="112" y2="1622.4" stroke="#111" stroke-width="1.6"/>
<text x="101.5" y="1630" text-anchor="end">-0.5</text>
<line x1="126.9" y1="1684.8" x2="126.9" y2="1690.3" stroke="#111" stroke-width="1.6"/>
<text x="126.9" y="1710.3" text-anchor="middle">0</text>
<line x1="259.2" y1="1684.8" x2="259.2" y2="1690.3" stroke="#111" stroke-width="1.6"/>
<text x="259.2" y="1710.3" text-anchor="middle">10000</text>
<line x1="391.5" y1="1684.8" x2="391.5" y2="1690.3" stroke="#111" stroke-width="1.6"/>
<text x="391.5" y="1710.3" text-anchor="middle">20000</text>
<line x1="113" y1="1541.2" x2="507.2" y2="1541.2" stroke="#f01010" stroke-width="1.5" stroke-dasharray="3.8 3.8"/>
<line x1="113" y1="1604.4" x2="507.2" y2="1604.4" stroke="#f01010" stroke-width="1.5" stroke-dasharray="3.8 3.8"/>
<line x1="112" y1="1553.4" x2="508.2" y2="1553.4" stroke="#444" stroke-width="1.1"/>
<path d="M149.6 1549.9v7.5M149.5 1549.9v7.5M140.6 1549.9v7.5M169.2 1549.9v7.5M268.3 1549.9v7.5M255.1 1549.9v7.5M246.4 1549.9v7.5M198.7 1549.9v7.5M238 1549.9v7.5M238.1 1549.9v7.5M234.7 1549.9v7.5M178.9 1549.9v7.5M214.8 1549.9v7.5M209.9 1549.9v7.5M253.4 1549.9v7.5M289.3 1549.9v7.5M283.3 1549.9v7.5M229.8 1549.9v7.5M216.7 1549.9v7.5M193.4 1549.9v7.5M162.7 1549.9v7.5M161.6 1549.9v7.5M219.4 1549.9v7.5M200 1549.9v7.5M208.2 1549.9v7.5M275.7 1549.9v7.5M227.4 1549.9v7.5M232 1549.9v7.5M189.2 1549.9v7.5M161.1 1549.9v7.5M200.9 1549.9v7.5M176 1549.9v7.5M225.3 1549.9v7.5M289.8 1549.9v7.5M247 1549.9v7.5M182 1549.9v7.5M276 1549.9v7.5M263.2 1549.9v7.5M254.9 1549.9v7.5M277.7 1549.9v7.5M258.7 1549.9v7.5M262.2 1549.9v7.5M204.7 1549.9v7.5M287.5 1549.9v7.5M285 1549.9v7.5M179.3 1549.9v7.5M257.5 1549.9v7.5M252.4 1549.9v7.5M218.9 1549.9v7.5M228 1549.9v7.5M222.7 1549.9v7.5M280.1 1549.9v7.5M224.1 1549.9v7.5M267.8 1549.9v7.5M204.7 1549.9v7.5M274.5 1549.9v7.5M276.8 1549.9v7.5M218.9 1549.9v7.5M232.9 1549.9v7.5M279.5 1549.9v7.5M253.5 1549.9v7.5M222.2 1549.9v7.5M187.3 1549.9v7.5M200.9 1549.9v7.5M250.3 1549.9v7.5M179.9 1549.9v7.5M277.8 1549.9v7.5M193.4 1549.9v7.5M278.3 1549.9v7.5M198.9 1549.9v7.5M284.4 1549.9v7.5M251.2 1549.9v7.5M224.6 1549.9v7.5M226.3 1549.9v7.5M244 1549.9v7.5M235.6 1549.9v7.5M199.2 1549.9v7.5M185.4 1549.9v7.5M225.6 1549.9v7.5M281.3 1549.9v7.5M240.3 1549.9v7.5M167.9 1549.9v7.5M266.3 1549.9v7.5M253.8 1549.9v7.5M277.8 1549.9v7.5M183.3 1549.9v7.5M256.3 1549.9v7.5M165.8 1549.9v7.5M244.2 1549.9v7.5M194 1549.9v7.5M187.9 1549.9v7.5M273.6 1549.9v7.5M172 1549.9v7.5M371.2 1549.9v7.5M330.1 1549.9v7.5M386.1 1549.9v7.5M428.6 1549.9v7.5M425.2 1549.9v7.5M446.9 1549.9v7.5M427.3 1549.9v7.5M441.6 1549.9v7.5M420.5 1549.9v7.5M389.4 1549.9v7.5M356.2 1549.9v7.5M414.6 1549.9v7.5M368.4 1549.9v7.5M339.7 1549.9v7.5M386 1549.9v7.5M443.2 1549.9v7.5M343.1 1549.9v7.5M404.4 1549.9v7.5M378.7 1549.9v7.5M395 1549.9v7.5M345.3 1549.9v7.5M454.6 1549.9v7.5M360.7 1549.9v7.5M407.2 1549.9v7.5M382.2 1549.9v7.5M328.4 1549.9v7.5M400.8 1549.9v7.5M344.8 1549.9v7.5M333.6 1549.9v7.5M330.5 1549.9v7.5M347.6 1549.9v7.5M338.8 1549.9v7.5M411.1 1549.9v7.5M394.1 1549.9v7.5M457.8 1549.9v7.5M451.2 1549.9v7.5M459.3 1549.9v7.5M357.2 1549.9v7.5M385.6 1549.9v7.5M359.6 1549.9v7.5M405.2 1549.9v7.5M409.6 1549.9v7.5M433.2 1549.9v7.5M421.1 1549.9v7.5M360.4 1549.9v7.5M382.7 1549.9v7.5M396.5 1549.9v7.5M326.6 1549.9v7.5M330.8 1549.9v7.5M380.8 1549.9v7.5M340.9 1549.9v7.5M423 1549.9v7.5M358.3 1549.9v7.5M339.4 1549.9v7.5M350.4 1549.9v7.5M357 1549.9v7.5M355.1 1549.9v7.5M395.8 1549.9v7.5M388.2 1549.9v7.5M367.5 1549.9v7.5M412 1549.9v7.5M354.5 1549.9v7.5M447.5 1549.9v7.5M455.1 1549.9v7.5M423.7 1549.9v7.5M384.1 1549.9v7.5M394.5 1549.9v7.5M403.9 1549.9v7.5M332.9 1549.9v7.5M382 1549.9v7.5M396.4 1549.9v7.5M350.3 1549.9v7.5M338.6 1549.9v7.5M433.6 1549.9v7.5M375.1 1549.9v7.5M395.6 1549.9v7.5M449.5 1549.9v7.5M407.8 1549.9v7.5M364.8 1549.9v7.5M457.8 1549.9v7.5M375.9 1549.9v7.5M328.6 1549.9v7.5M417.8 1549.9v7.5M339.6 1549.9v7.5M367 1549.9v7.5M438.6 1549.9v7.5M416.1 1549.9v7.5M328.1 1549.9v7.5M386.5 1549.9v7.5M381 1549.9v7.5M391.1 1549.9v7.5M353.9 1549.9v7.5M404.9 1549.9v7.5M335.9 1549.9v7.5M364.1 1549.9v7.5M376 1549.9v7.5M451.3 1549.9v7.5M336.3 1549.9v7.5M427.2 1549.9v7.5M351.8 1549.9v7.5M402.6 1549.9v7.5M378.5 1549.9v7.5M388.1 1549.9v7.5M427 1549.9v7.5M378.9 1549.9v7.5M342.3 1549.9v7.5M342.3 1549.9v7.5M336.8 1549.9v7.5M439.9 1549.9v7.5M411.9 1549.9v7.5" fill="none" stroke="#999" stroke-width="0.9"/>
<path d="M206.6 1549.9v7.5M229.8 1549.9v7.5M187.1 1549.9v7.5M184.7 1549.9v7.5M231.6 1549.9v7.5M199.6 1549.9v7.5M220.2 1549.9v7.5M172.2 1549.9v7.5M195.4 1549.9v7.5M182 1549.9v7.5M217.1 1549.9v7.5M175.8 1549.9v7.5M236.8 1549.9v7.5M171.8 1549.9v7.5M221.1 1549.9v7.5M171.5 1549.9v7.5M187.9 1549.9v7.5M226.9 1549.9v7.5M181 1549.9v7.5M182.9 1549.9v7.5M218.4 1549.9v7.5M197 1549.9v7.5M173 1549.9v7.5M239.3 1549.9v7.5M180.6 1549.9v7.5M172.5 1549.9v7.5M194.1 1549.9v7.5M213.1 1549.9v7.5M222 1549.9v7.5M177.9 1549.9v7.5M457.6 1549.9v7.5M441.6 1549.9v7.5M401.5 1549.9v7.5M439.5 1549.9v7.5M446.6 1549.9v7.5M443.4 1549.9v7.5M429.9 1549.9v7.5M421.5 1549.9v7.5M427.4 1549.9v7.5M447.9 1549.9v7.5M416.1 1549.9v7.5M431.6 1549.9v7.5M428.7 1549.9v7.5M457.3 1549.9v7.5M448.3 1549.9v7.5M455.9 1549.9v7.5M450.2 1549.9v7.5M417.8 1549.9v7.5M413.9 1549.9v7.5M429.3 1549.9v7.5M415.6 1549.9v7.5M425.7 1549.9v7.5M440.7 1549.9v7.5M455.1 1549.9v7.5M435.2 1549.9v7.5M449.1 1549.9v7.5M405.8 1549.9v7.5M421.4 1549.9v7.5M459.9 1549.9v7.5M408.8 1549.9v7.5M425 1549.9v7.5M404 1549.9v7.5M405.2 1549.9v7.5M453.7 1549.9v7.5M459.3 1549.9v7.5M438.9 1549.9v7.5M407.7 1549.9v7.5M417.8 1549.9v7.5M413.9 1549.9v7.5M440.2 1549.9v7.5" fill="none" stroke="#2a2a2a" stroke-width="0.9"/>
<path d="M130.6 1553.4 133.1 1554.4 135.6 1555.5 138.2 1556.5 140.7 1557.5 144.6 1556.9 147.3 1558 149.9 1559.1 152.6 1560.2 155.2 1561.3 157.9 1562.4 161.9 1558.9 164.6 1558 167.2 1557.1 169.9 1556.2 172.6 1554 175.2 1550.6 177.8 1545.9 180.5 1542.4 183.2 1542 185.8 1541.7 188.5 1541.7 191.1 1541.8 193.8 1541.9 196.4 1541.9 199.1 1542 201.7 1542.1 204.4 1542.2 207 1542.2 209.7 1542.3 212.3 1542.4 215 1542.8 217.6 1543.2 220.3 1543.6 222.9 1544 225.6 1544.4 228.3 1544.8 230.9 1545.3 233.6 1545.7 236.2 1546.1 238.9 1546.5 241.6 1547.4 244.2 1548.2 246.9 1549.1 249.5 1550 252.2 1550.8 254.8 1551.7 257.5 1552.5 260.1 1553.4 262.6 1554.3 265.2 1555.2 267.7 1556.1 270.3 1557 272.8 1557.9 275.3 1558.8 277.9 1559.7 280.4 1560.6 283 1561.5 285.5 1562.4 288 1563.3 290.6 1564.2 293.1 1565.1 295.6 1566 298.2 1566.9 300.7 1567.8 303.3 1568.7 305.8 1569.6 308.3 1570.5 310.9 1571.4 313.4 1572.3 316 1573.2 318.5 1574.1 321.1 1575.1 323.6 1576 326.2 1577 328.7 1577.9 331.3 1578.9 333.9 1579.8 336.4 1580.8 339 1581.7 341.6 1582.7 344.1 1583.6 346.7 1584.6 349.2 1585.5 351.8 1586.5 354.4 1587.4 356.9 1588.4 359.5 1589.3 362.1 1590.3 364.6 1591.2 367.2 1592.2 369.7 1593.1 372.3 1594.1 374.9 1595 377.4 1596 380 1596.9 382.6 1597.9 385.1 1598.8 387.7 1599.8 390.2 1600.7 392.8 1601.7 395.5 1602.1 398.1 1602.5 400.8 1602.9 403.4 1603.3 406.1 1603.7 408.7 1604.1 411.4 1604.5 414 1604 416.7 1603.5 419.3 1603.1 421.9 1601.1 424.6 1600.1 427.2 1597.9 429.9 1594.8 432.8 1593 435.7 1589.7 438.7 1587.4 441.6 1584.6 444.5 1581 447.9 1571.5 451.2 1560.3 454.4 1554.8 457.3 1553.9 460.2 1552.9 463.1 1552 465.8 1552.7 468.4 1553.4 471.1 1554.1 473.7 1554.8 476.4 1555.5 479 1556.2 481.7 1550.6 484.3 1551.6 487 1552.5 489.6 1553.4" fill="none" stroke="#000" stroke-width="2.8" stroke-linejoin="round"/>
<text x="131.9" y="1646.3">NES: -1.25</text>
<text x="131.9" y="1678.1">FDR: 0.01</text>
<rect x="587.7" y="1148.8" width="396.5" height="262.5" fill="none" stroke="#111" stroke-width="1.6"/>
<line x1="582.2" y1="1209.3" x2="587.7" y2="1209.3" stroke="#111" stroke-width="1.6"/>
<text x="577.2" y="1216.9" text-anchor="end">0.5</text>
<line x1="582.2" y1="1279.5" x2="587.7" y2="1279.5" stroke="#111" stroke-width="1.6"/>
<text x="577.2" y="1287.1" text-anchor="end">0.0</text>
<line x1="582.2" y1="1349.7" x2="587.7" y2="1349.7" stroke="#111" stroke-width="1.6"/>
<text x="577.2" y="1357.3" text-anchor="end">-0.5</text>
<line x1="607" y1="1411.3" x2="607" y2="1416.8" stroke="#111" stroke-width="1.6"/>
<line x1="737.6" y1="1411.3" x2="737.6" y2="1416.8" stroke="#111" stroke-width="1.6"/>
<line x1="868.2" y1="1411.3" x2="868.2" y2="1416.8" stroke="#111" stroke-width="1.6"/>
<line x1="588.7" y1="1174.7" x2="983.2" y2="1174.7" stroke="#f01010" stroke-width="1.5" stroke-dasharray="3.8 3.8"/>
<line x1="588.7" y1="1280.6" x2="983.2" y2="1280.6" stroke="#f01010" stroke-width="1.5" stroke-dasharray="3.8 3.8"/>
<line x1="587.7" y1="1279.5" x2="984.2" y2="1279.5" stroke="#444" stroke-width="1.1"/>
<path d="M610.4 1274.5v11M612.3 1274.5v11M611.2 1274.5v11M612.6 1274.5v11M716.2 1274.5v11M691.3 1274.5v11M708.4 1274.5v11M691.3 1274.5v11M711.6 1274.5v11M699.9 1274.5v11M716.4 1274.5v11M719.4 1274.5v11M705.2 1274.5v11M720 1274.5v11M699.3 1274.5v11M692.3 1274.5v11M708 1274.5v11M690.9 1274.5v11M726.3 1274.5v11M733.1 1274.5v11M739.5 1274.5v11M725 1274.5v11M721.4 1274.5v11M747.8 1274.5v11M730 1274.5v11M750.7 1274.5v11M791.5 1274.5v11M788.9 1274.5v11M836.5 1274.5v11M838 1274.5v11M841.1 1274.5v11M839.9 1274.5v11M856.7 1274.5v11M888.5 1274.5v11M889.8 1274.5v11M910.6 1274.5v11M909.9 1274.5v11M912.5 1274.5v11" fill="none" stroke="#999" stroke-width="1"/>
<path d="M623.9 1274.5v11M617.7 1274.5v11M617.1 1274.5v11M626.2 1274.5v11M619.9 1274.5v11M619.6 1274.5v11M628 1274.5v11M622.2 1274.5v11M626.2 1274.5v11M622.2 1274.5v11M672 1274.5v11M647.5 1274.5v11M671.7 1274.5v11M683.4 1274.5v11M666.2 1274.5v11M677.1 1274.5v11M673.6 1274.5v11M643.2 1274.5v11M677.9 1274.5v11M669.6 1274.5v11M655.1 1274.5v11M641.6 1274.5v11M683.3 1274.5v11M663.6 1274.5v11M675.9 1274.5v11M683.9 1274.5v11M675.7 1274.5v11M686.1 1274.5v11M659.7 1274.5v11M680 1274.5v11M662.2 1274.5v11M686.8 1274.5v11M683.9 1274.5v11M644.9 1274.5v11M646.8 1274.5v11M650.8 1274.5v11M688.3 1274.5v11M661.8 1274.5v11M671.3 1274.5v11M655.1 1274.5v11M665.4 1274.5v11M659.3 1274.5v11M657.5 1274.5v11M669.3 1274.5v11M669.2 1274.5v11M685.2 1274.5v11M674.1 1274.5v11M686.4 1274.5v11M682.8 1274.5v11M689.5 1274.5v11M673.6 1274.5v11M648.2 1274.5v11M683 1274.5v11M688.2 1274.5v11M685.2 1274.5v11M668.5 1274.5v11M675.7 1274.5v11M650.6 1274.5v11M681.6 1274.5v11M668.7 1274.5v11M654.2 1274.5v11M643.2 1274.5v11M682.7 1274.5v11M689.5 1274.5v11M644.4 1274.5v11M680 1274.5v11M660.5 1274.5v11M647.5 1274.5v11M654.7 1274.5v11M678.4 1274.5v11" fill="none" stroke="#2a2a2a" stroke-width="1"/>
<path d="M608.8 1279.5 611.2 1276.7 614.7 1265.5 618.3 1265.5 621.8 1251.4 625.3 1241.6 627.7 1231.8 630.6 1232.5 633.5 1233.2 636.5 1233.9 639.4 1234.6 643 1223.3 647.7 1209.3 652.4 1202.3 657.1 1192.5 660.7 1188.7 664.2 1184 667.3 1182.8 670.5 1180.1 673.6 1177 676.2 1176.4 678.8 1175.9 681.3 1175.3 683.9 1174.8 686.5 1174.2 689 1174.7 691.5 1175.3 694 1175.8 696.5 1176.3 699 1176.8 701.5 1177.4 704 1177.9 706.5 1178.4 709 1179.4 711.5 1180.4 714 1181.4 716.6 1182.3 719.1 1183.3 721.6 1184.3 724.1 1185.3 726.6 1186.3 729.1 1187.2 731.6 1188.2 734.1 1189.2 736.7 1190.2 739.2 1191.2 741.7 1192.2 744.2 1193.1 746.7 1194.1 749.2 1195.1 751.7 1196.1 754.3 1197.1 756.8 1198 759.3 1199 761.8 1200 764.3 1201 766.8 1202 769.3 1202.9 771.9 1203.9 774.4 1204.9 776.9 1205.9 779.4 1206.9 781.9 1207.9 784.4 1208.8 786.9 1209.8 789.4 1210.8 792 1211.8 794.5 1212.8 797 1213.7 799.5 1214.7 802 1215.7 804.5 1216.7 807 1217.7 809.6 1218.7 812.1 1219.6 814.6 1220.6 817.1 1221.6 819.6 1222.6 822.1 1223.6 824.6 1224.5 827.2 1225.5 829.7 1226.5 832.2 1227.5 834.7 1228.5 837.2 1229.4 839.7 1230.4 842.2 1231.4 844.7 1232.4 847.3 1233.4 849.8 1234.4 852.3 1235.3 854.8 1236.3 857.3 1237.3 859.8 1238.3 862.3 1239.3 864.9 1240.2 867.4 1241.2 869.9 1242.2 872.4 1243.2 874.9 1244.2 877.4 1245.1 879.9 1246.1 882.5 1247.1 885 1248.1 887.5 1249.1 890 1250.1 892.5 1251 895 1252 897.5 1253 900 1254 902.6 1255 905.1 1255.9 907.6 1256.9 910.1 1257.9 912.6 1258.9 915.1 1259.9 917.6 1260.9 920.2 1261.8 922.7 1262.8 925.2 1263.8 927.7 1264.8 930.2 1265.8 932.7 1266.7 935.2 1267.7 937.8 1268.7 940.3 1269.7 942.8 1270.7 945.3 1271.6 947.8 1272.6 950.3 1273.6 952.8 1274.6 955.3 1275.6 957.9 1276.6 960.4 1277.5 962.9 1278.5 965.4 1279.5" fill="none" stroke="#000" stroke-width="2.8" stroke-linejoin="round"/>
<text x="613.5" y="1373.6">NES: 2.30</text>
<text x="613.5" y="1404.2">FDR: 1.80x10<tspan font-size="16" dy="-11">-38</tspan></text>
<rect x="1001.2" y="1148.8" width="396.6" height="262.5" fill="none" stroke="#111" stroke-width="1.6"/>
<line x1="995.7" y1="1209.1" x2="1001.2" y2="1209.1" stroke="#111" stroke-width="1.6"/>
<line x1="995.7" y1="1279.3" x2="1001.2" y2="1279.3" stroke="#111" stroke-width="1.6"/>
<line x1="995.7" y1="1349.5" x2="1001.2" y2="1349.5" stroke="#111" stroke-width="1.6"/>
<line x1="1019.3" y1="1411.3" x2="1019.3" y2="1416.8" stroke="#111" stroke-width="1.6"/>
<line x1="1150.6" y1="1411.3" x2="1150.6" y2="1416.8" stroke="#111" stroke-width="1.6"/>
<line x1="1281.9" y1="1411.3" x2="1281.9" y2="1416.8" stroke="#111" stroke-width="1.6"/>
<line x1="1002.2" y1="1172.8" x2="1396.8" y2="1172.8" stroke="#f01010" stroke-width="1.5" stroke-dasharray="3.8 3.8"/>
<line x1="1002.2" y1="1279" x2="1396.8" y2="1279" stroke="#f01010" stroke-width="1.5" stroke-dasharray="3.8 3.8"/>
<line x1="1001.2" y1="1279.3" x2="1397.8" y2="1279.3" stroke="#444" stroke-width="1.1"/>
<path d="M1120.5 1274.3v11M1114.5 1274.3v11M1117.8 1274.3v11M1122.7 1274.3v11M1111.4 1274.3v11M1110.9 1274.3v11M1136.1 1274.3v11M1145.8 1274.3v11M1143.1 1274.3v11M1136.3 1274.3v11M1138 1274.3v11M1214.6 1274.3v11M1217.1 1274.3v11M1213.4 1274.3v11M1259.4 1274.3v11M1314.5 1274.3v11M1315.4 1274.3v11M1312.3 1274.3v11" fill="none" stroke="#999" stroke-width="1"/>
<path d="M1020.4 1274.3v11M1019.6 1274.3v11M1021.4 1274.3v11M1031.7 1274.3v11M1030.7 1274.3v11M1034.4 1274.3v11M1040.1 1274.3v11M1038.8 1274.3v11M1038.4 1274.3v11M1032.4 1274.3v11M1035.9 1274.3v11M1033 1274.3v11M1031.9 1274.3v11M1057.1 1274.3v11M1059.3 1274.3v11M1073.5 1274.3v11M1071.6 1274.3v11M1071.1 1274.3v11M1071 1274.3v11M1058.9 1274.3v11M1061.2 1274.3v11M1067.5 1274.3v11M1069.6 1274.3v11M1072.1 1274.3v11M1072.6 1274.3v11M1056.7 1274.3v11M1067.1 1274.3v11M1068.4 1274.3v11M1065.1 1274.3v11M1058.6 1274.3v11M1064.5 1274.3v11M1071.8 1274.3v11M1107.3 1274.3v11M1104.4 1274.3v11M1091 1274.3v11M1080.6 1274.3v11M1106.2 1274.3v11M1092 1274.3v11M1105.1 1274.3v11M1103.6 1274.3v11M1089.4 1274.3v11M1085.4 1274.3v11M1093.2 1274.3v11M1086.1 1274.3v11M1074.8 1274.3v11M1080.8 1274.3v11M1102.1 1274.3v11M1069.8 1274.3v11M1069.9 1274.3v11M1094.3 1274.3v11M1079.8 1274.3v11M1090.5 1274.3v11M1087.8 1274.3v11M1082.4 1274.3v11M1109.9 1274.3v11M1076.2 1274.3v11M1085.3 1274.3v11M1076.5 1274.3v11M1094.6 1274.3v11M1079.6 1274.3v11M1082.9 1274.3v11" fill="none" stroke="#2a2a2a" stroke-width="1"/>
<path d="M1018.8 1279.3 1020 1272.3 1023.1 1270.9 1025.9 1258.2 1030.1 1259.6 1034.1 1251.2 1037.7 1237.2 1041.2 1225.9 1043.8 1227.4 1046.4 1228.8 1048.9 1230.2 1051.5 1231.6 1054.1 1233 1056.5 1223.1 1059.5 1213.1 1062.4 1202.1 1065.3 1202.1 1068.3 1202.1 1071.8 1195.3 1075.3 1188 1078.4 1185.6 1081.6 1181.8 1084.7 1178.2 1088.3 1179.6 1091.8 1176.2 1095.3 1172.6 1097.8 1172.8 1100.4 1173.1 1102.9 1173.3 1105.5 1173.5 1108 1173.8 1110.6 1174 1113.4 1174.8 1116.2 1175.7 1119.1 1176.5 1121.9 1177.4 1124.7 1178.2 1127.2 1179.2 1129.7 1180.2 1132.3 1181.2 1134.8 1182.2 1137.3 1183.2 1139.8 1184.2 1142.3 1185.2 1144.8 1186.2 1147.4 1187.2 1149.9 1188.2 1152.4 1189.2 1154.9 1190.2 1157.4 1191.2 1159.9 1192.2 1162.5 1193.2 1165 1194.2 1167.5 1195.2 1170 1196.2 1172.5 1197.2 1175 1198.2 1177.6 1199.2 1180.1 1200.2 1182.6 1201.2 1185.1 1202.2 1187.6 1203.2 1190.1 1204.2 1192.7 1205.2 1195.2 1206.2 1197.7 1207.2 1200.2 1208.2 1202.7 1209.2 1205.2 1210.2 1207.8 1211.2 1210.3 1212.2 1212.8 1213.2 1215.3 1214.2 1217.8 1215.2 1220.3 1216.2 1222.9 1217.2 1225.4 1218.2 1227.9 1219.2 1230.4 1220.2 1232.9 1221.2 1235.4 1222.3 1238 1223.3 1240.5 1224.3 1243 1225.3 1245.5 1226.3 1248 1227.3 1250.5 1228.3 1253.1 1229.3 1255.6 1230.3 1258.1 1231.3 1260.6 1232.3 1263.1 1233.3 1265.6 1234.3 1268.2 1235.3 1270.7 1236.3 1273.2 1237.3 1275.7 1238.3 1278.2 1239.3 1280.7 1240.3 1283.3 1241.3 1285.8 1242.3 1288.3 1243.3 1290.8 1244.3 1293.3 1245.3 1295.8 1246.3 1298.4 1247.3 1300.9 1248.3 1303.4 1249.3 1305.9 1250.3 1308.4 1251.3 1310.9 1252.3 1313.5 1253.3 1316 1254.3 1318.5 1255.3 1321 1256.3 1323.5 1257.3 1326 1258.3 1328.6 1259.3 1331.1 1260.3 1333.6 1261.3 1336.1 1262.3 1338.6 1263.3 1341.1 1264.3 1343.7 1265.3 1346.2 1266.3 1348.7 1267.3 1351.2 1268.3 1353.7 1269.3 1356.2 1270.3 1358.8 1271.3 1361.3 1272.3 1363.8 1273.3 1366.3 1274.3 1368.8 1275.3 1371.3 1276.3 1373.9 1277.3 1376.4 1278.3 1378.9 1279.3" fill="none" stroke="#000" stroke-width="2.8" stroke-linejoin="round"/>
<text x="1023.5" y="1372">NES: 2.26</text>
<text x="1023.5" y="1403">FDR: 6.93x10<tspan font-size="16" dy="-11">-39</tspan></text>
<rect x="587.7" y="1422.8" width="396.5" height="262.4" fill="none" stroke="#111" stroke-width="1.6"/>
<line x1="582.2" y1="1484.3" x2="587.7" y2="1484.3" stroke="#111" stroke-width="1.6"/>
<text x="577.2" y="1491.9" text-anchor="end">0.5</text>
<line x1="582.2" y1="1554.2" x2="587.7" y2="1554.2" stroke="#111" stroke-width="1.6"/>
<text x="577.2" y="1561.8" text-anchor="end">0.0</text>
<line x1="582.2" y1="1624.1" x2="587.7" y2="1624.1" stroke="#111" stroke-width="1.6"/>
<text x="577.2" y="1631.7" text-anchor="end">-0.5</text>
<line x1="607.5" y1="1685.2" x2="607.5" y2="1690.7" stroke="#111" stroke-width="1.6"/>
<text x="607.5" y="1710.3" text-anchor="middle">0</text>
<line x1="739" y1="1685.2" x2="739" y2="1690.7" stroke="#111" stroke-width="1.6"/>
<text x="739" y="1710.3" text-anchor="middle">10000</text>
<line x1="870.5" y1="1685.2" x2="870.5" y2="1690.7" stroke="#111" stroke-width="1.6"/>
<text x="870.5" y="1710.3" text-anchor="middle">20000</text>
<line x1="588.7" y1="1521.7" x2="983.2" y2="1521.7" stroke="#f01010" stroke-width="1.5" stroke-dasharray="3.8 3.8"/>
<line x1="588.7" y1="1581.7" x2="983.2" y2="1581.7" stroke="#f01010" stroke-width="1.5" stroke-dasharray="3.8 3.8"/>
<line x1="587.7" y1="1554.2" x2="984.2" y2="1554.2" stroke="#444" stroke-width="1.1"/>
<path d="M624.7 1550.7v7.5M626.4 1550.7v7.5M627.1 1550.7v7.5M629.2 1550.7v7.5M719.9 1550.7v7.5M739.6 1550.7v7.5M643.1 1550.7v7.5M690.3 1550.7v7.5M741.9 1550.7v7.5M710.1 1550.7v7.5M737.3 1550.7v7.5M652.2 1550.7v7.5M690.7 1550.7v7.5M666.6 1550.7v7.5M698.7 1550.7v7.5M702 1550.7v7.5M641.4 1550.7v7.5M663.4 1550.7v7.5M670.2 1550.7v7.5M739 1550.7v7.5M722.7 1550.7v7.5M657.2 1550.7v7.5M726.1 1550.7v7.5M655 1550.7v7.5M706.7 1550.7v7.5M653.7 1550.7v7.5M640.2 1550.7v7.5M734.1 1550.7v7.5M662.6 1550.7v7.5M663.3 1550.7v7.5M746.1 1550.7v7.5M734.2 1550.7v7.5M671.2 1550.7v7.5M743.8 1550.7v7.5M698.2 1550.7v7.5M713.2 1550.7v7.5M662.1 1550.7v7.5M741.6 1550.7v7.5M714.6 1550.7v7.5M744.4 1550.7v7.5M736.5 1550.7v7.5M672.3 1550.7v7.5M679 1550.7v7.5M657.9 1550.7v7.5M655.7 1550.7v7.5M647 1550.7v7.5M672.5 1550.7v7.5M705.1 1550.7v7.5M640.4 1550.7v7.5M713.2 1550.7v7.5M676.5 1550.7v7.5M673.5 1550.7v7.5M728.4 1550.7v7.5M691.9 1550.7v7.5M674.1 1550.7v7.5M692 1550.7v7.5M716.1 1550.7v7.5M646.2 1550.7v7.5M745.3 1550.7v7.5M642.5 1550.7v7.5M721 1550.7v7.5M731.2 1550.7v7.5M642 1550.7v7.5M725.1 1550.7v7.5M679.5 1550.7v7.5M702.5 1550.7v7.5M641 1550.7v7.5M645 1550.7v7.5M659.5 1550.7v7.5M743.2 1550.7v7.5M661.2 1550.7v7.5M721.6 1550.7v7.5M740.4 1550.7v7.5M741.7 1550.7v7.5M677.2 1550.7v7.5M678.3 1550.7v7.5M696.7 1550.7v7.5M723.8 1550.7v7.5M651.7 1550.7v7.5M720.8 1550.7v7.5M726.1 1550.7v7.5M732.8 1550.7v7.5M644 1550.7v7.5M742.1 1550.7v7.5M649.8 1550.7v7.5M676.8 1550.7v7.5M706 1550.7v7.5M739.2 1550.7v7.5M676.7 1550.7v7.5M739.8 1550.7v7.5M698.9 1550.7v7.5M673.7 1550.7v7.5M674.2 1550.7v7.5M659.2 1550.7v7.5M861 1550.7v7.5M811.1 1550.7v7.5M932.8 1550.7v7.5M836.6 1550.7v7.5M864.3 1550.7v7.5M959.9 1550.7v7.5M934.1 1550.7v7.5M955.8 1550.7v7.5M864.4 1550.7v7.5M870.4 1550.7v7.5M912.7 1550.7v7.5M868.8 1550.7v7.5M835.9 1550.7v7.5M855.7 1550.7v7.5M810.6 1550.7v7.5M851 1550.7v7.5M958 1550.7v7.5M953 1550.7v7.5M894.7 1550.7v7.5M872.4 1550.7v7.5M844.2 1550.7v7.5M800.6 1550.7v7.5M832.7 1550.7v7.5M921.9 1550.7v7.5M936.8 1550.7v7.5M848.2 1550.7v7.5M922.6 1550.7v7.5M920.6 1550.7v7.5M906.6 1550.7v7.5M901.2 1550.7v7.5M917.9 1550.7v7.5M848.6 1550.7v7.5M908.3 1550.7v7.5M834.1 1550.7v7.5M870 1550.7v7.5M919.7 1550.7v7.5M905.9 1550.7v7.5M836.4 1550.7v7.5M950.5 1550.7v7.5M898.7 1550.7v7.5M886.6 1550.7v7.5M787 1550.7v7.5M880.7 1550.7v7.5M828.9 1550.7v7.5M902.5 1550.7v7.5M866 1550.7v7.5M927.9 1550.7v7.5M898.3 1550.7v7.5M924.6 1550.7v7.5M845.9 1550.7v7.5M897.7 1550.7v7.5M914.1 1550.7v7.5M929.9 1550.7v7.5M846.3 1550.7v7.5M932.5 1550.7v7.5M937.2 1550.7v7.5M905.5 1550.7v7.5M955.8 1550.7v7.5M952.4 1550.7v7.5M875.7 1550.7v7.5M877.6 1550.7v7.5M814.1 1550.7v7.5M931.4 1550.7v7.5M949 1550.7v7.5M868.5 1550.7v7.5M906 1550.7v7.5M910.9 1550.7v7.5M912.8 1550.7v7.5M815.1 1550.7v7.5M921.6 1550.7v7.5M886.6 1550.7v7.5M901.5 1550.7v7.5M858.6 1550.7v7.5M894.2 1550.7v7.5M920.6 1550.7v7.5M896.5 1550.7v7.5M911.1 1550.7v7.5M789.8 1550.7v7.5M813 1550.7v7.5M862.2 1550.7v7.5M898.8 1550.7v7.5M823.3 1550.7v7.5M905 1550.7v7.5M895.4 1550.7v7.5M792.3 1550.7v7.5M867.5 1550.7v7.5M824.6 1550.7v7.5M794.5 1550.7v7.5M808.4 1550.7v7.5M840.5 1550.7v7.5M816.8 1550.7v7.5M818.8 1550.7v7.5M791.2 1550.7v7.5M866.4 1550.7v7.5M851.6 1550.7v7.5M892.1 1550.7v7.5M888.3 1550.7v7.5M826.6 1550.7v7.5M943.1 1550.7v7.5M785.1 1550.7v7.5M855.9 1550.7v7.5M833.7 1550.7v7.5M856.8 1550.7v7.5M805.1 1550.7v7.5M930.5 1550.7v7.5M850.4 1550.7v7.5M791.3 1550.7v7.5M892.4 1550.7v7.5M801.6 1550.7v7.5M880.4 1550.7v7.5M844.4 1550.7v7.5M886.7 1550.7v7.5M952.7 1550.7v7.5M928.2 1550.7v7.5M858.3 1550.7v7.5M927.3 1550.7v7.5M897.4 1550.7v7.5M849.7 1550.7v7.5M809.9 1550.7v7.5M889.3 1550.7v7.5" fill="none" stroke="#999" stroke-width="0.9"/>
<path d="M653.9 1550.7v7.5M657.4 1550.7v7.5M684.5 1550.7v7.5M699.8 1550.7v7.5M658.1 1550.7v7.5M652.4 1550.7v7.5M699.3 1550.7v7.5M676.7 1550.7v7.5M670.3 1550.7v7.5M661.9 1550.7v7.5M679.7 1550.7v7.5M691.3 1550.7v7.5M672.8 1550.7v7.5M671.1 1550.7v7.5M652.8 1550.7v7.5M695.8 1550.7v7.5M651.6 1550.7v7.5M674.7 1550.7v7.5M691.9 1550.7v7.5M656.5 1550.7v7.5M686.6 1550.7v7.5M697.5 1550.7v7.5M681.5 1550.7v7.5M689.4 1550.7v7.5M655.3 1550.7v7.5M913.8 1550.7v7.5M937.4 1550.7v7.5M938.1 1550.7v7.5M916.5 1550.7v7.5M901.1 1550.7v7.5M933.6 1550.7v7.5M880.1 1550.7v7.5M886.5 1550.7v7.5M913.9 1550.7v7.5M916.9 1550.7v7.5M888.4 1550.7v7.5M917.8 1550.7v7.5M933.5 1550.7v7.5M902.6 1550.7v7.5M905.9 1550.7v7.5M893.6 1550.7v7.5M897.5 1550.7v7.5M938.3 1550.7v7.5M902.8 1550.7v7.5M937.7 1550.7v7.5M934.8 1550.7v7.5M915.7 1550.7v7.5M895.6 1550.7v7.5M938.9 1550.7v7.5M909.8 1550.7v7.5M904.9 1550.7v7.5M899.1 1550.7v7.5M939.1 1550.7v7.5M909.5 1550.7v7.5M897.2 1550.7v7.5M908.6 1550.7v7.5M887.3 1550.7v7.5M917.3 1550.7v7.5M906.6 1550.7v7.5M897.6 1550.7v7.5M926.9 1550.7v7.5M929.6 1550.7v7.5M880.8 1550.7v7.5M912 1550.7v7.5M896.4 1550.7v7.5" fill="none" stroke="#2a2a2a" stroke-width="0.9"/>
<path d="M607.7 1554.2 610.8 1555.6 614 1557 617.1 1558.4 620.6 1557.3 624.1 1556.3 628.8 1557 631.8 1558.4 634.7 1559.8 637.6 1561.2 640.6 1562.6 643 1554.2 646.5 1552.8 650 1551.4 652.8 1548.5 655.5 1545 658.3 1540.2 660.9 1539.7 663.5 1538.2 666 1536.2 668.6 1534.8 671.2 1531.8 674.2 1530.4 677.1 1529 680 1527.6 683 1526.2 685.8 1525.5 688.5 1524.8 691.2 1524.1 694 1523.4 696.8 1522.7 699.5 1522 702.2 1522.3 705 1522.5 707.7 1522.7 710.4 1523 713.2 1523.2 715.9 1523.4 718.5 1524.3 721.1 1525.1 723.7 1526 726.3 1526.8 728.8 1527.6 731.4 1528.5 734 1529.3 736.6 1530.2 739.2 1531 741.8 1531.8 744.4 1532.8 746.9 1533.9 749.5 1534.9 752.1 1535.9 754.6 1536.9 757.2 1537.9 759.8 1538.9 762.3 1540 764.9 1541 767.5 1542 770 1543 772.6 1544 775.2 1545 777.8 1546.1 780.3 1547.1 782.9 1548.1 785.5 1549.1 788 1550.1 790.6 1551.1 793.2 1552.2 795.7 1553.2 798.3 1554.2 800.8 1555.1 803.3 1555.9 805.8 1556.8 808.3 1557.7 810.8 1558.6 813.3 1559.4 815.8 1560.3 818.3 1561.2 820.8 1562.1 823.3 1562.9 825.8 1563.8 828.3 1564.7 830.8 1565.6 833.3 1566.4 835.8 1567.3 838.3 1568.2 840.8 1569.1 843.3 1569.9 845.8 1570.8 848.3 1571.7 850.8 1572.5 853.3 1573.4 855.8 1574.3 858.3 1575.2 860.8 1576 863.3 1576.9 865.8 1577.8 868.3 1578.7 870.8 1579.5 873.3 1580.4 875.8 1581.3 878.3 1582.2 880.8 1582.4 883.4 1582.6 886 1582.9 888.5 1583.1 891 1583.3 893.6 1583.6 896.2 1583 898.8 1582.4 901.4 1581.9 904 1581.3 906.6 1580.8 909.5 1578.4 912.5 1576.5 915.4 1574.7 918.3 1571 921.1 1568.5 924 1565.5 926.8 1561.1 929.7 1558.2 932.5 1554.2 935.2 1551.3 938 1548.4 940.7 1544.4 943.4 1545.5 946.2 1546.6 948.9 1547.7 951.7 1548.8 954.4 1549.9 957.2 1550.9 959.9 1552 962.7 1553.1 965.4 1554.2" fill="none" stroke="#000" stroke-width="2.8" stroke-linejoin="round"/>
<text x="613.5" y="1645.5">NES: 0.73</text>
<text x="613.5" y="1676.5">FDR: 1</text>
<rect x="1001.2" y="1422.8" width="396.6" height="262.7" fill="none" stroke="#111" stroke-width="1.6"/>
<line x1="995.7" y1="1483" x2="1001.2" y2="1483" stroke="#111" stroke-width="1.6"/>
<line x1="995.7" y1="1553.4" x2="1001.2" y2="1553.4" stroke="#111" stroke-width="1.6"/>
<line x1="995.7" y1="1623.8" x2="1001.2" y2="1623.8" stroke="#111" stroke-width="1.6"/>
<line x1="1019.3" y1="1685.5" x2="1019.3" y2="1691" stroke="#111" stroke-width="1.6"/>
<text x="1019.3" y="1710.3" text-anchor="middle">0</text>
<line x1="1152.6" y1="1685.5" x2="1152.6" y2="1691" stroke="#111" stroke-width="1.6"/>
<text x="1152.6" y="1710.3" text-anchor="middle">10000</text>
<line x1="1285.9" y1="1685.5" x2="1285.9" y2="1691" stroke="#111" stroke-width="1.6"/>
<text x="1285.9" y="1710.3" text-anchor="middle">20000</text>
<line x1="1002.2" y1="1521.7" x2="1396.8" y2="1521.7" stroke="#f01010" stroke-width="1.5" stroke-dasharray="3.8 3.8"/>
<line x1="1002.2" y1="1582" x2="1396.8" y2="1582" stroke="#f01010" stroke-width="1.5" stroke-dasharray="3.8 3.8"/>
<line x1="1001.2" y1="1553.4" x2="1397.8" y2="1553.4" stroke="#444" stroke-width="1.1"/>
<path d="M1035.4 1549.9v7.5M1145.4 1549.9v7.5M1108.4 1549.9v7.5M1083.8 1549.9v7.5M1055 1549.9v7.5M1127.9 1549.9v7.5M1106.7 1549.9v7.5M1138.6 1549.9v7.5M1096 1549.9v7.5M1139.7 1549.9v7.5M1085 1549.9v7.5M1143.2 1549.9v7.5M1135.3 1549.9v7.5M1100.5 1549.9v7.5M1114.2 1549.9v7.5M1130 1549.9v7.5M1076.2 1549.9v7.5M1115.9 1549.9v7.5M1143.6 1549.9v7.5M1084.2 1549.9v7.5M1143.4 1549.9v7.5M1130.4 1549.9v7.5M1147.9 1549.9v7.5M1091.9 1549.9v7.5M1065.2 1549.9v7.5M1143 1549.9v7.5M1143.5 1549.9v7.5M1104 1549.9v7.5M1065.3 1549.9v7.5M1076.7 1549.9v7.5M1124.8 1549.9v7.5M1087 1549.9v7.5M1159.7 1549.9v7.5M1119.7 1549.9v7.5M1077.1 1549.9v7.5M1127.1 1549.9v7.5M1094.6 1549.9v7.5M1157.6 1549.9v7.5M1155 1549.9v7.5M1111.6 1549.9v7.5M1125.9 1549.9v7.5M1131.8 1549.9v7.5M1143.6 1549.9v7.5M1162.4 1549.9v7.5M1058.1 1549.9v7.5M1094.8 1549.9v7.5M1121.2 1549.9v7.5M1088.5 1549.9v7.5M1119.8 1549.9v7.5M1064.9 1549.9v7.5M1151.8 1549.9v7.5M1112.8 1549.9v7.5M1067.9 1549.9v7.5M1127.9 1549.9v7.5M1089.4 1549.9v7.5M1076.6 1549.9v7.5M1108.2 1549.9v7.5M1070.2 1549.9v7.5M1078.1 1549.9v7.5M1150.2 1549.9v7.5M1131.8 1549.9v7.5M1056.4 1549.9v7.5M1140.6 1549.9v7.5M1056.9 1549.9v7.5M1091.6 1549.9v7.5M1154.5 1549.9v7.5M1123.2 1549.9v7.5M1088.7 1549.9v7.5M1096.5 1549.9v7.5M1097.8 1549.9v7.5M1069 1549.9v7.5M1165 1549.9v7.5M1060.9 1549.9v7.5M1101.5 1549.9v7.5M1137.1 1549.9v7.5M1098.8 1549.9v7.5M1162.9 1549.9v7.5M1082 1549.9v7.5M1162.7 1549.9v7.5M1153.1 1549.9v7.5M1128.7 1549.9v7.5M1152.8 1549.9v7.5M1104.2 1549.9v7.5M1146.4 1549.9v7.5M1142.6 1549.9v7.5M1111.8 1549.9v7.5M1106.8 1549.9v7.5M1132.6 1549.9v7.5M1100 1549.9v7.5M1064.5 1549.9v7.5M1137.1 1549.9v7.5M1213.1 1549.9v7.5M1223.2 1549.9v7.5M1227.9 1549.9v7.5M1206.6 1549.9v7.5M1197.2 1549.9v7.5M1211.8 1549.9v7.5M1198.9 1549.9v7.5M1198 1549.9v7.5M1222.5 1549.9v7.5M1200.7 1549.9v7.5M1220.7 1549.9v7.5M1208.9 1549.9v7.5M1228 1549.9v7.5M1225.2 1549.9v7.5M1199.1 1549.9v7.5M1266.7 1549.9v7.5M1379.2 1549.9v7.5M1329.4 1549.9v7.5M1300.9 1549.9v7.5M1354.6 1549.9v7.5M1359.2 1549.9v7.5M1311.3 1549.9v7.5M1307.9 1549.9v7.5M1252.9 1549.9v7.5M1291.9 1549.9v7.5M1259.6 1549.9v7.5M1331.2 1549.9v7.5M1328.4 1549.9v7.5M1259.5 1549.9v7.5M1331.6 1549.9v7.5M1252.5 1549.9v7.5M1253.7 1549.9v7.5M1334.2 1549.9v7.5M1306.9 1549.9v7.5M1372 1549.9v7.5M1331.8 1549.9v7.5M1342.5 1549.9v7.5M1256.9 1549.9v7.5M1362.1 1549.9v7.5M1250.4 1549.9v7.5M1330.1 1549.9v7.5M1373.8 1549.9v7.5M1373.3 1549.9v7.5M1371.1 1549.9v7.5M1305.3 1549.9v7.5M1341.4 1549.9v7.5M1355.9 1549.9v7.5M1258.4 1549.9v7.5M1378.6 1549.9v7.5M1373.4 1549.9v7.5M1303.7 1549.9v7.5M1354 1549.9v7.5M1304.6 1549.9v7.5M1279.2 1549.9v7.5M1344.2 1549.9v7.5M1247.5 1549.9v7.5M1357.2 1549.9v7.5M1383.7 1549.9v7.5M1280.6 1549.9v7.5M1378 1549.9v7.5M1250.5 1549.9v7.5M1365.9 1549.9v7.5M1279.7 1549.9v7.5M1382 1549.9v7.5M1302.2 1549.9v7.5M1375.4 1549.9v7.5M1242.8 1549.9v7.5M1250.8 1549.9v7.5M1359.6 1549.9v7.5M1333.1 1549.9v7.5M1317.8 1549.9v7.5M1242.9 1549.9v7.5M1263.8 1549.9v7.5M1293.2 1549.9v7.5M1245.8 1549.9v7.5M1386 1549.9v7.5M1352 1549.9v7.5M1379.5 1549.9v7.5M1342.4 1549.9v7.5M1289.2 1549.9v7.5M1249.6 1549.9v7.5M1347 1549.9v7.5M1255 1549.9v7.5M1319.5 1549.9v7.5M1307.1 1549.9v7.5M1311.7 1549.9v7.5M1249.2 1549.9v7.5M1249 1549.9v7.5M1315.5 1549.9v7.5M1242.5 1549.9v7.5M1316.3 1549.9v7.5M1260.4 1549.9v7.5M1280 1549.9v7.5M1260.5 1549.9v7.5M1322.7 1549.9v7.5M1295.9 1549.9v7.5M1271.2 1549.9v7.5M1271 1549.9v7.5M1322 1549.9v7.5M1373.7 1549.9v7.5M1300.5 1549.9v7.5M1262.3 1549.9v7.5M1285.2 1549.9v7.5M1273.8 1549.9v7.5M1323.3 1549.9v7.5M1355.2 1549.9v7.5M1322.8 1549.9v7.5M1266 1549.9v7.5M1286.5 1549.9v7.5M1294.8 1549.9v7.5M1303.7 1549.9v7.5M1297.2 1549.9v7.5M1386.6 1549.9v7.5M1320.1 1549.9v7.5M1336.6 1549.9v7.5M1344.7 1549.9v7.5M1334.1 1549.9v7.5M1358 1549.9v7.5M1293.5 1549.9v7.5M1337.3 1549.9v7.5M1382.9 1549.9v7.5M1262.5 1549.9v7.5M1331.2 1549.9v7.5M1295.3 1549.9v7.5M1247.1 1549.9v7.5" fill="none" stroke="#999" stroke-width="0.9"/>
<path d="M1081.8 1549.9v7.5M1093.4 1549.9v7.5M1108.8 1549.9v7.5M1077 1549.9v7.5M1069.1 1549.9v7.5M1074.4 1549.9v7.5M1098.6 1549.9v7.5M1086.8 1549.9v7.5M1081.3 1549.9v7.5M1091.5 1549.9v7.5M1116.2 1549.9v7.5M1081.2 1549.9v7.5M1089.3 1549.9v7.5M1113.7 1549.9v7.5M1099.8 1549.9v7.5M1081.9 1549.9v7.5M1092.7 1549.9v7.5M1092.9 1549.9v7.5M1075.4 1549.9v7.5M1087.6 1549.9v7.5M1083.9 1549.9v7.5M1109.8 1549.9v7.5M1084.8 1549.9v7.5M1102.3 1549.9v7.5M1118.5 1549.9v7.5M1116 1549.9v7.5M1087.6 1549.9v7.5M1099.4 1549.9v7.5M1084.6 1549.9v7.5M1088.7 1549.9v7.5M1321.2 1549.9v7.5M1342.8 1549.9v7.5M1323.4 1549.9v7.5M1341.3 1549.9v7.5M1323 1549.9v7.5M1331 1549.9v7.5M1321 1549.9v7.5M1336.3 1549.9v7.5M1343.6 1549.9v7.5M1326.8 1549.9v7.5M1337 1549.9v7.5M1347.7 1549.9v7.5M1328.8 1549.9v7.5M1334.1 1549.9v7.5M1341.7 1549.9v7.5M1345.9 1549.9v7.5M1325.1 1549.9v7.5M1339.8 1549.9v7.5M1323.6 1549.9v7.5M1323.4 1549.9v7.5M1349.5 1549.9v7.5M1321.5 1549.9v7.5M1347.6 1549.9v7.5M1342.5 1549.9v7.5M1340.3 1549.9v7.5M1341.9 1549.9v7.5M1339.5 1549.9v7.5M1328.6 1549.9v7.5M1333.3 1549.9v7.5M1326.1 1549.9v7.5M1345.8 1549.9v7.5M1343.4 1549.9v7.5M1343.6 1549.9v7.5M1326.4 1549.9v7.5M1337.8 1549.9v7.5" fill="none" stroke="#2a2a2a" stroke-width="0.9"/>
<path d="M1018.4 1553.4 1021.1 1555.4 1023.8 1557.3 1026.4 1559.3 1029.1 1561.3 1031.8 1563.3 1036.5 1549.2 1039 1551.2 1041.5 1553.2 1044 1555.2 1046.6 1557.2 1049.1 1559.2 1051.6 1561.2 1054.1 1563.3 1057 1561.8 1060 1560.4 1061.7 1553.4 1064.4 1553.8 1067.1 1554.1 1070.6 1545 1075.3 1539.3 1078.8 1535.5 1082.4 1529.5 1085.3 1528.4 1088.2 1527.4 1091.2 1526.3 1094.1 1525.2 1096.9 1524.4 1099.8 1523.6 1102.6 1522.7 1105.5 1521.9 1108.3 1521 1111 1521.2 1113.6 1521.4 1116.2 1521.5 1118.9 1521.7 1121.5 1521.9 1124.2 1522.1 1126.8 1522.2 1129.5 1522.4 1132.2 1523.2 1134.9 1524 1137.6 1524.8 1140.2 1525.6 1142.9 1526.4 1145.6 1527.3 1148.3 1528.1 1150.8 1529.1 1153.4 1530.2 1156 1531.2 1158.5 1532.3 1161 1533.3 1163.6 1534.4 1166.1 1535.4 1168.7 1536.5 1171.2 1537.6 1173.8 1538.6 1176.3 1539.7 1178.9 1540.7 1181.5 1541.8 1184 1542.8 1186.5 1543.9 1189.1 1545 1191.7 1546 1194.2 1547.1 1196.8 1548.1 1199.3 1549.2 1201.8 1550.2 1204.4 1551.3 1207 1552.3 1209.5 1553.4 1212 1554.2 1214.5 1555.1 1217 1555.9 1219.5 1556.8 1222 1557.6 1224.6 1558.5 1227.1 1559.3 1229.6 1560.2 1232.1 1561 1234.6 1561.8 1237.1 1562.7 1239.6 1563.5 1242.1 1564.4 1244.6 1565.2 1247.2 1566.1 1249.7 1566.9 1252.2 1567.8 1254.7 1568.6 1257.2 1569.5 1259.7 1570.3 1262.2 1571.1 1264.7 1572 1267.2 1572.8 1269.7 1573.7 1272.2 1574.5 1274.8 1575.4 1277.3 1576.2 1279.8 1577.1 1282.3 1577.9 1284.8 1578.7 1287.4 1579.1 1290 1579.5 1292.6 1579.9 1295.2 1580.3 1297.9 1580.7 1300.5 1581.1 1303.1 1581.5 1305.7 1581.9 1308.3 1582.3 1311.2 1582.3 1314.2 1582.3 1317.1 1582.3 1320.1 1582.3 1322.9 1581 1325.7 1578.2 1328.6 1575.5 1331.4 1572.7 1334.2 1570.3 1337.2 1567.4 1340.1 1563.2 1343 1559.7 1346 1554.8 1349.1 1553.9 1352.3 1552.9 1355.4 1552 1358.2 1553.7 1361 1555.4 1363.9 1557.1 1366.7 1558.8 1369.5 1560.4 1372.6 1561.8 1375.8 1563.3 1378.9 1564.7 1379.6 1553.4" fill="none" stroke="#000" stroke-width="2.8" stroke-linejoin="round"/>
<text x="1028.3" y="1648.3">NES: 0.69</text>
<text x="1028.3" y="1680">FDR: 1</text>
<text x="1463" y="1131" font-size="33" font-weight="bold">g</text>
<text x="1837.5" y="1165.3" text-anchor="middle">4 kb</text>
<line x1="1751.6" y1="1173.1" x2="1917" y2="1173.1" stroke="#000" stroke-width="2.6"/>
<line x1="1751.6" y1="1163.8" x2="1751.6" y2="1183.5" stroke="#000" stroke-width="2.6"/>
<line x1="1917" y1="1163.8" x2="1917" y2="1183.5" stroke="#000" stroke-width="2.6"/>
<text x="1832" y="1215.5" font-size="18" text-anchor="middle">chr5:148,112,401-148,119,019</text>
<text x="1664.5" y="1240.6" font-size="15.6" fill="#777">[0-0.65]</text>
<text x="1655" y="1259.3" text-anchor="end">G1</text>
<text x="1664.5" y="1284.4" font-size="15.6" fill="#777">[0-0.65]</text>
<text x="1655" y="1301.2" text-anchor="end">S</text>
<text x="1664.5" y="1327.7" font-size="15.6" fill="#777">[0-0.65]</text>
<text x="1655" y="1342.4" text-anchor="end">G2</text>
<text x="1664.5" y="1371.2" font-size="15.6" fill="#777">[0-0.65]</text>
<text x="1655" y="1390.4" text-anchor="end">G1</text>
<text x="1664.5" y="1413.5" font-size="15.6" fill="#777">[0-0.65]</text>
<text x="1655" y="1432.4" text-anchor="end">S</text>
<text x="1664.5" y="1456.7" font-size="15.6" fill="#777">[0-0.65]</text>
<text x="1655" y="1473.4" text-anchor="end">G2</text>
<text x="1664.5" y="1500" font-size="15.6" fill="#777">[0-0.65]</text>
<text x="1655" y="1515.3" text-anchor="end">G1</text>
<text x="1664.5" y="1543.2" font-size="15.6" fill="#777">[0-0.65]</text>
<text x="1655" y="1556.3" text-anchor="end">S</text>
<text x="1664.5" y="1585.9" font-size="15.6" fill="#777">[0-0.65]</text>
<text x="1655" y="1599" text-anchor="end">G2</text>
<line x1="1690.2" y1="1264.3" x2="1984" y2="1264.3" stroke="#e04545" stroke-width="1.6"/>
<path d="M1713.4 1264.3L1713.4 1263.3h2L1715.4 1262.3h2L1717.4 1262.2h2L1719.4 1263.1h2L1721.4 1264.3ZM1735.1 1264.3L1735.1 1263.3h2L1737.1 1262.4h2L1739.1 1261.9h2L1741.1 1262.3h2L1743.1 1262.1h2L1745.1 1261.7h2L1747.1 1262h2L1749.1 1262.2h2L1751.1 1261.7h2L1753.1 1261.9h2L1755.1 1259.9h2L1757.1 1263.2h2L1759.1 1264.3ZM1798.4 1264.3L1798.4 1263.3h2L1800.4 1262.5h2L1802.4 1261.8h2L1804.4 1259.2h2L1806.4 1262.3h2L1808.4 1264.3ZM1933.7 1264.3L1933.7 1263.3h2L1935.7 1263h2L1937.7 1262.6h2L1939.7 1262.1h2L1941.7 1262.2h2L1943.7 1262.3h2L1945.7 1262h2L1947.7 1259.4h2L1949.7 1261.8h2L1951.7 1261.7h2L1953.7 1258.7h2L1955.7 1261.8h2L1957.7 1262.4h2L1959.7 1263.1h2L1961.7 1264.3Z" fill="#f00000"/>
<line x1="1690.2" y1="1307.6" x2="1984" y2="1307.6" stroke="#3aa03a" stroke-width="1.6"/>
<path d="M1722.3 1307.6L1722.3 1306.6h2L1724.3 1304.9h2L1726.3 1306.2h2L1728.3 1306.3h2L1730.3 1304.9h2L1732.3 1306.5h2L1734.3 1307.6ZM1947.7 1307.6L1947.7 1306.3h2L1949.7 1305.5h2L1951.7 1307.6ZM1960.5 1307.6L1960.5 1306h2L1962.5 1305.5h2L1964.5 1307.6Z" fill="#139613"/>
<line x1="1690.2" y1="1351.4" x2="1984" y2="1351.4" stroke="#4a8ae0" stroke-width="1.6"/>
<path d="M1737.9 1351.4L1737.9 1350.4h2L1739.9 1348.7h2L1741.9 1349.2h2L1743.9 1351.4ZM1802.1 1351.4L1802.1 1350.1h2L1804.1 1349.6h2L1806.1 1351.4ZM1885.2 1351.4L1885.2 1350.2h2L1887.2 1349.6h2L1889.2 1351.4Z" fill="#0c63f2"/>
<line x1="1690.2" y1="1394.6" x2="1984" y2="1394.6" stroke="#e04545" stroke-width="1.6"/>
<path d="M1711.1 1394.6L1711.1 1392.9h2L1713.1 1391.3h2L1715.1 1391.1h2L1717.1 1389.9h2L1719.1 1389.2h2L1721.1 1389.2h2L1723.1 1388.4h2L1725.1 1387.6h2L1727.1 1388.3h2L1729.1 1387h2L1731.1 1387.4h2L1733.1 1388h2L1735.1 1385.8h2L1737.1 1386.3h2L1739.1 1376h2L1741.1 1379.2h2L1743.1 1381h2L1745.1 1387.3h2L1747.1 1388.3h2L1749.1 1389h2L1751.1 1389.5h2L1753.1 1389.3h2L1755.1 1389.7h2L1757.1 1394.6ZM1799.3 1394.6L1799.3 1393.6h2L1801.3 1387h2L1803.3 1386.1h2L1805.3 1392.5h2L1807.3 1394.6ZM1859.8 1394.6L1859.8 1393.6h2L1861.8 1393.8h2L1863.8 1394.6ZM1929.5 1394.6L1929.5 1392.9h2L1931.5 1390.5h2L1933.5 1391h2L1935.5 1391.3h2L1937.5 1391.4h2L1939.5 1391.2h2L1941.5 1390.3h2L1943.5 1390.5h2L1945.5 1390.7h2L1947.5 1389.8h2L1949.5 1387.1h2L1951.5 1389.8h2L1953.5 1391h2L1955.5 1392h2L1957.5 1392.7h2L1959.5 1393.4h2L1961.5 1394.6Z" fill="#f00000"/>
<line x1="1690.2" y1="1438" x2="1984" y2="1438" stroke="#3aa03a" stroke-width="1.6"/>
<path d="M1712 1438L1712 1437.1h2L1714 1436.7h2L1716 1435.9h2L1718 1435.6h2L1720 1434.9h2L1722 1434h2L1724 1432.9h2L1726 1432.1h2L1728 1432.8h2L1730 1431.2h2L1732 1426.7h2L1734 1428.3h2L1736 1431.2h2L1738 1432.4h2L1740 1429.4h2L1742 1433.1h2L1744 1433.7h2L1746 1435.1h2L1748 1435.8h2L1750 1436.3h2L1752 1436.4h2L1754 1437h2L1756 1438ZM1799.3 1438L1799.3 1436.7h2L1801.3 1437h2L1803.3 1437h2L1805.3 1436.8h2L1807.3 1438ZM1917 1438L1917 1437h2L1919 1436.9h2L1921 1436.6h2L1923 1436.6h2L1925 1436.4h2L1927 1435.8h2L1929 1435.8h2L1931 1435.7h2L1933 1434.4h2L1935 1434.6h2L1937 1435.6h2L1939 1436.1h2L1941 1436.1h2L1943 1436.2h2L1945 1436.1h2L1947 1435.5h2L1949 1435.5h2L1951 1435.1h2L1953 1432.5h2L1955 1436h2L1957 1436.4h2L1959 1438Z" fill="#139613"/>
<line x1="1690.2" y1="1481.8" x2="1984" y2="1481.8" stroke="#4a8ae0" stroke-width="1.6"/>
<path d="M1718.9 1481.8L1718.9 1481h2L1720.9 1480h2L1722.9 1478.4h2L1724.9 1476.7h2L1726.9 1477.2h2L1728.9 1478.6h2L1730.9 1477.9h2L1732.9 1478.6h2L1734.9 1478.8h2L1736.9 1478h2L1738.9 1478.6h2L1740.9 1478.4h2L1742.9 1478.2h2L1744.9 1478.4h2L1746.9 1478.5h2L1748.9 1478h2L1750.9 1476.3h2L1752.9 1478.1h2L1754.9 1476.6h2L1756.9 1479.9h2L1758.9 1481.8ZM1799.3 1481.8L1799.3 1478.8h2L1801.3 1477.2h2L1803.3 1478.9h2L1805.3 1480.2h2L1807.3 1480.5h2L1809.3 1480.7h2L1811.3 1481.8ZM1862.6 1481.8L1862.6 1480.7h2L1864.6 1480h2L1866.6 1481.8ZM1935.1 1481.8L1935.1 1480.8h2L1937.1 1480.5h2L1939.1 1480.1h2L1941.1 1480.3h2L1943.1 1479.6h2L1945.1 1479.2h2L1947.1 1476.3h2L1949.1 1479.4h2L1951.1 1479.1h2L1953.1 1479.6h2L1955.1 1479.6h2L1957.1 1480h2L1959.1 1479.9h2L1961.1 1480.6h2L1963.1 1480.5h2L1965.1 1481.8Z" fill="#0c63f2"/>
<line x1="1690.2" y1="1525" x2="1984" y2="1525" stroke="#e04545" stroke-width="1.6"/>
<path d="M1710.6 1525L1710.6 1519h2L1712.6 1516.5h2L1714.6 1511.1h2L1716.6 1509.4h2L1718.6 1510.6h2L1720.6 1514.7h2L1722.6 1514.1h2L1724.6 1515.1h2L1726.6 1514.1h2L1728.6 1514.1h2L1730.6 1508.1h2L1732.6 1508.5h2L1734.6 1507.3h2L1736.6 1495.3h2L1738.6 1506.8h2L1740.6 1509.4h2L1742.6 1512.6h2L1744.6 1511.9h2L1746.6 1513.4h2L1748.6 1512.3h2L1750.6 1509.1h2L1752.6 1508.4h2L1754.6 1511.5h2L1756.6 1518.2h2L1758.6 1525ZM1798.7 1525L1798.7 1522.4h2L1800.7 1503.1h2L1802.7 1497.6h2L1804.7 1513.2h2L1806.7 1525ZM1858.4 1525L1858.4 1523.9h2L1860.4 1523.1h2L1862.4 1522.8h2L1864.4 1523.4h2L1866.4 1525ZM1890.5 1525L1890.5 1523.2h2L1892.5 1523.3h2L1894.5 1523.4h2L1896.5 1523.2h2L1898.5 1523.2h2L1900.5 1523.3h2L1902.5 1522.9h2L1904.5 1523h2L1906.5 1523.4h2L1908.5 1523.2h2L1910.5 1525ZM1919.2 1525L1919.2 1522.9h2L1921.2 1520.8h2L1923.2 1525ZM1928.1 1525L1928.1 1520.9h2L1930.1 1516h2L1932.1 1513.2h2L1934.1 1516.4h2L1936.1 1516.1h2L1938.1 1515.4h2L1940.1 1513.7h2L1942.1 1512.6h2L1944.1 1511.3h2L1946.1 1508h2L1948.1 1501h2L1950.1 1502.7h2L1952.1 1507h2L1954.1 1511.1h2L1956.1 1515.2h2L1958.1 1518h2L1960.1 1519.9h2L1962.1 1521.8h2L1964.1 1522.3h2L1966.1 1525Z" fill="#f00000"/>
<line x1="1690.2" y1="1568.8" x2="1984" y2="1568.8" stroke="#3aa03a" stroke-width="1.6"/>
<path d="M1710.6 1568.8L1710.6 1565.1h2L1712.6 1562h2L1714.6 1561.6h2L1716.6 1558.4h2L1718.6 1558.8h2L1720.6 1559.7h2L1722.6 1556.6h2L1724.6 1555.9h2L1726.6 1557.4h2L1728.6 1554.6h2L1730.6 1555h2L1732.6 1557.1h2L1734.6 1550.5h2L1736.6 1547.1h2L1738.6 1550.8h2L1740.6 1548.7h2L1742.6 1556.4h2L1744.6 1554.4h2L1746.6 1549.7h2L1748.6 1559h2L1750.6 1556.8h2L1752.6 1556.8h2L1754.6 1559.1h2L1756.6 1564.1h2L1758.6 1568.8ZM1771.9 1568.8L1771.9 1567.8h2L1773.9 1567.3h2L1775.9 1566.5h2L1777.9 1567.3h2L1779.9 1568.8ZM1800.4 1568.8L1800.4 1565.8h2L1802.4 1555h2L1804.4 1558h2L1806.4 1568.8ZM1859.8 1568.8L1859.8 1567.8h2L1861.8 1564.8h2L1863.8 1567h2L1865.8 1568.8ZM1891.3 1568.8L1891.3 1567.9h2L1893.3 1567h2L1895.3 1567h2L1897.3 1567.4h2L1899.3 1568.8ZM1928.1 1568.8L1928.1 1566h2L1930.1 1564.8h2L1932.1 1563.5h2L1934.1 1560.8h2L1936.1 1560.6h2L1938.1 1550.9h2L1940.1 1557.7h2L1942.1 1559.9h2L1944.1 1559.6h2L1946.1 1557.4h2L1948.1 1558.3h2L1950.1 1557.3h2L1952.1 1560.9h2L1954.1 1562.4h2L1956.1 1563.4h2L1958.1 1564.8h2L1960.1 1565.8h2L1962.1 1566.5h2L1964.1 1566.7h2L1966.1 1568.8Z" fill="#139613"/>
<path d="M1710.6 1611L1710.6 1608.2h2L1712.6 1606.9h2L1714.6 1603.7h2L1716.6 1601.4h2L1718.6 1600h2L1720.6 1599.4h2L1722.6 1599h2L1724.6 1600.8h2L1726.6 1597.7h2L1728.6 1591.4h2L1730.6 1598.4h2L1732.6 1583.7h2L1734.6 1594.2h2L1736.6 1598.5h2L1738.6 1598.2h2L1740.6 1596.5h2L1742.6 1600h2L1744.6 1602.1h2L1746.6 1601.8h2L1748.6 1602.8h2L1750.6 1603.5h2L1752.6 1603.4h2L1754.6 1598.7h2L1756.6 1604.6h2L1758.6 1611ZM1778.9 1611L1778.9 1608.9h2L1780.9 1608.9h2L1782.9 1609h2L1784.9 1608.3h2L1786.9 1608.6h2L1788.9 1611ZM1790.1 1611L1790.1 1610h2L1792.1 1610.2h2L1794.1 1610.1h2L1796.1 1611ZM1799.3 1611L1799.3 1608.9h2L1801.3 1597.2h2L1803.3 1592.4h2L1805.3 1605.5h2L1807.3 1611ZM1837.5 1611L1837.5 1610.2h2L1839.5 1608.5h2L1841.5 1609.8h2L1843.5 1611ZM1847.3 1611L1847.3 1610.1h2L1849.3 1610.2h2L1851.3 1611ZM1880.7 1611L1880.7 1610.1h2L1882.7 1609.9h2L1884.7 1610.2h2L1886.7 1610h2L1888.7 1610.1h2L1890.7 1609.9h2L1892.7 1611ZM1901.6 1611L1901.6 1610h2L1903.6 1610.1h2L1905.6 1610.1h2L1907.6 1611ZM1923.4 1611L1923.4 1610.1h2L1925.4 1611ZM1928.1 1611L1928.1 1607.9h2L1930.1 1606.2h2L1932.1 1605.2h2L1934.1 1604.9h2L1936.1 1603.9h2L1938.1 1601.6h2L1940.1 1600.2h2L1942.1 1602.4h2L1944.1 1601h2L1946.1 1600.4h2L1948.1 1599.2h2L1950.1 1598.5h2L1952.1 1589.8h2L1954.1 1601.9h2L1956.1 1596.6h2L1958.1 1604.2h2L1960.1 1606.5h2L1962.1 1607.3h2L1964.1 1608.3h2L1966.1 1611Z" fill="#0c63f2"/>
<line x1="1755.2" y1="1625.5" x2="1930.1" y2="1625.5" stroke="#0a0aa8" stroke-width="1.5"/>
<rect x="1708.6" y="1621.6" width="37.4" height="7.5" fill="#0a0aa8"/>
<rect x="1746" y="1617.7" width="9.2" height="14.7" fill="#0a0aa8"/>
<rect x="1799" y="1617.7" width="6.4" height="14.7" fill="#0a0aa8"/>
<rect x="1930.1" y="1617.7" width="20.4" height="14.7" fill="#0a0aa8"/>
<rect x="1950.5" y="1621.6" width="11.2" height="7.5" fill="#0a0aa8"/>
<path d="M1775.3 1623.3L1773.3 1625.5L1775.3 1627.7" fill="none" stroke="#0a0aa8" stroke-width="1"/>
<path d="M1825.5 1623.3L1823.5 1625.5L1825.5 1627.7" fill="none" stroke="#0a0aa8" stroke-width="1"/>
<path d="M1857.6 1623.3L1855.6 1625.5L1857.6 1627.7" fill="none" stroke="#0a0aa8" stroke-width="1"/>
<path d="M1889.7 1623.3L1887.7 1625.5L1889.7 1627.7" fill="none" stroke="#0a0aa8" stroke-width="1"/>
<path d="M1921.8 1623.3L1919.8 1625.5L1921.8 1627.7" fill="none" stroke="#0a0aa8" stroke-width="1"/>
<text x="1837.5" y="1666" font-size="27.5" text-anchor="middle" font-style="italic">Cdx2</text>
<line x1="1604.6" y1="1237.3" x2="1604.6" y2="1341" stroke="#000" stroke-width="2.6"/>
<line x1="1604.6" y1="1356.4" x2="1604.6" y2="1474.8" stroke="#000" stroke-width="2.6"/>
<line x1="1604.6" y1="1490.2" x2="1604.6" y2="1608.7" stroke="#000" stroke-width="2.6"/>
<line x1="1517.5" y1="1356.4" x2="1517.5" y2="1608.7" stroke="#000" stroke-width="2.6"/>
<text x="1587" y="1299.8" text-anchor="end">0h</text>
<text x="1500" y="1488.8" text-anchor="end">6h</text>
<text x="1555" y="1428" text-anchor="middle">UNT</text>
<text x="1555" y="1551.5" text-anchor="middle">IAA</text>
</svg></body></html>
